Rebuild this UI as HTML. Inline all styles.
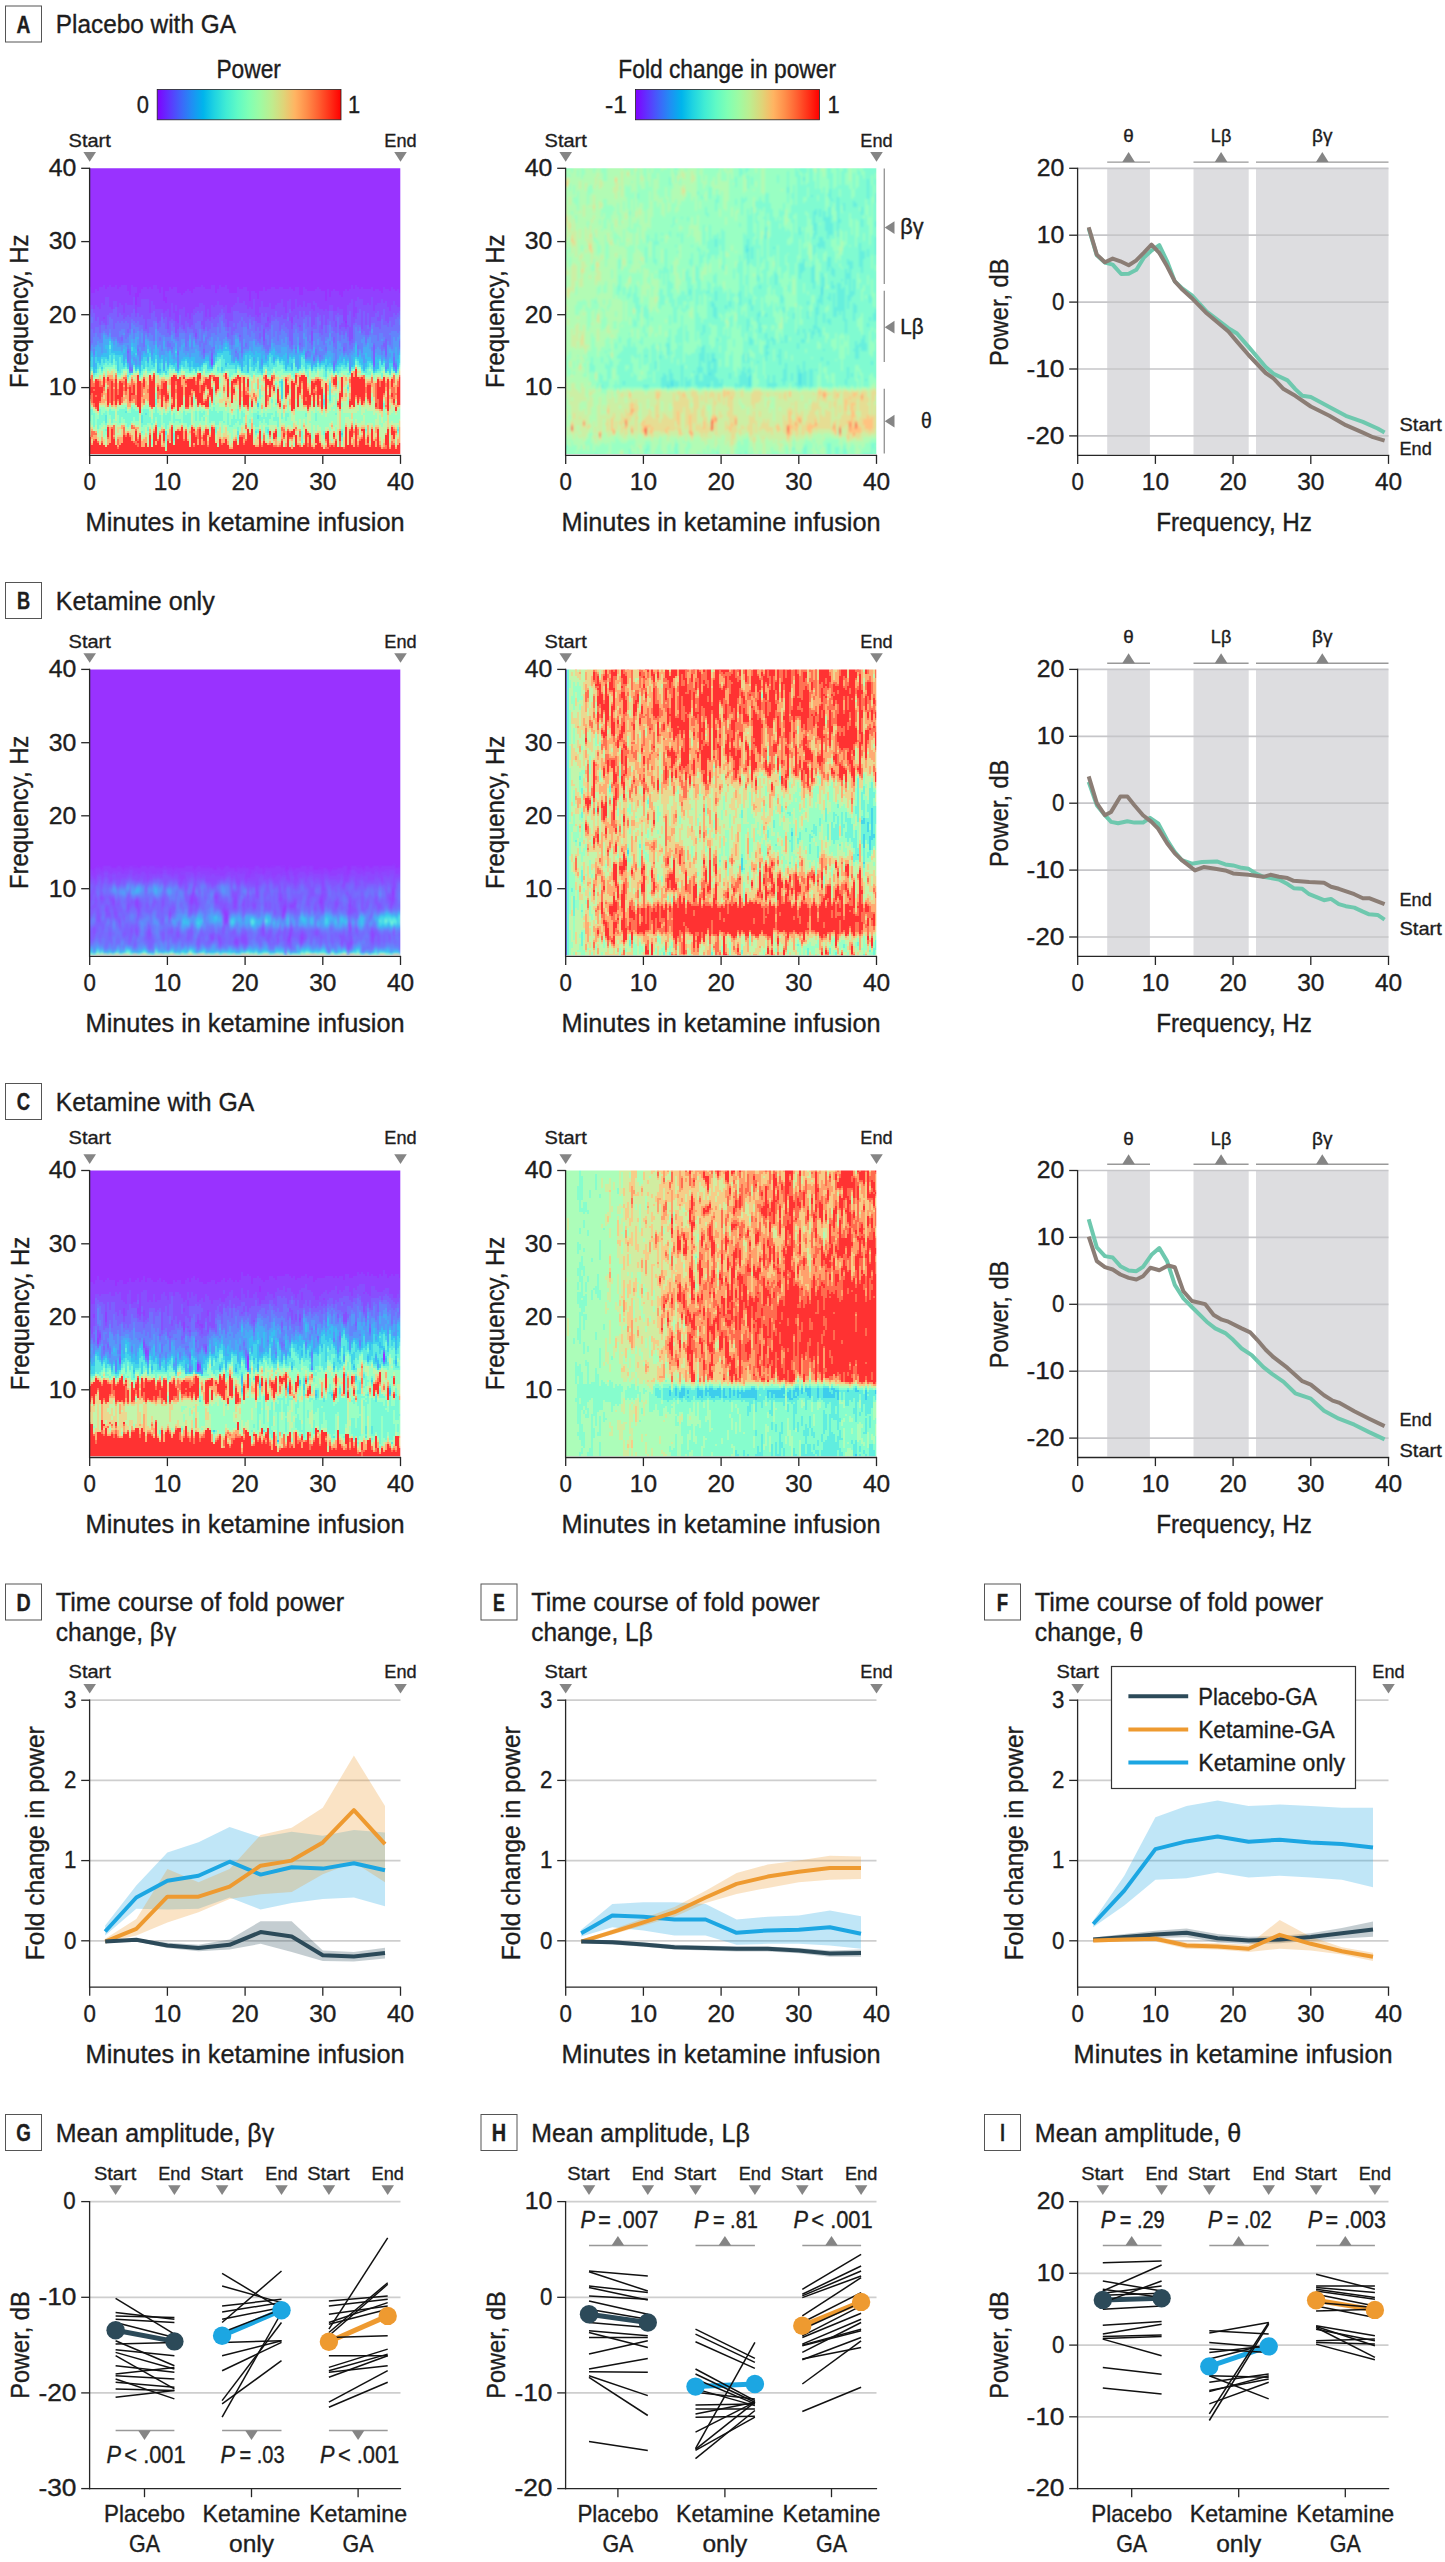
<!DOCTYPE html>
<html><head><meta charset="utf-8"><title>Figure</title>
<style>html,body{margin:0;padding:0;background:#fff}svg{display:block}text{font-family:"Liberation Sans",sans-serif;fill:#1d1d1d;stroke:#1d1d1d;stroke-width:.35px}</style></head>
<body>
<svg width="1445" height="2562" viewBox="0 0 1445 2562">
<defs><linearGradient id="rb" x1="0" x2="1" y1="0" y2="0"><stop offset="0.0000" stop-color="#8000ff"/><stop offset="0.0625" stop-color="#6032fe"/><stop offset="0.1250" stop-color="#4062fa"/><stop offset="0.1875" stop-color="#208ef4"/><stop offset="0.2500" stop-color="#00b4ec"/><stop offset="0.3125" stop-color="#20d4e1"/><stop offset="0.3750" stop-color="#40ecd4"/><stop offset="0.4375" stop-color="#60fac5"/><stop offset="0.5000" stop-color="#80ffb4"/><stop offset="0.5625" stop-color="#9ffaa2"/><stop offset="0.6250" stop-color="#bfec8e"/><stop offset="0.6875" stop-color="#dfd478"/><stop offset="0.7500" stop-color="#ffb462"/><stop offset="0.8125" stop-color="#ff8e4a"/><stop offset="0.8750" stop-color="#ff6232"/><stop offset="0.9375" stop-color="#ff3219"/><stop offset="1.0000" stop-color="#ff0000"/></linearGradient><filter id="hb" x="-2%" y="-2%" width="104%" height="104%"><feGaussianBlur stdDeviation="0.36"/></filter><filter id="hb2" x="-2%" y="-2%" width="104%" height="104%"><feGaussianBlur stdDeviation="0.6"/></filter></defs>
<rect x="157.2" y="89.5" width="183.8" height="30.3" fill="url(#rb)" stroke="#222" stroke-width="0.8"/>
<text x="248.7" y="78.2" font-size="25" text-anchor="middle" textLength="64.5" lengthAdjust="spacingAndGlyphs">Power</text>
<text x="142.8" y="113.4" font-size="24.5" text-anchor="middle" textLength="12.2" lengthAdjust="spacingAndGlyphs">0</text>
<text x="354" y="113.4" font-size="24.5" text-anchor="middle" textLength="12.2" lengthAdjust="spacingAndGlyphs">1</text>
<rect x="635.6" y="89.5" width="183.8" height="30.3" fill="url(#rb)" stroke="#222" stroke-width="0.8"/>
<text x="727.2" y="78.2" font-size="25" text-anchor="middle" textLength="217.7" lengthAdjust="spacingAndGlyphs">Fold change in power</text>
<text x="616" y="113.4" font-size="24.5" text-anchor="middle" textLength="22" lengthAdjust="spacingAndGlyphs">-1</text>
<text x="833.6" y="113.4" font-size="24.5" text-anchor="middle" textLength="12.2" lengthAdjust="spacingAndGlyphs">1</text>
<rect x="5.5" y="6" width="36" height="36" fill="#fff" stroke="#555" stroke-width="1"/>
<text x="23.5" y="32.5" font-size="23" text-anchor="middle" textLength="13.9" lengthAdjust="spacingAndGlyphs" font-weight="bold" stroke="none">A</text>
<text x="55.8" y="33" font-size="25.5" textLength="180.1" lengthAdjust="spacingAndGlyphs">Placebo with GA</text>
<rect x="5.5" y="582.5" width="36" height="36" fill="#fff" stroke="#555" stroke-width="1"/>
<text x="23.5" y="609" font-size="23" text-anchor="middle" textLength="13.2" lengthAdjust="spacingAndGlyphs" font-weight="bold" stroke="none">B</text>
<text x="55.8" y="609.5" font-size="25.5" textLength="158.9" lengthAdjust="spacingAndGlyphs">Ketamine only</text>
<rect x="5.5" y="1083.5" width="36" height="36" fill="#fff" stroke="#555" stroke-width="1"/>
<text x="23.5" y="1110" font-size="23" text-anchor="middle" textLength="13.4" lengthAdjust="spacingAndGlyphs" font-weight="bold" stroke="none">C</text>
<text x="55.8" y="1110.5" font-size="25.5" textLength="198.4" lengthAdjust="spacingAndGlyphs">Ketamine with GA</text>
<clipPath id="c00"><rect x="89.7" y="168.3" width="310.6" height="285.8"/></clipPath>
<g clip-path="url(#c00)"><g transform="translate(89 167.3) scale(2)" fill="none" stroke-width="1.04" shape-rendering="crispEdges" filter="url(#hb)">
<rect x="-2" y="-2" width="160" height="148" stroke="none" fill="#9933ff"/>
<path stroke="#9140ff" d="M0.5 60v9m1-6v6m1-6v8m1-10v8m1-7v8m1-10v11m1-11v8m1-9v10m0 6v1m1-15v4m1-5v5m1-6v11m1-10v11m1-11v7m1-8v8m1-6v9m1-10v8m1-9v10m1-10v14m1-14v9m1-6v7m1-5v5m1-10v10m1-9v5m1-5v3m0 6v4m1-8v5m1-7v7m1-9v5m1-6v6m1-6v6m1-5v5m1-6v13m1-12v6m1-8v10m1-10v12m1-10v10m1-8v8m1-11v11m1-4v6m1-11v3m0 3v4m1-10v9m1-11v15m1-14v7m1-8v13m1-13v9m0 3v5m1-14v15m1-15v8m1-7v7m1-8v7m1-8v13m1-14v12m1-11v14m1-13v10m1-12v10m1-11v10m1-10v10m1-10v8m1-9v9m1-8v9m1-8v14m1-14v10m1-10v14m1-16v10m1-10v11m1-7v6m1-8v6m1-8v10m1-9v9m1-9v10m1-11v10m1-8v12m1-10v10m1-10v7m1-7v6m1-6v5m1-8v5m1-4v7m1-7v7m1-8v7m1-7v9m1-7v9m1-4v3m1-8v9m1-9v4m1-3v11m1-8v9m1-13v8m0 3v1m1-12v5m1-7v10m1-8v8m1-9v9m0 5v2m1-16v7m1-8v11m1-11v11m1-10v8m1-8v7m1-8v8m1-8v6m1-5v9m1-9v12m1-12v6m1-7v6m1-5v11m0 3v3m1-16v9m1-11v6m1-6v10m1-6v5m1-5v6m1-10v7m1-6v9m1-8v6m1-6v6m1-6v9m1-9v5m0 2v3m1-11v7m1-8v10m1-9v10m1-9v9m1-9v10m1-5v4m1-10v11m1-7v4m1-7v7m1-8v11m1-10v10m1-10v8m1-6v7m1-6v6m1-9v15m1-16v16m0 1v2m1-18v7m1-8v7m1-9v7m1-5v14m1-16v8m0 3v3m1-13v5m1-4v5m1-6v6m1-5v8m1-8v8m1-8v7m1-7v8m1-9v5m1-3v10m1-11v8m1-8v7m1-6v6m1-5v3m1-6v8m1-7v6m1-6v9m1-8v10m1-12v9m1-8v6m1-5v7m1-8v9m1-7v7"/>
<path stroke="#8750fe" d="M0.5 69v4m1-4v2m1 0v2m1-4v8m1-7v5m1-4v8m1-11v9m1-8v6m0 1v2m1-13v14m1-14v9m1-4v3m1-2v2m1-6v4m1-4v3m1 0v5m1-7v5m1-4v5m1-1v3m1-8v7m1-6v5m1-5v6m1-6v4m1-8v6m1 2v2m1-5v3m1-3v5m1-9v8m1-8v10m1-10v15m1-15v10m1-3v3m1-9v6m1-4v3m1-1v4m1-4v7m1-7v6m1-6v2m1 0v3m1-4v3m1-4v10m1-6v2m1-9v8m1-3v4m1-8v3m0 5v6m1-5v3m1-10v3m1-3v8m1-9v11m1-6v2m1-4v5m1-2v4m1-7v6m1-8v3m1-4v3m0 10v2m1-15v2m1-4v5m1-5v4m0 5v2m1-10v12m1-6v2m1-6v5m1-1v2m1-8v6m0 21v3m1-29v6m1-7v6m1-8v7m1-5v4m1-4v2m1-1v3m1-4v7m1-3v7m1-7v4m1-7v7m1-8v3m1-4v4m1-7v7m1-4v5m1-5v5m1-6v6m1-4v4m1-2v4m1-5v4m1-3v4m1-9v9m1-1v3m1-2v3m1-8v3m0 1v4m1-11v6m1-3v5m0 6v6m1-17v3m0 5v2m1-10v5m0 2v3m1-12v10m1-7v3m1-3v4m1-6v3m1-4v7m1-7v7m1-9v8m1-4v6m1-3v3m1-9v6m1-7v5m0 2v4m1-5v3m0 3v3m1-10v4m1-9v8m1-4v6m1-7v3m0 7v1m1-10v5m1-8v5m1-2v4m1-6v6m1-6v4m1-1v9m0 2v5m1-20v2m0 3v7m1-11v7m1-5v3m1-2v3m1-3v10m1-9v2m1-3v8m1-7v4m1-7v3m1-3v3m1 0v5m1-5v2m0 3v3m1-10v3m1-2v3m0 5v2m1-10v3m0 4v2m1-3v3m1 0v1m1-12v5m0 5v1m1-12v4m0 8v7m1-21v20m1-11v3m1-11v3m0 3v3m1-11v8m1-7v5m1-5v15m1-12v3m1-3v10m1-11v5m1-4v11m1-15v10m1-3v3m1-6v4m1-5v4m0 3v2m1-9v9m1-11v8m1-6v3m1-4v10m1-7v8m1-6v3m1-6v6m1-8v6m1-4v5m1-4v3m1-3v2"/>
<path stroke="#7c60fe" d="M0.5 73v1m0 13v3m1-19v4m0 3v3m1-8v10m1-6v3m1-5v5m1-1v4m1-6v2m1-1v1m1 0v2m1-7v5m1-6v2m1-2v3m1-5v10m1-11v8m1-3v2m1-4v5m1-4v3m0 8v2m1-11v2m1-3v2m1-3v4m0 3v2m0 9v1m1-18v6m1-8v3m1-5v6m1-2v3m1-5v4m1-2v4m1-5v5m1-3v6m1-1v1m1-6v7m1-7v4m1-7v7m1-8v5m1-2v2m1 1v3m1-4v3m1-7v2m1 1v2m1-3v6m1 0v2m1-6v7m1-8v2m1-1v3m1 3v2m1-4v4m1-11v6m1-1v2m1 0v1m1-5v6m1-5v2m1 0v1m1-2v2m1-7v9m1-10v5m0 3v2m0 2v1m1-14v5m1-4v4m1-5v5m0 2v2m1 0v1m0 9v2m1-16v3m1-4v6m1-5v4m1-6v3m0 15v3m1-20v4m1-5v5m1-6v4m1-5v2m1-4v3m1-1v5m1-2v4m1 0v2m0 1v2m1-8v3m1-3v7m1-12v6m0 2v2m1-10v9m1-9v6m1-5v4m0 7v1m1-12v2m0 2v3m1-7v4m1-4v5m1-3v6m1-7v2m1-1v4m1-4v2m1 0v5m1-4v2m1-2v4m0 1v3m1-13v6m1-4v6m0 6v2m1-16v5m0 2v1m1-1v2m1-4v3m1-7v3m1-2v2m1-5v4m1-1v2m1-2v7m1-8v5m1-3v2m1-2v4m1-7v2m0 2v4m1-10v2m0 4v10m1-6v8m1-14v4m1-5v4m1-2v4m1-8v7m0 1v2m0 6v1m1-14v7m1-10v4m1-2v1m1-1v6m1-8v3m1 5v2m0 5v2m1-10v2m1-6v6m1-8v2m1-1v3m0 2v4m1-2v3m1-10v5m1 0v4m1-7v3m1-7v5m1-5v8m1-3v5m0 3v3m1-14v3m0 3v3m1-10v2m1-1v5m0 2v3m1-10v4m0 2v2m1-2v4m0 6v2m1-11v1m1-8v5m0 1v5m1-13v8m0 7v2m1-3v2m1-10v1m1-3v2m1-5v6m1-8v8m1 2v2m1-11v10m1-3v5m1-11v6m0 2v3m1-4v2m1-7v3m1-3v3m0 11v10m1-26v7m1-8v3m0 2v3m1-3v4m1-7v2m1-5v8m0 9v2m1-13v2m0 7v8m1-16v2m1-5v2m1-2v5m1-7v6m0 19v1m1-25v2m1-3v2m1-3v2"/>
<path stroke="#7072fc" d="M0.5 74v13m0 3v1m1-16v3m0 3v7m1-5v2m1-5v3m1-3v5m1-2v3m1-7v4m1-4v3m1-1v2m1-4v5m1-9v6m1-5v9m1-4v4m1-7v7m1-8v10m1-9v4m0 3v3m1-11v4m0 3v1m0 2v1m1-10v3m1-4v9m1-8v3m0 2v2m0 6v1m0 1v4m1-16v2m0 17v2m1-26v2m0 23v1m1-25v2m0 2v2m1-5v2m1-3v3m0 11v1m1-13v3m1-3v2m1 1v8m1-8v1m1 0v2m1-5v3m1-3v4m1-7v10m1-10v1m1 3v1m1-2v3m0 2v2m1-12v9m1-6v6m1-3v4m1-2v2m0 2v3m1-6v1m0 3v2m1-12v4m0 8v1m1-11v3m1 2v1m1-1v2m0 5v2m1-14v3m1-2v2m1-1v1m1 0v7m1-10v7m1-6v2m1-2v2m1 0v2m1-7v3m0 5v2m1-11v9m1-9v4m0 6v3m1-9v7m1-6v1m0 5v3m0 2v2m1-15v2m0 3v4m1-7v4m1-5v4m1-7v5m0 8v2m1-13v3m0 7v1m1-11v4m1-6v2m1-5v8m1-9v3m1 1v2m1 0v2m1 0v1m0 2v1m1-6v6m1-2v5m1-11v2m0 2v2m1-3v2m0 9v1m1-15v5m1-6v7m0 1v2m1-12v2m0 3v13m1-16v3m1-2v2m0 8v2m1-9v3m1-8v2m0 3v4m1-6v3m1-5v6m1-1v4m1-6v7m1-5v1m0 3v2m1-9v6m1 4v1m1-9v2m0 3v5m1-9v2m0 5v3m1-11v9m1-13v2m1-2v8m1-9v6m1-5v10m1-5v2m1-5v2m1-3v4m1-2v3m1-8v2m0 4v4m1 2v3m1-1v2m1-12v4m1-5v3m0 9v1m1-11v3m1-1v6m0 1v2m1-9v8m1-14v2m1-3v6m0 12v2m1-15v7m0 5v1m1-18v9m0 3v1m1 1v2m1-10v2m0 12v2m1-16v2m0 8v3m1-19v8m1-6v2m0 4v2m0 9v1m1-11v3m1-8v10m1-6v2m0 5v2m1-13v6m1-8v2m1 1v2m0 1v2m1-3v3m0 3v2m0 8v2m1-17v8m1-16v8m1 1v3m1-5v2m1 0v2m0 2v2m0 2v1m1-11v1m0 5v4m1-7v2m1 2v2m1-3v3m1-12v9m1-10v2m1-1v3m0 7v2m1-12v1m1 3v1m1-2v2m1 0v4m1-9v2m0 3v1m1-3v2m1-6v1m1-1v6m0 4v1m0 10v1m1-20v4m1-4v7m1-6v2m1-7v7m0 6v3m1-13v6m0 2v1m0 2v1m1-12v7m0 8v1m1-15v7m1-10v6m0 1v5m1-9v2m1-3v3m0 13v3m0 1v1m1-24v6m0 17v2m1-26v8m1-9v2m0 3v3m0 5v3"/>
<path stroke="#6484fb" d="M0.5 91v1m1-4v1m1-4v5m0 1v3m1-11v6m1-4v2m1-1v2m1-5v5m1-6v1m1 0v1m1 0v1m1-4v2m1 2v1m1-1v2m1-2v1m1 1v1m1-6v3m0 3v1m1-8v3m0 4v1m1-8v2m0 1v4m1-2v2m1-3v3m0 1v2m0 6v1m1-15v1m0 7v9m1-22v3m0 19v1m1-22v2m0 2v3m1-6v3m1-3v2m0 7v2m0 1v2m1-12v8m0 2v5m1-16v2m0 5v4m1-2v2m1-9v1m1 1v1m1-3v4m1-3v3m1 0v2m1-11v3m1 1v8m1-7v2m0 2v2m1-5v8m1-8v1m1 0v5m1-5v2m0 3v2m1-7v3m0 2v1m1-9v2m0 3v3m0 1v2m1-10v3m0 2v2m1-4v1m1 0v5m0 2v6m1-17v7m1-7v3m1-3v3m1 4v2m1-5v5m1-9v1m1-1v8m1-6v1m1 2v1m1-3v3m1-8v6m0 3v2m1-4v6m1-11v1m0 3v1m0 7v1m1-14v3m0 4v4m1-7v7m1-8v2m0 2v3m1-9v2m0 5v1m0 8v1m1-17v7m0 1v2m1-9v3m1-7v5m1-2v4m1-10v12m1-9v6m1-4v3m1 1v1m1-1v3m1 0v2m1-7v5m1-6v1m0 7v1m0 1v2m1-12v2m0 8v3m1-9v1m1 5v2m1-15v6m0 4v1m1-11v8m0 2v1m1-7v7m1-13v3m0 4v2m1-5v5m1-4v3m1 0v3m1-2v1m1 0v1m1-4v4m1 1v1m1-8v3m0 5v2m1-9v5m0 3v1m1-3v1m1-12v7m1-1v3m1-6v7m1-2v2m1-5v5m1-8v5m1-4v6m1-5v2m1 0v4m1 1v1m1 0v1m1-9v6m1-8v9m0 1v2m1-10v2m1 6v1m1-2v2m1-14v5m0 3v4m1-9v4m0 7v1m0 2v1m1-9v5m0 1v2m1-11v3m0 1v3m0 1v3m1-4v1m1-9v4m0 7v1m1-12v8m0 3v1m1-12v3m0 3v5m1-9v5m0 2v2m0 1v2m1-10v4m0 1v4m1-7v5m1-9v2m0 1v2m0 2v1m1-8v1m1-7v4m0 4v2m1-7v1m0 2v2m1 3v3m0 4v1m0 2v1m1-10v7m1-15v4m1 0v1m0 3v1m1-8v6m1-4v2m0 5v1m1-11v5m0 4v1m1-6v7m1-3v2m0 7v1m1-10v1m1-4v2m1-10v7m1-5v7m0 2v3m1-14v2m0 1v8m1-7v2m0 2v5m1-9v1m1 3v1m1-4v1m1-2v1m1-6v2m0 2v5m0 2v2m1-8v4m1-4v7m1-4v3m1-7v8m1-8v3m0 1v2m0 3v2m1-9v2m0 4v1m1 3v1m0 4v1m1-14v2m1-6v1m0 5v1m1-8v9m1-9v3m0 8v2m1-13v5m0 11v1m0 2v1m1-19v2m1-9v3m0 3v2m0 2v1m0 3v1"/>
<path stroke="#5698f8" d="M1.5 89v3m1-2v1m0 3v1m1-6v1m1-3v2m1-1v2m1-2v5m1-10v1m1 0v2m1-1v1m1-3v2m1 1v1m1 0v2m1-3v1m1 1v2m1-1v1m1-1v3m1-9v1m0 4v1m1-1v2m1-2v1m1-5v7m0 11v1m1-22v5m0 13v1m0 2v1m1-17v2m0 7v2m1-14v2m0 11v3m1-17v3m0 1v3m0 5v1m1-5v2m0 5v2m1-16v5m0 4v2m2-10v2m0 3v4m1-7v1m1 0v3m1-3v7m1-5v2m1-10v6m1 3v1m1-2v6m1-3v2m1-9v2m0 4v3m1-4v2m1 0v1m1-2v1m1-8v3m0 6v1m1-8v2m0 2v6m1-9v1m1 12v1m1-11v2m1-6v3m1-3v2m0 2v3m1-1v2m1-2v1m1-9v2m0 4v5m1-4v2m1-7v1m0 3v3m1-4v2m1-2v3m1 0v3m1-1v2m1-12v3m1 6v1m1-1v1m1-7v2m0 3v5m1-12v5m1 3v1m1-7v2m1-4v6m1-4v2m1 0v2m1-5v2m1-3v2m1 0v1m1 1v2m1 0v3m1-5v8m1-13v2m0 4v1m1-6v1m0 4v3m0 3v1m1-9v2m0 2v1m1 2v1m1-10v4m0 1v2m1-2v1m1-1v1m1-5v3m1-3v5m1-6v1m1 2v1m1-2v2m1-1v1m1-1v3m0 4v3m1-8v1m1 1v3m1-3v1m1-3v1m1-6v2m1 0v2m1-1v3m1-3v4m1-4v4m1-7v4m1-2v2m1-5v5m1-1v7m1-5v2m1-1v1m1-4v2m1 2v1m1-9v4m1 3v1m1-1v1m1-10v3m0 4v1m1-6v7m1 3v1m1-5v1m0 3v1m1-4v2m1-7v3m0 3v1m0 3v1m1-3v2m1-11v3m0 5v1m1-5v2m0 5v1m1-7v1m0 4v1m1-3v2m1-9v1m0 5v1m1-8v6m1-9v4m0 2v3m1-5v6m1 0v4m0 4v1m1-4v1m1-12v9m1-8v3m0 1v2m1-4v3m1 1v1m1-2v1m1 0v1m1-2v7m0 1v1m1-10v2m1-4v3m1-6v1m1 6v1m1-13v1m0 8v1m1-6v2m0 5v2m1-10v5m0 4v4m1-9v1m1-4v2m1-3v6m1-10v2m0 5v2m0 2v4m1 4v1m1-10v2m1-3v4m1-3v3m1-8v1m0 7v3m1-5v3m1 1v1m0 1v2m1-11v11m1-10v1m0 2v2m1-4v1m1-7v8m0 7v1m1-14v3m0 7v1m1-13v9m1-10v2m0 5v1"/>
<path stroke="#47abf5" d="M0.5 92v2m1-2v1m1 2v5m1-10v2m1-3v6m1-5v5m1-2v1m1-10v9m1-7v3m0 2v2m1-7v3m1-4v1m1 1v1m1 1v3m1-5v5m1-2v2m1-2v2m1 0v1m1-4v2m0 2v4m1-7v5m1 3v1m2-13v2m0 6v2m0 2v1m1-11v2m0 3v2m0 2v1m1-13v6m0 4v1m0 3v1m1-15v1m0 9v4m1 0v1m1-6v2m1-4v1m1-7v3m0 4v1m1-7v2m0 6v2m1-7v2m1 2v2m1-5v2m1-6v2m1 2v3m1 1v1m2-9v4m0 3v7m1-9v3m1-2v6m2-5v2m1 0v2m1-10v3m0 4v2m1 4v1m1-10v6m1-9v7m1-8v2m0 3v2m1-1v1m1-2v2m1-9v4m0 5v1m1-3v2m1-8v3m0 3v2m1-4v7m1-6v6m1-3v4m1-3v2m1-2v1m1-3v1m1-1v1m1 2v2m2-5v4m1-9v5m1-3v1m1-3v2m1 0v1m1-4v2m1-3v1m1 0v2m1 1v1m1 2v3m1 0v1m1-12v4m0 5v1m1-10v4m1 0v2m0 1v5m1-2v4m1-7v1m1-2v1m1-1v1m1-3v2m1 0v1m1-6v7m0 1v2m1-7v2m1-2v3m1-3v3m1-1v4m0 3v1m1-8v2m1 2v1m2-5v1m1-5v4m1-2v1m0 4v2m1-5v2m1-1v1m1-1v2m1-5v5m1-5v4m1-4v3m1 3v2m1-5v1m1-1v2m1-4v3m1 0v5m1-10v1m0 3v8m1-8v1m2-3v1m1 4v1m1-1v1m1-1v1m1-3v6m1-10v3m0 5v1m1-2v1m1-3v1m3 0v1m1-3v1m1-3v4m1-4v3m1-2v5m3-2v1m1-3v1m1-2v4m2-3v3m1-2v1m2-2v5m1-6v2m1-7v1m2 3v2m1 1v1m1-6v4m0 4v3m1-11v3m0 3v2m1-10v7m1-4v4m1 1v1m1 4v1m1-9v2m1-1v2m0 2v1m1-5v1m1 2v1m1-3v1m1 1v1m0 3v1m1-2v1m1-10v2m0 2v1m1-4v5m2-7v7m0 5v1m1-9v2m1-4v1"/>
<path stroke="#37bff1" d="M0.5 94v3m1-4v2m1 5v3m1-11v3m0 3v3m1-6v2m1-2v3m1-4v1m1-2v2m1-6v2m0 2v2m1-6v7m1-10v1m1 1v5m1-1v1m1-1v2m1-2v2m1-2v2m1-1v1m1-3v2m0 4v2m1-4v1m1 3v1m2-12v2m0 2v2m0 2v2m1-8v3m0 5v1m1-8v2m0 1v1m0 5v1m1-2v1m1 0v2m1-6v1m1-4v2m1-1v1m1-6v2m0 2v2m0 2v1m1-6v1m1 3v1m1-4v5m1-9v5m1 0v9m1-7v2m0 3v1m1-8v2m1 5v1m1-7v2m1 2v1m1-8v6m1-2v3m1-1v1m1-8v1m0 1v2m0 2v1m2 0v1m1-3v1m1-2v2m1-2v1m1-1v3m1-2v4m1-5v2m1-2v5m1-2v2m1-2v2m1-1v1m1-2v1m1-2v1m1-3v2m1-2v2m1 2v1m1 0v1m1-3v1m1-5v1m1-3v1m1-2v2m1-1v1m1-3v2m1-4v2m0 1v1m0 6v1m1-9v2m1 0v2m1 3v1m2-2v1m1 0v1m1 0v1m1 1v2m1-8v3m1-4v1m1-1v9m1-10v2m1-1v2m1-1v1m0 2v2m1-7v6m1-5v2m1-2v8m1-1v1m1-7v4m1-1v1m1-4v3m2-5v2m1-3v4m0 2v1m1-4v2m1-2v1m1 0v2m1-2v1m1-2v3m1-4v8m1-3v1m1-5v1m1 0v1m0 2v3m1-7v1m1 4v1m1-10v3m1 1v6m1-7v1m1-2v2m1 3v1m1-1v1m1-1v1m1 2v1m2-3v2m1-4v1m1 1v1m1-2v1m1-1v1m1-3v1m0 3v1m1-4v3m1-4v3m1 0v1m2 0v1m1-3v2m1-4v3m1-1v1m1-3v1m1 1v2m1-3v1m2 2v1m1-5v4m1-10v6m1 0v1m1-2v4m1-2v3m1 2v1m1-9v3m0 2v2m1-5v2m1-2v2m1 0v1m2-3v6m1-5v2m0 1v2m1-6v1m1 2v1m1-3v1m3-1v2m1-1v1m1 3v1m2-6v4m1-7v1"/>
<path stroke="#43d4ea" d="M0.5 97v3m1-5v5m2-5v3m0 3v2m1-6v1m1 0v1m1-4v1m0 4v1m1-6v3m1-3v1m1 0v1m1-10v2m0 2v3m1-1v5m1-5v1m1 0v3m1-3v8m1-8v1m1-1v4m1 1v1m1-4v2m1 2v1m2-11v2m2 1v1m0 7v1m1-2v1m1 1v1m1-6v2m1-4v6m1-6v2m1-6v2m0 5v2m1-7v2m1 2v2m1-1v2m1-6v2m2 2v3m0 1v1m1-7v2m2-1v1m0 4v1m1-3v1m1-3v1m2 0v1m1-8v1m0 5v4m1 0v1m1-4v2m1-4v2m1-2v3m1-4v1m1 1v2m1 0v2m1-5v3m1 0v1m1-1v2m2-2v2m1-3v1m2-3v1m1-1v4m1-1v1m3-6v2m1-4v2m1-2v2m1-2v1m0 6v2m1-10v4m1-6v1m0 1v6m0 1v1m1-8v6m1-4v5m1-1v1m1-1v1m1-2v4m1-3v1m1 0v1m2-3v3m1-6v5m1 3v1m1-9v2m1-1v5m1-1v3m1-4v2m1-5v2m0 21v2m1-19v1m1-1v2m1-5v1m1-1v1m1-2v3m1-7v2m1-1v4m1 0v1m1-3v1m1-2v1m1 1v1m1-2v1m0 10v9m1-19v2m1 2v1m1-3v1m1-5v5m1-4v2m0 3v1m1-7v1m2 5v1m1-2v1m1-7v1m1-1v2m1 2v3m1-3v1m1-1v1m1 2v1m1-3v1m2-3v1m1 1v1m1-2v1m1-1v1m1-3v3m0 1v2m1-3v1m1-2v2m1-1v1m1 2v1m1-3v2m1-3v1m1-2v2m1-2v1m0 34v1m1-38v3m1 0v1m1-3v1m1 4v1m2-4v1m1-5v1m1 0v1m1 1v1m1 0v2m2-1v1m1-4v3m1-3v1m1 0v1m1 3v1m1-2v1m2-6v1m2 0v1m1 4v1m1-2v1m1-4v5m1-5v2m3 0v1m1-7v4"/>
<path stroke="#5ce9e1" d="M0.5 100v2m1-2v1m1 2v1m2-6v3m1-2v1m1-4v4m0 1v1m1-4v1m1-3v2m0 26v4m1-31v2m1-10v2m0 3v4m1 0v1m1-5v2m1 1v2m1 3v1m1-8v8m1-5v3m1-1v1m1-3v2m0 22v1m1-19v1m1-2v1m2-5v1m3 3v1m1-5v3m0 22v4m2-31v3m0 23v1m1-24v2m1-7v7m1-3v2m1-1v1m1-5v2m2 5v1m1-6v5m1-1v1m1-5v4m0 1v1m0 28v2m1-33v1m1-3v1m1-1v2m1-1v1m3 0v1m1-3v1m1 0v1m1-4v4m1-1v1m1 1v1m1-3v2m2 0v1m1-3v1m2-1v2m1-4v1m1-1v1m1 2v1m1-1v1m1-1v1m1-3v1m1-3v1m1-3v2m0 3v2m1-7v1m1-2v6m0 2v1m1-7v6m1-2v1m1-3v3m1-2v2m1-2v2m1-2v2m1 0v2m1-4v1m0 32v2m1-34v1m1 1v1m1-3v3m1-4v4m2-7v4m1 0v2m2-2v1m0 31v1m1-36v6m0 21v2m1-24v1m1 0v1m1-5v1m1-1v1m1 0v2m0 29v2m1-38v7m1-4v3m1-2v1m1-3v3m1-4v1m1 1v1m0 8v1m1-11v2m0 7v1m1-8v2m2-1v2m1-2v2m2-6v2m1 2v2m3-7v4m1-3v4m1 1v1m1-3v2m1-2v1m2 0v1m1-1v2m1-4v2m1 0v1m1-2v1m1-1v2m0 15v3m1-17v3m1-5v1m1-1v2m0 6v9m1-17v1m3-1v3m1-3v2m1-3v1m0 32v1m0 1v1m1-36v2m1-1v1m1-3v2m0 10v1m2-11v1m1-1v1m1-5v1m1 0v2m1 0v1m1 1v1m1 0v1m1-2v2m1-3v1m1-3v2m1-1v2m2 1v1m1-2v1m1-5v5m1-3v1m1-2v2m3 3v1m1-4v1m3 0v1m0 29v1m1-34v1"/>
<path stroke="#78f9d4" d="M0.5 102v1m0 18v6m1-26v1m0 19v3m1-20v1m0 18v7m1-27v1m1-3v2m0 23v5m1-31v1m0 20v8m1-27v1m0 21v4m1-29v2m0 22v4m1-29v2m0 22v2m0 4v1m0 2v1m1-33v1m1-2v2m0 21v3m1-25v1m0 22v6m1-32v3m0 23v4m1-27v2m1 2v1m0 18v2m1-21v1m0 17v7m1-27v2m0 18v4m1-4v5m1-26v1m0 19v2m0 1v5m1-27v3m0 1v1m0 17v7m1-7v6m1-26v1m0 16v7m1-27v1m0 20v4m1-23v1m0 19v5m1-26v1m0 20v5m1-23v1m1-3v2m0 19v1m0 4v2m0 2v1m1-32v1m0 19v8m1-29v1m0 20v2m0 1v5m1-27v1m0 18v7m0 2v2m1-30v1m0 22v3m1-27v1m0 26v1m1-28v1m0 21v5m1-30v5m0 13v3m0 1v5m1-22v1m0 19v7m1-6v6m1-27v1m1 19v5m1-4v7m0 3v3m1-35v2m0 19v6m1-29v1m0 21v5m1-26v1m1 21v5m0 5v4m1-35v1m0 23v1m1-24v1m0 22v1m1-25v1m0 23v2m1-28v1m1 0v1m0 20v6m1-27v2m0 21v4m1-27v2m0 20v7m1-7v6m1-27v1m1-2v1m1 20v5m1-26v1m1 20v5m1-25v1m0 20v2m1-26v2m0 21v2m0 1v2m1-28v4m1-1v1m1-1v1m0 15v2m0 1v7m1-6v5m1-27v1m0 17v1m0 1v7m1-29v1m0 23v7m0 1v3m1-36v3m0 2v1m0 20v6m1-33v7m0 19v5m1-5v5m1-25v1m0 24v1m1-27v1m1-1v1m0 21v6m1-28v4m0 24v1m1-29v3m0 22v4m1-29v2m0 21v5m1-3v2m1-28v1m0 20v6m0 3v2m0 2v2m1-35v1m0 24v3m1-7v6m1-5v2m1-22v1m1-1v1m1-4v4m0 22v2m1-26v3m1-3v1m0 20v6m1-28v3m0 19v7m0 1v1m0 1v1m1-31v1m0 13v1m0 2v1m0 1v2m0 2v4m0 1v2m1-30v1m0 7v5m0 8v3m1-2v3m1-28v3m0 20v3m1-26v1m0 24v3m0 2v3m1-31v2m0 19v6m0 1v1m0 2v1m1-32v2m0 19v3m1-25v2m0 13v2m0 5v1m1-24v1m0 24v2m1-27v3m0 5v1m0 9v1m0 3v5m1-30v5m0 23v5m1-31v3m0 6v2m1-11v2m0 15v1m0 6v3m1-25v2m1-1v1m0 20v4m1-25v1m0 20v2m1-23v1m1-1v2m1-6v7m1-3v1m1-1v1m1-2v1m1-3v3m0 30v6m1-38v1m1 1v1m0 20v2m1-24v4m1-5v1m1 1v1m1-2v1m1 0v1m0 20v4m1-27v1m1 0v1m1-2v1m1 0v4m0 9v2m0 3v1m0 12v2m1-29v1m1-5v1m1 0v1m0 4v1m0 9v1m1-17v1m1 1v1m1-2v1m0 20v1m1-21v1m1-2v1m1-3v2m0 29v1m0 3v2m1-36v1m1-1v1m1-2v2m0 1v1m0 5v1m0 1v1m1-9v1m1-3v1m2-5v2m1 0v1m2 2v1m2 0v1m0 27v1m1-31v3m1-4v1m0 1v2m1-3v1m1 1v1m2-2v1m1-1v1m1-3v2m0 1v2m1-5v1m0 17v2m2-18v1m2-2v1m1 0v1m1 0v1m1-2v1m0 27v1m0 1v1m1-34v1"/>
<path stroke="#99ffc3" d="M0.5 103v1m0 15v2m0 6v1m1-8v1m0 3v5m1-24v1m0 16v1m0 7v1m1-27v1m0 18v6m1-26v2m0 19v2m0 5v2m1-32v3m0 16v1m0 8v2m1-28v1m0 16v4m0 4v2m1-29v1m0 18v3m0 4v2m0 2v4m1-35v5m0 16v1m0 7v2m0 1v2m1-34v1m0 21v6m1-28v2m0 17v2m0 3v2m1-26v1m0 20v1m0 6v1m1-30v2m0 20v1m0 4v2m1-27v1m0 25v1m1-24v1m0 15v2m0 2v5m1-25v1m0 15v1m0 7v1m1-26v1m0 15v2m0 4v3m1-27v1m0 17v2m0 5v2m1-27v1m0 17v1m0 8v2m1-24v1m0 15v1m0 7v1m1-27v1m0 16v2m0 6v1m1-11v1m0 7v1m1-27v2m0 16v2m0 4v3m1-8v2m0 5v2m1-8v1m0 5v2m1-24v1m1-2v1m0 16v2m0 7v2m0 1v1m1-32v1m0 17v1m0 8v5m1-33v1m0 17v2m0 8v1m1-27v1m0 15v2m0 7v2m0 2v2m1-12v3m0 3v1m1-27v2m0 22v2m0 1v2m0 5v3m1-18v2m0 5v1m1-26v1m0 9v3m0 3v1m0 5v2m1-6v2m0 7v4m1-30v1m0 17v2m0 6v1m1-27v1m0 19v5m1-26v1m0 17v2m0 5v2m1-26v1m0 18v1m0 7v1m0 5v3m1-36v1m0 17v1m0 6v2m1-30v2m0 17v2m0 5v1m1-26v1m0 21v4m1-27v2m0 19v1m0 5v5m0 4v1m1-17v5m0 1v2m1-5v2m0 1v2m1-26v1m0 18v4m0 2v1m1-28v1m0 21v5m1-8v2m0 6v2m1-27v2m0 17v2m0 4v1m1-26v1m0 18v1m0 7v1m1-28v1m0 17v2m0 6v1m1-27v1m1-2v2m0 11v3m0 4v6m1-25v1m0 15v3m0 5v3m1-8v7m1-27v1m0 17v2m0 5v1m1-25v1m0 17v2m0 2v4m1-28v1m0 19v1m0 2v1m0 2v2m1-26v1m0 18v3m1-22v1m0 20v5m1-12v1m0 2v1m0 7v4m1-30v1m0 17v2m0 5v1m1-27v2m0 7v8m0 1v1m0 7v1m1-29v5m0 15v3m0 7v1m0 3v1m1-31v1m0 14v5m0 6v2m1-25v2m0 5v2m0 5v2m0 5v1m1-25v1m0 16v2m0 5v6m1-13v7m0 1v1m1-7v7m1-27v1m0 17v3m0 6v3m1-27v2m0 1v1m0 14v6m0 1v3m1-29v1m0 19v2m0 4v6m1-33v1m0 18v2m0 5v2m1-28v1m0 17v5m0 2v3m1-30v1m0 17v2m0 6v3m0 6v1m1-35v1m0 20v3m0 3v3m1-29v1m0 15v3m0 6v1m1-26v1m0 17v2m0 2v4m2-5v6m1-26v1m0 2v5m0 6v1m0 1v6m0 2v3m1-26v1m0 17v2m1-22v1m0 16v3m0 6v1m1-26v1m0 3v4m0 9v2m0 7v1m0 3v1m1-31v1m0 11v1m0 4v1m0 8v1m1-25v2m0 1v2m0 5v8m0 3v2m1-25v1m0 9v1m0 8v2m0 3v8m1-16v3m0 3v3m1-7v3m0 3v2m0 3v1m1-30v1m0 16v2m0 6v1m0 4v2m1-32v1m0 16v2m0 3v3m1-14v1m0 2v5m0 1v5m0 6v1m1-35v1m0 18v5m0 2v2m1-26v1m0 3v1m0 1v4m0 3v2m0 1v3m0 5v2m1-27v2m0 19v2m0 5v5m1-33v3m0 1v1m0 3v2m0 19v4m1-34v3m0 13v6m0 3v2m1-25v1m0 21v3m1-25v1m0 18v1m0 4v3m1-27v1m0 13v6m0 2v4m1-7v7m1-25v1m0 22v3m1-25v1m0 32v1m1-18v6m1-5v7m1-7v4m1-24v1m0 19v10m0 6v1m1-38v1m0 20v4m1-23v1m0 18v1m0 2v4m1-24v1m1-5v1m0 4v2m0 19v1m1-25v2m0 17v14m1-34v3m0 18v6m1-26v1m0 15v4m0 4v5m1-31v1m0 20v7m1-27v3m0 18v7m1-29v4m0 19v10m1-29v1m0 7v1m0 6v1m0 1v10m0 2v2m1-30v1m0 18v5m1-28v3m0 18v7m1-27v1m0 2v1m0 11v1m0 3v6m0 2v2m1-30v1m0 11v4m0 2v7m0 9v1m1-23v1m0 4v2m0 1v8m1-17v10m0 1v5m0 1v2m1-25v4m1-8v2m1-3v1m0 15v2m0 1v10m0 6v2m1-37v2m0 19v9m1-30v2m0 19v2m1-23v1m0 1v1m0 3v1m0 3v1m0 2v4m0 4v2m1-2v3m2-25v1m0 21v6m1-6v3m1-26v1m0 21v6m1-28v1m0 18v9m1-25v1m0 20v3m1-24v1m0 19v1m1-20v1m0 16v8m0 1v1m0 1v1m1-29v1m0 17v6m1-27v1m0 2v1m0 17v6m1-26v1m0 12v2m0 5v6m1-24v2m0 18v6m1-27v1m0 19v3m1-23v1m1-1v1m0 20v5m1-27v1m0 2v1m0 22v2m1-29v1m0 15v1m0 2v8m1-25v1m0 19v4m1-24v1m1 0v1m0 19v4m1-26v1m0 20v4m1-5v6m1-4v4m1-25v1m0 18v6m0 1v1m0 3v1m1-34v1m0 20v5"/>
<path stroke="#c2f5ab" d="M0.5 118v1m0 9v2m1-28v1m0 26v1m1-24v1m0 14v1m0 9v1m1-27v1m0 16v1m0 6v3m1-27v1m0 17v1m0 9v2m1-16v1m0 11v6m1-33v2m0 13v1m0 10v2m1-30v1m0 16v1m0 9v2m0 4v1m1-27v2m0 9v1m0 13v5m1-38v1m0 18v2m0 6v1m1-27v1m0 23v3m1-28v1m0 18v1m1-20v4m0 15v1m0 7v1m1-27v1m0 18v6m0 1v9m1-32v1m0 13v1m0 9v1m0 3v1m1-29v1m0 13v1m0 9v1m0 1v3m1-30v1m0 23v1m1-27v2m0 14v1m0 9v1m1-27v1m0 15v1m0 11v2m1-25v1m0 13v1m0 9v1m1-27v2m0 23v2m1-14v1m1-16v1m0 1v1m0 12v1m0 9v1m1-26v1m0 25v1m1-28v1m0 26v1m1-24v1m0 17v8m1-27v1m0 14v1m0 13v2m1-33v1m0 15v1m0 14v1m1-33v3m0 12v2m0 11v3m1-29v1m0 13v1m0 15v5m1-36v1m0 16v2m0 7v1m1-9v5m0 5v5m0 3v1m1-38v1m0 17v1m0 8v1m1-26v4m0 2v3m0 14v1m1-8v1m0 13v1m1-30v1m0 14v2m0 9v1m1-11v3m0 5v1m1-26v1m0 15v1m0 9v1m1-26v1m0 16v1m0 17v2m1-37v1m0 3v2m0 9v2m0 9v2m1-30v2m0 8v7m0 8v2m1-27v1m0 18v2m0 4v1m1-8v1m0 16v1m1-19v1m0 8v2m1-27v2m0 16v2m0 5v1m1-9v1m0 7v1m1-28v2m0 16v3m0 5v1m1-27v2m0 11v5m0 10v1m1-10v1m0 7v1m1-26v1m0 16v1m0 9v2m1-29v1m0 15v1m0 9v1m0 3v5m1-35v1m0 16v8m1-15v1m0 3v4m0 6v2m1-26v1m0 12v2m0 11v1m1-29v1m0 17v2m0 7v1m1-11v1m0 8v1m1-9v1m0 8v3m1-30v2m0 16v1m0 8v2m1-27v1m0 7v2m0 7v1m0 3v4m1-25v1m0 16v3m0 5v1m1-27v1m0 12v1m0 15v1m1-26v1m0 11v1m0 8v1m1-26v1m0 5v1m0 18v1m1-14v4m0 15v3m1-24v5m0 13v1m0 6v2m1-37v3m0 2v2m0 2v1m0 2v1m0 2v2m0 8v2m1-26v12m0 2v2m0 13v2m1-18v3m0 9v4m1-31v1m0 9v3m0 5v2m0 7v1m1-27v1m0 14v2m0 12v2m1-27v1m0 1v1m0 3v4m0 3v3m0 10v6m1-34v1m0 12v3m0 2v1m0 12v2m1-34v1m0 11v6m0 9v4m1-31v1m0 5v2m0 5v4m0 10v3m1-32v2m0 7v8m0 18v1m1-35v2m0 17v1m0 9v1m1-16v2m0 10v1m1-10v1m0 8v4m1-29v1m0 1v2m0 13v3m0 8v1m1-29v1m0 17v2m1-19v2m0 5v1m0 3v2m0 1v1m0 11v1m1-26v1m0 14v2m0 2v1m1-18v3m0 6v3m0 10v8m1-33v3m0 4v1m0 6v2m0 14v1m1-21v1m0 17v1m1-30v2m0 2v1m0 20v2m1-26v1m0 1v2m0 3v2m0 1v3m0 3v2m0 13v1m1-34v1m0 4v2m0 2v8m0 9v3m1-31v1m0 19v1m0 12v3m1-26v1m0 8v1m0 15v2m1-33v1m0 10v5m0 8v2m1-28v1m0 25v6m0 1v2m1-36v1m0 11v6m0 9v3m1-28v1m0 1v1m0 6v3m0 13v1m1-26v1m0 2v2m0 11v3m0 12v2m1-32v1m0 6v2m0 7v10m0 4v2m1-33v2m0 22v1m1-25v1m0 2v11m0 5v2m0 3v1m0 8v3m1-36v1m0 16v1m0 8v2m1-17v2m0 12v1m1-27v1m0 2v1m0 4v4m0 5v2m0 7v2m0 6v3m1-35v1m0 17v4m0 3v1m1-25v1m0 17v4m0 8v2m0 1v1m1-24v5m0 6v2m1-8v1m0 7v2m0 1v2m1-32v2m0 11v7m0 4v5m1-13v4m1-20v1m0 18v1m0 4v2m0 3v3m0 2v2m1-18v2m0 7v1m1-24v2m0 15v9m1-30v4m0 2v1m0 12v6m0 1v5m1-28v1m0 11v5m0 14v2m1-33v1m0 15v2m0 6v7m1-32v1m0 12v2m0 13v1m1-31v3m0 15v2m0 7v3m1-11v2m0 7v2m1-27v1m0 17v1m0 10v4m1-32v1m0 4v2m0 8v1m0 14v3m1-16v2m0 5v2m1-27v1m0 8v2m0 2v5m0 7v1m1-27v2m0 13v3m0 6v2m0 2v4m1-33v1m0 6v1m0 2v1m0 4v2m0 7v1m0 3v5m0 1v1m1-34v1m0 7v2m0 1v4m0 2v1m0 8v2m1-29v1m0 8v1m0 16v1m0 2v2m1-30v3m0 4v5m0 5v10m0 3v6m2-37v2m0 12v1m0 2v1m0 18v1m1-30v3m0 4v6m0 9v3m1-31v1m0 4v2m0 6v6m0 2v3m1-23v1m0 1v1m0 5v2m0 4v4m0 2v5m1-26v1m0 16v2m0 3v4m1-9v2m0 3v1m1-6v2m0 6v2m1-32v1m0 17v6m0 3v2m1-27v1m0 1v1m0 15v3m0 6v2m1-29v1m0 1v1m0 14v1m0 9v2m0 1v3m1-14v4m0 3v2m1-9v3m0 1v5m1-24v1m0 10v5m0 8v1m0 3v2m1-30v1m0 13v3m0 6v1m1-24v1m0 14v2m0 6v5m0 4v1m1-35v1m0 9v2m0 2v5m0 6v1m1-23v1m0 10v7m0 6v2m1-28v3m0 15v1m0 3v3m1-25v1m0 17v7m1-25v1m0 18v1m0 5v6m1-10v3m0 2v9m1-37v2m0 12v1m0 11v8m1-32v1m0 16v2m0 4v6m1-29v1m1 0v1m0 12v1m0 2v3m0 4v3m0 2v5m1-35v2m0 14v4m0 4v2m1-9v2m0 6v1m1-25v2m0 11v1m0 5v1m0 4v2m0 5v4m1-35v1m0 15v2m0 6v1m0 5v1m1-34v1m0 18v1m0 5v1"/>
<path stroke="#ebd890" d="M0.5 104v1m0 12v1m0 12v4m1-31v1m0 15v1m0 10v1m0 5v2m1-18v1m1 0v1m1 0v1m0 12v2m1-33v2m0 12v1m0 18v2m1-33v1m0 11v1m0 13v3m1-32v1m0 10v2m0 2v1m0 17v3m1-34v1m0 2v1m0 2v2m0 4v3m0 19v1m1-38v2m1-1v1m0 14v1m0 10v1m1-28v2m0 25v1m1-25v1m0 13v1m1 0v1m0 16v2m1-33v2m0 10v1m0 11v3m0 1v1m1-5v1m0 3v1m1-30v1m0 12v1m0 12v4m1-31v1m0 9v1m0 2v1m1-15v1m0 12v2m0 14v1m1-13v1m1-14v1m0 12v1m0 11v1m1-29v1m0 23v1m0 2v3m1-30v1m0 1v1m0 24v6m1-33v4m0 11v1m1-17v1m0 16v1m0 10v4m1-12v1m0 8v1m1-27v1m0 11v2m0 16v1m1-33v1m0 8v1m0 21v1m1-31v2m0 9v1m0 16v2m1-30v4m0 8v1m0 21v1m1-10v1m1-27v1m1 25v1m1-23v2m0 18v1m1-25v4m0 10v2m0 15v1m1-30v3m0 7v4m1-15v1m0 14v1m0 9v1m0 2v6m1-34v1m0 11v3m1-14v1m0 14v1m1-16v3m0 2v1m0 6v2m0 13v1m1-29v1m0 3v4m0 17v1m0 6v1m1-34v1m1-2v1m1-1v1m0 12v4m0 11v1m1-2v1m1-27v1m0 15v1m0 9v1m1-12v1m1-6v1m0 16v1m1-27v1m0 24v1m1-26v1m0 27v3m1-17v1m0 11v1m0 1v1m0 5v1m1-20v1m1-17v1m0 8v1m1 2v1m0 14v1m2-3v1m1-26v4m0 24v2m1-30v1m0 9v2m0 3v1m0 11v1m1-21v1m0 2v2m0 13v1m1-18v1m0 17v1m0 4v2m1-22v1m0 17v1m1-31v1m0 2v1m0 1v2m0 8v1m1-11v1m0 20v1m1-26v1m0 9v1m0 22v1m1-34v1m0 7v1m0 19v6m1-28v2m0 4v2m0 12v5m1-19v2m0 17v1m1-33v1m0 1v4m0 4v4m0 16v2m1-28v5m0 3v2m0 13v5m1-31v1m0 11v2m0 16v3m1-27v3m0 4v3m0 19v1m1-18v1m0 15v2m1-35v1m0 8v2m0 19v1m1-27v1m0 2v5m0 17v1m1-26v2m0 27v1m1-18v1m0 11v1m1-30v1m0 3v4m0 3v2m0 13v3m1-29v1m1 0v1m0 2v2m0 10v1m0 3v4m0 3v1m0 1v3m1-6v1m1-18v1m0 1v1m0 16v1m1-26v8m0 5v1m0 5v2m1-24v4m0 3v2m0 3v1m0 21v1m1-26v1m0 4v1m0 17v3m1-34v1m0 5v4m0 19v1m0 1v3m2-33v1m0 2v3m0 6v1m0 18v1m1-31v1m0 2v2m0 20v1m1-31v2m0 16v1m0 16v1m1-33v1m0 4v1m0 1v2m0 5v1m1-5v1m0 15v1m0 4v1m1-26v4m1-12v1m0 3v2m0 4v1m0 23v2m1-34v1m0 24v1m1-26v2m0 2v1m0 9v1m0 17v2m1-25v2m0 21v1m1-9v1m1-25v2m0 11v1m0 2v2m0 6v1m0 6v1m1-21v3m0 1v1m0 13v4m1-34v1m0 2v1m0 6v1m0 15v1m1-27v2m0 1v4m0 4v1m0 3v1m0 11v1m0 4v1m1-15v1m0 8v1m0 5v2m1-17v2m0 4v3m0 4v1m1-27v7m0 13v1m0 2v2m1-31v1m0 1v4m0 11v1m0 10v1m0 2v4m1-24v1m0 22v1m1-35v1m0 7v3m0 2v2m0 21v1m1-37v1m0 16v1m0 7v1m0 1v1m0 3v2m1-32v1m0 25v1m1-23v2m0 12v1m1-14v4m0 7v1m1-6v2m0 21v1m1-19v1m0 15v4m1-26v3m1 15v1m1-28v1m0 10v1m0 3v1m0 11v5m1-30v3m0 12v1m0 15v1m1-32v4m0 28v2m1-34v1m0 14v1m0 15v1m1-33v3m0 3v2m0 2v2m0 13v1m1 4v2m1-34v1m0 3v2m0 1v2m0 15v1m0 1v1m1-21v2m0 24v2m1-27v1m0 22v2m1-20v1m0 3v1m0 10v3m1-29v7m0 10v9m1-15v1m1-13v6m0 3v4m0 18v5m1-33v2m0 2v2m0 2v2m0 11v1m1-23v1m0 23v9m1-29v3m0 17v1m1-29v1m0 16v2m0 2v3m0 1v1m0 8v2m1-18v1m0 13v2m1-20v1m0 11v1m1-27v1m0 1v1m0 31v1m1-35v1m0 1v1m0 12v1m0 12v1m0 3v1m1-16v1m0 9v1m0 3v1m1-15v1m0 9v1m1-24v2m0 7v1m0 19v1m1-30v1m0 11v1m1-13v1m0 12v1m0 13v4m0 1v1m1-35v1m0 5v3m0 16v1m1-23v1m0 7v2m0 15v4m1-29v1m0 13v1m0 7v1m0 3v2m1-14v1m0 7v1m1-25v1m0 16v1m0 12v2m1-15v3m0 14v1m1-36v1m0 10v1m0 20v2m1-33v2m0 5v3m1 9v6m1-24v1m0 4v3m0 2v2m0 1v2m0 10v2m0 5v2m1-22v1m1-16v1m0 15v1m0 9v1m1-24v3m0 7v1m0 1v1m0 3v1m0 7v1m0 3v1m0 4v1m1-35v1m0 29v1m1-34v2m0 15v1m0 7v3"/>
<path stroke="#ffab72" d="M0.5 105v1m0 10v1m0 17v1m1-17v1m0 12v1m0 3v1m0 2v1m1-32v1m0 26v2m1-4v1m0 1v2m2-30v1m1 0v2m0 6v3m0 17v2m1-33v1m0 7v2m0 2v2m1-12v2m0 5v4m1-13v1m0 4v1m0 19v1m0 6v3m1-35v2m0 24v8m1-34v2m0 13v1m1-14v2m0 2v1m0 6v2m0 15v1m1-32v1m0 15v1m1-12v3m0 6v1m0 17v1m0 3v1m1-34v1m0 28v4m1-33v1m0 22v2m0 4v3m1-32v1m0 2v1m0 2v2m0 1v2m0 12v1m1-26v1m0 9v2m0 17v1m1-26v2m0 1v9m0 12v1m1-25v1m0 9v2m0 13v1m1-29v1m0 11v1m0 16v3m1-30v1m0 8v2m0 11v1m1-22v6m0 16v1m1-1v1m0 4v1m2-29v1m0 7v3m0 19v3m1-29v2m0 1v2m0 2v1m0 17v4m1-33v9m0 19v3m1-29v2m0 2v4m1 14v2m1-28v1m1 25v1m1 5v2m1-31v1m0 7v2m1-9v2m0 3v2m0 16v1m1-27v1m0 24v1m0 7v1m1-34v1m0 8v2m0 21v2m1-22v3m1-9v1m0 4v1m0 16v2m1-30v3m0 22v6m1-21v2m0 3v1m1-2v1m1-12v2m0 2v3m1 19v1m1-5v1m1-28v5m0 20v1m1-24v8m0 18v4m1-27v1m1 26v1m1-32v1m0 9v4m0 13v1m1-28v1m0 6v1m0 16v1m1-18v1m0 17v1m0 7v1m1-34v2m0 25v2m1-4v1m0 5v3m1-32v2m0 9v1m1-11v1m0 10v1m0 14v1m0 1v3m1-34v2m0 6v1m0 2v1m0 15v1m1-23v1m0 9v1m0 9v1m1-26v1m0 5v1m0 1v1m0 6v1m0 13v1m0 2v2m1-5v1m1-30v1m0 23v1m1-23v1m1 5v1m1-3v1m1 23v1m1 0v2m1-34v1m0 4v1m0 2v1m0 22v3m1-32v1m0 10v1m0 1v1m0 15v1m1-31v1m0 9v1m0 21v2m1 1v1m1-35v1m0 14v1m0 18v1m1-32v1m0 26v1m1-2v1m1-29v2m1 11v1m1-16v3m0 4v3m0 18v1m1-1v1m0 2v2m1-28v2m0 7v1m0 8v1m1-24v1m0 6v1m0 8v1m1-8v1m1 0v1m0 12v3m1-16v1m1-2v1m0 2v1m0 21v1m1-34v5m0 24v1m0 3v1m1-9v1m1-13v2m0 17v1m1-35v1m0 1v1m0 26v1m2-25v1m0 7v2m0 19v1m1-33v1m0 28v1m0 1v1m1-28v1m1-5v1m0 5v1m0 19v1m0 3v1m1-1v3m1-29v1m0 7v1m0 20v1m1-24v1m0 3v1m0 17v1m1-7v4m1-6v1m1-12v1m0 12v2m0 4v2m1-35v2m0 1v1m1 7v3m1-13v1m0 29v1m0 2v2m1-34v1m0 13v1m0 12v1m1-32v1m0 27v1m1-28v1m0 4v1m0 28v1m1-35v1m0 26v1m0 3v2m0 1v1m1-31v3m0 3v2m1 3v1m0 9v1m0 8v1m1-20v1m1-10v1m0 21v1m0 2v3m1-25v1m1-8v1m0 7v1m0 24v1m1-34v1m1-2v1m0 4v2m0 21v1m0 4v1m1-34v1m1 8v2m0 1v3m0 17v1m1-32v1m0 14v1m0 17v1m2-19v1m0 10v1m0 4v1m0 1v1m1-31v3m1 26v1m1-34v3m0 21v1m0 8v1m1-30v1m0 22v1m0 5v1m1-29v1m2 1v1m0 8v1m0 9v1m1-17v1m2-11v2m0 6v2m0 14v1m2-25v1m0 2v2m0 3v3m0 4v1m1 7v1m0 6v1m0 2v1m1-37v3m0 26v1m0 1v1m0 2v4m1-40v1m0 14v1m1 14v1m0 3v2m0 1v2m1-23v1m0 18v1m1-32v1m0 25v1m0 1v1m0 1v1m1-17v1m0 11v1m1-23v2m0 3v2m0 21v3m1-32v1m0 9v1m0 11v5m1-27v1m0 31v1m1-32v2m0 20v1m1-23v7m0 21v1m1-7v3m0 2v1m0 1v3m1-35v1m0 24v1m1-25v1m0 14v1m0 15v2m1-33v1m0 33v1m1-27v1m0 23v2m1-33v1m0 2v2m0 3v4m0 1v1m0 12v1m1-29v1m0 16v2m0 6v1m1-24v4m0 3v2m0 24v1m1-36v1m0 10v2m0 11v1m0 4v3m1-29v2m0 20v1m0 5v2m1-29v4m0 1v2m0 3v1m0 11v1m0 1v1m0 6v1m1-35v1m0 12v1m0 16v3m1-9v8"/>
<path stroke="#ff7253" d="M0.5 114v2m1-12v6m0 3v5m0 14v3m1-27v2m0 1v1m0 6v2m0 12v2m0 2v1m1-23v1m0 5v1m0 12v1m1-28v1m0 30v1m1-31v3m0 7v1m1-9v1m0 3v2m0 22v1m1-28v2m2-5v2m0 1v1m0 8v1m0 15v1m1-30v12m1-12v1m0 23v1m1-23v2m0 1v6m0 12v5m0 1v1m1-32v2m1 5v3m0 2v1m0 19v3m0 1v1m2-34v1m0 7v3m1-13v1m0 1v2m0 1v2m0 18v4m1-29v1m0 6v2m0 20v1m1-25v1m1-2v1m0 7v1m0 16v1m1-29v7m0 1v3m0 12v2m1-23v1m0 5v2m0 14v1m0 6v1m1-24v5m0 12v1m0 5v2m1-3v1m0 1v2m1-7v1m1-26v7m1-10v1m0 4v1m0 5v2m2-7v2m1 6v1m0 13v1m1-28v1m0 13v1m1-18v1m0 28v1m1-4v1m1-21v1m0 2v4m0 20v1m1-26v3m0 19v1m1-27v4m0 21v1m1-26v1m0 6v1m0 16v1m0 5v1m1-21v1m1-5v1m0 2v1m0 19v1m2-22v1m0 2v1m0 10v1m2-26v1m0 2v2m0 2v2m1 18v1m0 2v1m2-26v1m1-6v1m0 31v1m1-31v1m0 1v1m0 11v1m0 10v1m1-12v1m1-7v1m1-4v1m0 1v2m0 4v1m1 12v1m0 6v1m1-33v2m0 6v1m0 18v1m1-32v1m0 15v1m0 11v5m1-30v1m0 2v4m0 17v1m1 4v1m1-29v1m0 4v1m0 4v1m0 15v1m0 3v2m1-34v1m0 3v1m0 6v1m1-3v1m0 24v1m1-26v1m1-11v1m0 5v1m0 6v1m1-14v1m0 25v1m1-19v1m3 25v1m1-29v2m1 6v1m4-11v1m0 1v1m0 2v1m1-9v1m0 2v1m0 27v1m1-31v1m1 12v1m0 14v1m1-1v1m1-16v1m0 14v2m0 2v1m1-27v2m0 15v2m0 5v1m1-27v2m0 1v1m0 6v1m1 12v1m1-18v1m1-4v2m1 0v2m3 22v1m1-35v1m0 28v3m2-23v3m1 17v1m0 3v1m1-35v1m0 4v1m1-6v2m0 3v1m0 29v1m1-9v1m0 3v1m0 3v1m2-23v1m0 21v1m1-10v2m0 4v1m1-18v2m0 10v2m0 2v1m1-31v1m0 9v1m1-3v1m0 17v1m1 0v1m0 2v1m1-1v1m2-28v1m0 21v1m2-18v1m0 18v3m0 4v1m1-33v1m2 7v2m1-6v1m0 9v1m0 12v1m0 3v2m1-21v1m0 13v1m2-27v1m0 3v2m0 27v1m1-35v1m0 2v1m0 2v2m1 5v1m0 13v1m1-28v1m1 3v1m2 25v1m0 3v1m1-1v1m1-2v1m2-35v1m0 29v1m0 3v1m1-36v1m0 4v1m0 26v1m1-20v1m0 1v1m1 17v3m2 0v1m3-35v2m0 8v1m0 14v1m1-3v1m1 2v1m1-19v1m0 14v1m1-12v1m0 12v3m0 5v1m1-35v1m0 9v1m0 20v1m1-2v1m1-32v2m0 11v1m1-8v3m1-5v1m0 7v1m0 17v1m0 3v1m1-31v1m0 9v1m1-14v3m2 0v10m0 2v1m0 15v1m1-21v5m1-14v3m0 29v1m1-19v1m1-9v1m0 26v1m1-33v2m0 9v1m0 19v2m3-31v3m0 2v1m0 21v2m1-35v4m0 2v6m0 2v1m0 12v1m0 6v1m1-26v1m0 18v1m1-26v3m1-6v1"/>
<path stroke="#ff3333" d="M0.5 106v8m0 21v9m1-34v3m0 26v5m1-34v1m0 1v6m0 19v7m1-38v8m0 1v5m0 16v8m1-37v15m0 16v6m1-34v7m0 22v5m1-34v3m0 25v6m1-39v5m0 29v5m1-4v4m1-39v2m0 4v8m0 11v5m0 4v5m1-6v6m1-37v12m0 12v13m1-8v8m1-38v13m0 20v5m1-30v2m0 25v3m1-37v12m0 20v5m1-36v7m0 23v6m1-10v10m1-38v6m0 23v9m1-11v11m1-34v7m0 18v9m1-31v1m0 23v7m1-35v5m0 24v6m1-12v5m0 2v5m1-40v16m0 17v1m0 2v4m1-37v16m0 11v10m1-4v4m1-38v4m0 30v4m1-6v6m1-4v4m1-40v15m0 15v10m1-37v13m0 20v4m1-40v16m0 13v11m1-14v7m0 2v5m1-34v2m0 25v7m1-10v10m1-33v9m0 20v4m1-36v6m0 18v5m0 3v4m1-37v10m0 25v2m1-30v2m0 21v7m1-6v6m1-39v10m0 4v2m0 9v14m1-40v16m0 19v5m1-39v2m0 25v12m1-38v16m0 10v2m0 2v8m1-39v15m0 12v12m1-34v9m0 11v14m1-39v1m0 31v7m1-37v1m0 2v10m0 12v12m1-38v14m0 17v7m1-38v8m0 26v4m1-38v5m0 4v4m0 11v14m1-39v7m0 19v1m0 1v5m0 2v4m1-35v6m0 20v9m1-40v15m0 20v5m1-41v3m0 7v5m0 13v13m1-35v10m0 20v5m1-36v4m0 6v1m0 15v3m0 2v5m1-38v3m0 8v3m0 11v13m1-38v5m0 4v5m0 11v3m0 6v4m1-40v10m0 21v9m1-33v6m0 13v14m1-39v2m0 24v13m1-39v7m0 26v6m1-39v6m0 29v4m1-8v8m1-5v5m1-6v6m1-41v3m0 30v8m1-38v9m0 24v5m1-3v3m1-37v11m0 23v3m1-38v2m0 3v2m0 24v7m1-38v2m0 29v7m1-40v2m0 33v5m1-39v14m0 16v9m1-9v9m1-39v14m0 20v5m1-30v5m0 18v7m1-38v4m0 4v6m0 11v13m1-10v10m1-27v3m0 11v13m1-5v5m1-4v4m1-4v4m1-12v12m1-4v4m1-7v7m1-40v16m0 18v6m1-38v3m0 30v5m1-37v8m0 17v2m0 5v5m1-39v4m0 29v6m1-34v2m0 21v3m0 4v4m1-12v3m0 5v4m1-33v7m0 22v4m1-26v2m0 20v4m1-7v7m1-11v2m0 5v4m1-38v9m0 25v4m1-35v4m0 19v12m1-11v2m0 5v4m1-37v15m0 10v3m0 6v3m1-36v13m0 10v3m0 6v4m1-40v4m0 26v10m1-34v10m0 19v5m1-39v8m0 27v4m1-40v3m0 33v4m1-40v15m0 20v5m1-39v10m0 2v2m0 12v13m1-32v9m0 12v1m0 6v4m1-30v5m0 15v10m1-37v7m0 26v4m1-36v3m0 2v7m0 21v3m1-37v2m0 25v4m0 1v5m1-38v13m0 15v10m1-37v7m0 24v6m1-33v10m0 19v4m1-3v3m1-36v13m0 12v3m0 5v3m1-12v8m0 1v3m1-4v4m1-5v5m1-38v3m0 24v2m0 5v4m1-39v4m0 28v7m1-26v1m0 21v4m1-31v8m0 11v5m0 3v4m1-39v10m0 25v4m1-3v3m1-14v14m1-5v5m1-27v3m0 12v12m1-41v16m0 11v5m0 4v5m1-39v15m0 20v4m1-43v13m0 16v14m1-39v13m0 22v4m1-38v9m0 22v7m1-39v14m0 12v1m0 4v8m1-38v11m0 14v13m1-5v5m1-35v7m0 19v3m0 1v5m1-35v9m0 22v4m1-13v13m1-7v7m1-26v2m0 20v4m1-38v10m0 15v13m1-34v11m0 19v4m1-37v14m0 20v3m1-39v8m0 28v3m1-10v5m0 2v3m1-38v16m0 9v13m1-3v3m1-38v4m0 3v2m0 15v4m0 5v5m1-28v2m0 14v4m0 3v5m1-24v2m0 19v3m1-34v9m0 20v5m1-39v14m0 19v6"/>
</g></g>
<clipPath id="c01"><rect x="565.7" y="168.3" width="310.6" height="285.8"/></clipPath>
<g clip-path="url(#c01)"><g transform="translate(565 167.3) scale(2)" fill="none" stroke-width="1.04" shape-rendering="crispEdges" filter="url(#hb2)">
<rect x="-2" y="-2" width="160" height="148" stroke="none" fill="#99ffc3"/>
<path stroke="#4cdde7" d="M51.5 109v1m2-3v3m18-1v1m1-7v1m2-8v1m17-56v1m1 62v6m25-7v6m11-49v4"/>
<path stroke="#66efdd" d="M18.5 109v1m11-3v2m10 0v1m1-16v1m0 14v1m1-1v1m4-13v4m2-7v2m1 9v5m1-7v7m1-6v6m1-22v6m0 13v2m0 1v1m1-10v9m1-7v4m1-1v4m1-3v3m1-3v3m2-11v11m2-5v5m1-3v3m1-49v3m0 42v4m2-8v1m1 1v5m1-9v10m1-17v10m0 4v3m1-27v1m0 6v7m0 3v3m0 4v3m1-31v4m0 6v9m0 5v7m1-6v6m1-48v1m0 30v16m1-12v6m0 1v6m1-43v3m0 23v5m0 3v6m1-39v7m0 18v3m0 1v13m1-74v4m0 22v5m0 3v6m0 20v7m0 2v5m1-24v1m0 19v4m1-2v2m1-4v4m2-41v2m2-4v3m0 33v3m3 2v2m1-1v1m1-48v7m0 35v6m1-8v8m1-17v5m0 2v9m1-70v4m0 60v7m1-74v5m0 1v7m0 27v6m0 11v5m0 3v2m0 2v5m1-44v3m0 16v4m0 11v4m1-64v6m0 23v3m0 14v3m3-35v3m0 16v5m0 19v1m1-39v2m0 11v3m0 3v5m3-53v6m0 37v2m0 8v3m0 3v8m1-11v5m0 1v2m0 10v6m1-2v2m1-25v2m0 21v2m1-70v1m0 45v3m0 15v6m1-57v6m0 49v2m1-16v1m1-4v8m1-35v4m0 19v1m0 18v1m1-37v3m0 28v8m1-25v4m0 10v9m1-97v3m2 90v4m1-34v3m1 32v1m1-28v3m0 4v3m0 8v11m1-80v4m0 14v8m0 45v2m0 6v1m1-62v5m0 33v2m0 15v7m1-105v2m0 39v6m0 29v2m0 3v2m0 9v12m1-26v3m0 16v8m1-43v2m0 3v4m1 5v1m0 19v9m1-96v1m0 35v8m0 24v4m0 15v9m1-88v10m0 1v3m0 3v5m0 5v12m0 18v5m1-63v3m0 4v6m0 36v11m0 20v1m1-64v2m0 26v8m0 6v3m1-62v4m0 10v6m0 23v4m0 13v4m1-50v5m0 13v7m0 4v5m0 26v2m1-75v5m0 10v4m0 14v5m0 13v5m0 13v1m1-67v7m1-7v11m0 9v7m0 13v1m0 10v2m0 19v2m1-88v5m0 4v14m0 11v5m0 13v4m0 9v3m1-63v1m0 11v6m0 16v4m0 3v4m1-10v4m0 4v2m0 2v12m1-5v5m1-60v20m0 23v14m1-46v2m0 30v16m1-18v1m0 4v11m1-54v4m0 38v17m1-26v8m0 17v7m0 23v3m1-63v3m0 4v3m0 8v7m0 29v6m1-59v20m1-20v4m0 11v3m0 38v2m1-88v3m0 36v8m0 4v9m0 14v1m1-74v2m0 49v4m0 14v9m1-7v7m1-58v12m0 38v2m1-70v4m0 2v4m0 12v11m0 33v6m1-50v4m0 38v8m1-4v4m0 14v1m1-101v10m0 25v4m0 33v2m1-16v4m0 7v2m1 20v2m1-26v4m1-64v5m0 9v3m0 5v9m0 27v6"/>
<path stroke="#80fbd1" d="M0.5 139v2m12-43v5m1-8v7m1-3v4m1-36v1m0 75v1m1-36v2m1-7v5m1-13v3m0 6v5m0 1v1m1-4v4m1-19v1m0 5v3m0 6v4m1-17v1m0 4v11m1-19v1m0 3v11m1-9v3m1 9v1m1-22v3m0 16v4m1-52v5m0 30v2m0 3v5m0 5v1m1-64v5m0 3v8m0 23v3m0 5v3m0 1v14m1-19v18m1-50v4m0 25v18m0 2v1m1-20v9m0 3v8m1-47v3m0 20v13m0 2v9m1-88v2m0 23v1m0 12v5m0 18v1m0 1v25m0 31v3m1-54v4m0 4v5m0 2v5m1-47v5m0 8v4m0 8v7m0 8v7m1-51v12m0 6v3m0 10v6m0 8v6m1-97v3m0 49v12m0 17v1m0 12v3m1-41v4m0 14v1m0 5v8m0 6v3m1-25v4m0 18v3m1-40v5m0 4v4m0 8v8m0 7v3m0 1v1m1-71v8m0 21v7m0 7v2m0 5v4m0 1v4m0 7v3m0 1v1m0 30v3m1-110v4m0 33v9m0 11v7m0 4v7m0 1v1m0 28v3m1-44v6m0 1v5m1-74v1m0 38v2m0 12v21m1-73v11m0 40v14m0 6v2m1-77v6m0 7v3m0 42v6m0 4v9m1-73v2m0 63v8m1-59v5m0 5v10m0 17v6m0 2v14m1-77v1m0 2v1m0 15v1m0 8v8m0 23v13m0 5v1m1-61v9m0 5v5m0 25v9m0 7v1m1-70v12m0 35v2m0 6v8m1-53v14m0 20v3m0 6v13m1-102v4m0 23v3m0 22v11m0 6v5m0 2v20m0 9v1m1-82v1m0 19v4m0 5v3m0 2v7m0 22v2m0 4v5m0 7v1m1-86v4m0 37v12m0 17v11m1-106v1m0 2v1m0 35v1m0 30v8m0 6v4m0 3v16m0 3v1m0 27v6m1-111v2m0 7v1m0 22v6m0 10v15m0 3v8m0 35v1m1-79v5m0 11v8m0 1v21m1-85v1m0 7v5m0 24v10m0 2v25m1-37v5m0 4v2m0 25v12m1-58v5m0 7v3m0 2v3m0 7v8m0 6v6m0 2v4m0 5v1m1-86v2m0 24v14m0 1v5m0 11v6m0 6v13m1-61v3m0 6v6m0 3v3m0 27v12m1-67v1m0 3v7m0 9v8m0 26v10m0 2v5m1-17v9m0 1v7m1-61v8m0 4v26m0 4v13m0 5v1m1-98v2m0 26v2m0 8v19m0 4v9m0 7v11m0 10v1m1-70v9m0 6v8m0 11v11m0 4v3m0 10v4m0 3v1m1-97v2m0 28v4m0 14v7m0 9v5m0 1v6m0 7v3m0 3v4m0 3v1m1-82v10m0 3v3m0 16v2m0 13v3m0 4v6m0 9v5m1-83v4m0 38v2m0 12v28m1-81v2m0 12v4m0 2v6m0 8v5m0 1v30m0 17v1m1-101v6m0 13v17m0 12v7m0 2v11m0 2v4m0 5v8m1-61v8m0 19v4m0 3v9m0 12v2m0 5v3m0 6v3m1-76v10m0 10v4m0 2v8m0 7v4m0 11v3m0 17v1m1-95v6m0 12v2m0 4v6m0 7v9m0 5v3m0 6v3m0 6v11m0 7v2m0 5v1m1-111v1m0 13v4m0 15v11m0 16v26m0 1v19m0 4v1m0 31v2m1-108v3m0 20v14m0 2v10m0 3v1m0 4v3m0 4v8m1-77v11m0 7v2m0 9v14m0 3v29m0 4v1m1-79v20m0 11v17m0 4v25m1-47v7m0 2v2m0 8v11m0 8v10m1-43v5m0 13v1m0 14v10m1-49v6m0 3v3m0 2v11m0 8v9m0 3v4m1-47v8m0 3v6m0 12v18m1-59v5m0 7v2m0 2v5m0 14v4m0 12v8m1-105v5m0 6v3m0 86v3m0 2v1m1-63v5m0 10v2m0 3v13m0 19v9m1-109v5m0 23v2m0 14v18m0 7v10m0 22v3m0 6v1m0 32v1m1-143v3m0 11v9m0 23v23m0 4v11m0 9v8m1-86v2m0 15v14m0 12v10m0 3v21m0 5v2m0 9v1m1-110v3m0 12v2m0 17v5m0 4v3m0 8v5m0 6v3m0 7v8m0 4v6m0 4v6m0 7v1m0 31v2m1-144v2m0 2v7m0 10v15m0 13v27m0 6v11m0 5v3m0 2v2m0 5v1m1-87v24m0 15v3m0 3v11m0 2v3m0 4v2m0 4v5m0 10v1m1-106v4m0 11v20m0 6v3m0 15v5m0 3v3m0 4v7m0 3v3m0 3v2m0 4v9m1-77v2m0 4v11m0 10v4m0 5v8m0 9v7m0 3v7m1-86v3m0 3v5m0 8v14m0 9v6m0 1v11m0 4v2m0 6v10m1-82v7m0 3v14m0 9v4m0 3v16m0 5v19m0 1v8m0 3v1m1-95v6m0 18v11m0 5v4m0 2v11m0 3v3m0 5v3m0 7v17m1-93v5m0 23v3m0 4v1m0 5v7m0 10v4m0 1v7m0 7v16m1-92v2m0 5v1m0 8v12m0 5v21m0 2v5m0 4v4m0 2v6m0 9v6m1-97v17m0 6v28m0 4v5m0 2v4m0 2v2m0 3v3m0 8v7m0 2v4m1-97v10m0 24v5m0 7v1m0 10v16m0 5v1m0 2v10m0 6v1m1-93v9m0 8v10m0 10v4m0 10v39m1-87v24m0 9v10m0 3v12m0 3v3m0 2v21m0 2v1m1-86v15m0 1v3m0 8v9m0 14v4m0 2v5m0 3v2m0 6v7m0 6v1m1-84v26m0 6v5m0 4v4m0 6v3m0 5v22m1-104v4m0 17v14m0 15v11m0 5v3m0 15v6m0 1v15m1-89v4m0 2v1m0 3v19m0 8v13m0 12v8m0 8v11m1-88v34m0 4v4m0 4v4m0 13v2m0 1v18m0 1v3m1-92v6m0 6v23m0 12v5m0 3v28m0 8v1m1-78v12m0 5v3m0 26v6m0 4v4m0 4v2m0 9v3m1-108v8m0 3v5m0 13v5m0 3v4m0 1v4m0 11v3m0 10v3m0 1v34m1-87v3m0 6v3m0 4v17m0 1v6m0 7v15m0 2v21m1-95v3m0 3v9m0 10v16m0 16v24m0 3v6m0 4v3m1-101v15m0 2v28m0 16v3m0 3v34m0 30v2m1-142v5m0 14v4m0 10v15m0 35v25m0 1v1m1-108v42m0 4v33m0 3v4m0 3v8m0 11v1m1-111v2m0 2v26m0 4v2m0 10v2m0 8v13m0 10v22m0 9v1m1-111v3m0 6v21m0 2v16m0 5v17m0 1v5m0 3v7m0 2v15m0 7v1m1-111v5m0 2v8m0 3v20m0 3v5m0 6v6m0 5v18m0 2v3m0 2v9m0 12v1m0 30v4m1-144v3m0 6v6m0 2v5m0 2v6m0 10v7m0 3v33m0 3v5m0 2v9m0 37v5m1-136v2m0 5v8m0 10v4m0 7v18m0 2v3m0 2v3m0 4v7m0 5v22m1-110v26m0 24v19m0 6v6m0 1v19m0 9v1m1-111v14m0 1v14m0 6v4m0 8v3m0 8v6m0 8v10m0 4v9m0 1v5m1-94v15m0 10v1m0 3v3m0 5v5m0 12v3m0 4v11m0 5v26m1-99v10m0 3v4m0 6v9m0 14v13m0 11v20m0 1v8m1-110v14m0 3v21m0 2v6m0 13v7m0 8v6m0 3v4m0 4v13m1-93v10m0 4v3m0 1v6m0 6v7m0 4v12m0 4v13m0 4v3m0 3v7m1-85v22m0 5v13m0 16v26m0 2v13m1-100v12m0 5v10m0 4v2m0 4v8m0 5v13m0 5v2m0 4v7m0 1v8m0 3v7m1-88v3m0 7v10m0 5v6m0 8v9m0 3v10m0 5v12m0 6v4m1-110v6m0 7v2m0 5v5m0 11v9m0 7v7m0 2v4m0 1v3m0 3v4m0 2v5m0 3v11m0 2v5m0 4v2m0 28v6m1-144v11m0 5v4m0 14v11m0 5v13m0 4v9m0 3v31m0 28v6m1-141v13m0 1v3m0 4v4m0 6v2m0 4v10m0 4v3m0 4v25m0 4v13m0 5v2m1-99v7m0 9v9m0 6v9m0 4v4m0 2v2m0 12v11m0 6v11m1-103v1m0 9v12m0 5v5m0 16v22m0 5v8m0 8v5m0 1v13m0 30v4m1-144v15m0 20v4m0 3v1m0 3v12m0 14v38m0 30v4m1-135v2m0 4v11m0 2v3m0 16v1m0 2v8m0 16v10m0 12v13m1-107v17m0 4v9m0 12v6m0 1v5m0 1v4m0 11v11m0 3v3m0 13v8m1-110v18m0 4v15m0 3v20m0 17v7m0 12v13m0 30v5m1-144v3m0 6v23m0 7v12m0 8v17m0 7v4m0 3v16m0 3v1m0 31v3m1-135v37m0 3v4m0 3v8m0 7v13m0 10v6m0 6v4m1-99v12m0 7v9m0 1v7m0 20v43m1-94v10m0 8v13m0 4v11m0 3v38m0 2v4m1-106v8m0 4v2m0 3v36m0 8v4m0 9v14m0 1v18m1-99v7m0 2v6m0 14v29m0 4v14m0 9v3m0 8v3m1-109v3m0 6v17m0 8v18m0 8v15m0 4v9m0 7v3m0 3v4m1-104v18m0 2v16m0 12v6m0 2v17m0 7v6m0 2v11m0 3v6m1-106v16m0 4v2m0 4v12m0 11v8m0 6v6m0 11v2m0 6v11m1-103v2m0 4v18m0 2v7m0 4v5m0 4v13m0 3v22m0 8v18m0 33v1m1-144v16m0 8v40m0 2v22m0 4v14m0 1v3m0 33v1m1-144v6m0 10v3m0 10v12m0 4v9m0 5v19m0 2v30m0 33v1m1-144v25m0 14v25m0 4v7m0 2v5m0 12v10m0 39v1m1-144v4m0 5v6m0 19v10m0 7v5m0 9v15m0 2v5m0 8v2m0 2v4m0 35v6m1-144v9m0 9v45m0 7v3m0 4v11m0 4v13m0 33v3m1-141v3m0 3v7m0 5v9m0 3v5m0 9v5m0 3v19m0 6v4m0 2v3m0 2v18m0 32v1m0 1v4"/>
<path stroke="#b2fbb4" d="M0.5 2v4m0 5v8m0 11v4m0 3v4m0 6v4m0 3v5m0 1v9m0 4v23m0 5v7m0 8v5m0 5v6m0 1v3m1-134v1m0 7v17m0 8v17m0 2v6m0 6v10m0 3v15m0 11v7m0 1v17m0 4v5m1-138v3m0 1v3m0 4v3m0 4v5m0 9v7m0 3v2m0 5v10m0 3v29m0 4v1m0 3v1m0 3v8m0 7v5m0 2v10m0 1v3m1-137v19m0 2v8m0 11v6m0 13v19m0 9v14m0 1v3m0 7v2m0 17v3m1-137v9m0 5v1m0 3v8m0 14v8m0 15v21m0 6v7m0 4v1m0 2v4m0 28v3m1-139v15m0 4v5m0 4v4m0 13v4m0 8v3m0 4v5m0 5v5m0 12v20m0 22v6m0 3v1m1-143v1m0 4v7m0 10v45m0 7v1m0 1v2m0 9v7m0 1v1m0 4v12m0 17v3m0 3v7m1-142v7m0 4v11m0 1v8m0 5v8m0 3v9m0 4v7m0 5v10m0 1v3m0 5v7m0 4v11m0 5v4m0 10v2m0 2v5m1-135v33m0 3v1m0 3v1m0 13v7m0 4v11m0 8v5m0 1v12m0 9v5m0 13v4m1-139v1m0 3v15m0 6v22m0 6v13m0 3v4m0 1v5m0 12v3m0 2v2m0 2v3m0 2v5m0 7v4m0 16v2m0 2v1m1-142v8m0 4v18m0 7v4m0 2v6m0 1v17m0 5v17m0 4v3m0 9v10m0 2v7m0 11v2m1-137v10m0 9v8m0 4v5m0 3v31m0 12v7m0 1v2m0 5v20m0 16v3m0 3v3m1-141v8m0 5v5m0 1v9m0 14v11m0 2v15m0 9v12m0 15v1m0 1v2m0 13v4m0 3v2m1-133v9m0 4v13m0 2v5m0 15v1m0 3v14m0 6v6m0 1v4m0 27v2m0 2v1m0 5v13m0 1v4m1-135v6m0 2v3m0 9v1m0 2v7m0 4v9m0 6v14m0 5v14m0 24v2m0 2v14m0 9v6m1-141v4m0 4v22m0 4v1m0 2v7m0 1v1m0 6v1m0 5v6m0 11v14m0 12v1m0 3v1m0 4v19m0 3v1m0 4v1m1-139v3m0 2v32m0 7v3m0 10v3m0 4v4m0 3v2m0 5v3m0 6v8m0 16v8m0 12v1m0 2v6m1-140v6m0 5v6m0 4v5m0 3v10m0 4v3m0 1v5m0 5v2m0 4v14m0 1v14m0 17v2m0 1v3m0 22v2m1-136v4m0 3v8m0 2v1m0 4v6m0 1v12m0 2v24m0 2v4m0 6v8m0 23v11m0 10v4m1-131v9m0 7v3m0 5v28m0 4v3m0 3v2m0 10v9m0 23v6m0 3v1m0 3v12m1-131v9m0 15v3m0 16v7m0 6v12m0 5v6m0 28v10m0 9v6m1-139v19m0 7v7m0 4v1m0 8v23m0 3v7m0 4v2m0 26v1m0 23v3m0 5v1m1-144v19m0 9v9m0 2v27m0 4v12m0 1v3m0 1v1m0 23v5m0 19v9m1-144v19m0 5v4m0 4v4m0 3v12m0 5v28m0 1v8m0 2v1m0 15v1m0 22v3m1-137v10m0 3v7m0 2v10m0 6v20m0 8v11m0 4v5m0 15v5m0 6v3m0 19v4m1-138v5m0 11v10m0 4v3m0 6v4m0 2v15m0 4v8m0 3v2m0 4v5m0 26v6m0 15v2m1-135v8m0 4v6m0 6v10m0 2v10m0 20v17m0 49v4m1-136v10m0 1v12m0 6v6m0 5v4m0 22v12m0 34v1m0 6v2m0 13v3m0 5v2m1-143v1m0 13v12m0 1v10m0 1v11m0 1v1m0 15v10m0 2v1m0 31v1m0 23v3m0 3v1m1-141v16m0 5v9m0 9v6m0 3v1m0 61v1m0 24v2m1-137v8m0 6v8m0 3v14m0 1v9m0 8v2m0 7v10m0 34v1m0 3v3m0 18v2m1-137v1m0 3v5m0 11v9m0 2v4m0 1v3m0 16v5m0 73v3m1-136v8m0 24v6m0 12v2m0 1v1m0 3v1m0 16v4m0 32v1m0 20v4m1-136v1m0 3v3m0 1v5m0 3v15m0 2v6m0 10v4m0 28v4m0 27v1m0 22v2m0 2v4m1-142v11m0 13v3m0 15v10m0 17v1m0 2v1m0 37v1m0 22v2m0 5v1m1-140v20m0 3v3m0 5v20m0 58v1m0 24v8m1-124v6m0 4v9m0 2v10m0 6v3m0 21v5m0 25v1m0 22v6m1-140v9m0 9v3m0 3v5m0 13v5m0 1v5m0 52v1m0 5v1m0 6v10m0 5v6m0 2v3m1-144v4m0 3v4m0 7v18m0 7v2m0 2v2m0 10v9m0 2v10m0 22v2m0 7v1m0 22v10m1-139v6m0 11v16m0 7v4m0 1v14m0 72v3m1-111v4m0 19v14m0 47v2m0 21v2m1-137v7m0 14v9m0 21v4m0 3v3m0 55v5m0 14v2m1-134v7m0 2v19m0 6v8m0 14v14m0 6v6m0 26v1m0 23v2m1-137v3m0 14v8m0 28v6m0 6v7m0 8v3m0 28v1m0 8v2m0 15v7m1-138v11m0 39v4m0 1v9m0 41v1m0 23v8m1-137v11m0 35v1m0 3v9m0 3v4m0 11v2m0 50v6m1-138v8m0 3v6m0 36v7m0 1v3m0 4v2m0 16v3m0 44v3m1-123v2m0 61v5m0 50v1m1-135v2m0 13v9m0 17v7m0 63v1m0 5v5m0 13v7m1-142v1m0 17v7m0 86v1m0 22v10m1-144v1m0 9v6m0 18v4m0 29v1m0 8v2m0 4v3m0 26v1m0 22v9m1-128v8m0 11v2m0 76v1m0 24v2m1-121v4m0 89v1m0 6v4m0 13v3m1-138v8m0 3v7m0 102v1m0 13v8m1-139v15m0 29v7m0 57v1m0 23v5m1-132v8m0 4v3m0 3v2m0 17v16m0 50v1m0 22v2m1-134v2m0 3v15m0 24v3m0 4v10m0 48v1m0 24v2m1-138v6m0 3v10m0 10v3m0 7v7m0 10v3m0 52v1m0 23v9m1-144v2m0 3v5m0 4v3m0 13v1m0 80v1m0 23v9m1-144v3m0 3v3m0 6v2m0 34v6m0 54v1m0 22v3m0 1v6m1-142v13m0 122v3m1-140v12m0 22v1m0 76v1m0 21v4m1-137v13m0 16v5m0 38v3m0 36v1m0 23v3m0 3v3m1-144v2m0 6v9m0 8v6m0 39v6m0 34v1m0 7v2m0 17v7m1-144v4m0 3v8m0 14v6m0 14v9m0 76v10m1-144v22m0 7v9m0 73v1m0 23v9m1-120v13m0 74v1m0 22v8m1-141v3m0 13v4m0 11v7m0 73v1m0 22v8m1-143v8m0 44v5m0 54v1m0 25v7m1-137v4m0 3v1m0 35v4m0 57v1m0 25v4m1-137v5m0 3v5m0 13v2m0 16v6m0 57v1m0 27v4m1-24v3m0 14v3m1-91v5m0 58v1m0 7v8m0 9v7m1-136v3m0 101v1m0 24v5m1-136v9m0 97v1m0 22v7m1-132v2m0 100v1m0 28v2m1-139v8m0 100v1m0 23v4m1-139v14m0 7v4m0 21v5m0 60v1m0 24v8m1-137v5m0 99v1m0 22v10m1-144v2m0 5v14m0 36v4m0 49v1m0 23v10m1-144v3m0 4v15m0 3v4m0 13v3m0 4v5m0 22v2m0 32v1m0 28v5m1-142v15m0 26v2m0 32v3m0 30v1m0 26v5m1-142v3m0 107v1m0 29v4m1-144v6m0 14v5m0 14v3m0 68v1m1-103v1m0 130v5m1-122v5m0 15v1m0 4v3m0 23v4m0 61v3m1-120v2m0 88v1m0 21v4m1-26v1m0 4v3m0 16v2m1-19v3m0 13v5m1-135v9m0 98v1m0 7v2m0 13v2m1-130v6m0 100v1m0 20v3m1-16v4m0 9v2m1-23v1m0 24v6m1-32v1m0 25v3m1-129v1m0 3v8m0 30v2m0 55v1m0 31v2m1-144v3m0 4v3m0 100v1m0 26v7m1-34v1m0 23v10m1-34v1m0 25v6m1-142v13m0 19v4m0 75v1m0 26v6m1-144v14m0 97v1m1-1v1m0 3v5m0 15v9m1-117v2m0 3v4m0 75v1m0 24v6m1-31v1m0 3v1m0 2v5m0 14v7m1-33v1m0 3v6m0 15v4m1-93v3m0 65v12m0 11v4m1-31v1m0 24v6m1-31v1m0 27v3m1-64v3m0 30v1m0 8v2m0 15v1m0 4v2m1-133v1m0 63v6m0 30v1m0 25v1m0 2v3m1-32v1m0 24v8m1-123v8m0 31v1m0 50v1m0 25v2m1-113v1m0 84v1m0 26v2m1-30v2m0 30v2m1-33v1m0 25v3m1-84v8m0 47v1m0 22v2m1-68v2m0 41v1m0 25v5m1-5v5m1-30v1m0 23v7m1-32v1m0 2v3m0 19v5m1-30v1m0 24v2m1-27v1m0 6v3m0 13v2m1-25v1m0 23v2m1-99v8m0 70v3m0 17v1m1-26v1m0 23v3m0 3v1m1-142v2m0 109v1m0 21v3m0 2v6m1-143v2m0 108v2m0 21v4m0 4v2m1-34v1m0 22v8m1-8v6m0 2v2m1-143v2m0 108v1m0 23v10m1-144v5m0 128v2m0 1v1m0 3v4m1-34v1m0 22v2m1-24v1m0 21v3m1-25v1m0 21v2m1-24v1m0 22v2m1-26v1m0 23v2m1-26v1m0 24v1m1-25v1m0 19v2m0 1v2m1-96v4m0 66v1m0 25v3m1-102v5m0 69v1m0 23v6m1-31v1m0 24v2m1-2v3m1-27v1m0 26v4m1-142v7m0 104v1m0 25v3m0 3v1m1-34v1m0 26v1m1-27v1m0 24v3m1-28v1m0 25v7m1-34v1m0 26v7m1-33v1m0 25v2m0 2v2m1-33v1m0 26v4m1-31v1m0 24v5m1-30v1m0 24v3m1-27v1m0 23v3m1-28v1m0 24v2m1-28v2m0 23v2m1-28v2m0 25v1m1-26v1m0 23v2"/>
<path stroke="#ccefa4" d="M0.5 6v1m0 3v1m0 8v5m0 4v2m0 4v3m0 14v3m0 15v4m0 35v8m0 5v5m1-121v1m0 3v1m0 17v8m0 17v2m0 6v1m0 4v1m0 10v3m0 33v1m0 17v4m1-119v4m0 5v4m0 3v2m0 27v3m0 34v3m0 12v7m1-87v2m0 4v5m0 6v13m0 19v9m0 14v1m0 3v7m0 2v10m0 6v1m1-108v11m0 2v1m0 8v15m0 21v6m0 18v15m0 3v10m1-104v13m0 4v8m0 22v12m0 20v22m1-58v1m0 2v9m0 25v17m0 3v3m1-128v4m0 11v1m0 8v5m0 8v3m0 9v4m0 22v1m0 3v5m0 7v1m0 2v1m0 11v5m0 4v3m0 1v6m0 2v2m1-93v3m0 1v4m0 2v7m0 22v2m0 5v1m0 5v1m0 12v9m0 5v13m1-116v6m0 22v6m0 20v1m0 5v12m0 19v7m0 4v5m0 4v7m0 2v2m1-133v4m0 18v7m0 4v2m0 6v1m0 39v4m0 22v2m0 7v11m1-99v3m0 50v1m0 27v12m0 2v2m1-114v1m0 9v5m0 1v3m0 4v1m0 11v2m0 52v1m0 2v2m0 1v10m0 4v1m0 1v1m1-105v2m0 5v8m0 2v5m0 30v1m0 33v2m0 1v5m1-111v2m0 3v5m0 2v2m0 1v2m0 85v2m0 14v9m1-131v4m0 22v4m0 10v1m0 1v6m0 1v5m0 44v3m0 24v3m0 1v4m1-135v2m0 42v1m0 2v7m0 16v1m0 3v1m0 3v6m0 32v12m0 1v2m1-128v5m0 6v4m0 25v1m0 5v5m0 20v1m0 33v1m0 3v17m0 4v1m1-130v3m0 8v2m0 24v2m0 78v10m1-15v3m0 1v3m1-2v4m0 1v4m1-100v4m0 42v4m0 29v7m0 5v2m0 6v3m1-98v2m0 43v1m0 33v19m1-99v3m0 45v1m0 8v2m0 17v13m0 7v2m1-124v3m0 102v8m0 3v5m1-123v8m0 10v4m0 13v2m0 73v9m0 4v2m1-125v4m0 99v1m0 1v19m1-19v6m0 2v6m0 2v5m1-134v1m0 1v13m0 12v1m0 22v1m0 61v1m0 2v8m0 10v2m0 7v2m1-98v3m0 63v13m0 3v2m0 1v5m1-113v3m0 86v3m0 3v3m0 13v2m1-134v1m0 1v1m0 31v1m0 74v12m0 7v4m1-79v3m0 58v2m0 9v5m1-19v3m0 9v4m0 5v1m1-64v2m0 39v6m0 5v11m1-134v2m0 20v3m0 87v4m0 16v4m1-24v7m0 3v3m0 1v8m1-113v3m0 88v6m0 10v5m0 6v2m1-137v3m0 38v2m0 65v15m0 6v1m1-22v14m0 8v2m1-22v11m1-13v4m0 5v3m0 8v3m1-23v9m0 13v1m1-23v8m0 2v3m0 10v2m1-25v14m0 6v3m1-70v3m0 43v1m0 4v3m0 13v3m1-24v1m0 20v4m1-25v1m0 3v13m0 4v2m1-22v5m0 5v4m0 7v2m1-23v11m0 9v2m1-22v12m0 9v1m1-21v12m0 9v3m1-25v6m0 4v4m0 6v3m1-23v8m0 1v5m0 6v2m1-22v1m0 19v3m1-23v5m0 10v3m0 1v3m1-130v3m0 107v3m0 15v4m1-2v1m1-133v3m0 5v4m0 98v1m0 10v10m0 1v1m1-132v3m0 3v2m0 2v2m0 105v14m1-22v2m0 17v6m1-25v4m0 13v4m1-21v9m0 13v1m1-133v6m0 103v1m0 3v3m0 2v3m0 13v1m1-133v3m0 104v1m0 16v6m1-2v3m1-23v2m0 7v8m0 3v2m1-21v15m0 5v2m1-23v2m0 3v4m0 4v5m0 5v2m1-25v7m0 14v4m1-19v7m0 10v4m1-27v7m0 3v6m0 5v3m1-24v1m0 3v3m0 8v3m0 2v4m1-21v9m0 8v4m1-24v1m0 18v3m1-22v5m0 2v5m0 10v6m1-28v1m0 4v18m1-23v1m0 5v4m0 4v10m1-24v12m0 1v9m1-15v15m1-23v1m0 3v12m0 5v7m1-28v1m0 8v2m0 3v4m0 2v6m1-26v1m0 21v7m1-29v1m0 27v5m1-33v1m0 3v9m0 12v3m1-27v12m0 9v5m1-26v21m1-21v4m0 3v12m0 3v1m1-24v1m0 3v3m0 3v8m0 2v3m1-22v7m0 2v9m0 1v3m1-21v20m1-21v8m0 4v5m0 3v1m1-20v11m0 11v2m1-25v1m0 6v6m0 9v3m1-26v1m0 9v1m0 6v7m0 3v4m1-31v1m0 6v9m0 6v4m1-26v1m0 6v16m1-23v1m0 5v5m0 3v5m0 2v4m1-24v1m0 1v14m0 3v7m1-26v14m0 5v4m0 1v8m1-32v3m0 5v8m0 4v3m1-23v1m0 2v2m0 3v6m0 7v3m1-24v3m0 1v2m0 5v7m0 2v5m1-25v3m0 6v9m0 4v2m1-24v3m0 12v11m1-26v1m0 1v15m0 2v5m1-24v16m0 5v6m1-27v1m0 3v4m0 2v8m0 2v5m0 1v4m1-30v25m0 1v2m1-28v1m0 3v8m0 9v3m1-19v10m0 7v3m1-25v9m0 16v1m1-23v5m0 15v7m1-30v6m0 1v2m0 3v2m0 8v3m1-25v15m0 5v2m1-22v5m0 18v2m1-25v11m0 11v3m1-24v11m0 5v7m1-24v2m0 3v5m0 12v2m1-24v17m0 5v2m1-24v6m0 3v6m0 5v2m1-22v12m0 9v2m1-23v4m0 3v3m0 12v2m1-24v6m0 15v2m1-23v1m0 1v3m0 14v2m1-20v5m0 4v2m0 8v2m1-23v1m0 9v7m0 3v2m1-23v1m0 5v4m0 11v2m1-22v1m0 3v1m0 1v7m0 7v3m1-23v1m0 5v8m0 6v2m0 2v1m1-25v1m0 6v3m0 10v2m1-21v1m0 1v8m0 9v2m1-21v1m0 1v3m0 4v1m0 9v2m1-21v18m0 2v2m1-23v1m0 4v1m0 3v7m0 6v1m1-23v1m0 13v1m0 8v1m1-23v1m0 3v15m1-20v1m0 1v6m0 4v3m0 9v1m1-24v12m0 6v5m1-24v1m0 19v4m1-24v1m0 17v6m1-16v5m0 13v1m1-26v1m0 9v2m0 10v3m1-26v1m0 24v1m1-2v1m1-14v2m0 11v2m1-26v1m0 4v11m0 9v1m1-25v2m0 8v3m0 10v2m1-26v1m0 21v4m1-26v1m0 20v3m1-24v1m0 21v2m1-23v3m0 3v1m0 14v2m1-24v13m0 10v1m1-24v1m0 21v1m1-24v1m0 6v7m0 9v2m1-24v1m0 2v5m0 12v3"/>
<path stroke="#e6dd93" d="M0.5 7v1m0 1v1m0 14v1m0 2v1m1-22v3m0 52v4m1-37v3m1 3v2m0 1v1m0 89v1m0 4v1m1-96v2m0 84v3m3-27v2m0 24v1m1-75v2m0 31v5m1 37v1m2 2v2m1-97v1m0 3v1m0 2v1m0 71v1m0 15v1m1-89v2m1-24v2m2 27v2m0 24v3m4 51v1m1-10v2m0 2v1m0 2v6m2-7v1m1-3v3m1-121v1m0 1v1m0 119v4m1-19v1m1 14v2m1-16v2m0 8v10m1-8v3m0 2v1m1-10v5m0 5v3m1-131v1m0 119v7m1-18v1m0 2v1m0 2v5m0 1v3m1-11v2m0 6v1m0 4v1m0 3v1m1-16v3m0 1v1m1-7v16m1-13v3m0 3v1m2 1v1m0 1v4m1-7v1m0 1v1m0 4v1m1-9v4m1-5v5m0 1v2m1-11v8m0 1v2m0 1v1m1-9v5m0 3v2m1-9v6m1-20v4m0 3v13m1-20v1m0 3v8m0 1v7m1-20v3m0 13v4m1-6v7m1-10v9m1-8v7m1-6v5m0 1v3m1-8v6m1-6v6m1-19v19m1-15v10m0 3v1m1-19v2m0 3v5m0 7v3m1-20v19m1-18v10m0 10v1m1-123v2m0 99v1m0 2v5m1-6v17m1-15v13m1-8v3m1-12v3m0 8v9m0 3v1m1-24v16m1-16v20m1-18v7m0 8v3m1-4v5m1-19v3m0 4v4m0 5v5m1-16v8m0 4v2m1-21v6m0 7v10m1-7v5m1-20v3m0 14v2m1-20v3m0 9v1m1-12v11m0 4v3m1-14v2m0 5v1m0 3v6m1-21v4m1-4v5m0 4v4m1-2v1m1-14v1m0 3v4m1-7v3m0 12v5m1-18v6m0 2v3m0 4v2m1-19v18m0 2v1m1-21v3m0 1v12m0 2v9m1-27v3m0 9v12m1-12v1m0 4v4m2-2v3m1-22v3m0 14v2m1-1v1m2-2v3m1-8v11m1-22v6m0 6v9m1-22v9m0 1v6m0 7v3m1-26v6m0 9v6m1-21v6m1-6v5m0 5v3m0 5v2m1-19v1m0 14v3m1-5v5m0 4v1m1-8v4m1-19v2m0 2v3m0 6v7m1-3v2m1-2v4m2-21v1m0 15v2m1-3v1m0 3v1m1-20v3m0 14v2m2-19v3m0 8v9m1-21v5m0 10v7m1-13v8m0 7v1m1-17v2m0 12v1m1-17v1m0 2v3m0 2v3m0 2v3m1-7v5m1-15v10m0 5v3m1-12v2m0 2v2m0 1v4m1-10v1m0 3v1m1-7v12m1-5v5m1-7v5m1-8v5m0 3v1m1-11v6m0 5v1m1-16v11m0 2v2m1-20v1m0 3v12m0 1v1m1-13v4m0 2v2m0 4v2m1-20v9m0 7v3m1-20v1m0 2v2m0 4v11m1-19v3m0 1v1m0 7v7m1-15v1m0 8v6m1-19v1m0 2v3m0 3v10m1-18v1m0 8v9m1-18v1m0 3v4m0 1v9m1-1v2m1-20v4m0 1v3m0 7v1m0 4v1m1-21v13m0 1v5m1-16v1m1-4v1m0 6v4m0 3v3m1-5v6m1-18v19m1-19v4m0 6v7m1-17v7m0 5v3m0 1v6m0 2v1m1-24v2m0 1v6m0 2v3m0 6v1m1-22v6m0 15v3m1-24v1m0 2v3m0 1v3m0 3v5m1-18v1m0 1v8m0 2v3m0 6v2m1-23v4m0 11v2m0 4v3m1-22v8m0 3v5m0 3v2m1-23v1m0 4v16m1-21v14m0 3v3m1-20v14m0 5v2m1-18v3m0 1v5m0 7v2m1-9v2m0 6v2m1-22v13m0 6v2m1-22v6m0 7v9m1-21v2m0 5v12"/>
<path stroke="#ffc381" d="M0.5 8v1m0 16v2m3 9v1m0 91v1m6 0v1m3-91v2m5 91v1m0 2v1m4-15v2m2 3v6m1-1v1m0 1v1m1-128v1m5 123v1m2-18v2m0 8v1m1-6v3m0 2v1m0 6v1m1-10v1m4 6v1m1-2v1m0 1v2m0 1v1m1-4v1m0 4v1m1-6v1m1-1v1m0 2v1m1-3v3m3-20v3m0 8v1m4 6v2m1-3v1m5-9v7m1 2v3m2-21v2m3 9v8m0 1v1m1-2v1m0 1v1m6-8v4m4-6v1m1-2v4m1-1v1m4-16v3m2-3v2m1 16v2m1-17v1m0 12v2m2-5v1m21 3v3m5 2v2m1-24v3m0 7v12m1-5v2m2-4v1m0 1v3m1-7v2m0 2v1m1-5v1m4 3v3m1-4v5m1-4v2m1-2v1m1-4v2m0 1v1m2-18v2m2-2v1m0 2v1m1-3v2m4 13v1m0 2v1m1-1v3m1-21v2m1 14v1m0 4v1m3-19v6m1 5v1m0 6v2m1-21v1m0 16v1m1-15v15m1-20v2m0 3v1m0 3v3m0 5v3m0 1v1m1-22v1m0 17v2m1-4v4m1-3v3m1-20v1m0 2v1m1 9v3m1-3v5m1-7v7m1-5v6m1-7v6"/>
<path stroke="#ffa46e" d="M9.5 127v1m15 4v1m6-7v1m0 2v1m3-9v2m0 8v2m6-2v1m23 0v1m1 0v1m12-9v1m10 0v3m26 4v1m4-6v1m2-3v2m8 0v1m4-16v2m5 14v2m8-4v1m0 2v2m2 1v1m1-7v1m3-14v2"/>
<path stroke="#ff815b" d="M3.5 129v1m6-2v1m8 4v2m13-8v2m10 1v1m33-5v1m2-1v1m36 2v1m0 2v1m26-3v1m0 2v1m5-6v2m3 0v1"/>
<path stroke="#ff5b47" d="M3.5 131v1m37 1v1m33-3v1m38-2v2m34-4v2"/>
<path stroke="#ff3333" d="M3.5 130v1m37 0v2m33-6v4m64 0v2"/>
</g></g>
<clipPath id="c10"><rect x="89.7" y="669.4" width="310.6" height="285.8"/></clipPath>
<g clip-path="url(#c10)"><g transform="translate(89 668.4) scale(2)" fill="none" stroke-width="1.04" shape-rendering="crispEdges" filter="url(#hb2)">
<rect x="-2" y="-2" width="160" height="148" stroke="none" fill="#9933ff"/>
<path stroke="#933dff" d="M0.5 100v3m1-2v3m1-1v2m1-5v6m1-7v4m1-3v2m1-1v3m1-5v3m1-3v2m1-2v3m1-3v4m1-3v3m1-3v2m0 14v2m1-18v3m1-4v3m1-3v3m1-2v3m1-2v2m1-4v3m1-2v3m1-4v2m1-2v2m1-1v4m1-5v3m0 14v3m1-19v3m1-3v3m1-4v3m1-3v3m1-3v4m1-3v7m1-8v3m1-3v4m1-4v4m1-3v3m1-4v3m1-2v3m1-3v3m1-4v2m1-2v2m1-1v3m1-4v3m0 20v1m0 1v1m1-25v4m1-3v2m1-4v3m1-2v3m1-3v5m1-5v2m0 2v3m1-7v5m1-6v3m1-3v3m1-3v3m1-3v3m0 15v1m1-17v2m0 6v1m0 2v1m1-13v4m0 11v2m1-18v3m1-3v3m1-2v3m1-4v3m1-2v4m1-5v3m1-2v4m1-4v3m1-2v2m1-2v3m0 10v1m1-16v4m1-3v4m1-3v3m1-4v4m0 17v3m0 2v3m1-30v4m0 19v4m1-27v3m0 21v4m1-27v2m1-2v5m1-5v2m1 0v3m0 9v4m1-19v3m0 4v2m1-8v3m1-3v3m1-4v3m1-2v7m1-7v5m0 7v2m1-11v2m1-5v3m1-2v4m1-6v3m0 8v1m1-12v4m1-3v3m1-3v3m1 0v1m0 27v1m1-33v3m1-2v5m1-5v2m1-3v5m1-4v5m1-6v5m1-5v4m1-4v4m0 12v1m1-16v4m1-5v3m0 17v1m1-18v2m0 15v1m1-19v5m1-7v2m0 31v1m0 2v2m1-37v2m1-1v3m1-4v6m1-6v3m1-3v2m1-3v3m0 31v1m0 2v1m1-38v3m1-3v4m1-2v3m1-5v3m1-3v3m1-1v2m1-2v2m1-2v2m1-3v3m0 13v2m1-16v3m0 8v5m1-18v3m1-3v2m1-1v2m1-1v2m1-3v3m1-4v4m1-3v3m1-4v3m1-3v3m1-3v2m1-3v10m1-10v5m1-1v4m1-6v2m0 13v2m0 1v1m0 11v1m1-33v2m1-2v2m1-2v3m1-2v3m1-4v4m1-3v2m1-1v3m1-5v3m1-3v3m1-2v2m1-2v3m0 28v3m1-35v4m1-4v2m1-2v3m1-2v3m1-4v3m0 2v3m1-8v3m1-3v2m1-2v4m1-4v2m1-2v2m0 14v1m1-18v3m0 9v2m0 1v2m1-15v3m1-3v3m1-4v3"/>
<path stroke="#8d46ff" d="M0.5 103v3m1-2v2m1-1v1m0 24v3m1-27v2m0 7v2m1-14v1m1-2v2m1 0v4m0 6v2m1-14v3m1-4v1m0 18v2m1-20v3m1-2v4m1-4v4m1-5v1m0 12v1m0 2v1m1-16v3m0 16v3m1-23v3m1-3v5m0 19v2m1-25v2m1-2v2m1-3v3m1-2v1m0 14v3m1-20v2m1-2v3m0 27v1m1-28v2m1-4v2m0 15v1m0 10v2m1-29v3m0 10v8m1-21v2m1-3v2m1-2v5m1-4v2m2-3v3m0 26v3m1-31v3m1-3v1m1-1v2m1-3v2m1-1v2m1-2v2m1-4v2m1-2v2m1 0v1m1-2v2m0 17v1m0 3v1m1-22v1m1-2v2m1-3v2m1-1v3m0 26v2m1-29v4m1-7v2m0 3v1m1-3v1m1-4v9m1-9v2m1-2v3m0 11v2m1-16v1m0 10v1m0 4v1m1-16v2m0 3v1m0 4v1m1-10v3m0 7v1m0 2v2m1-17v2m1-2v3m1-2v2m1-3v2m1 0v3m1-5v5m1-3v3m1-4v6m0 25v2m1-33v4m1-3v4m0 5v1m0 1v3m1-15v3m1-2v2m0 29v4m1-35v1m1-1v2m0 13v2m0 3v2m0 3v2m1-28v2m0 16v1m0 4v1m1-25v2m0 17v2m0 4v1m1-26v2m1 1v2m1-5v2m0 12v4m1-15v2m0 6v1m0 4v2m0 15v3m1-36v4m0 2v1m0 27v3m1-36v4m1-4v2m0 29v3m1-35v4m0 10v3m1-12v1m0 26v4m1-33v2m0 4v1m0 2v1m1-10v2m1-4v5m1-3v2m0 11v2m1-18v8m0 1v2m1-10v6m0 3v3m1-12v2m1-2v1m1 0v2m0 24v1m0 1v2m1-32v4m1-1v3m1-6v3m1-1v2m1-1v3m1-4v3m1-4v5m0 27v2m1-34v3m0 3v6m0 1v1m1-13v1m0 10v1m1-14v2m0 14v1m0 5v1m1-21v2m0 10v3m0 1v2m0 20v1m1-37v1m0 28v2m1-36v6m0 11v2m0 11v1m0 5v1m1-36v2m0 14v2m0 10v2m1-28v4m0 9v3m1-14v3m0 7v3m1-16v4m1-5v3m1-3v3m0 27v1m0 4v1m1-36v2m1-1v4m1-3v1m1-3v2m1-2v2m1-1v4m1-4v2m0 27v1m1-30v2m1-2v3m0 9v1m0 2v1m1-14v8m0 5v3m1-18v8m1-9v2m0 9v1m1-11v2m1-1v2m1-2v2m1-2v2m1-2v2m0 11v3m1-17v4m1-4v3m1-4v2m0 32v3m1-30v1m1-6v3m1 31v3m1-38v2m0 10v1m0 4v2m0 5v1m1-27v3m0 32v2m1-37v3m1-2v7m1-6v2m1-2v3m1-4v2m0 14v2m1-16v3m1-5v2m1-2v5m1-5v4m1-3v4m0 23v1m0 3v3m1-34v3m0 27v2m1-34v3m1-2v3m1-2v2m1-3v2m0 3v1m1-6v2m1-3v3m1-1v2m1-4v3m0 11v1m1-15v2m0 7v5m0 1v3m1-18v9m0 5v2m0 14v2m1-30v2m1-2v2m1-3v2"/>
<path stroke="#8553fe" d="M0.5 106v2m0 5v5m0 13v5m1-30v2m0 3v5m0 3v4m1-17v7m0 5v2m0 9v1m0 3v2m1-27v1m0 4v2m0 2v3m1-16v3m0 13v7m1-23v2m0 8v2m0 7v4m1-19v2m0 2v2m0 2v2m1-13v2m0 8v1m1-14v3m0 13v2m0 2v3m1-20v3m0 11v5m1-17v1m0 6v3m0 5v3m0 7v2m1-27v1m0 7v4m1-16v3m0 8v1m0 4v4m1-17v2m0 12v2m0 3v1m1-21v4m0 8v2m1-12v1m0 17v1m0 2v2m1-25v1m1-1v3m0 16v2m0 6v2m1-29v1m1-2v2m0 8v4m0 3v1m1-19v2m0 13v1m0 15v3m1-33v2m0 10v2m0 11v2m0 1v2m2-30v3m0 8v1m0 12v2m0 2v2m1-28v1m0 8v1m0 8v2m0 5v3m1-29v2m0 10v5m1-18v2m1 1v1m1-3v2m0 2v3m1-5v1m0 10v2m0 11v5m1-31v1m0 24v1m0 3v2m1-30v1m1-3v1m0 11v3m1-14v1m1-2v1m1 0v1m1-1v1m0 10v6m1-19v6m0 5v5m0 13v4m1-33v5m1-4v3m0 25v1m0 3v1m1-33v2m0 14v1m1-16v1m0 24v3m1-28v2m0 12v3m1-18v2m1 0v2m0 23v1m0 2v1m1-26v1m1-2v1m1-3v2m1 3v5m1-12v3m0 25v4m1-31v2m0 7v2m0 2v4m1-19v2m0 7v1m0 6v3m0 9v3m1-29v3m0 6v4m1-11v2m0 10v3m1-18v2m0 11v3m0 15v4m1-34v2m0 5v1m1-8v1m1-2v2m1 1v1m1-1v3m1-3v1m0 25v2m1-26v1m0 23v1m0 2v1m1-30v2m0 5v1m0 17v4m1-28v1m0 3v1m0 5v1m1-13v2m0 5v5m0 15v3m1-30v1m0 10v3m0 14v1m1-30v1m0 10v3m0 1v2m1-16v1m0 11v1m0 12v2m1-28v1m0 11v4m0 6v1m1-24v1m0 15v1m0 7v1m1-25v2m1 1v8m1-11v2m0 6v4m0 4v1m0 10v2m0 3v2m1-31v1m0 4v1m0 7v1m0 13v1m0 3v1m1-30v4m0 22v1m1-29v2m1-4v2m0 11v1m0 13v2m0 3v1m1-32v2m0 7v1m0 3v4m0 10v5m1-30v1m0 23v2m0 4v1m1-32v4m0 4v5m1-13v2m1-1v2m0 7v2m1-12v2m0 6v3m0 2v1m1-8v2m0 2v3m1-11v3m0 3v1m1-11v4m1-5v4m0 22v4m1-28v1m0 22v1m1-24v2m0 5v1m0 3v3m1-12v4m0 21v4m1-32v1m0 11v4m0 10v4m1-29v1m1 1v2m0 11v2m1-16v2m1-1v1m0 24v2m0 2v1m1-32v3m0 8v3m0 10v3m1-28v2m0 6v2m0 1v9m1-21v8m0 4v2m0 13v5m1-30v4m0 3v3m0 25v1m1-35v1m0 26v1m0 2v1m1-31v2m0 8v1m0 2v1m0 9v1m0 7v2m1-36v4m0 9v1m0 2v1m0 8v1m0 2v2m1-26v2m0 5v2m0 3v1m1-12v2m0 4v1m0 3v3m1-15v2m1-4v3m0 25v5m1-33v1m0 25v1m1-28v4m0 24v4m1-29v2m0 24v3m1-31v5m0 4v5m1-15v11m1-11v2m0 4v4m1-7v7m0 6v1m1-16v3m0 9v4m0 10v1m0 1v1m1-29v3m0 23v3m1-28v2m0 6v1m0 4v1m1 1v1m0 12v1m1-24v10m1-17v2m0 4v3m0 1v2m1-11v2m1-1v2m1-2v5m1-5v3m1-3v3m0 1v2m0 4v1m0 3v1m1-14v1m0 7v4m1-13v2m0 25v2m1-31v2m0 2v2m0 24v2m1-26v1m0 21v4m1-29v1m0 4v1m0 23v1m1-30v1m0 4v2m0 7v3m0 13v1m0 3v2m1-38v2m0 7v1m0 7v1m0 9v7m1-35v2m0 13v4m0 11v2m0 2v1m1-35v3m0 9v6m1-13v2m0 9v2m0 7v3m1-27v4m1-3v3m1-5v2m0 6v6m0 2v1m1-14v2m1-5v6m0 9v1m1-13v1m0 8v3m1-13v2m1-1v1m0 29v1m1-32v2m0 24v1m0 2v2m1-33v4m0 6v4m0 13v2m1-28v4m0 8v4m0 12v4m1-32v2m0 11v2m1-12v1m1-5v4m1-4v8m1-7v2m0 6v3m1-12v4m0 5v2m0 1v4m0 14v2m1-33v7m0 9v1m1-3v1m0 12v1m0 2v1m1-29v5m1-5v2m1-3v2"/>
<path stroke="#7c60fe" d="M0.5 108v5m0 5v3m0 1v3m0 4v2m0 5v1m1-29v3m0 5v3m0 4v1m0 6v7m1-24v5m0 2v2m0 13v1m1-27v4m0 7v13m1-26v2m0 7v4m0 7v5m1-26v8m0 2v7m0 4v2m0 4v4m1-27v2m0 6v1m0 8v6m1-26v1m0 6v1m0 1v2m0 10v3m1-26v3m0 5v5m0 7v2m1-19v2m0 4v1m0 3v1m0 5v1m1-17v1m0 4v1m0 3v5m0 3v1m0 4v2m0 2v2m1-28v1m0 5v1m0 4v2m0 15v2m1-32v1m0 16v2m1-17v1m0 9v2m0 6v1m1-18v1m0 5v2m0 2v8m1-19v1m0 7v6m0 2v1m0 5v1m1-25v2m0 12v3m1-15v1m0 14v1m0 2v1m0 3v2m0 2v1m1-29v2m0 13v1m0 6v6m1-28v1m0 6v1m0 8v1m0 5v6m1-29v1m0 10v2m0 1v2m0 9v4m0 3v1m1-32v1m0 8v1m0 2v2m0 8v1m0 5v1m1-29v1m0 9v3m0 19v1m1-32v1m0 12v1m0 6v1m0 6v5m1-13v1m0 2v2m1-15v1m0 5v2m1-18v2m0 9v3m2-13v2m0 3v1m0 4v5m0 10v4m1-28v1m0 6v3m0 2v2m0 6v3m0 5v2m1-32v1m0 14v2m0 6v1m0 6v4m1-33v1m0 10v4m0 11v6m1-34v1m0 9v1m0 3v1m0 16v1m1-31v1m0 9v2m1-13v1m0 11v8m1-19v2m1-2v1m0 8v1m0 6v2m0 1v3m0 4v4m1-27v2m0 2v1m0 5v1m0 4v3m0 3v2m0 4v1m1-29v1m1-2v1m0 7v4m0 11v2m0 1v3m0 1v2m1-33v1m0 12v1m0 6v1m0 4v2m1-27v1m0 10v6m0 6v1m0 3v2m1-28v1m0 10v1m0 3v1m0 11v3m1-31v1m0 25v5m1-29v1m0 21v1m0 4v1m1-3v2m1-26v1m1-2v2m1 6v1m1-10v3m0 4v5m0 12v1m0 4v1m1-30v1m0 5v1m0 8v2m0 7v5m1-31v2m0 15v1m0 6v2m0 3v2m1-18v3m1-8v1m0 8v1m1-17v4m0 5v2m0 3v1m0 13v1m0 4v1m1-33v1m0 3v1m0 1v6m0 13v6m1-32v1m0 24v3m1-28v1m0 26v4m1-23v2m1-6v2m0 24v2m1-30v1m0 23v1m0 2v3m1-28v1m0 21v1m1-24v1m0 3v1m0 1v2m0 14v1m1-23v3m0 7v1m1-8v1m0 5v2m0 12v1m0 3v1m1-30v1m0 5v4m0 3v1m0 12v1m0 5v1m1-34v1m0 8v1m0 3v1m0 2v1m0 8v7m1-31v1m0 8v2m0 15v5m1-32v1m0 8v2m0 18v1m1-31v2m0 10v3m0 9v1m1-24v2m0 10v3m0 11v6m1-23v6m0 11v3m1-29v1m0 4v1m0 9v1m0 8v1m0 2v3m0 2v1m1-31v2m0 1v1m0 9v1m0 10v2m1-21v8m0 13v1m0 4v1m1-31v6m0 19v3m1-30v1m0 9v1m0 1v2m0 10v1m1-24v1m0 5v1m0 8v1m0 7v2m0 5v2m1-31v1m0 5v6m0 10v1m1-12v1m0 14v3m1-29v1m0 6v4m1-10v7m0 2v2m1-12v1m0 3v2m0 6v1m1-7v2m0 3v1m1-5v2m0 15v3m1-27v2m0 6v4m0 10v3m0 2v3m1-31v1m0 20v1m0 4v1m1-28v1m0 4v10m0 6v1m0 5v1m1-27v5m0 1v3m0 3v1m0 12v3m1-24v1m0 3v5m0 11v1m0 4v1m1-32v2m0 4v5m0 4v1m0 13v4m1-32v1m0 23v5m1-26v1m0 1v9m0 2v1m0 11v4m1-30v1m0 8v5m0 10v2m1-26v2m0 1v6m0 14v1m1-13v2m0 7v1m0 3v1m1-27v2m0 3v1m1-1v4m0 14v1m0 5v1m1-27v3m0 9v1m0 7v9m1-31v1m0 8v3m0 12v2m0 4v1m1-30v1m0 6v1m0 4v1m1-14v9m0 4v1m0 12v1m1-25v1m0 2v2m0 6v2m0 9v3m1-24v4m0 7v1m0 9v3m1-26v2m0 2v3m0 16v4m1-28v3m0 2v9m0 9v2m0 5v1m1-33v2m0 4v4m0 22v1m1-31v2m0 21v1m0 4v1m1-28v2m0 5v3m0 13v1m0 3v1m1-27v4m0 5v1m1-5v8m1-17v4m0 4v3m0 14v6m1-23v1m0 3v2m0 1v1m0 9v3m1-26v2m0 3v4m0 4v1m0 8v1m0 3v2m1-28v2m0 3v5m0 16v1m1-27v1m0 4v1m0 6v1m0 11v7m1-17v1m0 10v1m0 1v2m1-16v1m1-16v4m0 6v1m0 16v5m1-31v2m0 8v3m1-12v1m0 6v3m1-7v3m0 3v4m0 12v5m1-29v2m0 5v6m1-13v1m0 2v4m0 5v1m0 10v3m1-27v2m0 4v1m0 4v1m1-12v4m0 5v1m0 14v1m0 2v1m1-30v2m0 2v4m0 3v4m0 12v1m0 5v1m1-29v1m0 19v1m0 4v1m1-29v4m0 1v1m0 20v2m0 1v2m1-31v4m0 2v2m0 2v3m0 11v5m1-30v2m0 4v1m0 9v1m0 2v1m0 12v1m1-34v2m0 3v8m0 4v1m0 8v2m0 5v1m1-33v4m0 4v1m0 6v1m1-12v1m0 3v5m0 2v1m0 4v2m0 3v1m1-24v2m0 3v2m0 6v3m0 6v3m1-25v2m1-5v6m0 9v1m1-13v2m0 3v4m0 2v2m1-12v1m0 6v2m0 1v1m1-13v1m0 6v1m0 3v1m1-12v2m0 3v2m0 17v5m1-29v1m0 13v2m0 5v1m0 8v2m1-32v3m0 4v5m0 11v1m0 5v2m1-31v2m0 2v2m0 4v1m0 11v1m0 2v1m1-25v2m0 3v3m0 4v1m0 10v1m0 4v2m1-32v1m0 9v1m0 2v1m0 12v5m1-29v1m0 5v6m1-13v1m0 24v5m1-26v6m1-11v2m0 3v1m0 3v2m0 15v1m1-26v2m0 2v1m0 7v1m0 12v1m0 2v1m1-17v1m1-3v1m0 15v2m1-26v1m0 4v5m1-13v1m1-2v1"/>
<path stroke="#746cfd" d="M0.5 121v1m0 3v1m0 2v1m0 8v1m1-14v1m0 4v1m0 7v1m1-16v1m0 5v1m0 7v1m1-4v2m1-26v2m0 3v2m0 16v3m1-6v4m0 4v1m1-19v5m0 2v1m0 6v2m1-27v2m0 3v1m0 4v4m0 4v2m0 3v4m1-27v5m0 14v1m0 4v8m1-30v4m0 1v3m0 11v10m1-30v1m0 2v1m0 13v4m0 6v1m1-28v1m0 3v1m0 7v15m0 2v1m1-32v1m0 5v1m0 18v2m1-18v2m0 9v3m0 5v5m1-30v1m0 2v2m0 12v2m0 4v5m1-23v1m0 6v2m0 7v1m0 3v3m1-30v1m0 9v2m0 3v2m0 4v6m1-26v1m0 6v2m0 3v2m0 4v3m0 5v1m0 3v1m1-32v1m0 6v6m0 1v2m0 3v1m0 6v3m1-14v5m0 6v4m1-32v1m0 3v6m0 5v2m0 4v3m0 8v1m1-32v1m0 12v2m0 5v1m0 7v2m1-30v1m0 11v4m0 5v5m0 3v2m0 1v1m1-32v1m0 5v1m0 6v1m0 3v2m0 12v1m1-33v1m0 6v1m0 12v2m0 5v1m1-28v1m0 7v1m0 8v1m0 5v2m1-17v2m0 3v5m1-17v1m0 6v7m0 12v3m1-24v4m0 5v1m0 8v1m0 4v2m1-24v1m0 7v1m0 4v1m0 10v2m1-33v1m0 11v2m0 2v2m0 3v1m0 11v1m1-33v1m0 8v1m0 4v1m0 9v1m0 6v1m1-34v1m0 7v1m0 5v1m0 13v2m0 1v1m1-31v1m0 7v1m0 2v3m1-15v1m0 9v1m1-9v1m0 6v13m0 3v3m1-27v1m0 6v1m0 9v1m0 3v1m0 2v1m0 4v1m1-26v2m0 7v4m0 3v3m0 7v1m1-29v1m0 3v10m1-15v1m0 5v1m0 4v5m0 5v1m0 9v2m1-34v1m0 10v1m0 8v1m0 2v1m0 2v2m1-28v2m0 7v1m0 6v1m0 11v2m1-29v1m0 8v1m0 5v1m0 7v3m0 3v1m1-31v1m0 5v8m0 9v2m0 5v1m1-9v1m0 6v1m1-27v1m0 6v3m0 11v2m0 2v1m1-26v1m0 6v3m0 13v6m1-29v2m0 1v1m0 6v1m0 12v4m1-20v1m0 16v3m1-27v1m0 2v1m0 5v4m0 14v2m1-31v1m0 21v1m0 5v1m1-30v1m0 2v2m0 16v1m0 7v2m1-17v1m1-13v1m0 13v1m0 13v1m1-28v2m0 2v1m0 18v1m0 6v1m1-33v3m0 8v1m0 11v1m0 6v1m1-32v1m0 8v5m0 9v1m0 3v3m1-30v1m0 2v11m0 11v1m0 4v1m1-30v1m0 3v2m0 2v2m0 13v3m0 3v2m1-27v1m0 18v5m0 2v1m1-30v1m0 20v2m0 6v1m1-9v2m0 5v1m1-28v1m0 1v1m0 4v3m0 10v1m0 5v1m1-17v1m0 12v3m1-28v1m0 2v1m0 8v1m0 9v2m0 5v1m1-30v1m0 3v1m0 18v2m1-26v1m0 6v1m0 15v1m0 7v1m1-24v1m0 22v1m1-32v1m0 6v1m0 13v1m0 4v2m0 1v2m1-31v1m0 7v2m0 13v8m1-30v2m0 7v1m0 3v2m0 8v1m0 6v1m1-18v1m0 9v1m0 3v3m1-31v1m1 2v1m0 11v1m0 8v1m0 7v1m1-19v1m0 11v1m1-19v1m0 3v1m0 13v1m0 3v1m1-30v1m0 7v1m0 4v1m0 8v1m0 7v1m1-30v1m0 3v1m0 10v1m0 5v1m1-17v1m0 6v1m0 17v1m1-19v1m0 10v3m0 3v1m1-29v1m0 3v2m0 4v2m0 9v5m1-15v1m0 10v4m1-14v1m1-2v1m0 12v3m1-19v4m0 9v2m0 3v1m1-26v6m0 4v1m0 8v1m0 3v2m0 3v1m1-31v1m0 25v2m1-29v4m0 10v1m0 4v1m0 7v1m1-15v1m0 10v1m0 3v1m1-24v3m0 5v1m0 9v1m1-24v4m0 18v1m0 8v1m1-32v3m0 3v7m0 9v1m0 5v3m1-28v1m0 21v2m0 4v1m1-30v8m0 5v1m0 8v1m0 2v3m1-27v1m0 6v6m0 7v1m0 6v1m1-17v2m0 4v1m0 5v3m1-28v3m0 13v1m0 6v5m1-12v1m0 11v2m1-10v1m0 9v2m1-32v1m0 5v2m0 3v1m0 10v1m1-22v6m0 6v1m0 5v2m0 10v1m1-19v1m0 5v1m0 6v5m1-29v2m0 10v1m0 7v1m0 3v2m1-14v1m0 5v3m0 3v2m1-26v2m0 3v2m0 2v4m0 7v1m0 4v1m1-26v2m0 9v1m0 7v1m0 8v1m1-32v1m0 2v1m0 4v2m0 12v1m1-21v4m0 4v4m0 8v1m0 6v1m1-27v5m0 3v2m0 10v1m1-12v2m0 9v4m1-4v7m1-21v2m0 11v1m0 6v1m1-23v3m0 4v1m0 11v1m1-25v1m0 1v1m0 9v1m0 6v1m0 6v2m1-28v3m0 5v4m0 8v1m0 4v2m1-28v4m0 8v1m0 9v1m0 7v1m1-8v1m0 4v1m1-16v1m0 9v4m1-19v2m0 13v1m0 5v1m1-30v8m0 3v1m0 18v2m1-32v2m0 3v1m0 3v2m0 10v7m1-23v3m0 4v1m0 8v3m0 5v1m1-28v5m0 6v1m0 9v6m1-16v1m0 12v2m1-27v4m0 6v2m0 10v5m1-25v5m0 1v3m0 15v2m1-24v3m0 4v1m0 10v1m1-21v1m0 6v2m0 9v1m0 6v1m1-24v1m0 2v5m0 11v1m1-18v2m0 6v1m0 6v1m1-23v4m0 11v2m0 14v1m1-33v3m0 19v2m1-21v4m0 8v2m0 7v2m1-22v3m0 8v4m0 6v5m1-27v3m0 2v6m0 8v1m0 3v2m1-25v7m0 15v3m1-4v4m1-25v3m0 4v2m0 2v1m0 8v3m0 6v1m1-30v1m0 3v2m0 4v1m0 13v3m1-29v1m0 4v1m0 5v1m0 7v5m0 6v1m1-30v3m0 2v3m0 6v2m0 5v1m0 5v2m1-30v1m0 4v8m0 2v1m0 15v1m1-30v4m0 5v1m0 9v1m1-21v2m0 7v2m0 13v4m1-27v3m0 8v1m0 8v1m1-24v1m0 7v1m0 4v1m0 10v1m0 5v1m1-29v5m0 18v4m1-28v2m0 4v6m0 10v2m0 5v1m1-21v1m0 13v5m1-28v3m0 6v2m0 11v2m0 1v3m1-27v2m0 20v1m0 4v1m1-17v1m1-3v1m0 16v2m1-27v4m0 5v1m0 15v2m1-30v11m0 13v2m1-27v1m0 10v2m0 13v7"/>
<path stroke="#6c78fc" d="M0.5 126v2m0 10v1m1-14v4m0 9v1m1-16v2m0 2v1m0 9v1m1-3v2m1-26v3m0 21v2m1 1v1m1-15v2m0 9v3m1-28v3m0 9v4m0 9v5m1-12v4m0 8v1m1-16v1m0 2v1m0 10v1m1-30v2m0 25v1m1-28v1m0 1v1m0 26v1m1-15v1m0 5v1m0 2v1m1-26v1m0 5v1m0 14v5m1-24v2m0 16v4m1-24v1m0 4v1m0 17v3m0 3v2m1-31v1m0 4v4m0 7v4m0 6v1m1-21v1m0 2v3m0 15v3m0 1v1m1-32v1m0 4v1m0 9v3m0 10v1m1-31v1m0 4v1m0 25v1m1-32v3m0 13v4m1-13v1m0 7v1m0 3v1m0 10v2m1-31v1m0 6v1m0 7v5m0 5v3m0 4v1m1-19v3m1 10v1m0 1v1m1-24v1m0 10v1m0 2v2m0 2v6m1-30v1m0 5v1m0 10v1m0 8v3m1-24v2m0 7v3m0 4v5m0 3v1m1-15v2m0 4v2m0 7v1m1-30v1m0 3v1m0 9v1m0 2v1m0 13v1m1-33v1m0 4v6m0 6v3m1-19v1m0 2v5m0 6v9m0 8v1m1-34v1m0 13v1m0 7v5m0 4v4m1-21v4m0 8v4m1-30v1m0 7v1m0 9v1m0 9v4m1-30v1m0 4v1m0 13v3m0 3v2m1-24v2m0 15v2m1 7v1m1-29v3m0 10v1m0 4v8m1-27v1m0 14v5m1-21v1m0 7v2m0 10v2m0 5v1m1-27v1m0 3v3m0 8v1m0 3v1m0 8v1m1-29v1m0 6v1m0 7v1m0 5v1m1-23v1m0 2v2m0 8v2m0 6v1m0 8v2m1-31v5m0 13v2m0 8v1m1-24v3m0 3v1m0 5v5m0 5v1m1-26v1m0 3v2m0 3v2m0 10v1m0 6v1m1-28v1m0 1v6m0 1v2m0 9v1m0 4v2m1-21v2m0 11v3m0 3v1m1-27v2m0 10v1m0 6v1m0 8v1m1-31v4m0 11v1m0 12v1m1-30v2m0 13v1m1-2v1m0 8v6m1-27v1m0 1v1m0 17v3m0 2v2m0 1v1m1-27v2m0 7v1m1-2v1m0 18v1m1-32v1m0 5v2m0 5v1m0 7v1m0 7v1m1-30v2m0 11v2m0 1v3m0 4v1m0 6v1m1-30v3m0 6v6m0 5v2m0 3v3m0 2v1m1-27v3m0 2v3m0 7v3m0 8v1m1-30v10m0 9v1m0 9v1m1-29v1m0 4v2m0 10v2m1-19v1m0 8v2m0 7v1m0 7v1m1-17v1m0 10v1m0 3v2m1-29v2m0 18v1m0 8v2m1-31v3m0 9v1m0 8v1m0 9v1m1-28v1m0 9v1m0 5v1m0 9v1m1-32v1m0 5v1m0 24v1m1-32v1m0 4v1m0 15v4m0 5v2m1-32v1m0 5v1m0 23v1m1-29v7m0 6v1m0 6v1m1-9v1m0 15v1m1-31v1m0 1v1m0 11v1m0 16v1m1-10v1m1 1v1m0 7v1m1-25v3m0 1v2m0 10v1m0 5v1m1-30v5m0 1v1m0 6v2m1-14v1m0 1v1m0 16v1m0 10v1m1-31v1m0 2v1m0 8v1m0 7v1m1-9v1m0 8v1m1-21v1m0 1v1m0 8v1m0 7v1m0 5v2m1-16v1m0 8v1m0 4v3m1-29v3m0 19v4m1-14v1m0 9v2m0 3v1m1-16v2m0 6v1m0 6v1m1-16v2m1-14v9m0 9v1m0 8v2m1-16v1m0 2v1m0 9v1m1-6v1m1-2v1m0 7v1m1-17v1m0 17v1m1-30v3m0 7v1m0 7v1m0 9v2m1-17v1m0 6v2m0 7v1m1-17v2m0 4v2m0 6v1m1-15v1m1 12v1m1-7v1m0 5v2m1-10v1m0 9v1m1-17v1m1-14v5m0 6v1m0 8v1m0 8v1m1-17v5m1 12v1m1-17v1m0 5v1m0 6v4m1-17v5m0 8v2m1-21v2m0 4v2m0 3v2m0 6v1m1-15v1m1-15v2m0 7v2m0 9v1m1-16v4m0 4v1m1-2v1m0 8v1m0 6v1m1-16v1m0 7v1m0 4v1m1-13v1m0 6v1m0 7v1m1-20v2m0 17v1m1-16v1m0 6v1m0 4v1m1-25v1m0 11v6m0 9v1m1-17v3m0 12v1m1-16v2m0 6v1m1-8v1m0 7v1m0 6v1m1-8v1m0 4v2m1-19v1m0 11v1m0 7v1m1-19v1m0 10v7m0 2v1m1-31v3m0 6v1m0 8v1m0 7v1m0 3v1m1-20v1m0 6v1m0 9v1m1-17v1m0 6v2m0 6v2m1-9v1m0 5v4m1-19v5m0 4v1m0 5v1m1-17v1m0 9v1m0 6v1m1-17v1m0 8v1m1-19v6m0 2v2m0 15v1m1-24v2m0 5v1m0 8v2m0 6v1m1-15v1m0 1v4m2-7v1m0 4v1m0 10v1m1-11v2m0 2v4m2-2v1m1-19v4m0 9v2m0 3v1m1-6v1m0 4v6m1-12v1m0 3v2m0 2v2m0 1v1m1-30v3m0 7v1m0 5v7m0 3v3m1-31v4m0 7v2m0 3v2m0 5v6m0 1v1m1-23v4m0 1v1m0 2v1m0 3v1m0 8v2m1-31v4m1 7v1m0 5v3m0 9v1m1-19v1m0 7v1m0 8v1m1 0v1m1-31v1m0 5v1m0 15v1m0 7v1m1-19v1m0 10v1m0 4v3m1-29v4m0 6v1m0 17v1m1-21v1m0 11v1m0 5v2m1-19v1m0 16v1m1-17v1m0 16v1m1-7v6m1-18v1m0 8v1m0 8v1m1-18v1m0 11v3m0 2v2m1-21v2m0 10v1m0 2v5m1-31v4m0 4v2m0 2v1m0 11v1m0 7v1"/>
<path stroke="#6287fa" d="M0.5 139v1m2-15v2m0 11v4m1-5v2m1-2v1m1 1v1m1-2v1m1 1v1m2-15v2m0 12v1m1-3v2m1-29v1m0 28v1m1-33v1m0 3v1m0 13v1m0 3v1m0 4v6m1-31v1m0 2v2m0 25v1m1-3v1m1-29v1m0 2v1m0 26v1m1-31v1m0 2v1m0 22v1m1-27v1m0 3v1m1-5v4m0 24v1m3-31v1m0 4v1m0 9v3m0 13v1m1-31v2m0 3v1m1-6v1m0 3v1m0 26v1m1-33v1m0 4v1m0 22v1m0 1v2m1-32v1m0 4v1m0 12v2m0 10v1m1-30v1m0 2v2m0 12v1m0 4v3m0 3v3m1-31v4m0 12v4m0 9v1m1-14v4m0 10v1m1-30v3m0 11v2m1-17v1m0 2v1m0 28v1m1-32v2m1 1v1m0 8v2m0 4v1m1-21v1m0 5v1m0 10v1m0 2v5m0 4v1m1-30v1m0 5v1m0 11v1m0 2v6m0 4v1m1-27v1m0 22v4m1-32v1m0 2v1m0 25v1m1 1v1m1-16v1m0 2v1m0 8v1m1-24v1m0 27v1m1-33v1m0 4v2m0 20v4m1-30v3m0 14v1m0 10v1m1-29v6m0 9v1m0 3v1m0 8v1m1-30v2m0 12v2m0 15v1m1-27v9m0 15v1m1-28v3m0 7v2m0 2v1m0 11v2m1-27v3m0 7v1m0 8v1m1-1v1m0 7v1m1-20v1m0 9v1m0 7v1m1-15v1m0 15v1m1-12v1m0 8v1m1-12v1m0 10v1m1-16v1m0 5v2m0 6v2m1-28v1m0 12v1m0 8v2m0 4v1m1-18v1m0 9v1m0 8v1m1-21v1m0 8v1m0 9v1m1-32v5m0 8v1m0 15v1m1-16v1m0 3v1m0 2v1m1-7v1m0 2v2m1-13v2m0 3v2m0 2v3m0 12v1m1-21v3m0 5v1m1-17v1m0 1v2m0 2v2m0 18v1m1-17v1m0 5v1m1 1v2m0 6v2m1-19v1m0 6v1m1-7v1m0 6v1m1-22v1m0 3v1m0 11v2m1-17v1m0 3v1m1-5v4m0 27v1m1-32v5m0 25v1m1-16v1m0 4v1m1 0v1m0 8v1m1-31v1m0 19v1m1-7v1m0 4v2m0 10v1m1-19v1m0 5v4m1-10v1m0 7v2m0 7v1m1-26v1m0 9v1m0 4v1m0 9v1m1-29v1m0 13v2m0 1v1m1-18v2m0 27v1m1-11v1m0 8v1m1-28v1m0 16v1m0 8v1m1-9v1m0 8v1m1-17v1m0 7v1m0 4v2m1-15v1m0 7v1m0 6v1m1-15v1m0 13v1m1-15v1m0 4v1m0 10v1m1-22v3m0 17v1m1-16v2m0 11v2m1-17v1m0 7v1m0 6v1m1-16v1m0 6v1m0 9v1m1-11v1m1-8v7m1 1v1m1-5v4m1-5v1m0 4v1m0 8v1m1-16v1m0 2v1m0 10v1m1-13v1m0 12v1m1-14v3m1-5v1m0 3v1m1-7v1m1 18v1m1-19v1m0 3v1m0 13v1m1-17v1m0 3v1m1 9v3m1-16v3m1 0v1m0 10v1m1-21v2m0 17v1m1-17v1m0 5v1m0 8v1m1-17v1m0 15v1m1-16v2m0 3v2m0 6v2m1-9v1m1-9v1m0 7v1m0 9v1m1-11v1m0 6v4m1-1v1m1-15v1m0 12v1m1-15v2m0 3v1m1 0v1m1-8v1m0 6v1m1-11v2m0 8v1m1-1v2m1-11v1m0 6v1m0 9v3m0 1v1m1-15v1m1 0v1m1-7v1m0 6v1m0 10v1m1-15v1m0 2v1m0 7v1m1-17v1m0 7v1m1-1v1m0 9v1m1-18v1m0 5v1m0 9v1m1-17v1m0 6v1m0 9v1m1-15v1m2-2v1m0 2v1m1-4v1m0 3v1m0 8v1m1-1v1m1-14v1m0 3v1m0 7v1m1-16v1m0 14v1m1-16v1m1 0v1m0 5v1m0 6v2m1-15v5m1-5v3m1-4v1m0 6v1m0 11v2m1-18v1m0 2v1m0 12v1m1-20v1m0 3v1m0 13v1m1-19v1m0 5v1m0 10v1m1-17v1m0 6v1m0 9v1m1-31v2m0 2v1m0 7v1m1 8v1m1-2v1m1-11v1m0 18v1m1-10v1m0 7v1m1-8v1m0 7v1m1-18v1m0 8v1m0 6v2m1-19v1m0 17v1m1-18v1m0 8v2m1-12v1m0 8v1m0 8v1m1-28v4m0 15v1m0 9v1"/>
<path stroke="#5895f9" d="M1.5 139v1m1 2v1m1-4v1m1-2v1m1 1v1m1-2v1m1 1v1m1-1v1m2-2v1m1 0v1m1-33v1m0 1v1m0 15v3m0 11v1m1-31v2m2-2v2m0 28v1m1-31v2m0 24v3m1-29v1m0 1v1m0 27v1m2-34v1m0 2v1m0 27v1m1-1v1m1-31v1m0 30v1m1-30v1m0 1v1m1 27v1m1-2v1m1-32v1m0 2v1m0 26v1m1-30v2m0 15v4m0 9v1m3 0v1m1-32v2m1 29v1m1-34v1m0 3v1m0 11v4m0 14v1m1-34v1m0 3v1m0 12v2m0 10v1m1-30v5m0 13v2m0 11v1m1-31v1m0 1v1m0 27v1m1-32v2m0 27v2m1 0v1m1-16v2m0 10v4m1-31v1m0 1v1m1-3v1m0 2v1m0 26v1m1-16v2m0 12v1m1-12v1m0 10v1m1-15v4m0 12v1m1-19v2m0 1v1m0 12v1m1-17v2m0 14v2m1-18v2m0 5v1m0 9v1m1-18v1m0 6v1m1-10v2m0 6v1m1-1v1m1-5v1m0 1v2m1-5v3m0 12v1m1-16v5m0 10v1m1-11v1m0 10v1m1-10v1m1-10v1m1 0v1m0 4v1m0 10v1m1-12v2m0 9v1m1-15v2m0 13v1m1-18v2m0 16v1m1-19v1m0 3v1m0 12v1m1-28v1m0 6v2m0 5v1m0 11v1m1-17v1m0 14v1m1-17v1m0 5v2m0 10v1m1-19v2m0 3v1m0 12v1m1-18v1m0 3v2m0 12v1m1-33v3m0 14v3m0 11v1m1-31v3m0 27v1m2-1v1m1-16v1m0 2v1m0 10v1m1-17v1m0 16v1m1-18v1m0 16v1m1-17v1m0 1v2m1-5v1m0 3v1m0 13v1m1-19v1m0 5v1m0 10v1m1-16v2m0 1v1m1-2v1m0 13v1m1-19v1m0 5v1m1-7v1m0 4v2m1-7v1m0 4v1m1-6v1m1 6v1m0 7v2m1-16v1m0 5v1m0 8v1m1-15v1m0 3v1m0 9v1m2-18v2m0 3v1m1 11v1m1-11v1m0 8v1m1 1v1m1-18v1m0 4v1m0 12v1m2-1v1m1-3v1m2-15v2m0 12v1m1-13v1m0 1v2m1 9v1m1-16v3m1 1v1m0 10v1m2-17v1m0 1v1m1 14v1m2-4v1m1-15v1m1 3v1m1 10v1m1-17v1m0 5v1m0 9v1m1-15v3m0 10v1m1-15v1m0 3v1m0 10v1m1-18v2m0 16v1m1-17v5m0 11v1m2-12v1m0 9v1m1-14v3m0 11v1m1-17v1m0 3v2m0 9v1m1-16v2m0 3v1m0 8v1m1 1v1m1-19v1m0 19v1m1-21v1m1 0v1m0 3v1m0 12v1m1-17v1m0 3v1m0 11v1m2-13v2m0 9v1m1-17v1m0 15v1m1-17v1m0 5v1m1-6v1m0 3v1m1 0v1m2 11v1m1-16v2m0 13v1m1-16v1m0 1v1m0 10v1m1-1v1m1-2v1m1-16v1m0 6v1m0 7v1m1-9v1m0 11v1m1-15v1m0 13v1m1-2v1m1-1v1m1-15v2m1-3v2m1-5v1m0 1v1m1-3v1m0 3v1m1 13v1m1-30v2m0 16v1m0 9v1m1-19v1m0 17v1m1-19v1m0 17v1m1-20v1m0 8v1m1-10v1m0 17v1m1-18v1m0 7v1m0 9v1m1-1v2m1-2v1m1-18v1m0 16v1m1-1v1m1-20v1m0 8v1"/>
<path stroke="#4ba6f6" d="M0.5 140v1m3-1v1m1-2v1m1 1v1m4-1v1m3-32v1m1 30v1m1-3v1m1 2v1m1-3v1m1-29v1m1 26v1m1-31v2m2-1v3m0 28v1m1-30v1m0 28v1m1-32v1m0 1v1m1-4v1m0 2v1m0 28v1m1-32v2m0 28v1m2-2v1m1 0v1m2 1v1m2-34v3m1 27v1m2-29v1m0 29v1m1-2v2m1-1v1m2-31v1m1-1v2m2 13v2m0 12v1m2-16v1m0 14v1m1 0v2m1-18v5m1-6v1m0 4v1m0 10v1m1-18v2m0 3v1m0 10v1m1-15v1m0 15v1m1-16v1m0 12v1m3-15v1m0 2v1m0 12v1m1-19v1m0 6v1m1-8v2m0 4v1m1-6v1m0 15v1m4-17v3m0 14v1m1-20v5m0 13v1m1-14v1m0 11v2m1-18v1m0 3v1m0 13v1m1-18v3m1-3v1m3 16v1m2-16v2m1-4v1m0 4v1m1-6v1m0 3v1m1-4v1m0 15v1m1-18v3m1-3v1m0 2v2m0 12v1m1-15v1m0 12v1m2-13v1m1-5v4m0 12v1m1-17v1m0 2v1m0 11v1m1-11v1m0 10v1m1-17v1m0 15v1m1-16v1m0 2v2m1-2v1m0 11v1m1-16v1m0 2v1m0 12v1m1-18v3m0 13v1m1-1v1m1-18v1m0 15v1m1-17v1m0 4v1m2 12v1m1-17v1m0 3v1m2-4v1m0 2v1m0 10v1m1-1v1m1-13v1m0 11v1m1 0v1m2-19v1m1 18v1m1-18v1m0 16v1m1-17v3m1 13v1m2-18v4m0 12v1m1-20v1m0 4v1m1-4v1m0 3v1m1-5v1m0 3v1m1 10v1m1-15v3m0 12v1m1-17v1m0 3v1m2 11v1m1-15v1m0 13v1m2-16v3m1-2v3m0 10v1m1-18v1m0 6v1m1-7v1m0 5v1m1-7v1m0 2v2m1-4v1m0 1v1m1-2v3m1-4v1m0 4v1m0 12v1m1-3v1m1-17v1m0 4v1m0 10v1m1-13v1m0 12v1m1-17v1m0 1v1m1-4v1m4 2v1m0 12v1m2-15v3m0 10v1m1-12v2m0 9v1m1-17v1m0 5v1m1-6v1m0 1v2m5-4v1m0 16v1m1-18v1m0 1v1m1-3v1m0 4v1m0 12v1m1-20v1m1 6v1m1-8v1m0 5v1m1 10v1m1-12v1m1-1v1m0 11v1m1-19v1m0 6v1m1-9v1m1 7v1m1-9v1m0 6v1"/>
<path stroke="#3fb5f3" d="M0.5 141v1m1-2v1m2 0v1m3-2v1m1 1v1m2-1v1m1-2v1m1 0v1m1-1v1m2-3v1m2 0v1m3-2v1m1-1v1m3-30v1m1-2v2m0 30v1m1-2v1m1-1v1m1-2v1m2 1v1m2-1v1m2-33v3m1 28v1m4-1v1m2-1v1m1-2v1m1 0v1m2-1v1m3-17v1m0 2v1m1-4v3m0 12v1m1-15v1m0 1v1m2 11v1m1-1v1m1-15v2m0 14v1m1-19v1m0 17v1m1-18v1m0 15v1m1-17v1m0 1v1m0 13v1m1-2v1m1 0v2m3-2v1m1-18v3m0 14v1m1-16v1m1 14v1m1-17v2m0 15v1m1-2v1m1-1v1m2-1v1m1-2v1m1 0v1m1-1v1m1 0v1m1-1v1m1-18v2m0 15v1m3-19v4m0 13v1m2-17v2m0 13v1m1-17v1m1 4v1m0 11v1m1-16v2m0 12v1m1-15v2m0 13v1m1-16v2m1 13v1m2-14v1m0 11v1m1-17v2m0 1v1m0 13v1m1-18v1m0 2v1m0 14v1m2-17v1m0 1v1m0 13v1m1-3v1m1-14v2m1 12v1m2 0v1m1 0v1m1-20v1m0 3v1m5 10v2m2-18v1m0 2v1m0 13v1m1-14v1m0 12v1m1-16v3m0 12v1m3 0v1m1-1v1m2-15v2m0 12v1m1-1v1m1-2v1m2-18v1m0 17v1m1-18v1m0 3v1m1-5v2m1-1v1m1 15v1m1-17v1m0 2v1m1 12v1m1-17v4m1-5v1m0 2v1m1-2v1m0 13v1m1-16v1m0 2v1m0 12v1m5-2v1m2-17v4m0 12v2m1-18v1m1 0v1m2 16v1m2-1v1m2-18v1m0 14v1m1-16v4m1 0v1m1-7v1m0 5v1m0 11v1m1-1v1m1-20v1m0 6v1m0 11v1m1-20v1m0 5v1m0 11v1m1 1v1m1-1v1m1-20v1m0 4v1m0 12v1m1-18v1m0 4v1m0 11v1m1-19v1m0 3v2m0 12v1m1-20v1m0 6v1m0 12v1"/>
<path stroke="#37c8ee" d="M1.5 141v1m3-2v1m1 1v1m3-1v1m8-1v1m2-3v1m3 1v1m1-1v1m1-1v1m2-1v1m3-2v1m5-2v1m3 1v1m1-1v1m2-1v1m3-1v1m1-1v1m3-2v1m1-16v2m0 13v1m1-1v2m1-16v1m1 12v1m2 0v1m2-17v2m0 1v2m1-4v3m1-3v1m3 15v1m1-1v1m1-1v1m1-1v1m1-19v2m7 15v1m1-17v1m0 2v1m0 13v1m1-18v3m4 13v1m4-1v1m1-1v1m1-17v1m0 2v1m0 13v1m2-1v1m1-1v1m2-2v1m1-18v1m0 16v1m1-16v1m1-2v2m1 15v1m1-16v1m1 13v1m1-1v1m2-1v1m3-17v3m0 13v1m3 0v1m2-2v2m1-1v1m1-19v2m1-1v2m0 14v1m2-2v1m1 0v1m1-17v3m2 13v1m4-2v1m1-17v1m0 3v1m1-4v3m2 13v1m2-16v2m1 14v1m1-2v1m1-17v2m2-1v2m1 15v1m1-2v1m2-2v1m1-1v1m1-2v1m1 1v1m1-18v4m2 13v1m4-1v1m3-19v1m0 16v1m1-14v1m1-5v1m0 3v1m1-6v1m1-1v1m0 3v1m0 13v1m1-19v1m0 4v1m1-5v1m0 4v1m3-6v3"/>
<path stroke="#47d8e9" d="M0.5 142v1m1-1v1m2-1v1m3-2v1m4 0v1m4-2v1m3 0v1m1-2v1m2-1v1m6 0v1m1-2v1m7 0v1m1-1v1m6-2v1m3 0v1m3-1v1m2-1v1m2-2v1m1 0v1m2-16v1m1 14v1m2-2v1m6 0v1m3-1v1m1-1v1m1-1v1m1-1v1m1-1v1m1-17v2m1 14v1m5-1v1m2-2v1m1 0v1m1-18v1m0 2v1m1-3v2m1 13v1m3 0v1m2-18v1m0 1v1m5 14v1m2-1v1m11-2v1m1 0v1m1-2v1m1-1v1m2 0v1m1-1v1m2-1v1m2-2v1m1-1v1m1-17v3m0 14v1m4-1v1m3-1v1m1-1v1m1-2v1m4 0v1m2-1v1m10-2v1m2-17v1m0 1v2m1-5v4m1-3v3m1-4v1m0 3v1m0 13v1m1-19v3m0 15v1m1-19v1m0 2v1m1-3v1m1-2v1m0 2v1m0 14v1m1-18v1m0 2v1m0 13v1m1-1v1m1-20v1m0 4v1"/>
<path stroke="#60ecdf" d="M4.5 141v1m9 0v1m1-1v1m4-1v1m1-2v1m1 0v1m8-1v1m5-2v1m5 0v1m2-1v1m6-1v1m4-2v1m1 0v1m5-1v1m1-1v1m7-1v1m12-1v1m2-1v1m3-17v2m0 14v1m6-1v1m1-17v1m0 15v1m1-1v1m5-1v1m2-1v1m3-1v1m1 0v1m10-2v1m3-1v1m2-1v1m1-1v1m1-1v1m11-1v1m4-1v1m2-2v1m6 1v1m3-2v1m2-17v1m0 15v1m1-1v1m1-1v1m1-18v1m0 1v1m2-3v2m1-1v1m0 1v1m1-4v2m1-1v2m2-4v4"/>
<path stroke="#81fbd0" d="M2.5 143v1m2-2v1m2-1v1m3 0v1m10-2v1m8-1v1m4 0v1m1-1v1m1-2v1m8-1v1m4 0v1m13-1v1m7-1v1m8-1v1m2-1v1m4-2v1m4-1v1m1 0v1m6-1v1m7-1v1m8-1v1m1-2v1m2-1v1m1-1v1m10 0v1m1-1v1m1-2v1m2 0v1m4-2v1m7-1v1m2 0v1m1-1v1m7-1v1m4-18v1m3 0v1m0 15v1"/>
<path stroke="#adfcb7" d="M0.5 143v1m1-1v1m2-1v1m2-1v1m2-1v1m4-1v1m1-1v1m3-1v1m1-1v1m4-1v1m1-1v1m3-1v1m1-1v1m4-1v1m1-1v1m4-1v1m3-1v1m2-1v1m4-1v1m1-1v1m3-1v1m1-1v1m2-2v1m2 0v1m1-1v1m7-1v1m1-1v1m1-1v1m4-1v1m3-1v1m1-1v1m1-1v1m3-1v1m6-1v1m2-1v1m3-1v1m1-1v1m5-1v1m1-1v1m3-1v1m6-1v1m1-1v1m1-1v1m1-1v1m3-1v1m7-1v1m4-1v1m4-1v1m2-1v1m1-1v1m8-1v1m2-1v1m4-1v1m2-1v1m1-1v1m1-1v1m5-1v1m1-1v1m1-1v1m5-1v1"/>
<path stroke="#ebd890" d="M4.5 143v1m2-1v1m2-1v1m2-1v1m3-1v1m1-1v1m3-1v1m1-1v1m1-1v1m3-1v1m1-1v1m3-1v1m1-1v1m1-1v1m5-1v1m2-1v1m1-1v1m2-1v1m2-1v1m1-1v1m1-1v1m4-1v1m3-1v1m1-1v1m1-1v1m3-1v1m1-1v1m1-1v1m1-1v1m2-1v1m4-1v1m1-1v1m3-1v1m1-1v1m4-1v1m4-1v1m1-1v1m1-1v1m1-1v1m2-1v1m2-1v1m4-1v1m1-1v1m1-1v1m4-1v1m1-1v1m2-1v1m3-1v1m7-1v1m2-1v1m1-1v1m1-1v1m1-1v1m1-1v1m1-1v1m2-1v1m1-1v1m1-1v1m4-1v1m5-1v1m1-1v1m1-1v1m2-1v1m1-1v1m1-1v1m2-1v1m4-1v1m7-1v1m1-1v1m1-1v1m5-1v1m1-1v1m1-1v1"/>
</g></g>
<clipPath id="c11"><rect x="565.7" y="669.4" width="310.6" height="285.8"/></clipPath>
<g clip-path="url(#c11)"><g transform="translate(565 668.4) scale(2)" fill="none" stroke-width="1.04" shape-rendering="crispEdges" filter="url(#hb)">
<rect x="-2" y="-2" width="160" height="148" stroke="none" fill="#ff3333"/>
<path stroke="#7072fc" d="M0.5 0v144"/>
<path stroke="#47d8e9" d="M31.5 91v2m57 2v6m25-19v2m33 9v1m2-18v2m1-3v3m0 5v7m0 7v1m2-21v5m1 2v7m1-21v16m1-3v2"/>
<path stroke="#70f5d8" d="M1.5 0v144m2-34v2m1 2v10m1-38v1m2-33v2m0 31v2m1-29v3m0 9v3m0 26v6m0 14v1m0 10v7m14-80v3m9 28v1m0 2v1m1 42v3m5-51v2m4-24v2m8 74v2m3-2v2m21-2v2m4-48v1m11-26v4m0 18v2m0 6v1m0 39v2m1-43v1m12-20v4m3-9v4m1 8v1m2-35v2m1 13v3m3 0v1m1-1v2m0 12v1m0 10v1m1-18v2m0 2v8m3-7v3m0 50v1m1-57v4m3-6v2m1 58v4m1-61v4m0 1v5m1-12v1m0 2v1m1-7v5m1-4v5m1 5v6m1-20v4m3-9v7m1 1v8m1 54v3m1-66v9m1-14v5m0 3v8m1-15v1m0 4v8m0 56v2m1-76v2m0 4v12m1 2v1m1-17v12m1-6v2m0 58v2m1-68v5m0 5v3m1-10v12m1-12v10m1-7v9m1-2v5m0 3v4m1-28v4m0 8v15m1-41v22m0 13v3m0 1v2m0 41v2m2-77v9m0 3v2m0 2v10m1-29v4m0 3v9m0 3v5m0 7v7m0 1v2m0 43v1m1-69v11m1-18v4m0 3v2m0 5v6m0 4v3m1-35v18m0 3v3m0 7v3m0 47v1m1-85v13m0 16v5m1-29v3m0 4v14m0 2v4m0 51v4m1-75v9m0 58v5"/>
<path stroke="#99ffc3" d="M2.5 0v1m0 5v4m0 11v17m0 1v7m0 4v27m0 1v16m0 2v27m0 8v13m1-130v4m0 60v4m0 20v8m0 2v2m0 23v3m1-133v14m0 9v8m0 23v8m0 4v6m0 3v5m0 16v11m0 10v12m0 6v2m1-135v3m0 70v4m0 1v2m0 27v4m1-113v10m0 62v6m0 26v10m0 20v1m1-133v7m0 2v3m0 31v2m0 2v6m0 11v3m0 9v2m0 2v4m0 11v2m0 27v2m0 3v4m1-128v2m0 23v2m0 10v9m0 3v2m0 5v2m0 3v2m0 1v9m0 5v5m0 2v2m0 6v2m0 9v3m0 1v3m0 6v1m0 7v5m1-93v2m0 37v4m0 16v2m0 19v5m0 5v3m1-56v3m0 12v1m0 12v2m1 22v1m1-97v9m0 43v7m0 9v2m0 5v5m1-57v1m0 35v2m0 18v3m0 16v2m2-111v6m0 31v2m0 67v2m2-104v2m0 13v4m1 86v2m1-8v4m1-42v2m2-42v1m0 3v1m1 2v1m3 4v4m0 19v2m1-44v4m0 85v4m3-4v2m1-72v2m0 16v2m0 4v3m1-29v5m0 7v3m0 12v2m0 37v2m0 3v1m2-3v7m1-70v1m0 63v6m2-58v2m0 2v9m0 38v6m1-4v3m1-54v5m1-1v4m1-31v1m0 2v2m0 11v4m0 8v4m4 43v3m1-74v8m0 4v2m0 20v3m0 28v3m1-79v2m0 12v2m0 61v3m0 3v3m1-40v3m0 33v2m1-3v3m2-28v2m0 26v2m1-5v3m1-27v2m0 20v3m3-79v2m1 11v4m5 65v1m1-74v1m0 18v6m3-20v4m0 6v1m0 16v2m1-41v1m0 9v1m3-6v6m0 15v3m1-12v3m2 57v2m1-93v1m0 26v4m0 3v2m3 8v3m0 1v2m1-28v5m0 9v9m0 45v3m1-78v7m1 10v4m0 2v7m1-13v23m1-31v7m0 57v7m4-45v1m1-27v2m1-7v3m0 4v18m0 9v1m0 35v3m0 2v1m1-66v22m0 1v2m0 4v10m1-39v5m0 13v2m1-28v7m0 1v2m1-18v33m0 4v7m0 28v5m1-66v5m0 7v7m1-17v3m1 2v7m1-10v4m0 2v3m0 14v2m1-18v3m1-74v2m0 38v1m0 16v2m0 6v7m0 3v4m1-6v10m0 45v3m1-85v5m0 4v4m0 17v5m1-50v2m0 33v2m0 4v2m1-7v6m1-2v5m1-18v5m0 4v2m0 2v7m1-28v3m0 3v2m0 2v15m0 1v3m0 48v2m1-69v9m0 7v2m1-39v2m0 2v1m0 22v5m0 5v7m1-32v5m0 3v3m0 2v8m0 8v1m1-24v2m0 9v8m0 5v8m1-30v3m0 21v2m1-29v3m0 1v2m0 7v4m0 55v2m1-86v3m0 8v4m0 2v3m0 1v8m0 1v10m0 1v2m1-33v5m0 1v7m0 12v2m1-31v7m0 8v13m0 2v6m1-37v3m0 2v8m0 19v1m0 43v1m1-82v28m0 3v2m0 6v4m0 36v2m0 1v3m1-82v2m0 2v3m0 5v2m0 6v2m0 4v1m0 51v6m1-74v3m0 8v5m1-15v1m0 4v15m0 48v5m1-79v5m0 6v4m0 2v7m0 50v2m1-64v19m0 42v2m1-70v13m0 4v1m0 5v3m0 1v3m0 37v4m1-71v11m0 1v2m0 1v12m0 42v4m1-83v18m0 5v2m0 2v9m0 43v5m1-85v8m0 3v9m0 5v3m0 2v14m0 35v2m1-86v1m0 4v4m0 5v21m0 6v2m0 39v4m0 3v1m1-89v3m0 13v4m0 4v3m0 4v6m1-19v5m1-2v10m0 18v4m1-45v7m0 7v7m1-11v5m0 8v1m1-28v8m0 5v5m0 12v4m0 46v1m0 3v1m1-87v20m0 9v6m0 8v4m0 32v3m1-72v5m0 5v3m0 8v6m0 41v2m0 4v3m1-76v5m0 1v4m0 8v8m0 47v1m1-76v2m0 2v4m0 12v2m1-18v8m0 7v3m0 1v2m0 46v4m1-72v3m0 12v3m0 49v4m1-72v10m0 2v12m0 44v2m0 2v2m1-72v2m0 5v5m0 3v2m0 3v4m0 44v4m1-70v3m0 12v2m0 53v2m1-71v2m0 10v3m1-13v3m0 9v3m1-21v9m0 3v4m0 5v3m0 4v2m1-39v9m0 4v1m0 5v2m0 15v1m0 40v3m1-86v1m0 22v13m0 6v2m0 37v2m0 2v2m2-80v1m0 9v3m0 14v6m0 46v1m1-88v6m0 4v3m0 34v4m0 30v9m1-85v2m0 4v11m0 11v2m0 2v7m0 41v3m1-75v2m0 4v3m0 13v4m0 3v2m1-40v3m0 18v3m0 13v3m0 42v2m0 1v2m1-89v2m0 34v2m0 49v2m1-84v2m0 3v4m0 20v1m0 7v2m0 38v3m1-79v2m0 4v2m0 9v13m0 43v2m0 5v2"/>
<path stroke="#c2f5ab" d="M2.5 1v5m0 4v11m0 17v1m0 7v4m0 27v1m0 16v2m0 27v8m1-131v2m0 2v10m0 4v4m0 6v10m0 11v7m0 3v8m0 2v3m0 2v4m0 4v11m0 4v5m0 12v7m0 3v13m0 3v4m1-144v7m0 14v4m0 3v2m0 8v2m0 6v12m0 1v2m0 8v4m0 6v3m0 5v10m0 5v1m0 33v6m1-138v5m0 3v3m0 4v6m0 5v12m0 5v13m0 8v2m0 3v5m0 1v3m0 7v4m0 11v3m0 4v5m0 4v12m0 6v4m1-142v2m0 3v2m0 10v5m0 11v3m0 4v3m0 6v13m0 11v6m0 6v5m0 4v6m0 5v6m0 10v20m0 1v2m1-138v3m0 7v2m0 3v8m0 6v3m0 5v3m0 4v2m0 10v2m0 6v3m0 3v2m0 4v3m0 8v11m0 2v2m0 8v17m0 2v3m0 4v2m1-144v14m0 2v3m0 12v8m0 2v10m0 14v5m0 7v1m0 9v5m0 5v2m0 10v4m0 3v2m0 7v6m1-131v7m0 4v2m0 20v8m0 8v2m0 2v2m0 4v2m0 12v13m0 2v2m0 4v3m0 11v2m0 2v12m0 2v1m0 3v1m0 5v5m1-141v1m0 45v3m0 6v2m0 3v2m0 23v3m0 3v12m0 1v7m0 3v2m0 2v3m0 21v2m1-124v4m0 8v4m0 4v3m0 31v3m0 17v5m0 39v2m0 1v3m1-135v11m0 11v6m0 4v3m0 9v9m0 9v9m0 6v1m0 5v4m0 7v2m0 5v2m0 2v5m0 5v3m0 2v1m0 4v3m0 3v1m1-141v1m0 9v7m0 25v4m0 19v2m0 1v3m0 5v7m0 1v5m0 3v6m0 3v2m0 2v5m0 7v6m0 3v16m1-107v10m0 47v6m0 2v5m0 13v1m0 2v5m0 8v1m1-118v6m0 9v1m0 6v2m0 21v3m0 2v3m0 2v7m0 13v3m0 15v9m0 7v2m0 10v1m0 2v3m1-106v1m0 23v4m0 71v1m1-137v4m0 23v2m0 3v4m0 2v2m0 9v2m0 4v1m0 13v16m0 6v1m0 15v5m0 10v3m0 9v9m1-144v1m0 54v2m0 81v4m1-101v4m0 42v7m0 5v3m0 32v2m0 4v4m1-48v2m0 2v5m0 32v5m1-111v2m0 27v15m0 27v2m1-48v2m0 5v1m0 28v3m0 5v2m0 36v5m1-103v2m0 21v2m0 1v2m0 22v10m0 40v3m2-49v2m0 44v3m1-76v3m0 4v2m0 3v2m0 8v4m0 2v2m0 39v2m1-98v3m0 4v4m0 4v2m0 7v3m0 39v2m0 30v2m1-77v8m0 2v10m0 2v3m0 6v1m0 43v4m2-83v4m0 75v2m0 2v2m1-110v5m0 23v8m0 2v2m0 7v7m0 9v5m0 34v6m1-128v3m0 4v3m0 31v4m0 8v1m0 5v7m0 3v12m0 2v4m0 3v8m0 21v1m0 6v2m1-93v3m0 20v2m0 20v4m1-31v4m0 10v5m0 24v3m0 21v3m1-132v2m0 65v2m0 1v2m0 3v2m0 34v3m0 15v4m1-133v1m0 64v7m0 3v1m0 3v16m0 39v5m1-130v7m0 11v3m0 8v4m0 12v4m0 3v9m0 3v8m0 13v2m0 9v7m0 18v2m0 6v1m1-84v4m0 5v5m0 64v1m0 3v2m1-67v11m0 5v2m0 43v4m1-112v4m0 32v9m0 8v2m0 6v1m0 4v2m1-34v1m0 5v1m0 9v1m0 4v1m0 5v2m0 4v7m0 4v8m1-40v10m0 11v4m0 3v8m0 1v4m0 21v5m1-81v1m0 21v2m0 29v3m1-51v2m0 12v4m0 57v2m1-77v18m0 7v8m0 13v2m0 23v2m0 3v1m1-78v3m0 8v4m0 2v8m0 6v6m0 3v1m0 26v1m0 3v2m1-97v16m0 2v12m0 2v10m0 1v3m0 6v12m0 5v4m0 19v1m0 3v3m1-133v2m0 41v2m0 15v11m0 4v6m0 4v5m0 2v4m0 3v2m0 29v2m0 2v2m1-67v16m0 44v2m2-71v3m0 42v1m0 2v1m0 23v2m1-142v1m0 53v7m0 3v15m0 56v4m1-75v5m0 25v6m0 13v2m0 2v1m0 18v1m0 3v2m2-80v5m0 12v8m0 26v2m1-56v2m0 2v24m0 52v5m1-75v5m0 4v2m0 21v2m0 4v3m1-35v3m0 3v5m1-10v13m1-18v26m0 19v1m1-42v4m0 6v4m0 15v2m0 30v2m0 2v4m1-83v4m0 1v2m0 3v3m0 4v2m0 4v9m0 43v2m0 3v2m1-108v4m0 18v1m0 1v11m0 1v3m0 12v3m0 6v2m1-31v15m0 8v5m1-15v5m0 14v2m1-48v3m0 11v9m0 4v6m0 1v16m0 2v10m1-56v5m0 1v9m0 1v3m0 10v19m0 3v1m0 30v4m1-81v28m0 5v3m0 39v6m1-5v2m1-108v1m0 31v3m0 6v5m0 7v3m0 3v2m1-20v6m0 3v2m0 5v16m0 30v3m1-76v2m0 15v1m1-81v2m0 58v16m0 6v3m0 4v15m0 3v3m0 28v2m1-92v1m0 1v2m0 2v4m0 14v4m0 4v3m0 2v6m0 14v3m0 34v2m1-58v3m1-20v6m0 7v19m1-35v13m0 4v1m0 6v3m0 6v1m0 34v2m1-83v3m0 6v9m0 5v9m0 9v16m0 5v2m0 19v3m0 3v1m1-90v11m0 7v7m0 2v4m0 5v7m0 5v4m1-47v4m0 5v4m0 3v7m0 4v2m0 7v2m1-34v19m0 23v2m0 28v6m1-82v10m0 2v3m0 7v14m0 4v2m0 7v3m0 25v2m1-78v6m0 6v8m0 7v4m1-30v2m0 9v3m0 4v9m0 11v5m1-37v4m0 5v8m0 13v9m1-35v8m0 18v3m0 1v2m0 32v1m1-75v3m0 5v5m0 2v3m0 4v16m1-45v3m0 3v9m0 35v1m0 30v4m1-84v6m0 10v8m0 25v4m0 27v5m1-73v12m0 5v13m0 2v12m1-78v1m0 26v11m0 7v1m0 2v2m0 14v6m0 6v2m0 33v1m1-107v3m0 11v2m0 5v4m0 33v4m0 7v6m0 21v1m0 5v3m1-73v4m0 5v7m0 7v4m0 6v3m0 34v5m1-82v5m0 5v3m0 3v2m0 7v10m0 39v6m1-68v6m0 7v4m0 12v7m0 26v4m1-86v5m0 2v4m0 7v5m0 4v2m0 3v1m0 10v3m0 2v2m1-52v3m0 17v12m0 3v1m0 54v2m1-132v1m0 39v1m0 1v5m0 1v5m0 2v3m0 2v2m0 2v2m0 7v3m0 4v2m0 4v9m0 32v5m1-90v1m0 3v6m0 19v3m0 10v1m0 43v1m1-87v5m0 5v4m0 4v3m0 6v2m0 3v3m0 5v2m0 40v6m1-103v5m0 2v1m0 15v12m0 4v1m0 8v1m0 7v3m1-42v2m0 19v3m0 6v2m1-14v10m0 5v4m1-28v6m0 11v2m0 7v1m0 41v9m1-98v4m0 3v2m0 6v4m0 3v3m0 2v2m0 19v3m0 3v4m0 10v5m0 20v3m0 2v2m1-85v4m0 9v1m0 9v3m0 2v2m0 2v1m1-43v3m0 5v11m0 5v6m0 5v5m0 7v4m0 34v1m0 2v5m1-80v2m0 11v2m0 8v1m0 3v4m0 1v2m0 2v4m0 36v4m1-77v5m0 2v2m0 3v4m0 8v2m0 1v2m0 8v2m1-41v4m0 4v1m0 3v7m0 11v3m0 2v2m0 43v1m1-81v6m0 6v7m0 4v13m0 5v1m0 34v2m0 2v1m1-94v7m0 3v3m0 3v2m0 9v1m0 22v1m0 35v6m1-87v3m0 2v7m0 5v1m0 21v6m0 37v7m1-85v4m0 7v8m0 13v2m0 6v2m0 41v2m1-88v6m0 3v2m0 8v1m0 8v10m0 1v2m0 38v3m0 1v2m1-112v4m0 23v1m0 33v2m0 1v3m0 4v2m0 33v1m0 6v2m1-88v4m0 2v2m0 3v1m0 3v1m0 2v6m0 7v2m0 48v1m1-72v4m0 3v1m0 5v2m0 5v8m0 46v4m1-74v1m0 1v4m0 15v4m0 43v1m1-76v2m0 5v2m0 3v1m0 13v2m0 2v10m0 35v1m0 2v3m1-81v14m0 19v5m0 35v2m1-69v1m0 26v1m0 3v1m0 11v1m0 22v2m0 4v1m1-81v1m0 3v5m0 27v2m0 12v4m0 20v4m0 4v1m1-85v1m0 25v2m0 9v3m0 35v5m1-81v1m0 8v3m0 17v2m0 14v1m0 3v2m0 27v2m0 2v3m1-91v2m0 1v4m0 4v5m0 29v3m0 34v2m0 4v3m1-89v1m0 3v1m0 9v3m0 11v4m0 6v2m0 49v1m1-83v12m0 5v8m1-23v3m0 5v5m0 10v5m0 10v3m0 4v2m0 27v6m1-119v4m0 29v6m0 21v3m0 3v3m1-46v1m0 11v3m0 4v7m0 14v7m0 4v8m0 31v3m1-86v5m0 8v5m0 5v12m0 4v1m0 7v1m0 36v1m1-94v3m0 8v1m0 35v2m0 4v2m0 4v11m0 19v2m0 3v5m1-84v7m0 27v1m0 3v3m0 33v1m0 2v4m1-85v3m0 8v1m0 26v1m1-32v3m0 22v9m0 41v1m1-80v11m0 8v1m0 5v1m0 6v3m0 6v6m0 29v2m0 4v2m1-76v2m0 18v7m0 40v2m0 4v1m1-85v2m0 3v2m0 1v4m0 24v3m0 2v4m0 33v2m0 6v2m1-79v5m0 17v3m0 4v1m0 41v2m0 4v2m1-87v4m0 9v2m0 17v5m0 42v3m0 2v1m1-76v7m0 15v3m0 5v3m0 5v3m0 26v3m1-63v2m0 15v2m1-26v3m0 9v3m0 18v5m0 32v3m1-123v1m0 23v6m0 8v6m0 14v5m0 18v18m0 20v2m0 3v4m1-91v1m0 44v4m0 32v1m0 6v1m1-82v15m0 2v9m0 56v2m1-84v1m0 33v3m0 38v5m0 1v3m1-144v2m0 3v4m0 43v1m0 51v3m0 6v4m0 16v1m1-82v6m0 2v4m0 24v2m0 7v5m0 2v11m0 19v4m0 3v1m1-100v1m0 11v12m0 31v1m0 3v1m0 7v4m0 29v2m1-90v3m0 40v6m0 9v2m0 19v2m0 3v1m1-87v3m0 38v1m0 2v7m0 1v5m0 3v4m0 25v1m1-139v2m0 33v2m0 17v3m0 30v1m0 4v2m0 2v2m0 32v4m1-77v1m0 2v4m0 24v13m0 28v2m0 9v1"/>
<path stroke="#ebd890" d="M3.5 2v2m0 18v6m0 10v11m0 7v3m0 8v2m0 3v2m0 19v4m0 24v3m1-99v3m0 12v6m0 12v1m0 38v5m1-101v3m0 11v4m0 6v5m0 12v2m0 2v1m0 13v4m0 2v2m0 2v3m0 5v1m0 14v1m0 8v2m0 3v4m0 21v6m0 4v2m1-142v3m0 17v7m0 1v3m0 3v4m0 3v6m0 13v3m0 5v3m0 17v4m0 6v2m0 2v1m1-105v2m0 1v3m0 23v6m0 3v1m0 3v1m0 3v4m0 14v1m0 3v2m0 8v1m0 1v2m0 26v1m0 3v4m1-97v12m0 82v3m1-109v4m0 2v12m0 4v4m0 8v8m0 6v4m0 2v2m0 3v3m0 3v1m0 13v2m0 9v7m0 2v2m0 16v2m0 1v3m1-129v1m0 4v2m0 14v6m0 11v2m0 4v1m0 3v2m0 2v2m0 2v3m0 2v2m0 6v6m0 8v1m0 26v3m0 7v2m0 10v5m0 3v1m1-142v10m0 7v3m0 4v8m0 4v4m0 3v3m0 27v1m0 3v1m0 6v4m0 4v2m0 5v8m0 2v6m0 6v6m0 10v1m1-138v9m0 11v4m0 6v1m0 6v4m0 21v2m0 6v1m0 9v6m0 1v5m0 13v2m0 1v2m0 17v2m0 1v4m0 3v3m0 1v3m1-143v3m0 5v1m0 7v9m0 6v10m0 4v13m0 5v1m0 6v5m0 7v1m0 5v3m0 6v3m0 9v7m1-109v5m0 13v5m0 2v2m0 10v1m0 28v10m0 7v1m0 6v2m0 5v1m0 10v2m0 1v2m0 5v3m0 3v2m0 1v1m0 5v3m1-133v6m0 6v2m0 3v4m0 9v6m0 11v4m0 3v2m0 12v2m0 6v5m0 3v2m0 12v1m0 9v1m0 4v2m0 2v2m0 7v1m1-138v2m0 31v5m0 1v2m0 5v2m0 3v3m0 3v5m0 4v1m0 7v5m0 10v10m0 5v8m0 2v4m0 10v1m0 6v2m0 1v2m0 3v1m1-144v1m0 4v1m0 20v2m0 2v3m0 8v9m0 7v1m0 5v7m0 16v2m0 2v2m0 1v2m0 3v2m0 4v4m0 5v4m0 4v2m0 3v3m0 4v2m1-134v2m0 25v1m0 6v1m0 7v2m0 6v4m0 2v2m0 3v2m0 13v5m0 17v2m0 27v4m0 5v1m1-138v1m0 8v4m0 10v5m0 12v1m0 4v2m0 9v2m0 5v4m0 11v5m0 1v3m0 7v5m0 3v2m0 9v7m0 12v2m1-81v1m0 32v10m0 9v11m0 4v3m0 13v1m0 5v2m1-137v3m0 19v2m0 2v3m0 22v2m0 15v2m0 3v9m0 10v3m0 2v2m0 7v4m0 5v2m0 16v4m1-131v11m0 6v5m0 3v5m0 9v4m0 8v1m0 4v9m0 5v3m0 5v1m0 3v5m0 2v2m0 3v1m0 6v3m0 20v1m0 5v1m1-130v3m0 21v2m0 2v2m0 8v5m0 5v1m0 5v3m0 17v2m0 10v2m0 4v3m0 5v3m0 22v1m0 3v1m1-62v7m0 4v4m0 43v4m1-132v3m0 6v4m0 8v2m0 36v5m0 7v3m0 7v1m0 2v1m0 15v4m0 18v6m0 3v1m1-141v3m0 2v3m0 8v2m0 21v2m0 22v1m0 9v3m0 2v3m0 3v2m0 8v10m0 27v2m0 2v2m0 2v2m1-144v4m0 3v4m0 13v4m0 11v1m0 3v4m0 10v7m0 3v11m0 6v11m0 9v2m0 2v5m0 3v3m0 5v8m0 2v4m1-78v3m0 8v2m0 10v2m0 3v1m0 3v2m0 1v1m0 10v2m0 25v3m0 1v1m0 4v1m1-76v3m0 15v4m0 50v1m1-85v4m0 4v2m0 2v21m0 3v3m0 22v6m0 15v1m1-130v2m0 11v2m0 3v5m0 1v2m0 5v1m0 5v5m0 6v6m0 12v1m0 5v1m0 21v5m0 3v10m0 13v3m0 6v2m1-139v9m0 3v4m0 3v1m0 7v9m0 6v2m0 5v1m0 4v1m0 6v1m0 34v3m0 8v4m0 26v2m1-129v10m0 22v2m0 3v4m0 7v2m0 2v5m0 2v2m0 3v5m0 8v2m0 4v1m0 6v10m0 25v4m1-144v7m0 4v1m0 35v4m0 9v7m0 4v5m0 3v2m0 5v7m0 7v2m0 4v4m0 3v4m0 16v1m1-134v5m0 2v1m0 18v12m0 13v4m0 9v8m0 5v3m0 2v2m0 3v10m0 5v10m0 3v1m0 3v2m0 12v1m1-133v4m0 1v2m0 12v13m0 9v5m0 6v3m0 3v7m0 3v1m0 7v3m0 1v3m0 16v7m0 27v5m1-127v2m0 7v1m0 9v1m0 3v8m0 4v3m0 7v2m0 4v3m0 9v3m0 23v5m0 2v2m0 7v2m0 15v1m1-76v1m0 4v5m0 5v2m0 1v5m0 2v7m0 23v4m0 16v4m1-125v3m0 12v1m0 12v1m0 32v3m0 18v2m0 40v1m0 4v2m1-116v2m0 4v1m0 13v9m0 5v4m0 9v8m0 2v2m0 2v2m0 7v6m0 2v12m1-109v4m0 1v5m0 35v5m0 4v1m0 7v1m0 6v2m0 6v1m0 2v2m0 13v4m0 8v1m0 16v1m1-129v4m0 6v2m0 19v6m0 6v4m0 2v9m0 7v6m0 10v2m0 3v6m0 4v3m0 8v1m0 4v1m0 15v5m0 5v1m1-136v4m0 47v3m0 1v4m0 4v9m0 2v2m0 2v1m0 5v7m0 15v1m0 3v1m0 14v2m1-84v3m0 7v6m0 2v2m0 9v1m0 4v1m0 14v3m0 11v3m0 17v8m1-139v4m0 21v14m0 3v22m0 18v1m0 4v2m0 8v7m0 4v2m0 2v2m0 17v1m0 2v1m1-131v3m0 28v2m0 6v3m0 14v3m0 25v6m0 10v1m0 4v4m0 16v1m0 6v5m1-144v2m0 4v7m0 14v3m0 8v4m0 42v1m0 3v3m0 1v2m0 12v5m0 4v2m0 16v1m1-131v5m0 2v8m0 16v17m0 2v4m0 6v5m0 11v4m0 6v1m0 2v1m0 5v2m0 9v1m0 24v4m1-138v2m0 58v14m0 1v2m0 16v1m0 3v12m0 1v3m0 2v3m0 15v4m1-102v1m0 7v2m0 16v12m0 27v3m0 12v1m0 18v2m0 6v2m1-114v2m0 27v9m0 3v13m0 2v6m0 8v1m0 11v1m0 4v1m0 19v3m1-139v1m0 35v3m0 11v3m0 7v3m0 15v5m0 3v3m0 5v5m0 12v5m0 16v2m1-100v1m0 23v5m0 5v11m0 4v7m0 1v2m0 6v1m0 11v1m0 5v1m0 15v2m1-82v3m0 7v9m0 5v2m0 3v10m0 47v3m1-138v5m0 46v6m0 5v4m0 6v2m0 8v1m0 7v10m0 7v1m0 2v1m1-112v3m0 39v3m0 6v4m0 28v1m0 10v7m0 2v3m0 27v2m1-100v2m0 4v2m0 12v4m0 4v2m0 11v9m0 10v2m0 2v4m0 3v2m1-51v3m0 8v3m0 3v3m0 5v3m0 13v4m0 28v1m1-82v4m0 9v5m0 3v2m0 13v2m0 12v6m1-43v5m0 26v3m0 13v3m0 1v1m0 15v5m1-83v6m0 1v13m0 4v6m0 4v2m0 5v8m0 2v2m0 25v3m0 2v2m1-109v4m0 8v3m0 14v1m0 4v1m0 2v3m0 3v4m0 2v4m0 9v4m0 3v5m0 29v2m0 2v3m1-121v4m0 8v3m0 4v1m0 14v3m0 1v1m0 15v5m0 3v4m0 11v7m0 30v3m0 6v1m1-84v6m0 15v8m0 5v1m0 3v5m1-49v4m0 7v14m0 5v1m0 3v4m0 4v2m0 2v2m0 3v2m1-96v3m0 23v3m0 10v2m0 3v3m0 5v3m0 48v3m1-65v6m0 19v2m0 6v2m0 19v3m0 1v2m0 26v2m1-83v6m0 28v5m0 3v6m0 11v2m0 18v2m1-79v5m0 2v2m0 19v6m0 45v1m0 2v1m1-116v4m0 1v2m0 1v2m0 28v1m0 14v2m0 3v2m0 8v5m0 15v1m0 19v10m1-90v2m0 7v7m0 3v1m0 11v1m0 3v1m0 16v1m0 26v3m0 3v2m1-82v4m0 2v6m0 7v2m0 1v5m0 29v2m1-115v3m0 4v1m0 20v16m0 9v5m0 16v6m0 3v4m0 15v3m0 3v7m0 17v4m1-137v1m0 45v1m0 4v2m0 4v14m0 19v2m0 9v3m0 3v2m0 24v4m0 3v1m1-82v2m0 7v3m0 11v3m0 3v2m1-61v1m0 18v5m0 1v10m0 2v2m0 6v7m0 19v6m0 2v8m1-99v5m0 30v5m0 5v3m0 13v4m0 1v6m0 10v3m0 4v11m0 15v1m0 2v5m1-134v2m0 11v7m0 12v14m0 3v2m0 2v2m0 48v5m0 2v1m0 16v2m0 7v1m1-115v11m0 4v4m0 3v2m0 25v2m0 4v5m0 7v5m0 4v2m0 2v2m0 5v1m1-71v1m0 2v4m0 3v2m0 4v5m0 4v3m0 27v10m0 23v4m1-112v4m0 25v3m0 1v3m0 44v1m0 26v1m0 6v3m1-96v4m0 2v5m0 10v2m0 24v1m0 2v1m0 2v7m0 3v6m0 18v1m1-83v2m0 4v1m0 6v6m0 8v7m0 4v3m0 6v5m0 7v2m0 24v7m1-87v3m0 2v9m0 3v4m0 9v9m0 1v1m0 5v2m0 37v2m1-87v4m0 4v1m0 4v5m0 8v5m0 6v2m0 9v1m0 7v2m0 21v4m0 3v1m1-122v3m0 31v14m0 8v4m0 5v9m0 6v1m0 9v6m0 15v1m0 1v2m1-101v3m0 20v1m0 3v5m0 10v4m0 16v1m0 36v7m1-142v10m0 40v3m0 3v3m0 45v11m0 18v1m1-128v5m0 21v16m0 5v1m0 6v10m0 47v1m0 15v1m0 5v5m1-114v4m0 19v4m0 4v5m0 44v2m0 25v7m1-114v2m0 1v4m0 21v1m0 23v3m0 8v3m0 6v2m0 2v2m0 2v7m0 25v1m1-135v1m0 10v7m0 3v8m0 3v1m0 8v2m0 2v5m0 54v3m0 17v1m0 9v2m1-84v9m0 27v1m0 4v1m0 3v1m0 5v5m0 21v2m1-86v9m0 5v1m0 3v1m0 8v7m0 10v1m0 4v13m0 19v2m0 6v1m1-91v2m0 9v6m0 1v4m0 17v1m0 3v3m0 3v2m0 7v3m0 22v1m0 4v3m1-91v2m0 5v2m0 4v7m0 15v10m0 7v6m0 26v8m1-94v2m0 3v17m0 16v2m0 3v2m0 39v5m0 1v2m1-131v1m0 3v1m0 28v4m0 3v1m0 7v1m0 5v2m0 7v2m0 18v1m0 2v1m0 9v4m0 23v5m1-139v1m0 24v1m0 25v3m0 1v3m0 6v2m0 3v10m0 2v2m0 14v2m0 12v6m0 17v6m1-110v9m0 14v1m0 21v2m0 1v3m0 2v3m0 49v1m0 6v1m1-106v2m0 8v1m0 7v7m0 12v4m0 10v2m0 4v1m0 3v1m0 10v1m0 5v3m1-63v1m0 2v5m0 7v7m0 11v1m0 2v3m0 14v1m0 27v5m1-88v4m0 7v10m0 19v2m0 20v3m1-91v6m0 19v7m0 5v1m0 27v3m0 6v4m0 10v2m0 15v1m0 9v1m1-111v4m0 7v1m0 4v3m0 2v3m0 1v2m0 36v3m0 4v10m0 5v2m0 13v5m1-84v6m0 4v2m0 3v4m0 13v2m0 5v2m0 5v3m1-94v4m0 3v2m0 21v3m0 7v1m0 19v5m0 27v1m0 32v1m0 1v2m0 5v2m1-124v7m0 34v1m0 24v3m0 7v2m0 4v3m0 28v5m0 4v2m1-129v6m0 39v5m0 9v3m0 14v1m0 12v4m0 3v3m0 20v5m1-77v1m0 4v2m0 1v1m0 11v2m0 8v1m0 7v5m0 37v1m1-87v7m0 36v1m0 3v1m0 1v1m0 31v2m1-94v5m0 13v3m0 35v2m0 31v2m0 6v2m1-134v5m0 22v3m0 13v2m0 3v2m0 40v3m0 3v3m0 7v2m0 17v2m1-131v2m0 36v5m0 5v5m0 42v1m0 11v4m0 24v1m1-87v1m0 20v8m0 13v1m0 35v2m0 6v3m1-118v3m0 4v7m0 15v1m0 36v1m0 9v2m0 12v3m0 15v1m1-83v4m0 12v3m0 18v5m0 1v2m0 2v3m0 3v2m0 7v3m0 19v1m1-78v7m0 8v5m0 15v1m0 39v1m0 4v1m1-97v1m0 21v5m0 25v7m0 35v1m1-78v3m0 9v3m0 16v2m0 10v2m0 8v2m0 18v3m0 1v1m1-138v7m0 26v1m0 27v2m0 38v1m0 32v2m1-88v3m0 4v3m0 6v5m0 32v1m0 4v2m0 2v2m0 1v2m0 17v3m0 7v2m1-129v5m0 16v5m0 18v2m0 1v3m0 34v1m0 7v4m0 4v2m0 16v2m1-124v1m0 22v7m0 10v4m0 3v1m0 40v2m0 8v4m0 20v1m1-94v4m0 10v4m0 46v3m0 2v8m0 17v2m0 7v1m1-144v6m0 44v2m0 48v1m0 11v6m0 15v1m1-96v3m0 12v1m0 5v9m0 26v1m0 3v3m0 4v6m0 30v2m1-84v2m0 25v7m0 44v2m1-101v3m0 15v7m0 3v5m0 20v2m0 7v1m0 9v3m0 23v1m0 6v1m1-121v1m0 4v2m0 17v6m0 3v1m0 30v3m0 3v2m0 8v5m0 28v3m1-126v1m0 1v1m0 16v1m0 6v3m0 3v2m0 1v4m0 5v2m0 3v4m0 28v4m0 8v2m0 25v4m0 3v1m1-96v3m0 3v3m0 40v1m0 4v2m0 1v3m0 32v1m1-102v5m0 2v2m0 3v1m0 6v1m0 38v4m0 17v2m0 16v1m1-134v6m0 23v5m0 23v3m0 35v3m0 3v2m0 4v2m0 24v1m1-134v2m0 27v2m0 23v2m0 3v8m0 28v1m0 5v7m0 32v1m1-100v1m0 15v6m0 34v2m0 38v1m0 1v1m0 3v1m1-87v2m0 20v5m0 10v6m0 6v3m0 25v1m0 8v1m1-79v2m0 27v1m0 9v3m0 26v1m1-80v2m0 2v3m0 2v1m0 31v2m0 4v1m0 2v2m0 7v5m0 15v1m1-86v1m0 13v3m0 30v1m0 39v1m1-136v5m0 46v6m0 4v9m0 24v2m0 38v2m0 3v2m1-88v13m0 25v5m0 3v5m0 3v5m0 20v1m0 3v1m0 4v3m1-84v2m0 10v1m0 19v2m0 2v3m0 7v3m0 25v3m1-75v4m0 38v1m0 30v1m0 3v3m1-128v2m0 1v3m0 19v1m0 6v2m0 3v3m0 61v7m0 12v1m1-131v3m0 15v9m0 9v8m0 54v1m0 3v7m0 20v1m0 8v2m1-89v5m0 15v2m0 9v2m0 9v2m0 42v1m1-97v3m0 8v4m0 37v8m0 29v1m1-133v3m0 4v3m0 10v11m0 9v10m0 55v6m0 4v1m0 14v1m1-105v2m0 20v2m0 50v2m0 11v1m0 8v2m0 6v2m0 8v1m1-103v2m0 1v11m0 44v3m0 1v2m0 4v1m0 4v2m0 24v3m1-97v4m0 4v1m0 49v9m0 2v3m0 15v1m0 2v1m0 1v1m1-122v3m0 17v5m0 5v6m0 42v2m0 7v1m0 5v3m0 4v2m0 22v1m1-141v3m0 2v2m0 28v3m0 2v2m0 5v1m0 6v3m0 34v4m0 6v7m0 5v5m0 14v1m1-91v8m0 9v1m0 44v5m0 20v3"/>
<path stroke="#ffab72" d="M5.5 0v1m0 43v2m0 18v2m0 28v1m0 6v1m1-73v1m0 35v5m0 32v2m1-102v1m0 36v3m0 23v3m0 11v1m0 29v3m2-87v4m0 34v3m0 3v3m0 32v2m1-104v4m0 2v4m0 5v5m0 6v2m0 8v1m0 2v4m0 6v2m0 11v1m0 4v1m0 6v1m0 5v2m0 39v10m0 5v3m1-131v1m0 4v2m0 29v2m0 9v7m0 8v1m0 5v1m0 4v1m0 4v2m0 1v1m0 15v2m0 6v1m0 4v1m0 6v10m1-113v2m0 3v1m0 34v1m0 4v1m0 37v1m1-104v5m0 17v1m0 3v2m0 27v1m1-60v1m0 6v1m0 5v1m0 6v2m0 3v1m0 5v2m0 34v3m0 3v1m0 16v1m0 15v2m0 6v2m0 13v3m0 4v1m0 3v1m1-141v2m0 8v1m0 14v3m0 19v1m0 1v5m0 2v2m0 23v1m0 3v2m0 10v6m0 3v3m0 11v1m0 1v2m0 6v7m1-135v1m0 28v2m0 8v1m0 2v2m0 2v3m0 3v3m0 10v2m0 4v1m0 5v1m0 8v1m0 10v1m0 3v1m0 8v2m0 4v1m0 2v7m0 1v1m0 4v1m0 5v3m1-137v1m0 13v3m0 2v1m0 32v5m0 25v2m0 7v1m0 2v1m0 2v1m0 13v4m0 8v4m1-130v9m0 15v1m0 1v1m0 4v1m0 1v2m0 3v2m0 2v6m0 8v3m0 2v2m0 10v1m0 5v17m0 2v3m0 3v4m0 14v3m0 4v2m0 2v1m1-136v2m0 4v2m0 4v3m0 6v1m0 5v3m0 8v1m0 7v2m0 6v1m0 2v5m0 4v1m0 9v1m0 5v1m0 20v2m0 6v1m0 7v2m0 7v3m1-91v2m0 5v5m0 1v10m0 11v4m0 6v1m0 30v1m0 1v2m0 3v3m0 9v1m1-136v3m0 2v2m0 3v3m0 14v2m0 7v7m0 10v5m0 19v3m0 9v1m0 4v5m0 7v7m0 4v5m0 2v3m0 12v1m1-140v1m0 2v2m0 7v1m0 11v6m0 5v3m0 5v2m0 4v3m0 13v1m0 2v1m0 9v5m0 3v1m0 3v1m0 13v3m0 1v6m0 3v1m0 6v10m0 2v1m1-125v2m0 3v1m0 16v4m0 6v1m0 5v2m0 5v1m0 2v2m0 9v1m0 7v9m0 14v4m0 3v5m0 3v1m0 8v9m0 3v1m1-117v3m0 12v8m0 14v5m0 16v2m0 7v4m0 14v5m0 27v1m1-134v6m0 3v6m0 4v8m0 2v2m0 2v5m0 5v3m0 17v2m0 5v2m0 8v1m0 5v1m0 4v1m0 12v2m0 11v3m0 6v2m1-134v3m0 3v2m0 3v8m0 2v3m0 6v4m0 6v2m0 2v5m0 5v4m0 7v1m0 18v3m0 20v1m0 8v1m0 4v2m0 5v3m0 2v1m0 6v2m1-138v3m0 4v2m0 4v3m0 3v1m0 4v3m0 6v2m0 39v1m0 3v2m0 11v2m0 6v1m0 9v3m0 3v5m0 8v2m1-118v9m0 12v3m0 19v1m0 29v1m0 6v1m0 7v2m0 2v3m0 11v3m0 7v1m0 3v1m0 6v1m1-111v3m0 13v2m0 15v1m0 3v3m0 6v6m0 4v3m0 10v5m0 31v1m0 1v1m1-141v2m0 7v5m0 10v13m0 17v1m0 10v2m0 21v3m0 3v1m0 6v4m0 8v3m0 6v3m0 11v1m1-136v7m0 2v2m0 2v7m0 2v3m0 5v1m0 8v1m0 2v2m0 5v6m0 19v1m0 3v1m0 27v3m0 10v9m0 2v2m1-133v5m0 20v7m0 9v6m0 2v5m0 6v1m0 4v1m0 50v1m0 15v1m1-133v1m0 10v4m0 10v2m0 2v8m0 1v1m0 4v4m0 9v2m0 4v1m0 2v2m0 9v3m0 5v8m0 7v1m0 4v1m0 10v1m0 22v2m1-133v4m0 1v2m0 22v1m0 1v4m0 3v2m0 4v3m0 4v2m0 16v3m0 14v7m0 2v4m0 11v2m0 12v2m1-125v3m0 13v2m0 12v3m0 5v5m0 4v4m0 4v1m0 20v3m0 10v1m0 3v1m0 10v3m0 6v2m0 9v1m1-133v1m0 7v3m0 7v2m0 13v9m0 5v6m0 3v3m0 7v3m0 38v4m0 4v3m0 15v1m1-124v2m0 10v1m0 6v2m0 19v3m0 3v1m0 49v2m0 11v1m0 3v5m0 5v1m1-134v1m0 4v5m0 4v4m0 7v13m0 5v13m0 2v1m0 17v1m0 5v2m0 7v3m0 10v3m0 6v1m0 4v2m0 13v1m1-134v2m0 9v2m0 3v8m0 1v3m0 1v2m0 8v2m0 1v2m0 5v1m0 2v1m0 14v7m0 23v1m0 36v3m1-136v4m0 1v4m0 7v6m0 1v4m0 7v13m0 9v1m0 3v1m0 25v2m0 15v2m0 12v2m0 12v6m1-133v4m0 4v1m0 5v1m0 9v16m0 6v3m0 5v1m0 2v1m0 9v1m0 3v2m0 9v2m0 28v1m0 14v1m0 1v2m1-136v5m0 4v6m0 2v8m0 8v3m0 6v1m0 3v2m0 4v2m0 9v7m0 18v3m0 27v1m0 12v2m1-127v2m0 4v8m0 3v5m0 3v7m0 3v1m0 1v6m0 2v3m0 4v1m0 8v4m0 9v2m0 5v2m0 1v2m0 7v1m0 7v4m0 2v1m0 5v1m0 8v5m0 2v2m1-137v2m0 24v6m0 10v9m0 3v3m0 3v1m0 10v1m0 7v1m0 6v1m0 4v6m0 1v2m0 3v2m0 8v1m0 3v1m0 15v1m1-134v3m0 4v2m0 17v2m0 14v3m0 41v4m0 17v2m0 1v1m0 6v2m0 13v2m0 1v2m1-131v1m0 3v6m0 21v1m0 2v3m0 1v2m0 3v6m0 7v1m0 45v4m0 4v1m0 14v1m1-130v4m0 7v7m0 5v2m0 3v3m0 1v4m0 53v1m0 25v2m0 13v1m1-133v3m0 15v3m0 3v4m0 4v2m0 23v6m0 27v2m0 18v8m0 10v2m0 3v1m1-132v3m0 2v1m0 12v7m0 5v3m0 1v6m0 7v2m0 7v2m0 14v1m0 19v3m0 12v1m0 3v2m0 3v2m0 7v2m0 3v1m1-126v1m0 9v1m0 4v13m0 1v3m0 2v2m0 2v2m0 11v3m0 12v1m0 15v6m0 4v1m0 3v2m0 2v3m0 2v3m0 1v1m0 16v1m0 2v1m0 4v1m1-142v1m0 10v4m0 14v1m0 2v7m0 6v6m0 4v4m0 25v2m0 6v2m0 5v1m0 1v2m0 8v1m0 6v2m0 1v5m0 6v5m1-135v2m0 9v7m0 7v5m0 3v2m0 3v1m0 4v4m0 1v1m0 33v3m0 3v5m0 5v2m0 8v2m0 5v1m0 11v4m1-101v3m0 1v3m0 18v2m0 21v4m0 7v1m0 9v1m0 9v1m0 7v1m0 5v1m0 6v2m0 8v1m1-138v4m0 28v4m0 8v5m0 3v2m0 4v1m0 9v5m0 2v3m0 10v2m0 17v2m0 22v4m0 3v1m1-140v1m0 5v14m0 11v7m0 5v3m0 5v1m0 15v2m0 2v2m0 11v2m0 3v2m0 10v2m0 4v1m0 4v1m0 24v2m1-143v4m0 3v2m0 3v2m0 7v2m0 20v3m0 3v6m0 33v10m0 7v2m0 3v5m0 20v2m1-104v6m0 2v4m0 2v1m0 4v2m0 3v2m0 4v4m0 22v2m0 21v1m0 24v7m1-108v3m0 14v3m0 4v1m0 3v3m0 2v3m0 17v1m0 4v8m0 4v11m0 16v1m0 1v2m0 6v1m1-111v2m0 16v2m0 4v2m0 6v1m0 5v3m0 17v6m0 1v5m0 6v5m1-49v1m0 34v1m0 11v1m0 5v2m0 12v1m0 5v3m0 2v1m1-142v6m0 45v2m0 6v1m0 29v5m0 16v4m0 16v1m1-133v5m0 18v8m0 4v5m0 1v2m0 3v7m0 6v1m0 37v3m0 5v1m0 7v4m0 16v1m1-118v4m0 4v1m0 4v3m0 8v8m0 3v3m0 25v3m0 22v14m0 15v1m0 3v6m1-140v7m0 19v1m0 6v9m0 9v4m0 1v1m0 35v3m0 5v1m0 38v2m1-143v4m0 8v2m0 3v2m0 6v15m0 2v11m0 4v7m0 20v3m0 4v4m0 6v3m0 2v1m0 26v2m0 1v7m1-134v1m0 3v1m0 13v4m0 3v2m0 3v2m0 5v3m0 8v5m0 54v1m0 24v2m1-144v1m0 42v9m0 27v2m0 2v2m0 27v1m1-113v3m0 5v4m0 12v3m0 26v4m0 48v2m0 4v1m0 3v1m0 2v1m0 16v1m1-78v1m0 5v2m0 2v2m0 2v10m0 3v2m0 6v2m0 5v2m0 2v2m0 31v1m0 4v2m1-119v1m0 4v1m0 5v1m0 24v3m0 17v3m0 15v1m0 8v6m0 1v2m0 16v1m1-104v7m0 9v8m0 2v2m0 3v2m0 7v3m0 13v3m0 18v1m0 5v4m0 14v2m0 8v3m1-97v4m0 7v1m0 12v7m0 8v4m0 23v2m0 2v1m0 20v6m1-139v4m0 1v7m0 6v7m0 16v9m0 62v2m0 14v1m1-134v1m0 1v3m0 41v1m0 46v2m0 4v3m0 8v3m0 25v1m0 1v1m1-115v2m0 13v5m0 4v10m0 2v3m0 3v1m0 3v1m0 8v2m0 8v3m0 10v3m0 27v3m1-109v2m0 1v6m0 9v3m0 5v1m0 10v2m0 40v2m0 8v2m0 23v2m1-141v5m0 9v1m0 5v2m0 25v3m0 5v1m0 2v2m0 40v4m0 11v1m0 13v1m0 8v1m1-138v3m0 2v1m0 9v1m0 7v12m0 19v2m0 72v2m1-129v3m0 19v2m0 11v4m0 4v3m0 56v2m0 2v2m0 1v2m0 1v2m1-108v5m0 17v3m0 8v2m0 1v2m0 4v1m0 1v1m0 40v1m0 3v1m0 10v1m0 3v1m0 22v4m1-132v8m0 7v1m0 4v1m0 17v4m0 2v1m0 3v1m0 48v3m0 6v2m0 25v1m1-144v2m0 21v5m0 9v3m0 4v3m0 4v2m0 42v2m0 19v1m0 16v1m1-111v2m0 20v7m0 2v4m0 35v2m0 3v1m0 5v4m0 2v1m0 2v1m0 21v2m1-100v2m0 17v1m0 39v1m0 8v4m0 5v3m0 19v3m0 2v1m1-110v8m0 16v1m0 4v4m0 23v6m0 12v1m0 5v1m0 2v2m0 18v1m0 4v3m1-141v2m0 14v4m0 3v2m0 4v2m0 20v3m0 26v5m0 16v2m0 5v2m0 6v1m0 13v1m0 4v1m1-124v4m0 17v1m0 3v1m0 9v5m0 4v1m0 40v5m0 4v5m0 21v1m0 7v1m1-133v1m0 12v5m0 9v13m0 65v2m0 15v1m1-130v3m0 5v1m0 16v4m0 16v2m0 2v1m0 65v1m1-111v8m0 12v2m0 4v2m0 6v4m0 6v1m0 4v1m0 2v1m0 51v1m0 23v1m1-137v4m0 4v4m0 4v7m0 6v1m0 7v1m0 11v6m0 2v1m0 27v8m0 11v2m0 29v7m1-141v7m0 1v2m0 5v3m0 7v3m0 12v3m0 2v3m0 66v1m1-116v1m0 13v2m0 13v5m0 23v3m0 37v4m0 9v1m0 5v1m0 17v3m1-122v4m0 33v1m0 15v3m0 27v2m0 1v1m0 13v2m0 26v1m1-135v6m0 2v5m0 18v7m0 4v1m0 2v1m0 6v2m0 6v1m0 22v3m0 3v3m0 12v3m0 27v1m1-143v2m0 18v2m0 20v9m0 58v1m0 4v3m0 17v1m1-136v5m0 42v3m0 40v3m0 2v2m0 3v1m0 14v2m0 16v1m0 5v1m1-134v3m0 1v1m0 5v1m0 4v5m0 12v6m0 4v3m0 44v2m0 14v1m0 4v3m0 13v2m1-133v2m0 20v2m0 1v14m0 5v2m0 3v1m0 15v3m0 10v2m0 18v4m0 6v2m0 6v2m1-111v4m0 16v2m0 9v1m0 12v1m0 24v1m0 18v1m0 20v1m0 16v1m0 8v1m1-134v6m0 17v4m0 11v1m0 5v1m0 35v2m0 1v1m0 5v1m0 2v3m0 2v2m0 1v1m0 3v1m0 3v1m0 17v3m0 4v1m1-136v1m0 35v3m0 7v1m0 8v7m0 19v2m0 3v5m0 8v1m0 1v2m0 2v3m0 19v1m0 5v3m1-110v5m0 12v2m0 9v2m0 31v1m0 4v2m0 12v1m0 3v1m0 20v1m1-114v1m0 6v3m0 8v4m0 2v2m0 7v5m0 31v2m0 2v2m0 4v2m0 7v1m0 2v1m0 13v1m0 11v1m1-144v6m0 7v3m0 9v7m0 4v1m0 19v1m0 62v1m0 3v4m0 4v1m1-114v4m0 17v5m0 8v1m0 12v3m0 26v2m0 2v1m0 3v1m0 30v1m0 5v3m1-137v3m0 4v3m0 2v5m0 13v3m0 3v7m0 53v1m0 30v1m1-116v3m0 7v7m0 16v4m0 5v2m0 44v1m0 4v4m0 18v1m1-122v4m0 6v1m0 8v2m0 3v11m0 3v6m0 4v1m0 48v3m0 3v3m0 15v2m0 5v1m1-103v1m0 6v7m0 10v1m0 7v1m0 14v8m0 13v1m0 5v1m0 21v1m0 7v1m1-87v1m0 44v3m0 3v1m0 29v1m1-114v1m0 14v3m0 2v2m0 66v5m0 17v1m1-134v1m0 7v2m0 5v4m0 7v11m0 3v2m0 3v8m0 50v3m0 3v1m0 4v2m0 2v1m0 14v2m1-131v2m0 2v6m0 26v4m0 5v1m0 3v1m0 48v1m0 8v2m0 4v1m0 14v9m1-115v5m0 2v5m0 16v1m0 43v4m1-77v1m0 14v2m0 1v5m0 6v1m0 59v2m0 3v2m0 12v1m1-134v4m0 22v12m0 2v4m0 7v1m0 42v1m0 2v2m0 3v3m0 2v1m0 5v1m0 3v2m0 15v2m1-104v4m0 3v11m0 7v2m0 36v1m0 3v5m0 3v9m0 17v1m0 1v1m0 2v1m1-108v2m0 9v1m0 1v2m0 14v5m0 37v3m0 3v4m1-59v4m0 1v2m0 45v4m0 3v1m0 2v2m0 15v1m0 3v1m1-130v1m0 24v1m0 1v2m0 12v1m0 11v1m0 41v1m0 9v6m0 15v1m1-132v3m0 2v5m0 5v3m0 11v5m0 1v3m0 7v1m0 3v4m0 3v1m0 3v2m0 41v1m0 2v2m0 5v5m0 4v8m1-132v1m0 12v2m0 5v1m0 12v3m0 5v1m0 16v1m0 41v1m0 5v1m0 10v1m0 14v1m1-133v6m0 4v1m0 1v2m0 2v5m0 9v4m0 7v10m0 6v1m0 43v1m0 6v1m0 4v2m0 17v1m1-119v5m0 9v7m0 3v2m0 4v6m0 3v1m0 63v1m0 15v1m1-128v17m0 13v6m0 6v2m0 51v2m0 6v3m0 6v2m0 2v3m0 7v1m1-118v3m0 18v2m0 3v2m0 8v2m0 42v3m0 3v4m0 6v2m0 1v4m0 17v6m1-88v6m0 34v2m0 16v2m0 23v1m0 2v1m1-109v2m0 4v1m0 3v4m0 3v4m0 3v1m0 37v7m0 13v1m0 21v1m1-118v5m0 7v3m0 9v5m0 6v3m0 39v4m0 2v2m0 5v1m0 7v3m0 16v1m0 3v1m1-129v2m0 1v1m0 1v3m0 2v5m0 4v2m0 1v2m0 1v3m0 3v3m0 7v1m0 3v1m0 84v1m1-142v2m0 8v5m0 25v5m0 3v3m0 44v4m0 6v3m0 28v1m1-136v7m0 8v2m0 3v1m0 11v3m0 5v2m0 6v1m0 4v1m0 62v1m0 14v1m1-127v1m0 14v4m0 3v1m0 5v8m0 5v4m0 4v2m0 46v4m0 2v6m0 17v1m1-131v5m0 11v3m0 7v1m0 2v2m0 16v5m0 46v1m0 7v2m0 7v1m1-118v8m0 31v2m0 1v1m0 6v4m0 1v3m0 42v1m0 5v3m0 7v2m0 19v1m0 3v3m1-100v4m0 9v1m0 52v2m0 22v1m1-92v4m0 13v6m0 30v2m0 1v6m0 3v1m0 33v1m1-136v3m0 7v5m0 25v3m0 4v1m0 48v2m0 2v2m0 3v2m0 5v6m0 8v1m1-92v7m0 1v1m0 10v2m0 34v2m0 6v3m0 5v6m0 16v1m1-130v2m0 42v2m0 45v2m0 7v5m0 5v2m1-92v1m0 26v1m0 59v1m0 17v2m0 5v4m1-98v1m0 11v5m0 2v3m0 3v4m0 22v2m0 3v4m0 2v1m0 3v1m0 23v1m0 3v1m1-92v3m0 10v3m0 43v1m0 28v1m0 7v1m1-137v4m0 3v1m0 6v1m0 6v2m0 9v1m0 9v3m0 71v1m0 9v2m1-132v2m0 3v2m0 10v3m0 9v5m0 1v3m0 8v1m0 3v1m0 52v1m0 7v4m0 15v1m1-79v1m0 33v9m0 2v1m0 34v7m1-141v8m0 31v2m0 3v1m0 3v2m0 5v1m0 49v4m0 24v1m1-122v3m0 4v3m0 11v9m0 76v2m0 8v4m1-129v4m0 4v2m0 9v6m0 2v1m0 15v4m0 66v1m0 6v1m0 2v2m0 2v2m0 11v1m1-141v3m0 12v3m0 5v3m0 9v2m0 64v1m0 2v1m0 7v3m0 20v1m1-139v4m0 18v6m0 5v12m0 4v4m0 64v2m0 6v7m0 4v1m1-137v7m0 6v3m0 3v1m0 7v3m0 4v2m0 5v5m0 72v4m0 7v5m1-127v6m0 10v4m0 5v3m0 7v5m0 1v1m0 3v2m0 54v2m0 2v1m0 5v4m0 9v1m1-127v11m0 3v2m0 5v3m0 12v1m0 8v2m0 5v2m0 50v3m0 3v14"/>
<path stroke="#ff7253" d="M5.5 95v6m5-89v5m0 13v5m0 2v1m0 30v1m0 8v1m0 3v1m1-71v4m0 33v9m0 7v1m0 6v1m0 7v4m0 7v1m0 25v4m1-94v3m0 36v1m0 2v1m1-42v3m0 30v4m1-63v1m0 4v1m0 7v6m0 2v3m0 21v1m0 18v2m0 3v3m0 11v1m0 3v2m0 18v3m0 1v2m0 23v3m1-138v6m0 1v1m0 38v1m0 5v2m0 26v3m0 18v3m0 15v1m1-119v1m0 5v1m0 1v3m0 5v3m0 5v4m0 11v2m0 25v1m0 2v1m0 7v3m0 4v1m0 12v3m0 16v2m0 9v1m0 2v1m1-127v1m0 10v2m0 3v2m0 70v2m0 4v2m1-91v1m0 12v2m0 3v1m0 2v1m0 4v3m0 25v1m0 3v6m0 28v3m0 4v6m0 6v2m0 9v2m1-133v1m0 2v1m0 9v2m0 3v1m0 9v1m0 3v4m0 10v1m0 4v1m0 13v1m0 7v1m0 29v3m0 2v1m0 10v4m0 2v1m1-129v1m0 5v2m0 26v7m0 2v5m0 16v3m0 7v1m0 4v1m0 3v2m0 32v1m0 8v1m0 7v1m1-132v2m0 8v1m0 12v1m0 16v3m0 6v1m0 37v1m0 1v2m0 33v3m0 6v3m1-138v2m0 2v2m0 4v1m0 33v4m0 17v2m0 19v3m0 28v1m0 4v1m0 10v2m1-136v1m0 10v1m0 6v1m0 14v1m0 11v1m0 12v2m0 12v7m0 39v1m0 5v2m0 9v1m0 1v1m1-138v2m0 2v6m0 11v1m0 3v2m0 7v3m0 8v1m0 12v1m0 5v1m0 11v4m0 17v1m0 8v1m0 5v2m0 8v5m0 6v1m0 4v1m1-135v2m0 31v2m0 5v5m0 3v1m0 4v3m0 6v3m0 9v2m0 2v1m0 4v1m0 21v1m0 6v1m0 5v1m0 3v1m0 3v2m1-108v2m0 2v2m0 4v2m0 13v5m0 4v7m0 43v1m0 6v1m0 1v4m0 2v2m0 1v2m0 3v2m1-120v4m0 3v3m0 8v2m0 3v1m0 42v3m0 15v2m0 2v2m1-98v4m0 1v2m0 3v1m0 9v4m0 6v2m0 3v1m0 7v6m0 4v1m0 31v2m0 5v2m0 4v1m0 7v2m0 7v2m0 3v1m0 5v1m1-131v2m0 5v4m0 11v4m0 5v1m0 3v2m0 2v9m0 2v2m0 1v3m0 4v2m0 2v1m0 7v1m0 3v2m0 13v1m0 8v1m0 5v1m0 29v1m0 3v3m1-142v2m0 4v1m0 5v2m0 6v2m0 13v2m0 2v3m0 9v1m0 41v1m0 3v2m0 4v8m0 12v5m1-130v1m0 11v2m0 27v2m0 33v3m0 50v2m1-70v4m0 52v2m0 6v2m0 4v1m1-131v10m0 16v2m0 8v1m0 1v4m0 15v4m0 38v1m0 2v1m0 12v5m0 4v7m0 4v2m1-124v4m0 6v4m0 3v5m0 1v1m0 4v3m0 9v2m0 1v1m0 61v3m0 4v5m1-120v5m0 6v2m0 17v5m0 13v4m0 35v3m0 22v9m1-121v2m0 4v1m0 93v4m0 3v2m1-120v2m0 2v6m0 13v2m0 3v1m0 24v3m0 64v3m0 5v1m0 3v1m1-132v4m0 5v4m0 4v1m0 4v2m0 13v2m0 2v1m0 13v2m0 36v6m0 3v1m0 3v1m0 4v1m0 11v3m0 5v1m1-131v2m0 1v3m0 2v1m0 13v1m0 6v8m0 9v1m0 1v2m0 1v2m0 2v3m0 3v4m0 31v1m0 2v3m0 8v8m0 13v1m1-129v1m0 4v2m0 3v2m0 6v1m0 34v3m0 59v8m0 3v1m0 6v1m0 4v1m1-142v3m0 15v9m0 16v6m0 9v2m0 11v3m0 42v1m0 12v1m0 4v5m0 2v1m1-119v5m0 1v2m0 10v3m0 73v12m1-127v2m0 14v3m0 5v3m0 7v3m0 1v1m0 6v2m0 3v4m0 31v1m0 10v1m0 4v2m0 4v2m0 7v2m0 4v2m0 9v1m1-136v1m0 4v3m0 14v2m0 6v7m0 1v2m0 15v3m0 12v4m0 2v1m0 8v4m0 6v1m0 7v2m0 5v1m0 5v2m1-111v9m0 7v1m0 83v1m0 9v3m0 3v7m1-132v2m0 3v1m0 10v2m0 6v3m0 7v3m0 6v1m0 11v1m0 5v1m0 55v1m0 12v1m1-111v5m0 8v1m0 85v8m0 3v2m1-111v3m0 4v4m0 86v1m0 6v3m0 2v3m1-128v2m0 1v12m0 7v1m0 3v1m0 3v1m0 6v7m0 2v7m0 62v1m0 4v2m0 2v3m1-132v1m0 4v2m0 1v2m0 6v1m0 1v4m0 17v2m0 6v2m0 7v2m0 16v15m0 6v4m0 6v2m0 3v2m0 5v1m0 14v1m0 4v4m1-135v5m0 4v5m0 8v1m0 10v2m0 3v1m0 6v4m0 39v1m0 3v1m0 4v2m0 5v1m0 9v1m0 5v6m1-122v3m0 7v3m0 1v3m0 5v3m0 6v1m0 2v1m0 4v1m0 52v1m0 3v4m0 8v1m0 3v7m1-122v8m0 15v2m0 7v1m0 10v2m0 3v2m0 45v1m0 17v5m0 1v6m0 11v1m1-135v1m0 26v1m0 4v1m0 6v1m0 10v4m0 32v1m0 14v2m0 2v3m0 18v1m1-112v1m0 9v1m0 7v2m0 1v2m0 3v1m0 22v2m0 15v3m0 14v1m0 9v1m0 20v3m0 2v1m1-135v3m0 2v7m0 2v2m0 4v1m0 3v10m0 72v5m0 14v1m1-104v2m0 15v1m0 2v1m0 2v3m0 34v2m0 5v1m0 14v1m0 17v6m1-134v6m0 5v12m0 9v1m0 3v1m0 9v4m0 3v4m0 7v2m0 21v4m0 23v1m0 14v1m0 4v6m1-137v3m0 10v8m0 4v2m0 2v7m0 8v1m0 8v6m0 32v1m0 16v1m0 12v2m0 14v1m1-143v4m0 7v1m0 9v1m0 26v3m0 4v9m0 36v1m0 9v1m0 8v3m0 6v3m0 9v2m1-143v2m0 6v5m0 10v2m0 23v5m0 55v4m0 4v1m0 13v2m1-127v6m0 11v1m0 17v1m0 12v1m0 4v1m0 47v7m0 4v1m0 14v1m1-133v3m0 4v9m0 9v4m0 19v3m0 67v1m1-118v2m0 7v2m0 12v5m0 1v2m0 2v2m0 9v1m0 7v1m0 4v1m0 45v5m0 8v2m0 2v3m0 16v2m1-142v1m0 4v2m0 4v2m0 2v3m0 2v2m0 3v1m0 15v2m0 72v4m0 13v2m0 2v1m1-132v5m0 5v7m0 1v5m0 4v3m0 10v2m0 71v1m0 13v2m0 6v2m1-141v1m0 39v2m0 38v2m0 30v2m0 22v1m1-135v5m0 4v1m0 6v5m0 3v3m0 2v4m0 2v3m0 10v2m0 54v4m0 1v3m0 4v1m0 12v3m1-133v4m0 2v1m0 11v7m0 9v3m0 12v2m0 4v1m0 12v2m0 10v3m0 10v1m0 2v2m0 2v2m0 2v4m0 6v2m1-118v8m0 16v1m0 12v1m0 20v3m0 39v1m0 6v1m0 9v2m1-113v4m0 4v3m0 11v2m0 7v2m0 6v1m0 12v3m0 47v1m0 3v1m0 4v2m0 11v1m1-85v1m0 4v1m0 5v1m0 32v6m0 15v2m0 5v1m0 15v4m1-121v2m0 2v2m0 96v1m0 6v7m1-128v1m0 35v3m0 1v1m0 49v4m0 14v2m0 18v1m0 5v1m1-115v1m0 2v3m0 4v6m0 5v4m0 15v3m0 5v8m0 13v4m0 5v1m0 3v1m0 8v2m0 15v1m0 3v7m1-118v2m0 9v1m0 2v6m0 73v1m0 14v8m1-141v2m0 5v2m0 6v1m0 8v1m0 4v3m0 2v4m0 10v1m0 9v2m0 58v1m0 2v4m0 5v1m0 10v2m1-142v2m0 6v1m0 7v1m0 99v1m1-116v2m0 3v1m0 6v8m0 2v2m0 86v1m0 5v1m0 5v2m0 5v2m1-132v2m0 6v1m0 5v2m0 8v7m0 3v2m0 5v1m0 10v1m0 42v3m0 12v3m0 1v2m0 15v1m0 8v1m1-141v8m0 8v7m0 6v2m0 14v1m0 4v2m0 56v2m0 3v1m0 2v5m0 9v1m1-131v2m0 2v7m0 6v4m0 5v9m0 3v1m0 1v2m0 73v1m1-118v3m0 4v1m0 14v1m0 2v1m0 5v4m0 9v1m0 50v3m0 10v2m0 4v5m0 15v1m1-115v6m0 10v1m0 2v1m0 6v4m0 1v5m0 53v1m0 2v2m0 3v1m0 17v1m0 3v2m1-141v5m0 22v5m0 8v4m0 11v1m0 51v5m0 22v1m1-134v1m0 2v3m0 8v3m0 9v4m0 2v8m0 10v2m0 52v5m0 9v1m0 11v1m0 6v2m0 2v2m1-140v2m0 4v4m0 4v1m0 4v9m0 2v1m0 5v1m0 4v4m0 5v1m0 2v1m0 46v1m0 1v2m0 5v1m0 19v1m0 9v1m1-133v1m0 3v8m0 5v4m0 85v3m0 11v1m1-132v3m0 9v2m0 4v2m0 7v1m0 22v2m0 80v1m1-126v1m0 8v7m0 4v1m0 8v1m0 4v1m0 4v4m0 1v1m0 6v2m0 74v2m1-132v4m0 4v4m0 7v1m0 3v2m0 9v1m0 16v2m0 60v1m0 16v1m1-135v1m0 10v2m0 1v2m0 28v2m0 70v1m0 14v1m1-131v3m0 8v2m0 2v3m0 1v5m0 1v3m0 5v7m0 15v1m0 49v1m0 2v1m0 23v1m1-122v3m0 4v2m0 14v2m0 1v5m0 8v1m0 48v1m0 16v1m0 7v3m0 5v1m1-126v1m0 6v2m0 5v1m0 16v1m0 10v1m0 4v1m0 3v2m0 55v1m0 17v1m1-135v1m0 2v1m0 8v4m0 3v2m0 2v3m0 16v1m0 68v1m0 2v1m0 19v1m1-130v1m0 5v1m0 9v4m0 18v4m0 50v3m0 1v1m0 10v3m0 2v1m1-118v2m0 2v2m0 3v1m0 7v4m0 5v2m0 2v8m0 74v1m0 2v1m0 3v1m0 11v1m1-129v1m0 11v8m0 17v5m0 2v3m0 53v2m0 3v1m0 10v9m0 5v1m1-127v1m0 4v1m0 3v1m0 8v3m0 12v1m0 1v4m0 5v1m0 45v1m0 4v7m0 7v1m0 1v2m0 4v1m0 8v1m1-133v4m0 4v1m0 6v8m0 5v4m0 16v1m0 2v2m0 38v1m0 7v2m0 3v2m0 4v1m0 1v1m0 5v4m0 11v2m0 3v1m1-136v4m0 1v2m0 6v5m0 8v14m0 3v1m0 51v1m0 5v2m0 4v2m0 3v1m0 17v1m1-105v4m0 5v12m0 6v1m0 3v1m0 34v1m0 2v1m0 2v1m0 5v2m0 2v2m0 24v1m0 1v1m1-137v7m0 14v1m0 10v2m0 4v2m0 4v2m0 47v2m0 8v1m0 5v1m0 4v1m0 11v1m1-125v1m0 4v2m0 3v2m0 3v4m0 12v1m0 4v1m0 77v3m0 4v4m1-115v2m0 4v2m0 14v1m0 5v1m0 6v1m0 44v2m0 5v2m0 4v3m0 4v3m0 12v2m0 1v1m0 3v1m0 3v2m1-144v5m0 17v8m0 4v1m0 67v1m0 19v2m1-124v7m0 8v2m0 17v12m0 2v2m0 8v1m0 47v1m0 7v4m1-110v3m0 11v2m0 2v4m0 2v3m0 11v3m0 6v4m0 58v1m0 13v1m0 8v1m1-141v5m0 30v2m0 1v1m0 4v1m0 7v2m0 2v1m0 4v1m0 49v1m0 1v1m0 19v1m0 1v7m1-141v1m0 37v2m0 14v1m0 52v1m0 6v3m0 18v1m1-124v11m0 1v3m0 5v6m0 3v2m0 60v1m0 3v4m0 5v1m0 15v1m1-132v7m0 11v2m0 3v2m0 16v3m0 68v1m0 5v1m0 12v1m1-133v4m0 10v1m0 12v5m0 3v5m0 10v1m0 1v1m0 50v8m0 7v1m0 5v2m0 5v1m1-108v2m0 5v2m0 5v1m0 63v1m0 13v1m0 15v1m1-133v3m0 11v1m0 4v2m0 3v1m0 17v1m0 5v6m0 50v2m0 6v2m0 7v4m1-121v11m0 2v4m0 3v2m0 12v2m0 4v2m0 4v1m0 57v1m0 3v1m0 6v1m0 4v4m0 4v2m1-134v16m0 4v2m0 8v2m0 4v3m0 11v1m0 5v1m0 39v3m0 5v3m0 9v1m0 15v1m0 3v2m1-138v2m0 5v4m0 17v3m0 2v2m0 6v1m0 4v1m0 4v9m0 45v3m0 4v2m0 2v2m0 18v1m1-137v2m0 3v4m0 22v3m0 4v1m0 7v1m0 10v1m0 51v3m0 5v1m0 13v1m1-124v3m0 14v7m0 4v4m0 6v2m0 1v1m0 9v1m0 43v1m0 7v1m0 6v2m0 7v3m0 1v2m1-133v2m0 3v2m0 5v5m0 3v11m0 5v1m0 3v1m0 5v1m0 12v3m0 40v3m0 15v4m1-123v6m0 4v2m0 8v2m0 1v9m0 9v1m0 4v3m0 7v1m0 43v3m0 1v1m0 12v1m0 12v1m1-126v4m0 4v2m0 5v3m0 5v1m0 25v2m0 45v1m0 4v1m0 7v2m0 14v1m1-131v13m0 5v3m0 2v4m0 7v3m0 12v3m0 65v1m0 13v1m1-110v4m0 2v1m0 4v2m0 6v2m0 3v1m0 55v3m0 1v2m0 11v2m0 3v2m1-119v7m0 3v1m0 16v1m0 7v1m0 5v2m0 62v1m0 4v1m0 15v1m1-128v3m0 7v1m0 3v4m0 22v6m0 42v7m0 4v2m0 2v1m0 2v4m0 18v1m0 4v2m1-132v3m0 1v7m0 8v2m0 2v1m0 1v2m0 8v3m0 4v3m0 59v1m0 12v3m0 3v2m1-130v3m0 1v5m0 1v3m0 15v9m0 57v2m0 8v4m0 6v1m0 14v1m0 5v1m0 2v1m1-134v1m0 8v2m0 5v4m0 5v1m0 17v3m0 52v1m0 6v2m0 15v1m0 9v2m1-142v2m0 3v3m0 5v6m0 18v1m0 68v1m0 23v4m1-136v1m0 7v5m0 1v2m0 2v3m0 1v7m0 3v1m0 20v1m0 64v1m0 2v4m1-118v1m0 4v2m0 5v2m0 4v3m0 14v2m0 2v1m0 4v1m0 1v2m0 60v2m0 14v1m1-125v2m0 7v2m0 3v7m0 5v10m0 5v1m0 47v1m0 13v1m0 5v1m0 1v7m0 14v1m1-132v1m0 2v2m0 5v5m0 6v3m0 5v2m0 4v6m0 4v1m0 46v2m0 2v1m0 3v1m0 5v1m0 2v1m0 4v2m0 9v3m1-136v4m0 25v5m0 6v3m0 4v1m0 7v1m0 55v2m0 3v4m0 2v2m0 2v7m1-103v2m0 9v1m0 4v3m0 7v3m0 38v1m0 10v6m0 18v1m0 9v1m1-139v2m0 3v1m0 4v2m0 5v2m0 6v5m0 6v6m0 3v1m0 58v3m0 13v2m0 5v1m1-127v6m0 29v1m0 9v1m0 6v3m0 38v1m0 3v2m0 3v1m0 3v1m1-105v2m0 5v7m0 6v4m0 9v2m0 4v3m0 55v1m0 5v1m0 3v1m0 2v1m0 15v1m1-124v3m0 9v3m0 1v3m0 19v4m0 61v2m0 1v3m0 2v1m0 7v1m1-115v1m0 25v2m0 1v2m0 8v1m0 10v3m0 35v2m0 5v9m0 13v1m0 5v1m0 4v1m1-106v3m0 3v2m0 3v1m0 7v2m0 47v1m0 13v3m0 20v1m1-144v2m0 3v1m0 4v3m0 8v6m0 2v1m0 7v1m0 85v1m0 3v5m1-131v1m0 7v2m0 4v4m0 17v1m0 12v1m0 1v1m0 51v2m0 12v2m0 1v4m0 3v5m1-132v3m0 30v4m0 16v1m0 46v1m0 32v1m1-126v3m0 2v8m0 4v7m0 6v1m0 2v3m0 6v5m0 54v2m0 2v5m0 4v5m0 4v2m1-118v4m0 101v8m1-121v4m0 2v1m0 7v1m0 23v1m0 71v1m0 4v1m0 5v2m1-130v3m0 3v1m0 7v4m0 3v1m0 3v1m0 3v2m0 5v2m0 67v2m0 11v1m0 3v3m0 4v5m0 2v2m1-134v3m0 9v6m0 6v2m0 1v2m0 86v6m1-118v6m0 7v1m0 5v1m0 3v4m0 88v3m0 1v3m0 5v1m0 4v1m1-127v2m0 3v5m0 4v2m0 1v2m0 17v3m0 58v2m0 10v1m0 6v2m1-131v5m0 11v3m0 2v1m0 3v1m0 3v3m0 7v2m0 71v3"/>
</g></g>
<clipPath id="c20"><rect x="89.7" y="1170.5" width="310.6" height="285.8"/></clipPath>
<g clip-path="url(#c20)"><g transform="translate(89 1169.5) scale(2)" fill="none" stroke-width="1.04" shape-rendering="crispEdges" filter="url(#hb)">
<rect x="-2" y="-2" width="160" height="148" stroke="none" fill="#9933ff"/>
<path stroke="#9140ff" d="M0.5 56v9m1-9v11m1-10v10m0 5v2m1-19v7m1-9v9m0 22v3m1-32v8m0 19v2m1-29v7m1-6v6m1-7v7m0 9v5m1-22v8m1-7v6m1-6v8m1-8v8m1-5v3m1-5v6m1-7v6m1-6v10m1-8v9m0 3v4m1-16v10m1-11v6m1-8v6m1-4v11m1-11v10m1-11v11m1-12v8m0 7v3m1-16v17m1-18v6m1-8v7m0 10v3m1-17v4m0 30v2m1-38v12m1-12v11m1-10v11m1-10v6m1-6v10m1-11v10m1-11v11m1-9v6m1-7v6m1-5v7m1-6v8m1-8v4m1-4v4m1-6v8m1-7v5m1-6v6m1-6v7m1-5v7m1-7v9m0 3v2m0 5v4m1-25v10m1-11v7m0 4v3m1-12v8m1-10v7m1-8v10m1-8v7m1-8v12m0 9v2m1-21v9m0 12v1m1-22v8m0 13v2m1-22v9m1-9v5m1-6v7m0 7v3m1-17v9m1-10v12m1-12v10m1-8v8m1-9v9m1-9v8m1-9v11m1-12v6m0 2v4m1-10v8m1-9v8m1-9v7m1-6v5m1-4v8m1-9v8m1-7v8m1-9v10m1-14v8m1-6v9m1-9v11m1-12v8m0 33v1m0 5v1m1-47v11m1-7v7m1-10v8m1-8v7m1-8v11m1-10v4m0 3v6m1-12v10m1-9v9m1-10v8m1-8v6m1-8v9m1-9v9m1-8v10m1-9v6m1-8v6m1-6v7m1-7v7m1-7v5m1-6v9m1-9v7m1-6v6m1-5v7m1-8v9m1-7v9m1-10v8m1-8v6m0 14v1m1-22v6m0 2v4m1-12v6m1-7v5m1-3v6m1-7v7m1-7v8m1-5v7m1-8v10m1-11v11m1-11v9m1-9v8m1-8v7m0 3v1m1-12v7m1-7v9m1-9v8m1-8v7m1-6v6m1-7v5m1-4v8m1-9v7m1-7v8m1-6v5m1-8v6m1-6v6m1-4v7m1-7v9m1-10v6m1-6v7m1-9v7m1-6v5m1-6v6m1-5v5m0 4v1m1-9v8m1-10v11m1-9v10m1-11v6m1-5v5m1-5v7m1-6v7m1-9v9m1-8v8m1-11v10m1-8v7m1-5v5m1-6v9m1-10v10m1-9v11m1-12v12m1-12v10m1-8v6"/>
<path stroke="#8750fe" d="M0.5 65v14m1-12v15m1-15v5m0 2v4m1-16v2m1-2v3m0 15v4m1-21v3m0 15v1m0 2v1m1-23v4m1-4v5m1-5v9m0 5v2m1-16v4m1-5v9m1-7v3m1-3v3m1-5v10m1-9v11m1-12v9m1-5v7m1-6v3m0 4v3m1-9v6m1-11v8m1-10v7m1 0v2m1-3v3m1-3v3m1-7v3m0 2v2m0 3v2m1-1v2m1-14v7m0 3v1m1-12v10m0 3v3m0 10v3m1-29v15m0 14v1m0 2v1m1-27v8m0 16v3m1-28v4m1-3v3m1-7v7m1-3v5m1-6v5m1-5v4m1-7v18m1-19v10m1-8v5m1-3v8m1-12v6m1-6v2m0 12v3m1-15v12m1-14v12m1-12v16m1-15v13m1-11v3m0 5v6m1-12v3m0 2v5m0 4v1m1-16v8m1-12v4m0 3v6m0 4v1m1-15v4m0 5v3m0 4v1m1-20v7m1-5v5m1-6v5m0 9v3m1-13v2m0 4v3m0 2v2m1-14v2m0 8v2m0 1v2m0 18v1m1-35v5m0 2v6m0 2v3m1-16v13m1-17v12m0 14v3m1-28v7m0 3v8m1-16v6m0 5v2m1-11v12m1-14v14m1-14v5m1-5v3m1-4v3m0 1v3m1-5v6m1-12v2m0 4v1m1-3v5m1-6v5m1-7v4m1-5v9m1-5v3m1-4v6m1-5v4m1-3v3m1-9v7m0 5v1m1-10v4m0 2v3m1-7v4m1-8v11m1-7v5m1-5v4m1-6v6m0 7v1m1-15v4m1-1v4m1-1v1m1-3v2m1-2v2m1-4v4m1-6v6m1-5v3m1-3v3m1-1v3m1-6v7m1-9v4m1-3v3m1-3v4m1-6v5m1-2v3m1-5v8m1-8v6m0 4v2m1-10v2m0 7v5m1-13v3m1-1v4m0 4v3m1-13v3m1-5v9m0 3v2m0 1v1m1-17v2m0 4v4m1-10v8m1-10v8m1-5v8m1-8v5m1-4v8m1-6v5m1-3v4m1-4v3m1-5v3m1-4v6m1-7v3m0 1v2m1-7v8m1-6v3m1-4v3m1-4v4m1-4v7m1-9v7m1-3v4m1-6v4m1-3v3m1-4v3m0 3v1m0 5v4m1-18v5m0 8v5m1-18v5m1-2v4m1-2v3m1-7v5m1-4v4m1-6v4m1-5v6m1-6v9m1-9v4m0 1v9m1-10v7m1-6v4m1-3v6m1-11v6m1-6v6m1-4v4m1-3v3m1-3v2m1-2v4m1-5v3m1-4v3m1-3v4m1-1v2m1-2v3m1-1v2m1-2v3m1-5v4m1-6v4"/>
<path stroke="#7c60fe" d="M0.5 79v1m1 2v2m1-6v3m0 1v4m1-22v14m1-13v2m0 11v2m0 7v1m1-22v2m0 12v1m0 4v1m1-20v6m1-5v13m0 8v2m1-12v1m1-13v13m0 8v2m1-19v5m1-9v13m1-13v6m1-1v4m1-2v5m1-8v7m0 17v2m1-24v4m1 0v3m1-6v4m1-7v9m1-12v10m1-8v3m1-3v5m1-5v5m1-9v2m0 7v2m1-1v1m1-8v3m0 1v4m1 0v3m0 6v1m1-11v2m0 11v1m0 4v1m1-20v2m0 13v1m0 3v2m1-26v2m1-2v2m1-2v8m1-6v2m1-3v3m1-4v2m0 11v1m1-3v2m1-11v9m1-12v11m1-6v10m1-16v6m0 4v4m0 2v1m1-21v12m0 3v2m1-5v5m1-7v4m1 0v2m1-4v1m1-9v5m0 6v1m0 4v2m1-4v3m1-11v6m1-5v4m0 1v2m1-13v5m0 3v4m0 1v2m1-15v6m1-6v4m1-5v9m0 3v1m0 5v1m1-18v4m0 7v2m0 15v1m0 3v1m1-34v8m0 5v3m0 14v1m0 1v1m1-31v2m0 11v2m1-5v4m0 4v2m1-15v2m0 4v3m0 4v1m1-7v1m1-11v5m0 2v1m1 0v1m1-1v1m1-10v4m0 3v4m1-13v4m1-5v1m0 3v2m1-1v5m1-10v2m1 0v2m1-3v5m1-8v4m1 0v5m1-7v2m1 0v2m1-3v2m1-2v5m1-7v5m0 1v1m1-7v2m0 3v2m1-5v3m1 0v2m0 19v1m1-24v3m1-4v9m1-9v7m0 1v2m1-13v9m1-6v3m1-3v2m1-3v2m1-2v2m1-2v5m1-5v3m1-5v2m1-2v3m1-1v3m1-2v3m1-8v6m1-6v8m1-7v7m0 5v3m1-16v4m1-3v3m1 0v2m0 2v4m1-10v4m0 2v2m1-10v2m0 2v3m0 5v2m1-12v12m1-9v4m0 3v1m1-11v5m1-1v3m0 4v2m1-9v5m1-7v2m1-4v7m1-4v3m1-6v4m1 0v3m1-4v3m1-2v2m1-3v3m1-5v4m1-2v4m1-5v2m1-1v3m1-6v2m1-3v4m1-4v3m1 0v2m1-4v2m1-1v4m0 2v2m1-10v6m1-6v2m0 2v3m1-8v3m0 1v5m0 4v1m1-14v8m0 5v1m1-14v5m0 4v2m1-9v3m1-2v3m1-5v2m1-2v3m0 9v2m1-16v2m1-1v2m1 1v2m1 3v1m1-4v6m1-8v1m1 2v1m0 9v2m1-17v6m1-6v2m1-2v3m1-3v7m1-8v2m1 0v1m1-3v2m0 26v1m0 3v1m1-34v3m1-2v3m1-2v3m1-2v4m1-3v4m1-3v2m1-3v1m1-3v8"/>
<path stroke="#7072fc" d="M0.5 80v5m1-1v1m1-4v1m0 4v1m1-9v2m1-13v2m0 8v1m0 10v1m1-21v7m0 3v2m0 6v1m1-15v13m1-5v1m0 4v3m0 2v2m1-13v2m0 1v5m1-8v5m0 2v1m0 2v1m1-15v2m0 12v3m1-13v2m1-9v11m1-8v7m1-4v2m1-3v6m0 4v5m0 1v1m0 2v1m1-21v1m1 2v2m1-4v3m1-1v1m1-3v4m1-9v8m1-6v2m1-2v7m1-5v5m1-5v5m0 3v1m1-9v6m1-3v1m0 4v1m0 4v1m1-13v6m0 4v1m1-12v5m0 7v1m1-18v13m1-13v6m1 0v2m1-6v8m1-8v6m1-8v11m0 1v2m1-3v1m0 4v4m1-11v2m1-3v2m1 2v1m1-11v4m0 4v2m0 1v6m1-10v4m1-4v2m1-5v5m0 2v1m1-6v1m1-4v4m1-1v4m0 2v2m1-3v3m1-8v3m0 6v2m1-9v2m0 5v1m1-6v1m0 8v2m1-20v7m1-9v9m1-1v1m0 2v2m0 1v3m1-8v4m0 4v2m1-8v7m1-6v4m1-5v4m0 2v1m1-14v4m0 3v4m0 4v1m1-10v1m1-4v1m1 0v1m1-1v1m1-7v3m0 4v1m1-10v3m1-2v2m1 2v3m1-11v10m1-8v11m1-9v2m1-6v7m1-2v4m1-9v8m1-6v2m1-3v9m1-6v3m1-3v1m1-1v3m0 10v2m1-17v4m0 15v3m1-20v1m1-2v5m1 0v1m1 0v3m1-7v2m1-5v1m1-2v2m1-3v4m1-4v5m1-2v2m1-4v3m1-6v9m1-8v2m1 0v2m1-1v2m1-4v5m1-3v3m1-3v2m0 2v1m0 3v2m0 5v3m1-22v7m0 13v1m1-21v9m1-7v2m0 4v5m1-7v1m1-9v2m0 10v2m1-2v4m1-5v2m1-8v8m1 0v3m1-7v6m1-11v1m1 2v1m1-2v2m1-4v2m1 1v2m0 5v1m1-9v2m1-2v1m0 5v3m1-9v2m0 10v2m1-15v6m1-4v5m1-8v3m1-1v5m1-9v2m1-1v2m1-3v2m0 1v3m1-4v1m1-3v4m1-1v2m0 2v2m1-6v2m0 11v2m1-19v2m0 3v2m2 4v1m1-10v4m0 2v1m1-7v5m1-4v1m1-4v5m1-4v9m0 2v2m1-16v4m1-3v5m1-2v3m1 1v1m1 1v2m1-9v2m1 1v1m0 6v2m0 2v1m1-12v3m1-7v2m1-1v8m1-4v2m1-8v1m1 0v1m1-2v2m1-2v2m1-1v5m1-4v3m1-1v8m1-7v3m1-4v2m1-4v2m0 2v3m1-2v1"/>
<path stroke="#6484fb" d="M0.5 85v2m1-2v2m1 0v5m1-12v8m1-19v8m1-2v3m0 9v1m1-3v2m0 1v6m1-13v4m0 7v1m1-12v1m0 5v4m1-7v2m0 4v1m1-14v4m0 7v1m0 3v2m1-13v1m1 1v2m1-3v5m0 8v5m1-20v2m0 8v2m1-9v4m0 5v1m1-16v6m1-2v2m1-3v2m1-2v2m1-1v3m1-4v5m0 3v3m1-15v3m1 2v3m1-3v4m1-4v3m0 1v1m1-4v2m1-4v4m0 6v1m1-8v4m0 7v1m1-14v7m0 7v1m1-12v2m0 2v2m1-13v8m1-6v3m1-1v10m1-12v4m1 2v1m0 6v2m1-11v4m0 4v1m1-10v6m1-7v2m0 2v2m0 4v3m1-10v1m1 5v1m1-7v1m1-3v3m1-3v2m0 1v5m0 4v1m1-15v9m1-9v8m0 3v3m1-7v2m1-2v2m1-7v1m0 3v2m0 2v2m1-9v5m0 1v4m1-9v2m0 5v1m0 2v1m0 3v3m1-20v2m1-2v2m1-2v2m0 6v2m1-6v4m0 2v1m0 3v1m1-6v1m0 5v1m0 3v1m1-13v1m1 1v1m2-8v5m1-8v4m1-3v2m1-2v1m1 0v1m1-8v8m1-8v2m0 6v1m1-4v2m1-3v1m1 2v2m1-9v6m1-5v2m0 4v1m1-5v3m1-4v7m1-11v9m1-3v2m1-5v4m0 8v2m1-16v1m1 1v3m0 6v1m0 2v2m1-15v2m0 12v1m0 3v1m1-20v2m0 15v1m1-15v1m1 0v1m1 2v2m1-7v1m1-5v2m1-2v2m1-1v2m1-1v4m1-4v3m1-4v7m0 5v1m1-10v3m1-9v6m1-4v2m1-1v5m0 13v1m1-18v3m1-3v4m0 6v3m1-14v2m0 6v5m0 3v1m1-16v4m0 2v3m0 2v2m0 1v2m1-14v2m1 2v3m1-9v4m0 2v6m1-7v3m1-1v2m1-5v2m1-2v3m1 0v1m1-2v2m1-12v2m1 1v1m0 12v2m1-15v3m1-5v9m0 2v3m1-11v1m0 3v1m0 1v2m0 9v3m0 5v1m1-27v2m1-3v5m0 3v2m1-9v4m0 8v1m1-10v1m1 0v2m1-7v3m1 1v3m1-10v2m1-1v2m1-3v1m0 3v4m1-7v2m0 12v2m1-15v6m1-1v1m1-5v2m0 7v2m0 2v1m1-13v3m1 1v1m1 0v1m1-4v1m1-3v10m1-13v2m0 6v5m1-12v1m0 5v4m1-1v1m1-13v6m1-4v1m0 11v1m0 2v3m1-17v5m1-3v1m1 2v2m1-9v2m1 0v6m0 5v1m1-10v1m1-6v6m1 1v1m1-3v7m1-14v5m1-4v6m1-6v3m1-3v2m1 2v2m1-3v2m1 5v1m1-5v2m1-4v6m1-8v2m0 3v1m1-2v1"/>
<path stroke="#5698f8" d="M0.5 87v4m0 1v2m1-7v2m0 1v4m1-2v1m1-5v2m1-1v1m2-3v1m0 6v1m2-4v1m1-1v3m1-13v7m0 6v2m1-14v9m0 1v5m1-12v3m0 5v2m1-8v2m0 4v2m0 5v1m1-19v8m0 2v2m1 3v1m1-15v2m1-2v1m1-2v2m1-2v2m1 0v2m1-1v3m0 3v1m1-13v8m1-3v9m1-8v4m1-3v1m1-3v2m1 5v1m2 4v1m1-11v2m0 2v1m1-6v4m1-7v5m1 4v2m1-10v9m1-6v1m0 4v1m0 2v4m1-6v2m1-6v5m1-10v2m0 2v4m0 3v1m1-10v7m1-1v2m1-8v1m1-1v3m0 9v1m1-8v4m0 1v3m1-9v2m1-3v3m0 3v1m1-6v4m1-4v2m1-8v3m0 6v1m1 0v1m1-8v5m0 4v3m1-15v6m0 9v2m1-17v1m1 7v2m1-1v3m1-4v1m0 3v1m1-7v1m0 10v2m1-11v1m1 0v1m1-5v4m1-8v1m1-2v9m1-10v2m0 4v3m1-8v1m1-1v2m1-8v2m0 1v3m0 1v2m1-4v1m1-3v7m1-3v5m1-8v6m1-9v4m0 1v2m1-4v8m1-5v6m1-8v3m1-4v6m1-7v4m0 3v1m0 2v1m1-16v2m0 6v7m1-11v4m0 1v1m0 5v2m1-15v3m0 4v5m0 5v1m1-19v5m0 9v1m1-13v2m1-1v1m1 3v2m1-8v2m1-5v2m1-2v4m0 10v3m1-16v3m0 6v7m1-13v1m1-2v4m1-1v5m0 1v2m1-9v1m1-4v3m1-5v2m0 9v5m1-12v2m0 9v2m0 1v2m1-17v2m0 1v4m1-6v2m0 2v2m0 3v1m1 2v1m1-13v2m0 3v2m0 5v1m1-13v4m0 8v3m1-10v2m1-7v2m0 6v1m1-5v2m1-1v2m1-5v2m1-1v2m2-1v1m1-11v2m0 2v9m1-11v2m0 8v2m0 2v1m1-13v1m0 4v4m1-5v2m0 3v1m1-11v3m0 4v1m0 7v1m0 3v2m0 2v1m1-24v3m0 2v9m1-7v2m1-7v2m0 3v1m0 3v1m1-10v5m1-3v1m1-5v3m1 1v2m1-10v2m1-1v5m2-5v6m0 3v3m1-7v1m1-1v3m0 3v8m1-17v7m0 5v2m1-12v1m1 1v1m1 0v3m1-6v6m1 1v7m1-18v6m0 5v2m1-13v5m0 4v3m1-3v3m1-10v2m0 4v4m1-13v5m0 4v2m0 1v2m0 3v1m1-13v2m1-4v2m0 2v2m1-2v8m1-15v2m0 1v1m0 6v4m1-2v2m1-11v3m1-3v2m1 0v3m1 1v2m1-11v2m0 4v3m1-7v5m1-8v2m0 2v6m0 10v1m0 5v1m1-28v3m0 3v2m1-4v2m0 2v5m1-10v6m1 0v2m1-5v2m0 4v2m1-6v6m1-8v1m1-2v2"/>
<path stroke="#47abf5" d="M0.5 91v1m0 2v1m1-6v1m0 4v3m1-4v3m1-6v1m1-1v1m1-3v5m1 2v1m1-3v1m1-2v1m1 1v1m1 1v1m1-6v1m0 5v2m1-11v1m0 2v2m0 2v1m1-7v4m1 1v1m1 3v1m1-14v5m1-6v8m1-8v1m1-1v2m1 0v5m1 1v2m1-7v5m1 1v2m1-6v2m1-4v1m1-2v1m2 8v1m1 1v1m1-7v1m1-3v4m1-6v1m0 5v2m2-3v2m1-7v4m0 7v1m1-5v1m1-2v1m1 1v2m1-5v2m1-1v1m1-8v6m1-4v5m0 3v1m0 1v1m1-1v2m1-9v1m2 1v2m1-4v2m1 0v1m0 3v4m1-7v1m2-6v1m0 7v1m0 2v1m1-17v9m1 0v1m0 6v1m2-9v3m1-5v7m0 2v1m1-8v1m1 0v1m1-2v1m1-8v2m2-3v4m0 3v1m1-8v2m1-1v4m1-10v1m0 6v1m0 12v1m1-17v2m1 2v1m1 1v4m1-6v1m0 4v1m1-8v6m1-2v1m1 0v1m1-6v5m1-3v8m1-11v3m1-10v1m0 3v2m0 7v1m0 13v2m1-23v1m0 8v1m1-13v4m0 11v2m1-16v9m0 10v1m1-21v4m1-4v3m0 5v3m1-6v1m1-7v6m1-9v5m1-3v6m0 3v1m0 3v2m1-15v6m0 7v1m1-13v2m0 8v2m1-10v8m1-1v3m1-11v3m1-4v2m0 7v5m1-17v4m0 3v2m0 5v2m1-12v4m0 3v2m1-10v1m0 4v1m1-5v2m0 6v1m1 2v4m1-4v1m1-10v3m0 4v1m0 3v1m1-9v6m1-4v1m1-4v1m1 0v1m1-4v3m1-2v3m1-4v1m1 0v2m1-11v2m1 0v1m0 4v3m0 5v1m1-13v4m0 4v2m1-1v1m1-4v2m0 4v1m0 6v2m1-20v2m0 9v1m1-6v5m1-10v3m0 5v1m1-6v2m1-4v1m1-3v2m1 1v2m1-10v1m0 4v2m1-3v2m0 1v2m1-5v1m1 0v3m0 5v1m1-9v1m0 6v3m1-8v3m0 8v1m1-4v1m1-12v4m1 12v2m1-13v1m1-1v2m2 1v1m2-2v1m1-9v4m0 4v2m1-10v4m0 9v1m1-12v8m1-10v2m0 2v2m1 4v1m1-14v1m0 1v6m0 4v1m1-1v1m1-9v9m1-10v3m1 0v3m0 1v2m0 8v2m1-13v1m0 14v2m1-26v4m0 3v1m1-3v1m1-7v2m1-2v3m0 2v3m1-5v2m0 5v4m1-8v1m0 32v1m1-32v3m1-6v4m1 2v2m1-9v1m0 3v1m1-5v2"/>
<path stroke="#37bff1" d="M0.5 95v1m1 1v1m1-2v2m1-7v1m1-1v2m1 0v2m1 1v1m1-3v1m1-2v1m1 1v2m2 2v1m1-11v2m0 5v1m1 4v1m1-7v5m1-1v1m1-10v5m1-3v2m1-9v2m1-1v6m1-1v2m1 1v2m1-4v4m0 4v1m1-6v2m1-6v6m1-9v1m1-2v3m1 2v1m2 5v1m1-7v1m1 0v2m0 3v2m1-12v5m0 2v1m1-3v1m1 0v3m1 2v1m1-5v1m1-2v1m1 2v3m1-6v2m1-2v1m1-3v1m1 0v3m0 3v1m1 0v1m1-9v5m1-2v1m1-1v1m1-3v2m1-1v3m0 4v1m1-7v2m0 2v2m1 0v1m1-12v3m0 2v2m1-4v1m1 0v1m0 1v4m1 1v1m1-1v1m1-5v2m1-6v4m1-3v1m1-2v1m1-7v4m1 1v1m1-1v1m1-7v2m0 5v1m1-5v2m1-4v2m0 9v1m1-14v2m1 1v5m1 0v6m1-11v4m0 1v2m1-4v4m1-5v1m1 0v1m1-2v2m0 7v2m1-6v1m1-5v6m1-19v3m0 10v2m0 10v1m0 2v1m1-14v1m1 3v2m2-15v5m1-6v5m0 3v1m1-6v1m0 7v1m1-10v2m1-6v4m0 2v9m0 1v3m1-16v3m0 6v1m1-2v2m1-13v8m0 2v1m1-3v2m1 0v1m1-9v4m1-6v3m0 2v2m0 5v2m1-15v3m0 9v4m1-12v3m0 7v1m1-10v1m0 49v1m1-47v1m1 5v1m2-11v4m0 5v1m1-4v1m1-4v1m0 2v2m1-8v1m0 12v1m1-13v1m1-2v2m1-1v4m1-7v5m1-3v4m0 1v3m1-8v1m1-9v4m0 9v2m1-5v2m1-2v1m0 3v2m1-8v4m1 1v1m1-2v2m0 21v1m1-25v4m1-8v3m1-6v2m0 4v2m1-9v2m1 1v2m1-11v4m0 2v6m1-7v1m0 2v2m1-6v7m1 2v1m0 10v1m1-20v6m0 3v2m1 2v2m1-5v2m1-10v2m1-4v1m0 12v1m0 2v1m1-13v1m1 0v2m1 4v1m1-5v1m1-3v1m0 13v1m1-14v2m1-1v3m2-3v3m1-7v1m1 4v1m1 5v3m1-10v4m1-4v1m1-8v3m1 0v1m0 2v1m0 6v1m0 2v1m1-13v3m0 9v2m1-11v3m1-10v3m0 6v1m1-9v1m0 8v1m1-10v3m0 11v2m1-10v2m1-9v1m0 30v1m1-28v2m1-2v1m1 1v5m0 5v2m1-20v3m0 1v2m1-5v6"/>
<path stroke="#43d4ea" d="M0.5 96v4m1-2v4m1-4v4m1-10v1m1 0v2m1 0v1m1 1v1m1-3v1m1-2v5m2-2v1m1 2v1m1-4v1m2 2v2m2-7v2m1-3v2m1-9v2m0 2v3m1-2v3m1-2v3m1 0v1m1-1v4m0 1v1m1-5v2m1-2v2m1-10v5m1-4v3m0 3v6m1-9v2m1 1v1m1 2v3m1-9v2m1 0v3m0 2v1m1-5v1m1-3v3m1 0v3m2-4v2m1-3v4m1 1v1m1-5v2m1-3v2m1-4v1m2 7v1m1-5v1m1-2v1m1-1v2m1-3v4m2-2v2m0 2v1m2-9v2m0 6v1m1-8v6m1-5v1m0 5v1m3 0v1m1-6v2m1-4v5m1-6v2m1-5v2m1 0v5m1-5v1m0 36v1m1-43v5m0 1v2m1-5v3m1-5v1m0 7v1m0 2v1m1-14v3m0 6v3m1-6v2m1 4v1m1-5v1m1-1v1m1-5v1m1 0v1m1-1v1m0 4v2m1-3v1m1 0v2m1-6v1m0 8v1m0 4v1m0 1v2m1-17v1m3-6v2m0 1v3m0 4v2m1-9v1m1-6v7m0 1v2m1-10v7m1-9v2m0 9v1m0 3v1m1-7v1m0 12v2m1-15v2m1-4v1m1-2v2m1-1v2m1-7v2m1-5v2m0 9v1m1 0v1m1-2v2m1-11v7m1-3v6m1 0v1m1-5v1m1 2v2m1-5v1m0 16v2m1-22v2m0 2v1m1-8v1m0 9v2m0 1v1m1-13v2m1-2v4m1-1v2m1-4v7m0 10v2m1-18v1m0 3v1m1-8v1m0 20v3m1-18v2m1-5v1m1-2v3m0 2v1m2-3v1m1-1v1m0 18v2m0 1v1m1-22v1m1-6v1m1-5v4m0 2v2m1-9v5m1-2v11m1-10v2m1-4v6m1-5v2m0 25v1m1-25v1m0 7v2m0 1v1m1-10v2m1 2v2m1-5v2m0 2v2m1-14v1m1-4v2m0 6v4m1-8v1m1 1v4m1 1v1m1-5v2m0 3v5m1-12v1m0 5v4m0 2v1m0 1v1m1-13v4m0 12v2m1-16v1m1 0v1m1-2v1m1-7v6m1-1v2m1-4v1m0 5v1m1-3v5m1-8v6m0 12v1m1-24v5m0 7v3m1-11v1m0 4v1m0 4v1m1-11v2m0 6v1m0 4v1m1-19v2m0 1v2m0 3v3m0 5v2m1-17v6m0 1v1m0 4v2m1-15v1m0 6v1m0 8v1m1-15v2m0 8v1m0 2v1m1-9v3m1-11v2m0 27v1m0 2v1m1-28v3m1-4v2m1 4v2m0 1v2m0 2v1m1-15v6m1-5v2"/>
<path stroke="#5ce9e1" d="M0.5 100v2m1 0v1m1-1v1m1-10v8m1-6v7m1-6v5m1-3v2m1-4v1m1 2v2m1-4v2m1-1v1m1 2v1m1-4v4m1 0v2m1-2v1m1-3v1m1-4v2m1-3v1m1-8v2m0 3v7m1-6v1m1 0v4m1-3v1m1 4v2m1-5v1m1-1v1m1-6v5m1-6v3m1-1v3m1-1v2m2-4v2m1 4v1m1-5v3m1-3v4m1-1v1m1-1v1m1-3v3m1-2v2m2-3v2m1-3v1m1-4v5m1 1v1m1 1v1m1-5v1m1-2v1m1 0v2m1-1v1m5 0v1m3 14v1m2-17v2m1-1v1m1-5v1m1-4v1m1 4v2m1-6v1m0 3v4m1-6v4m1-6v6m1-10v2m0 4v1m1-7v2m0 2v2m0 3v1m1-5v2m1 3v1m1-5v1m1-1v1m1-5v2m1-1v8m1-8v4m0 4v1m1-5v5m1-3v1m1-6v1m0 6v1m0 6v1m0 2v1m1-17v2m1 2v1m2-9v1m0 3v4m0 2v1m1-9v2m1 2v4m0 3v1m1-11v5m2-4v1m0 10v1m0 2v1m1-14v1m1-4v1m0 36v1m1-38v2m1-1v3m1-8v5m1 2v1m1 0v2m1-2v2m1-6v2m1 1v2m1-1v1m1-5v2m1 2v1m1-5v5m0 10v1m0 2v1m1-18v2m1-9v2m0 5v2m1-7v2m0 4v3m1-7v2m1-1v2m1 1v2m0 10v1m2-21v9m0 8v3m0 3v3m1-19v1m1-5v5m0 9v1m1-11v2m0 1v3m1 0v1m1-9v8m1-8v6m0 16v1m1-22v5m0 12v4m1-26v4m1-1v7m1-11v13m0 14v2m1-20v3m1-11v1m0 2v2m1-3v5m0 16v1m1-25v5m0 19v1m0 1v1m1-25v3m0 2v2m0 4v1m0 32v1m1-42v6m1-2v4m1-7v2m0 2v2m0 10v3m1-28v5m0 7v2m1-16v6m0 8v1m1-12v6m0 11v1m1-13v1m1 1v1m1-4v3m0 5v3m1-14v5m0 4v2m1-6v3m0 5v1m0 5v1m1-16v5m0 15v2m1-21v1m0 14v6m1-22v1m1-2v6m0 7v2m1-14v5m0 33v4m0 1v1m1-47v2m0 2v1m0 4v1m0 15v1m1-18v1m1-3v2m0 9v1m0 1v1m0 21v4m1-45v7m0 3v1m1-11v4m0 6v1m0 15v3m1-28v6m1-11v1m0 8v5m1-7v4m0 2v1m1-15v6m1-3v1m0 4v3m0 4v1m1-7v2m0 3v2m1-16v7m0 19v1m1-21v2m0 46v1m1-51v3m0 6v2m1-5v1m0 5v1m0 13v1m1-24v3m0 6v1m1-13v2"/>
<path stroke="#78f9d4" d="M0.5 102v1m1 0v1m2-3v1m2-1v2m1-3v1m0 2v1m1-7v2m1 2v2m1-4v2m0 1v1m1-4v1m0 3v1m1-2v1m1-1v1m2 0v1m1-3v1m1-3v1m1-3v2m0 3v3m1-4v1m1-6v2m0 5v1m1-4v1m1-3v7m1-1v1m1-5v1m1-1v1m1-2v4m2-5v3m1-2v1m1 2v1m1-6v2m2 1v2m1-1v3m1-3v1m1-1v1m0 28v2m1-31v1m0 1v2m1-4v1m1-1v1m1-2v5m1-7v3m0 2v1m1-5v2m3-2v1m1-2v1m1 1v1m0 28v1m1-30v1m1 1v1m7-1v1m0 10v2m2-14v2m1-2v2m1-6v2m0 3v1m1-9v1m1 5v1m0 29v1m1-36v3m0 33v1m1-32v3m0 27v1m1-31v2m1-10v4m1-4v2m0 6v1m1-4v2m1 2v3m0 13v1m1-21v3m0 1v2m2-9v2m1 5v2m1-1v1m1-1v2m1-4v3m1-8v1m0 2v3m0 11v1m1-16v5m1-2v1m2 3v4m1-13v1m0 34v1m1-30v1m0 1v1m0 23v2m1-30v1m1 16v14m1-34v2m0 7v1m0 4v5m0 1v6m1-25v1m1-4v1m0 1v5m0 12v14m1-32v1m1 1v1m1-4v5m0 21v12m1-35v1m0 18v12m0 2v4m1-35v2m1-2v1m0 16v5m1-26v1m0 18v1m0 2v18m0 1v1m1-39v1m0 15v7m1-23v1m0 15v1m0 16v1m1-37v2m0 16v8m1-23v1m0 18v6m0 1v7m1-33v1m0 8v1m0 4v6m1-22v2m0 16v1m1-26v5m0 6v1m0 13v1m1-24v4m0 3v1m1-6v6m0 18v5m0 2v5m1-35v6m0 15v4m0 3v8m1-33v4m0 3v1m0 3v2m0 15v6m0 1v1m1-39v1m0 35v1m1-35v2m0 5v1m0 9v21m1-39v3m1-3v4m0 4v1m0 1v1m0 14v4m1-28v1m0 3v1m0 13v2m1-2v1m1-15v3m0 1v2m0 9v7m0 3v7m1-34v2m0 1v2m0 6v1m0 5v6m1-23v3m0 8v1m0 4v5m1-27v6m0 2v1m0 14v15m1-32v1m0 16v3m0 1v8m1-27v1m0 12v1m0 2v5m1-22v1m0 15v10m1-36v2m0 2v2m0 16v20m1-36v1m0 11v4m0 1v20m1-40v5m0 13v1m0 3v20m1-42v2m0 24v14m1-34v1m0 18v5m1-22v1m0 15v5m1-22v1m0 8v1m0 3v20m1-43v7m0 2v2m0 14v18m1-18v18m0 1v1m1-43v2m0 8v1m0 1v24m1-36v1m0 4v4m1-7v3m1 19v1m0 8v8m1-32v1m0 13v3m0 7v11m1-41v5m0 1v1m0 1v1m0 3v1m0 22v4m1-38v2m0 8v5m0 2v6m0 6v11m0 1v1m1-45v1m0 12v1m0 6v10m0 1v10m1-42v1m0 21v1m1-19v2m0 4v1m0 2v1m0 3v1m0 4v1m0 1v3m1-23v1m0 7v5m0 4v1m0 1v1m0 1v12m0 4v1m1-44v2m0 6v1m0 7v1m0 5v1m0 1v4m1-21v2m1-3v1m0 7v1m0 3v1m0 6v14m0 4v1m0 1v1m1-37v1m0 16v18m1-35v1m0 13v1m0 3v15m1-15v17m1-34v1m0 10v4m0 2v21m0 1v1m1-42v1m0 14v2m0 2v7m1-25v1m0 14v1m0 4v16m1-48v4m0 8v1m0 16v4m0 1v15m1-42v3m0 2v2m0 21v10m1-42v3m0 15v1m0 5v22m1-45v4m0 9v1m0 14v17m1-46v6m0 2v3m0 18v2m0 7v6m1-34v1m0 9v3m0 1v12m1-33v2m0 2v2m0 1v1m0 13v12m0 2v4m1-43v7m0 3v2m0 22v1"/>
<path stroke="#99ffc3" d="M0.5 103v1m1 0v1m1-2v1m0 24v1m2-27v1m2-2v2m1-4v2m1 2v1m1-3v1m0 1v1m1-4v3m0 1v1m0 24v1m1-27v1m2 0v1m2-3v1m1-3v2m0 29v1m1-33v3m1 0v2m1-6v5m1-2v3m2 1v2m0 20v1m1-27v1m0 1v2m0 9v1m1-14v1m1 1v2m1-3v1m1-2v1m1-2v1m2-2v4m1-1v2m1-2v1m1 1v1m1-3v2m1-2v1m0 29v1m1-31v1m1-1v1m1-1v1m1 2v1m0 7v3m1-15v2m0 1v1m1-4v2m0 26v1m1-29v2m1 0v1m1-4v1m1-2v1m0 3v1m1-3v3m0 14v3m0 7v1m0 1v1m1-30v3m0 14v2m0 2v4m1-8v1m1-17v1m1-1v1m0 16v4m1-21v1m1-2v1m0 16v1m0 2v8m2-11v3m1-12v4m0 3v13m1-26v1m0 9v15m0 1v1m1-27v1m0 14v10m1-25v1m1-5v3m0 1v1m1-9v2m0 2v5m0 13v5m1-21v1m0 16v12m1-28v1m0 14v13m0 2v4m1-33v1m0 12v14m0 1v1m1-30v2m0 14v12m1-29v1m0 12v18m1-31v1m0 14v16m1-33v1m0 23v9m1-28v1m0 13v9m1-27v1m0 2v1m0 16v9m1-32v1m0 17v15m1-34v2m0 17v15m1-27v1m0 4v2m0 4v7m0 5v3m1-26v1m0 23v2m1-25v1m1-2v4m0 18v5m1-34v2m0 15v12m0 5v1m1-29v1m0 14v11m1-27v1m0 12v12m1-12v11m1-23v2m0 4v24m1-36v2m0 16v5m0 6v5m0 1v5m1-34v1m0 2v1m0 8v13m0 2v1m1-30v1m0 18v12m1-30v1m0 12v2m0 14v2m1-34v1m0 5v1m0 10v1m0 6v3m1-12v6m0 1v9m1-34v1m0 5v2m0 9v1m0 14v3m0 1v1m1-36v3m0 21v11m1-33v2m0 1v6m0 9v2m0 8v2m1-29v1m0 14v6m0 12v2m1-36v1m0 16v1m0 12v2m0 4v1m1-34v3m0 16v3m0 5v2m1-15v1m0 5v9m1-34v1m0 4v3m0 9v1m0 1v2m1-18v1m0 13v1m0 7v10m1-32v2m0 11v2m0 1v6m0 4v6m0 1v1m1-36v2m0 10v4m0 8v10m1-32v2m0 13v3m0 6v1m0 7v2m1-34v1m0 6v1m0 11v3m0 5v6m1-34v1m0 2v2m0 10v1m0 1v5m1-19v4m0 8v1m0 7v5m0 3v3m0 2v2m1-37v8m0 8v8m0 3v4m1-31v5m0 12v1m0 5v2m0 5v1m1-30v1m0 11v3m0 4v3m0 8v1m1-30v3m0 6v3m0 3v9m0 6v1m1-37v4m0 1v8m0 8v9m0 2v3m0 1v1m1-34v5m0 31v1m1-37v2m0 14v21m1-36v4m0 3v1m0 8v5m0 4v7m1-18v1m0 2v5m0 6v4m1-24v4m0 4v5m0 9v5m1-31v1m0 2v2m0 6v1m0 7v3m1-25v1m0 2v4m0 1v1m0 12v7m1-27v8m0 10v9m1-30v2m0 1v3m0 3v8m0 15v1m1-32v6m0 9v1m0 3v1m0 8v2m1-28v3m0 5v4m0 8v8m1-29v1m0 13v1m0 10v4m1-34v3m0 2v4m0 5v2m0 20v1m1-36v2m0 3v6m0 25v1m1-36v2m0 1v1m0 2v7m0 24v2m1-35v2m0 13v2m0 14v1m0 1v1m1-36v2m0 14v2m0 5v12m1-33v2m0 6v7m0 5v2m1-23v4m0 3v1m0 24v1m1-33v4m0 28v2m1-37v1m0 34v1m0 1v1m1-42v2m0 3v3m0 26v2m1-37v4m0 4v1m1-5v9m0 4v4m0 3v9m0 3v5m1-33v1m0 12v2m0 1v8m0 8v1m1-32v1m0 15v7m1-23v1m0 5v1m0 2v2m0 4v13m1-32v2m0 4v2m0 13v6m0 11v1m0 1v1m1-45v6m0 5v1m0 17v1m0 10v2m1-43v3m0 17v1m0 1v1m0 17v3m1-38v4m0 4v3m0 1v2m0 3v1m0 3v15m1-37v2m0 3v2m0 5v4m0 1v1m0 1v1m0 18v1m1-32v2m0 1v2m0 2v1m0 6v6m1-25v8m0 8v19m1-37v1m0 2v4m0 5v6m0 19v1m0 1v1m1-34v3m0 9v1m0 18v2m1-36v1m0 31v1m1-32v1m0 14v1m0 17v1m1-25v1m0 4v2m0 21v1m1-40v1m0 15v2m0 7v15m1-39v1m0 12v1m0 1v4m0 16v2m1-37v1m0 13v2m0 4v1m0 15v1m1-36v5m0 13v3m0 10v2m1-41v2m0 3v10m0 28v1m1-42v4m0 1v4m0 1v7m0 2v5m0 17v1m0 1v1m1-38v1m0 14v3m0 2v7m0 6v2m1-35v9m0 16v6m1-37v2m0 4v7m0 3v3m0 12v2m0 4v2m1-38v3m0 2v7m0 8v7m0 1v9"/>
<path stroke="#c2f5ab" d="M0.5 104v2m1-1v1m0 11v1m1-14v1m0 16v7m0 1v2m1-29v1m0 14v12m1-26v1m1-1v1m0 13v13m1-26v1m1-4v1m0 1v1m1 21v2m1-8v2m1-4v5m0 6v1m0 1v1m1-27v1m0 12v2m0 4v2m1-10v8m1-18v1m1-2v1m0 12v11m1-25v1m1 16v1m0 8v2m0 1v1m1-28v1m1 11v4m0 4v2m1-23v1m0 13v10m1-24v3m0 1v1m0 8v8m0 3v3m1-26v1m0 12v7m1-18v2m0 9v9m0 1v1m1-27v1m0 10v1m0 1v1m0 1v10m1-25v1m1 2v1m0 11v4m1-4v10m1-25v2m0 12v1m1-16v2m1 0v1m0 12v12m1-25v1m0 12v13m1-12v6m1-20v1m0 13v10m1-22v1m0 12v7m1-21v1m0 12v15m1-15v13m0 3v1m1-29v1m0 12v10m1-25v1m0 12v1m0 1v12m1-27v1m0 14v11m1-23v1m0 4v2m0 3v11m1-1v3m1-26v1m0 12v1m0 3v9m0 1v1m1-14v14m1-27v1m0 12v10m1-24v1m0 12v9m1-25v1m0 1v1m0 9v16m1-24v1m0 11v2m0 3v7m0 3v1m1-17v3m0 2v2m0 4v3m1-14v3m0 1v6m1-10v15m1-15v4m0 4v8m1-15v4m0 2v3m1-11v4m0 1v2m0 8v3m1-16v1m1-15v1m0 12v3m0 3v8m1-26v3m0 1v2m0 20v2m1-27v1m0 7v1m0 15v1m0 1v1m1-27v3m0 9v2m0 10v2m1-26v1m0 13v1m0 6v4m1-11v3m0 4v4m1-32v2m0 11v7m0 5v7m1-27v2m0 12v2m0 13v1m1-29v1m0 8v5m1-13v1m0 9v2m0 16v1m1-29v1m0 8v5m0 12v2m1-19v1m1-12v1m0 12v1m0 16v1m1-33v1m0 14v8m0 9v1m1-28v1m0 10v1m0 10v2m1-25v1m0 13v2m0 9v1m1-32v1m0 15v1m0 15v1m1-33v3m0 1v2m0 26v1m1-27v4m0 2v2m0 1v1m0 7v5m0 3v1m1-26v1m0 16v1m0 2v3m0 2v1m1-25v2m0 11v8m1-19v1m0 9v2m0 3v3m0 5v2m1-7v5m0 1v2m1-30v2m0 10v2m0 11v1m1-27v3m0 7v2m0 12v3m1-18v2m0 12v5m1 2v1m1-35v1m0 1v6m0 6v2m0 5v6m0 11v1m1-31v1m0 5v2m0 16v1m1-30v1m0 14v3m0 12v1m1-19v1m0 18v1m1-34v5m0 21v6m1-33v1m0 3v1m0 9v1m0 6v1m1-17v3m0 4v2m0 20v1m1-34v5m0 12v4m1-20v1m0 6v3m0 5v1m0 2v8m0 2v1m1-29v3m0 8v3m1-15v1m0 1v1m0 1v2m0 9v1m1-11v1m0 11v4m0 3v5m0 2v1m1-31v1m0 1v1m0 9v3m0 15v2m1-35v2m0 1v1m0 3v8m0 25v2m1-39v2m0 10v1m1-12v2m0 7v2m0 9v4m0 8v1m1-35v3m0 5v2m0 22v1m1 1v3m1-36v2m0 2v2m0 15v5m1-27v2m0 2v1m0 16v11m1-26v2m0 8v6m0 5v3m0 3v2m1-27v5m0 11v3m0 4v1m1-27v1m1-4v1m0 8v2m0 19v1m1-19v3m0 17v1m1-35v1m0 8v5m0 2v1m0 9v2m2-27v2m0 6v4m1-5v1m0 6v1m1-14v1m0 19v6m1-26v1m0 4v1m0 4v1m0 1v1m0 6v9m0 5v1m1-27v2m0 3v1m0 18v1m1-26v1m0 20v1m1-1v2m1-26v3m1-2v1m0 23v1m1-26v5m0 20v2m1-19v2m0 15v2m1-33v2m0 4v5m0 29v2m1-42v3m0 32v1m1-35v1m0 1v2m0 33v1m1-34v1m0 3v2m0 26v1m1-35v1m0 12v1m0 19v1m1-32v1m0 2v3m0 14v7m1-26v3m0 26v1m1-30v2m0 1v4m0 2v1m0 20v1m1-22v1m0 21v1m1-41v3m0 31v3m1-31v1m0 13v17m1-27v4m0 4v1m0 11v3m0 5v1m1-33v1m0 7v4m1 0v1m0 21v1m1-28v2m0 2v1m1-14v4m0 35v1m1-40v2m0 2v1m0 31v1m1-41v1m0 19v17m0 3v1m1-25v2m0 20v1m1-36v3m1-3v5m0 5v2m0 13v12m1-29v2m0 5v1m0 19v1m1-37v2m0 37v1m1-38v3m0 3v1m0 29v1m1-36v2m0 9v1m0 20v1m1-32v1m0 12v1m0 19v1m1-27v1m0 30v1m1-41v9m0 3v1m1-12v6m0 5v1m0 24v2m1-38v1m0 4v7m1 3v3m0 15v1m1-40v3m1 1v1m0 12v1m0 26v1m1-38v2m0 5v2m0 25v2m1-6v2m1-26v3m1-3v5m0 20v1"/>
<path stroke="#ebd890" d="M0.5 106v1m0 14v5m1-11v2m0 1v9m1-22v1m0 12v3m0 10v1m1-19v4m0 12v2m1-20v20m1-27v1m0 10v2m0 13v1m1-26v1m1-4v1m0 13v11m0 2v1m1-26v1m0 12v8m0 2v1m1-24v1m0 11v3m0 2v7m0 1v3m1-27v1m0 8v3m0 5v4m0 1v1m0 3v1m1-18v3m0 2v4m0 2v2m0 2v1m1-27v1m0 10v1m0 8v7m1-24v1m0 11v8m1-21v1m0 10v1m0 11v2m1-14v1m0 5v11m1-31v1m0 13v4m0 1v8m1-23v1m0 11v8m1-10v1m0 4v4m0 2v4m1-26v4m0 8v1m0 10v2m1-23v1m0 1v8m0 8v3m0 3v2m1-16v1m0 7v3m1-11v1m0 11v1m1-25v1m0 10v1m0 10v2m1-15v15m1-23v1m0 2v1m0 5v2m0 4v6m0 1v2m1-27v1m0 10v3m0 10v2m1-25v1m0 12v5m1-19v1m0 13v16m1-29v1m0 10v1m0 12v2m1-26v1m0 24v1m1-26v1m0 11v1m0 6v3m0 4v1m1-15v1m0 10v2m0 3v1m1-27v1m0 10v1m1-3v2m0 15v1m1-30v1m0 11v2m0 17v1m1-29v2m0 9v1m0 10v1m1-12v1m0 12v2m1-15v1m0 11v1m1-23v4m0 16v1m1-23v1m0 11v9m0 3v1m1-26v1m0 10v1m0 1v3m0 11v2m1-30v1m0 12v1m1-12v2m0 9v1m0 10v1m1-27v2m0 22v4m1-28v1m0 2v1m0 6v1m0 16v1m1-14v1m0 16v1m1-29v1m0 9v1m0 14v1m1-27v1m0 10v1m0 10v3m1-25v1m0 10v1m0 15v1m1-28v1m0 10v1m0 16v2m1-30v2m0 10v1m0 4v2m0 3v4m1-27v1m0 10v1m0 18v1m1-18v1m0 1v7m0 5v1m1-16v1m0 14v2m1-25v1m0 24v1m1-27v1m0 5v1m0 19v1m1-25v4m0 4v1m0 14v1m1-14v1m0 1v6m0 4v1m1-26v1m0 12v1m0 3v4m1-16v1m0 19v1m1-15v1m1-12v1m0 6v1m0 24v1m1-24v1m0 19v1m1-29v1m0 6v1m0 19v1m2-19v1m0 18v6m1-38v1m0 31v1m1-19v1m0 13v2m1-26v8m0 4v1m0 16v2m1-37v1m0 13v1m0 21v2m1-36v1m0 12v1m0 16v1m1-20v1m0 17v1m1-26v2m0 10v4m0 1v2m1-17v4m0 6v1m1-10v6m0 5v3m1 15v2m1-34v1m1-1v2m0 2v3m0 17v1m1-29v1m0 8v1m0 2v1m0 16v1m2-32v1m0 6v2m0 3v1m1-5v2m0 2v1m0 23v1m1-34v1m0 12v1m1-8v5m0 20v1m2-35v1m0 1v1m0 9v1m0 21v2m1-29v4m2 0v1m1-8v1m0 5v2m0 23v1m1-35v1m0 1v1m0 10v1m0 21v2m1-22v1m1-15v1m0 30v1m1-34v1m0 12v1m0 26v2m1-39v1m0 30v5m1-30v2m0 27v2m1-33v1m1 6v1m0 22v1m1-35v1m0 29v1m2-26v1m0 2v1m0 25v1m1-23v1m1-10v1m0 6v4m0 14v1m1-22v1m0 22v1m2-20v2m2-13v1m0 4v1m0 5v1m2-12v1m0 2v2m0 27v1m1-30v1m0 6v1m0 22v2m1-27v3m0 20v1m2-2v1m1-2v1m3-31v1m0 9v1m1 20v6m0 2v1m1-7v1m1 2v1m1-32v1m0 2v1m0 26v1m2-33v2m1 28v1m1-29v1m0 4v1m0 23v2m1-39v1m0 1v1m0 35v2m2-36v1m0 11v1m1-1v2m1-14v1m0 5v1m0 24v1m1-32v1m0 4v1m1 7v1m0 17v1m1 5v1m1-39v2m0 33v5m1-45v1m0 12v3m1 22v1m1 0v2m2-29v1m0 3v1m1 24v1m1-25v1m0 22v4m1-38v3m1-3v1m0 10v1m0 21v1m1-36v1m0 39v1m1-33v3m1-5v1m0 3v1m0 27v2m1-36v1m0 7v1m0 23v1m1-32v1m0 28v2m1 0v1m1-25v1m1-3v1m0 3v1m0 22v1m3-26v1m0 21v4"/>
<path stroke="#ffab72" d="M0.5 107v1m0 9v4m0 5v1m1-21v1m0 7v1m1 2v1m1-15v1m0 8v1m0 18v4m1-31v1m0 5v1m1-6v1m1 0v1m0 10v8m1-21v1m0 10v1m0 12v1m0 1v2m1-4v1m1-24v1m0 26v1m1-27v1m0 6v1m0 18v1m1-28v2m0 5v2m0 14v1m0 1v1m1-18v1m0 16v2m1-15v1m0 11v1m1 0v3m1-16v5m0 11v1m1-1v1m1-17v1m0 10v3m1-27v1m0 9v2m0 15v1m1-23v1m1 23v1m1-18v1m0 11v2m1-14v1m1-5v1m2-6v2m0 1v5m0 12v1m0 2v2m2-27v1m0 9v1m0 6v9m1-15v1m0 16v3m1-6v1m1-16v1m0 14v1m1-5v1m0 1v2m0 1v1m1-17v1m0 13v3m0 1v1m1-27v1m0 8v1m1-3v1m0 18v1m1-30v1m0 9v1m0 20v1m1-7v1m1-15v1m0 16v4m1-32v1m0 25v1m1-3v1m1 1v1m1-26v1m0 27v1m1-19v1m0 15v1m1-25v1m0 6v2m0 12v1m1-25v1m0 4v1m0 5v1m1-11v2m0 3v1m1-6v1m0 8v1m0 18v3m1-23v1m0 16v3m1-29v1m0 8v1m1-10v1m0 26v2m1-29v1m0 8v1m0 19v1m1-29v1m0 23v1m1-27v1m0 8v1m0 20v1m1-32v1m0 21v5m0 1v1m1-28v1m1 28v2m1-28v2m0 2v1m0 21v1m1-22v4m0 16v1m3-28v1m0 3v1m1-1v2m0 22v4m1-31v6m1-3v5m0 21v1m1-29v1m0 26v1m2-31v1m1 30v1m0 3v1m1-33v1m0 3v5m0 16v1m1-19v1m0 16v1m0 1v2m0 2v1m1-37v2m0 29v1m0 1v2m0 2v1m1-6v2m1-3v3m1-27v1m0 22v2m1-2v3m1-17v1m0 15v1m1 3v1m0 2v2m1-35v1m0 25v2m1-27v2m1 0v1m2-2v3m0 26v1m1-29v2m0 20v1m0 1v2m0 1v1m2-35v1m0 4v1m0 26v1m1-4v2m1-33v1m0 2v1m0 4v3m0 21v1m0 2v1m1-3v1m1-30v1m0 10v1m0 19v1m1-25v1m1-8v1m0 3v1m0 26v1m1-31v1m0 4v3m0 24v3m1-35v1m0 8v1m1-4v1m0 21v5m2-31v1m0 3v1m0 19v2m0 5v1m1-36v1m0 3v1m0 26v3m1-35v1m1 7v3m0 24v1m1-35v1m1 0v1m0 7v1m1-5v2m0 1v2m1-1v1m0 18v8m1-28v1m1-10v1m0 5v1m0 24v2m1-1v1m1 1v3m1-4v1m1-33v1m0 8v1m1-5v1m0 4v1m1-11v2m0 2v1m0 4v1m0 18v1m0 1v1m0 1v2m1-33v1m1 29v1m2-4v1m0 1v1m1-2v5m1-31v5m0 2v1m2-4v1m0 23v1m2 0v1m1 2v1m1-35v2m0 4v1m0 4v1m0 21v2m1-31v1m0 26v4m2-4v2m1-25v1m0 24v1m1-39v1m0 12v1m0 25v2m1-3v2m1-36v1m0 5v1m1 26v3m1-32v1m1-2v1m0 1v1m0 27v2m1-25v1m1 26v1m2-44v1m0 1v5m0 3v2m1 26v5m1-3v3m2-29v1m2-6v1m0 33v1m1-36v1m0 4v1m1-8v1m0 8v1m0 23v3m1-32v1m0 33v1m1-4v1m1-32v1m0 32v1m1-40v3m0 33v3m1-34v2m0 28v1m1 0v1m1 1v1m1-33v1m0 30v1m1-1v2m2-27v2m0 18v1m0 4v1"/>
<path stroke="#ff7253" d="M0.5 116v1m1-4v1m1 18v1m1 2v2m1-28v1m2-3v1m0 22v2m1-18v1m0 17v1m1-17v1m1-11v1m0 21v1m1-17v1m0 13v1m1-20v5m0 15v1m0 3v1m1-22v3m0 19v2m1-27v1m0 8v1m0 11v1m0 1v2m1-26v1m0 8v1m0 17v1m1-30v1m1 10v1m1-9v1m0 8v1m0 10v1m0 3v1m1-26v1m0 1v6m1 2v1m0 13v1m2-1v1m1-22v1m0 5v1m0 14v1m1-25v1m0 3v2m1-9v1m1 28v2m1-21v1m1-8v3m0 2v4m2-10v1m0 8v1m0 16v1m1-27v1m0 25v1m1-17v1m0 11v1m0 4v1m1-29v1m0 8v2m1-7v2m0 5v1m0 9v1m1-21v1m0 7v1m1-9v1m0 4v4m1-6v1m0 5v3m1-13v1m1 11v1m1 12v1m1-14v1m0 14v1m1-26v1m1-3v1m0 8v2m1-7v1m0 4v1m0 15v1m1-25v4m0 1v5m1-8v3m0 21v4m1-23v2m1-2v1m0 20v1m1-29v1m0 3v1m0 1v2m1-8v1m0 7v1m0 19v1m1-29v4m0 2v2m0 21v2m1-30v2m0 6v1m1-11v3m0 4v1m0 22v3m2-24v1m1 20v2m1-28v2m0 23v1m1-2v2m1-29v1m1 10v1m4-12v1m0 1v1m0 27v1m1-25v1m0 22v1m1-33v1m0 9v1m0 19v1m1-29v1m0 8v1m1 21v3m1-31v1m0 1v1m0 22v1m1-2v1m1-30v1m0 29v1m0 5v1m1-35v1m0 8v1m0 20v3m1-3v1m1-27v1m0 23v2m1-23v1m0 4v1m0 16v1m1-20v2m0 17v1m1 7v1m1-35v1m0 21v3m0 2v1m5 2v1m2-32v1m0 28v1m1-3v1m1 2v1m1-3v1m1-30v1m0 25v1m0 2v1m0 1v1m2-32v3m0 28v2m1-29v1m1-4v1m1-4v1m2 2v1m0 1v3m0 28v1m2-37v1m0 1v1m0 26v7m1-38v1m0 7v1m0 28v1m2-34v1m0 30v3m1-2v1m1-25v1m2 21v2m1-2v1m1-4v1m0 2v1m2-32v1m0 1v1m0 28v1m1-27v1m1 22v1m0 4v3m1-38v2m0 33v1m1-3v1m3 1v1m1-27v2m2-4v1m0 23v1m0 1v1m2 0v2m1 1v1m1-29v1m1-10v1m0 4v1m0 5v1m0 25v1m3-2v1m1-38v1m1 37v1m1-36v5m0 1v1m1 23v2m0 3v1m2-37v3m0 3v1m0 2v1m0 25v1m1-25v1m1 26v1m2-44v1m0 5v3m0 33v4m1-4v1m3-32v2m0 23v1m1 3v2m2-34v1m0 32v2m1-37v2m1 0v1m2 1v2m2-2v1m1 29v1m1 1v1m1-38v1m0 7v1m0 27v1m1 0v1"/>
<path stroke="#ff3333" d="M0.5 108v8m0 11v17m1-37v6m0 14v17m1-38v11m0 16v11m1-40v8m0 25v7m1-39v4m0 22v13m1-38v9m0 16v13m1-36v9m0 8v5m0 2v12m1-39v9m0 13v1m0 5v11m1-39v11m0 13v15m1-37v9m0 17v11m1-37v5m0 21v11m1-12v12m1-40v6m0 24v10m1-36v8m0 10v2m0 4v12m1-37v8m0 19v10m1-39v11m0 18v10m1-41v12m0 19v10m1-36v8m0 10v1m0 5v12m1-39v1m0 1v1m0 24v12m1-34v6m0 15v13m1-10v10m1-38v10m0 15v13m1-34v5m0 16v13m1-37v3m0 19v15m1-40v10m0 15v15m1-10v10m1-40v9m0 16v15m1-35v2m0 20v13m1-40v12m0 20v8m1-38v8m0 18v12m1-38v9m0 17v12m1-39v10m0 18v11m1-39v8m0 21v10m1-34v5m0 11v18m1-38v7m0 21v10m1-38v4m0 26v8m1-35v5m0 16v14m1-39v10m0 21v8m1-39v11m0 15v13m1-14v14m1-38v10m0 16v12m1-37v8m0 19v10m1-39v8m0 19v12m1-35v4m0 17v14m1-15v15m1-15v2m0 4v9m1-38v6m0 24v8m1-39v7m0 22v10m1-38v3m0 1v1m0 17v16m1-38v7m0 21v10m1-35v2m0 25v8m1-36v6m0 16v14m1-37v4m0 26v7m1-41v12m0 16v13m1-40v9m0 18v13m1-8v8m1-10v10m1-10v10m1-38v11m0 13v14m1-39v11m0 13v15m1-39v3m0 22v14m1-40v4m0 2v5m0 21v8m1-7v7m1-38v1m0 29v8m1-37v4m0 24v9m1-41v9m0 21v11m1-39v8m0 26v5m1-42v13m0 24v5m1-36v1m0 24v11m1-30v3m0 20v7m1-41v10m0 26v5m1-39v8m0 24v7m1-9v9m1-35v8m0 17v10m1-32v4m0 10v4m0 4v10m1-10v10m1-11v3m0 6v2m1-36v7m0 20v9m1-14v14m1-42v7m0 22v13m1-11v11m1-6v6m1-12v1m0 5v6m1-41v12m0 17v12m1-41v3m0 30v8m1-10v10m1-40v4m0 21v3m0 5v7m1-9v9m1-38v9m0 17v2m0 3v7m1-32v3m0 14v15m1-6v6m1-38v3m0 31v4m1-37v7m0 17v13m1-40v7m0 27v6m1-3v3m1-41v3m0 34v4m1-40v3m0 32v5m1-40v1m0 34v5m1-42v7m0 30v5m1-11v11m1-38v6m0 19v5m0 3v5m1-6v6m1-5v5m1-38v5m0 20v13m1-41v5m0 29v7m1-8v8m1-11v2m0 4v5m1-8v8m1-39v1m0 30v8m1-34v3m0 18v13m1-36v4m0 28v4m1-6v6m1-8v8m1-15v15m1-14v1m0 3v10m1-6v6m1-14v14m1-13v13m1-42v7m0 22v2m0 3v8m1-3v3m1-6v6m1-4v4m1-32v3m0 24v5m1-41v4m0 2v4m0 27v4m1-14v14m1-7v7m1-5v5m1-42v10m0 28v4m1-12v5m0 3v4m1-33v3m0 18v12m1-4v4m1-41v4m0 27v10m1-34v2m0 27v5m1-10v10m1-2v2m1-3v3m1-8v4m1 1v3m1-4v4m1-9v9m1-9v9m1-4v4m1-37v6m0 28v3m1-37v3m0 23v6m0 2v3m1-38v6m0 27v5m1-43v5m0 36v2m1-5v5m1-3v3m1-4v4m1-35v6m0 22v7m1-5v5m1-3v3m1-40v3m0 5v2m0 26v4m1-11v5m0 3v3m1-11v11m1-5v5"/>
</g></g>
<clipPath id="c21"><rect x="565.7" y="1170.5" width="310.6" height="285.8"/></clipPath>
<g clip-path="url(#c21)"><g transform="translate(565 1169.5) scale(2)" fill="none" stroke-width="1.04" shape-rendering="crispEdges" filter="url(#hb)">
<rect x="-2" y="-2" width="160" height="148" stroke="none" fill="#acfdb9"/>
<path stroke="#3ccded" d="M52.5 110v3m3-4v4m2-2v3m1-5v5m1-5v4m2-3v2m0 1v1m5-5v5m1-4v3m1-3v4m2-5v4m1-3v1m1-2v4m1-4v5m1-4v4m1-4v3m1-4v4m1-4v5m2-5v5m1-1v1m2-5v5m2-4v3m2-3v4m1-3v1m1-2v4m1-3v3m1-4v4m1-4v4m1-4v4m1-5v5m1-5v5m1-4v5m6-5v4m1-4v1m1-1v4m1-4v2m1-2v4m1-4v4m1-4v4m1-5v5m1-5v3m0 1v1m2-3v3m1-4v5m1-1v1m1-5v4m1-5v2m0 2v1m1-5v4m2-4v3m2-3v2m1-2v4m1-4v5m4-5v5m3-5v5m1-5v5m1-5v5m1-3v3m1-5v1m0 2v2m1-5v5m1-4v1m1-1v5m5-5v1m4-2v2m0 31v2m1-34v1m4-1v5m5-5v2"/>
<path stroke="#61eddf" d="M45.5 109v4m1-4v5m1-4v4m2-5v6m1-6v6m1-6v7m1-8v2m0 3v2m1-4v4m1-6v5m1-6v1m0 4v2m1-6v5m1-4v1m0 3v1m1-7v1m0 5v2m1-8v1m0 4v1m1-5v6m1-6v1m0 2v1m0 1v2m1-7v7m1-6v5m1-5v3m1-4v6m1-7v1m0 5v1m1-6v1m0 3v2m1-6v1m0 4v2m1-6v5m1-7v1m0 4v2m1-6v1m0 1v3m1-6v1m0 4v2m1-7v1m0 5v1m1-6v1m0 4v2m1-7v1m0 3v2m1-2v2m1-7v1m0 5v1m1-5v4m1 0v2m1-7v4m0 1v1m1-6v6m1-1v2m0 27v1m1-34v5m1-6v1m0 3v2m1-5v5m0 25v4m1-35v1m0 4v1m0 27v2m1-34v1m0 1v3m1-6v1m0 4v2m1-6v1m0 3v1m0 25v4m1-35v1m0 4v2m0 27v1m1-35v1m0 4v2m0 2v5m0 19v2m1-35v1m0 4v7m1-13v1m0 5v3m1-9v1m0 5v1m1-6v1m0 5v6m0 9v3m0 9v2m1-34v6m0 22v6m1-35v3m0 1v3m0 25v3m1-35v10m0 13v12m1-34v5m1-6v4m1-4v1m0 4v2m1-7v1m0 1v4m0 5v2m1-13v1m0 4v9m0 3v4m0 7v7m1-35v1m0 2v3m1-6v1m0 4v2m0 11v4m0 5v7m1-34v1m0 4v2m0 26v2m1-35v1m0 4v2m0 15v13m1-30v2m0 10v6m0 4v3m0 4v1m1-36v1m0 3v1m0 1v4m0 21v5m2-35v2m0 3v2m0 1v4m1-12v1m0 5v1m1-6v4m0 1v2m1-8v1m0 4v2m0 1v13m0 9v5m1-36v1m0 2v2m0 1v8m0 20v2m1-36v1m0 4v2m0 11v5m0 12v1m1-34v4m1-6v1m0 3v2m0 9v5m0 9v7m1-33v3m0 16v3m0 4v7m1-36v1m0 2v9m0 7v10m0 5v2m1-31v2m0 14v4m0 4v7m1-36v1m0 5v1m0 8v6m0 8v7m1-35v4m0 16v4m0 8v3m1-35v7m0 15v3m0 3v3m0 2v2m1-35v7m0 24v2m1-34v1m0 5v1m0 20v3m0 2v4m1-35v5m0 29v1m1-35v6m0 17v4m0 4v4m1-36v1m0 5v2m0 4v12m0 4v8m1-36v1m0 5v5m0 3v8m0 5v9m1-36v1m0 5v3m0 16v11m1-35v2m0 3v2m0 6v22m1-36v1m0 1v2m0 2v10m0 7v13m1-30v11m0 7v12m1-35v1m0 1v7m0 4v3m0 11v8m1-35v1m0 5v15m0 3v7m1-30v1m0 13v2m0 4v5m0 4v5m1-34v5m0 19v1m0 6v2m1-33v1m1-1v8m1-9v1m0 1v7m1-8v5m1-5v6m0 19v2m1-28v5m0 5v3m0 15v7m1-36v1m0 2v15m0 9v7m1-31v5m1-6v2m0 9v2m0 15v3m0 1v2m1-34v11m1-9v5m0 14v1m0 8v2m1-33v1m0 5v8m0 1v8m0 10v2m1-33v1m0 1v9m1-12v12m0 1v6m0 8v7m1-34v9m0 18v7m1-34v3m0 27v4m1-32v3"/>
<path stroke="#86fdcd" d="M4.5 84v3m1 9v11m0 7v2m1-108v7m0 21v6m0 7v4m0 3v4m0 1v6m0 12v6m0 13v5m0 4v20m0 4v2m1-133v21m0 8v3m0 5v3m0 6v10m0 5v8m0 2v16m0 10v17m0 3v18m0 6v3m1-141v12m0 4v2m0 22v7m0 3v11m0 1v8m0 28v19m0 7v11m0 1v3m1-126v6m0 3v4m0 10v2m0 7v5m0 10v8m0 1v8m0 6v6m0 15v11m0 2v2m0 9v8m1-123v5m0 35v5m0 1v6m0 4v3m0 20v3m0 9v13m0 2v2m1-104v2m0 8v3m0 20v3m0 32v3m0 5v20m0 3v5m0 17v3m1-134v4m0 93v8m0 24v5m1-100v2m0 14v5m0 41v8m0 8v22m1-85v1m0 46v17m0 6v5m1-132v8m0 48v4m0 19v4m0 14v29m1-76v12m0 38v19m0 10v2m1-121v2m0 21v10m0 15v5m0 24v10m0 9v12m0 3v10m0 3v7m1-38v15m1-91v1m0 47v3m0 26v9m0 6v5m1-19v9m0 8v1m1-17v8m1-11v11m1-23v2m0 11v15m1-12v9m1-11v10m1-108v3m0 96v10m1-11v10m1-9v3m2-1v5m1-7v6m1-5v6m1-8v7m1-7v8m1-5v4m1-6v4m1-1v5m0 9v1m1-7v3m1-13v3m1-2v1m2 0v10m1-9v9m1-13v12m1-13v2m0 4v4m1-10v2m0 5v6m1-12v2m0 4v9m1-14v6m0 2v6m1-16v2m0 6v4m1-14v1m0 1v2m0 6v3m1-11v2m0 7v5m1-14v1m0 7v7m0 16v3m0 2v1m1-34v1m0 4v2m0 1v1m0 21v3m1-36v2m0 5v2m0 23v4m1-36v1m0 7v7m0 1v5m0 4v12m1-36v1m0 5v1m0 2v6m0 3v2m0 15v1m1-35v1m0 5v6m1-14v1m0 8v5m0 5v7m0 4v7m1-37v1m0 6v30m1-36v1m0 6v27m1-34v1m0 7v6m0 6v4m0 8v4m1-36v1m0 7v3m0 9v2m0 5v6m1-32v1m0 5v6m0 6v13m0 3v1m1-35v1m0 3v3m0 20v8m1-101v1m0 64v1m0 6v8m0 5v5m0 4v7m1-39v1m0 1v1m0 7v1m0 11v17m1-36v1m0 6v10m0 4v15m1-36v1m0 7v22m0 5v1m1-35v1m0 5v1m0 3v14m0 6v5m1-37v1m0 7v8m0 3v8m0 1v9m1-36v1m0 5v1m0 10v19m1-37v1m0 7v5m0 11v13m1-37v1m0 7v14m0 1v11m0 2v1m1-36v1m0 7v28m1-36v1m0 6v22m0 1v6m1-36v1m0 6v28m1-36v1m0 7v29m1-35v1m0 4v20m0 3v7m1-36v1m0 7v28m1-36v1m0 6v29m1-36v1m0 6v15m0 5v8m1-35v1m0 7v6m0 2v19m1-34v1m0 5v1m0 5v3m0 6v7m0 2v3m1-34v1m0 6v23m1-29v1m0 5v2m0 2v7m0 6v8m1-32v1m0 6v4m0 3v20m1-33v1m0 5v7m0 9v13m1-36v1m0 7v28m1-35v1m0 5v16m0 1v8m1-32v1m0 7v27m1-35v1m0 7v2m0 5v19m1-34v1m0 12v23m1-27v27m1-29v2m0 13v3m0 6v5m1-36v1m0 12v9m0 3v9m1-33v1m0 6v22m1-30v1m0 3v1m0 3v25m1-33v1m0 10v13m1-23v1m0 5v22m0 3v4m1-36v1m0 4v3m0 2v9m0 11v6m1-36v1m0 7v5m0 3v4m0 3v13m1-36v1m0 6v5m0 2v11m0 8v3m1-37v2m0 14v3m0 4v7m1-29v1m0 6v1m0 10v18m1-36v1m0 7v3m0 1v7m0 4v5m0 7v1m1-36v1m0 7v26m1-26v15m1-23v1m0 7v10m0 6v4m0 3v4m1-36v1m0 10v21m1-29v3m0 7v13m0 4v7m1-28v1m0 4v3m0 9v11m1-28v14m0 8v6m1-35v1m0 7v16m1-25v1m0 7v1m0 13v9m1-32v1m0 14v7m0 2v11m1-37v1m0 1v1m0 7v11m0 5v12m1-34v1m0 4v21m1-28v1m0 6v1m0 4v4m0 5v9m1-28v2m0 3v2m0 2v12m0 3v4m1-30v1m0 12v7m0 10v5m1-34v1m0 6v14m0 4v4m1-32v1m0 1v1m0 7v8m0 6v8m1-29v1m0 4v3m0 5v8m0 4v8m1-33v1m0 7v6m0 6v3m0 3v3m0 3v2m1-34v1m0 7v24m0 2v2m1-37v1m0 7v1m0 4v15m0 3v2m1-32v1m0 5v2m0 3v24m1-35v1m0 6v17m0 4v4m1-33v1m0 8v4m0 12v4m1-17v3m0 8v5m1-18v16m1-17v6m1-15v1m0 16v7m1-23v1m0 16v7m1-24v1m0 9v4m0 3v11m1-28v1m0 21v3m0 7v4m1-35v1m0 1v4m0 2v7m0 2v4m0 5v4m1-30v1m0 5v1m0 1v8m0 3v6m0 1v6m0 2v1m1-35v1m0 1v4m0 4v5m0 2v3m0 10v5m1-35v1m0 8v4m0 1v18m1-23v18m0 1v2m0 4v1m1-35v1m0 5v8m0 3v13m1-30v1m0 6v8m0 2v3m0 3v3m0 2v3m1-32v1m0 5v5m0 3v15m1-11v9m1-26v1m0 6v11m0 9v8m1-35v1m0 2v3m0 4v2m0 2v3m0 9v3m0 3v1m1-33v1m0 11v6m0 2v5m0 3v7m1-34v2m0 5v14m0 1v4m0 2v2m0 2v2m1-36v1m0 14v1m0 8v10m1-32v1m0 1v1m0 9v9m0 8v5m1-35v1m0 12v1m0 6v8m1-28v1m0 9v13m0 3v2m1-24v3m0 9v8m0 4v3m1-31v1m0 5v1m0 8v3m0 6v11"/>
<path stroke="#d1eda1" d="M0.5 54v2m1-32v6m0 44v9m17-79v5m0 18v2m1 67v2m1-91v4m0 11v6m0 25v2m0 11v6m0 12v12m1-89v4m0 10v2m0 3v1m0 25v7m0 2v4m0 4v1m0 21v6m0 8v1m1-102v6m0 1v13m0 5v5m0 8v1m0 4v2m0 7v10m0 9v12m0 10v4m0 25v3m0 2v2m1-115v3m0 33v3m0 71v5m1-127v4m0 78v6m1-28v4m0 13v1m0 5v2m0 29v1m1-103v4m0 1v2m0 8v2m0 2v7m0 8v10m0 6v3m0 12v3m0 39v5m1-130v13m0 4v5m0 5v8m0 3v9m0 15v3m0 3v4m0 4v2m0 4v15m0 28v10m0 8v1m1-144v1m0 8v3m0 6v1m0 5v7m0 1v4m0 6v5m0 2v14m0 1v4m0 8v6m0 5v4m0 1v7m0 2v3m0 13v4m0 6v8m1-135v9m0 4v4m0 2v7m0 8v9m0 7v5m0 18v1m0 2v2m0 2v13m0 4v1m0 3v5m0 8v8m0 4v4m0 5v9m1-144v19m0 6v3m0 9v22m0 6v1m0 4v7m0 2v10m0 5v2m0 1v9m0 20v1m0 13v4m1-144v16m0 8v5m0 4v2m0 6v1m0 6v3m0 2v4m0 7v7m0 14v5m0 9v2m0 2v1m0 31v2m0 2v4m1-143v1m0 3v2m0 5v13m0 4v6m0 3v5m0 5v8m0 7v6m0 11v2m0 6v2m0 5v5m0 5v2m0 11v15m0 1v6m1-113v5m0 7v13m0 3v10m0 26v2m0 9v4m0 11v1m0 3v6m0 3v6m0 4v5m1-131v43m0 7v2m0 9v8m0 7v3m0 9v3m0 13v5m0 21v1m1-140v8m0 1v4m0 3v8m0 12v14m0 7v13m0 2v12m0 4v9m0 3v4m0 7v3m0 8v2m0 13v3m1-138v5m0 2v11m0 2v11m0 4v5m0 3v2m0 5v1m0 7v14m0 6v12m0 3v5m0 10v12m1-118v9m0 14v20m0 6v6m0 7v3m0 2v14m0 4v14m1-100v1m0 5v16m0 4v11m0 7v6m0 7v4m0 6v9m0 4v4m0 4v12m0 8v1m0 16v4m1-136v1m0 4v19m0 2v8m0 2v4m0 2v15m0 6v3m0 1v5m0 4v20m0 2v7m0 11v7m1-123v13m0 7v3m0 6v8m0 16v6m0 2v17m0 3v3m0 5v6m0 7v5m0 8v2m0 15v1m0 3v6m1-142v5m0 2v4m0 2v3m0 6v19m0 4v16m0 4v9m0 4v18m0 5v4m0 1v2m0 34v2m1-144v3m0 1v24m0 1v6m0 7v31m0 3v7m0 11v15m1-107v10m0 2v7m0 5v1m0 9v11m0 16v2m0 3v15m0 3v4m0 3v12m0 1v4m0 29v5m1-143v16m0 1v5m0 2v9m0 6v7m0 1v12m0 5v3m0 3v4m0 2v7m0 6v2m0 5v7m0 2v1m1-107v13m0 3v14m0 10v12m0 2v31m0 2v3m0 7v8m1-100v6m0 11v10m0 17v4m0 5v5m0 16v6m0 3v1m0 1v3m0 3v2m0 7v1m0 37v1m1-143v6m0 10v14m0 5v16m0 7v5m0 4v5m0 9v8m0 6v3m0 7v1m0 26v4m1-135v1m0 82v4m0 6v2m0 43v2m1-133v6m0 12v2m0 3v6m0 7v5m0 7v3m0 17v11m0 17v1m0 19v1m0 15v3m1-141v3m0 21v10m0 9v4m0 3v5m0 11v1m0 4v9m0 9v4m0 3v3m0 20v2m0 18v1m1-141v3m0 11v6m0 3v3m0 3v4m0 12v8m0 41v8m1-104v1m0 2v2m0 11v4m0 1v2m0 3v1m0 3v9m0 6v2m0 3v4m0 48v3m1-69v3m0 37v2m0 29v2m0 27v1m1-122v6m0 2v7m0 13v7m0 2v4m0 17v2m0 5v1m0 5v2m0 13v4m1-102v9m0 2v6m0 7v1m0 16v3m0 3v1m0 15v11m0 4v1m0 18v6m1-98v2m0 8v2m0 81v1m0 2v3m1-87v3m0 51v5m0 28v1m0 15v4m1-109v5m0 19v4m0 36v5m0 10v2m0 3v3m0 17v3m1-108v2m0 2v8m0 16v2m0 2v5m0 21v2m0 2v2m0 13v5m0 5v1m1-93v4m0 4v1m0 2v5m0 23v2m0 29v3m0 21v1m1-86v4m0 2v2m0 72v1m0 4v1m1-97v3m0 49v2m0 41v2m0 16v2m1-18v1m1-77v2m0 9v3m0 5v1m0 56v1m1-83v2m0 3v8m0 3v1m0 5v10m0 2v2m0 44v1m1-103v2m0 6v4m0 8v9m0 4v8m0 13v3m0 20v3m0 13v6m1-96v5m0 96v1m1-100v3m0 95v1m1-98v6m0 92v1m1-82v2m0 24v2m0 49v2m1-92v2m0 91v1m1-98v4m0 92v1m1 0v1m1-106v10m0 94v2m1-103v4m0 5v3m0 10v3m0 57v4m0 16v1m1-96v2m0 24v2m0 7v4m0 1v3m0 1v3m0 27v4m0 16v2m1-102v5m0 7v3m0 24v1m0 49v2m0 9v1m1-102v7m0 96v1m1-101v2m0 7v4m0 7v5m0 74v1m1-90v3m0 86v1m1-6v2m0 4v1m1-80v5m0 73v1m1-101v2m0 99v1m1-21v2m0 17v1m1 0v1m1-103v7m0 94v1m1 0v1m1-87v3m0 83v1m1-73v3m1-22v6m0 14v5m0 65v1m1-90v6m0 83v1m1-85v2m0 2v2m0 78v1m1-99v5m0 38v2m0 53v1m1-90v4m0 85v1m1-1v1m1-97v1m0 95v2m1-2v1m1-1v1m1-104v1m0 103v1m1-2v1m1 0v1m1-2v1m1-2v2m1-78v5m1-4v4m0 70v3m1-105v1m1 41v1m0 62v1m1-2v1m1-1v1m1 1v1m1-2v1m1-1v1m2-103v4m1-8v5m0 22v2m0 1v4m0 70v2m1-4v1m1 1v2m1-104v4m1 21v3m0 76v1m1-2v1m1-107v1m0 2v1m0 35v6m0 61v1m1-106v3m0 8v8m0 6v6m0 10v9m0 50v3m1-99v1m0 100v1m1-1v1m2-2v1m1 0v1m2-78v2m0 3v4m0 67v1m1-77v5m0 72v1m1-107v3m0 22v2m0 79v1m1 0v1m1-89v3m0 84v1m1-1v1m1 0v1m1-97v2m0 9v6m1 79v1m1-1v1m1-1v1m1-1v1m0 35v1m1-37v1m1 0v1m1-96v4m0 90v1m2-108v2m0 104v1m1 0v1m1-99v1m0 11v1m0 86v1m2-1v1m1-2v1m1 0v1m1-2v1m1 0v1m1-1v1m1-1v1"/>
<path stroke="#f6cd88" d="M21.5 23v3m1-16v1m0 32v4m0 2v2m0 3v2m3 28v5m1-64v8m0 2v2m1-2v3m0 27v3m0 4v4m1-13v1m0 18v5m0 12v2m1-92v4m0 4v2m0 24v7m0 5v10m0 6v2m0 1v2m0 22v3m1-82v6m0 3v2m0 4v3m0 29v4m0 19v5m1-78v8m0 11v1m0 2v3m0 1v6m0 9v7m0 7v7m0 3v4m0 16v2m0 34v2m1-133v5m0 13v4m0 6v3m0 18v7m0 6v11m0 2v2m0 3v1m1-87v8m0 11v7m0 5v7m0 26v11m0 14v1m0 45v4m1-139v10m0 2v1m0 43v3m0 2v2m0 19v7m1-89v4m0 8v1m0 15v12m0 14v7m0 13v2m0 42v8m1-115v2m0 11v2m0 11v4m0 5v3m0 29v2m0 3v1m0 12v3m1-26v2m1-67v1m0 2v2m0 16v4m0 11v1m0 4v2m0 6v2m0 3v2m0 19v4m1-86v4m0 19v2m0 14v2m0 24v1m1-44v2m0 2v2m0 8v8m0 7v1m0 42v2m0 4v1m1-97v2m0 4v2m0 3v2m0 1v3m0 19v4m0 16v4m0 9v4m0 18v2m0 1v2m0 4v1m1-78v1m0 6v1m0 5v1m1-42v2m0 10v2m0 7v5m0 1v6m0 1v2m0 11v16m0 2v3m0 15v3m0 4v3m0 12v1m1-106v1m0 16v1m0 5v2m0 9v6m0 7v1m0 27v2m0 7v6m0 14v2m1-93v3m0 14v1m0 8v1m0 12v2m0 31v2m1-83v1m0 6v3m0 7v1m0 10v1m0 3v10m0 1v2m0 4v5m0 5v6m0 4v6m0 6v3m0 1v1m0 8v7m1-105v1m0 6v7m0 1v2m0 14v5m0 16v1m0 5v1m0 5v4m0 5v9m0 8v3m0 1v2m0 3v4m0 1v2m1-106v2m0 1v20m0 2v3m0 5v1m0 1v15m0 4v9m0 7v2m0 10v3m0 4v1m0 2v3m0 2v6m0 1v2m1-99v2m0 6v2m0 8v2m0 11v7m0 5v3m0 2v2m0 3v2m0 12v3m0 11v9m0 7v1m1-105v3m0 3v9m0 8v4m0 10v3m0 4v2m0 4v3m0 5v4m0 5v2m0 1v4m0 9v2m0 5v2m1-91v1m0 3v6m0 1v4m0 6v3m0 3v3m0 4v1m0 2v4m0 3v2m0 8v6m0 5v4m0 9v4m0 11v2m1-91v1m0 4v6m0 4v1m0 6v3m0 17v3m0 4v2m0 6v4m0 3v6m0 1v3m0 21v2m1-95v3m0 24v2m0 3v2m0 9v11m0 12v3m0 2v2m0 18v3m0 5v1m1-107v15m0 15v6m0 6v1m0 7v2m0 4v3m0 11v3m0 8v2m0 1v2m0 2v6m0 4v3m1-101v3m0 9v2m0 6v2m0 3v2m0 1v16m0 3v3m0 1v2m0 4v9m0 11v4m0 1v8m0 8v2m1-100v8m0 2v2m0 2v4m0 2v8m0 16v8m0 15v2m0 2v5m0 11v5m0 8v1m1-90v6m0 1v2m0 3v9m0 10v10m0 20v2m0 5v1m0 14v7m0 5v1m1-107v3m0 7v4m0 2v2m0 5v3m0 2v1m0 5v8m0 4v12m0 19v5m0 5v10m0 2v3m1-102v17m0 12v2m0 12v2m0 9v5m0 13v3m0 6v5m0 4v4m0 5v5m1-101v1m0 2v6m0 4v4m0 1v2m0 5v3m0 14v6m0 2v3m0 22v4m0 3v2m0 5v8m1-100v1m0 2v18m0 4v2m0 2v2m0 4v3m0 2v19m0 2v7m0 30v3m0 1v4m1-98v2m0 3v2m0 13v18m0 12v4m0 2v3m0 37v1m1-104v3m0 5v2m0 95v1m1-107v2m0 7v5m0 16v1m0 2v4m0 3v2m0 3v5m0 1v2m0 39v8m0 6v1m1-102v15m0 1v4m0 2v3m0 8v3m0 20v8m0 15v2m0 10v9m1-104v2m0 2v6m0 4v8m0 21v2m0 5v6m0 3v1m0 7v1m0 9v2m0 3v3m0 8v2m1-94v4m0 5v2m0 4v7m0 3v8m0 39v1m0 31v1m1-103v4m0 3v7m0 5v6m0 74v3m1-101v4m0 6v3m0 6v6m0 6v3m0 10v6m0 23v4m0 24v1m1-99v9m0 6v3m0 2v8m0 5v5m0 3v3m0 2v1m0 10v6m0 16v8m0 7v1m1-103v1m0 11v1m0 2v2m0 6v4m1-26v1m0 5v2m0 4v2m0 7v4m0 13v14m0 14v2m1-65v15m0 1v3m0 23v2m0 14v4m0 39v1m1-106v1m0 10v10m0 4v8m0 38v1m0 29v4m1-103v2m0 4v5m0 3v2m0 2v6m0 3v1m0 4v3m0 4v5m0 3v3m0 7v3m0 8v2m0 12v2m0 4v1m0 6v9m1-101v6m0 2v18m0 3v3m0 2v2m0 3v2m0 8v1m0 3v2m0 23v2m0 4v2m0 5v9m1-102v2m0 5v7m0 3v20m0 2v2m0 1v5m0 43v1m0 2v5m0 1v3m1-104v3m0 7v8m0 80v8m1-105v5m0 2v7m0 4v7m0 5v2m0 3v3m0 5v6m0 2v3m0 20v2m0 15v4m1-90v3m0 4v3m0 3v2m0 20v9m0 9v4m0 41v1m1-80v5m0 7v4m0 57v2m0 2v4m1-107v7m0 8v3m0 3v7m0 5v2m0 14v8m0 28v6m1-88v3m0 2v10m0 4v2m0 65v2m1-82v2m0 22v5m0 41v1m0 5v2m0 2v2m0 14v1m1-106v3m0 2v2m0 43v4m0 52v1m1-104v2m0 7v2m0 9v1m0 5v5m0 13v3m0 17v1m0 27v3m1-75v3m0 80v1m1-106v3m0 15v2m0 3v1m0 20v3m0 34v3m0 19v3m1-86v4m0 8v2m0 3v9m0 60v1m1-108v6m0 8v2m0 6v9m0 4v1m0 5v3m0 28v6m0 27v1m1-93v4m0 6v5m0 32v2m0 36v8m1-90v6m0 6v2m0 1v2m0 69v4m1-99v1m0 5v8m0 8v11m0 4v7m0 2v8m0 21v7m0 16v1m1-91v2m0 4v2m0 9v7m0 66v1m1-106v2m0 9v4m1-15v2m0 4v4m0 1v4m0 6v8m0 9v8m1-10v5m0 64v1m1-104v6m0 16v7m0 9v2m0 4v5m1-50v2m0 1v3m0 21v4m0 74v1m1-105v5m0 98v1m1-105v4m0 20v8m0 18v3m0 52v1m1-93v2m0 32v6m0 51v1m1-106v2m0 3v5m0 19v2m0 14v7m1-24v1m0 5v2m0 15v2m0 53v1m1-97v2m0 16v2m0 4v7m0 60v3m1-104v2m0 1v3m0 14v6m0 7v5m0 25v3m0 40v1m1-73v10m0 1v2m0 59v1m1-107v5m0 14v8m0 2v8m0 20v4m1-60v5m0 11v3m0 9v6m0 70v1m1 1v1m1-93v4m0 87v1m2 0v1m1-106v3m0 4v3m0 9v2m0 18v3m0 62v1m1-107v1m0 5v2m0 19v1m0 2v1m0 4v2m0 6v12m0 49v1m1-105v2m0 6v3m0 17v4m0 5v1m0 6v2m0 56v1m1-82v4m0 25v5m0 49v1m1-105v3m0 4v3m0 9v24m0 10v4m0 47v1m1-102v5m0 13v7m0 3v1m0 4v5m0 65v1m1-107v4m0 24v3m0 8v2m0 16v1m0 47v1m1-105v2m0 1v3m0 3v4m0 16v9m0 6v3m0 9v3m0 45v1m1-106v1m0 3v3m0 3v2m0 8v2m0 1v3m0 6v3m0 1v6m0 9v3m0 45v2m1-97v1m0 1v2m0 16v5m0 15v1m0 60v1m1-102v3m0 5v8m0 14v4m0 67v1m1 0v1m1-107v1m0 24v7m0 72v1m1-103v7m0 16v8m0 15v2m0 55v1m1-106v5m0 24v5m0 72v1m1-107v7m0 3v3m0 7v9m0 9v2m0 64v1m1-95v2m0 15v2m0 5v1m0 70v1m1-103v2m0 12v8m0 2v9m0 69v1m1-106v1m0 12v6m0 87v1m1-107v8m0 3v8m0 3v2m0 27v5m0 49v1m1-106v1m0 4v7m0 93v1m1-72v1m0 9v4m0 58v1m1-104v1m0 6v1m0 2v3m0 4v2m0 6v1m0 76v2m1-61v3m0 57v1m1-97v2m0 94v1m1-87v9m0 77v1m3 0v1m1-97v2m0 4v3m0 21v12m1-19v2m0 6v1m0 5v3m0 55v1m1-105v1m0 14v6m0 82v1m2-99v2m0 1v4m0 2v5m0 1v2m0 83v1m1-96v8m0 87v1m1-94v1m0 29v6m0 57v1m1-102v30m0 70v1m1-92v5m0 87v1m1-108v1m0 7v2m0 11v2m0 18v1m1-25v3m0 87v1m1-88v1m1-7v4m0 11v4"/>
<path stroke="#ffa16c" d="M22.5 51v3m7 11v6m1-41v4m1 2v2m0 40v3m1 2v3m1-78v6m0 3v2m0 56v14m1-79v2m0 47v2m2 19v3m2-74v2m0 34v4m0 10v3m2-37v2m0 18v7m0 45v4m1-83v1m0 79v1m1-63v5m1-8v1m2-3v1m0 5v2m1-39v1m0 2v1m0 10v7m0 12v3m0 10v1m0 22v4m1-59v1m0 42v1m0 35v1m0 9v1m1-81v2m0 3v5m0 1v1m0 15v4m0 9v7m0 2v2m0 7v1m0 8v2m0 11v1m1-104v4m0 2v1m0 10v1m0 3v4m0 28v2m0 7v1m0 8v3m0 23v7m1-89v1m0 4v3m0 17v1m0 2v1m0 18v2m0 21v5m1-90v1m0 10v1m0 24v2m0 4v3m0 16v1m0 3v1m0 4v1m0 7v1m0 4v4m0 1v6m1-85v1m0 46v6m0 4v3m0 6v1m0 3v5m0 8v4m0 1v3m1-100v1m0 5v1m0 3v12m0 19v2m0 5v2m0 11v1m0 7v4m0 7v1m0 14v3m0 3v2m1-67v2m0 3v1m0 17v11m0 13v1m0 10v4m1-76v3m0 28v2m0 1v1m0 33v2m0 4v2m1-86v2m0 14v2m0 12v2m0 8v5m0 2v2m0 5v1m0 2v2m0 5v4m0 5v2m0 5v2m0 5v1m1-100v11m0 6v1m0 14v1m0 8v1m0 10v4m0 10v6m0 8v1m0 10v3m0 7v5m1-103v1m0 5v1m0 4v2m0 10v2m0 1v2m0 2v1m0 24v3m0 6v4m0 4v2m1-41v1m0 22v1m0 10v2m0 17v1m1-89v2m0 1v2m0 25v3m0 9v2m0 11v1m0 3v5m0 22v2m0 2v1m0 8v6m1-105v2m0 28v4m0 3v2m0 19v2m0 7v1m0 9v3m0 15v2m1-83v4m0 8v1m0 18v2m0 8v2m0 9v4m0 6v4m0 21v2m1-104v1m0 3v5m0 2v1m0 10v3m0 12v3m0 2v1m0 24v7m1-72v2m0 4v1m0 5v2m0 2v5m0 6v1m0 7v1m0 1v1m0 13v2m0 5v2m0 5v4m0 12v2m0 6v1m0 8v1m1-101v5m0 15v1m0 48v2m0 2v5m0 2v4m0 2v3m0 5v2m1-96v1m0 45v1m0 3v1m0 10v1m0 5v1m0 1v1m0 3v5m0 8v8m1-94v2m0 11v1m0 2v1m0 7v3m0 8v6m0 17v6m0 8v2m0 1v3m0 3v2m0 4v7m0 2v8m1-104v4m0 14v5m0 6v2m0 8v3m0 3v4m0 5v6m0 7v9m0 1v7m0 10v9m1-85v1m0 4v1m0 6v2m0 3v1m0 3v10m0 6v2m0 3v8m0 7v3m0 4v3m0 1v5m1-91v3m0 4v1m0 9v1m0 4v1m0 13v1m0 3v1m0 5v3m0 6v1m0 4v5m0 6v16m0 8v2m0 3v2m1-101v2m0 8v1m0 5v1m0 4v1m0 4v2m0 4v6m0 1v5m0 11v13m0 21v12m0 3v1m1-106v1m0 1v5m0 8v1m0 4v2m0 4v1m0 9v3m0 14v3m0 8v3m0 2v2m0 10v5m0 6v4m0 8v1m1-103v2m0 15v1m0 3v2m0 19v2m0 2v2m0 9v3m0 4v11m0 21v2m1-79v2m0 1v1m0 8v2m0 21v3m0 10v2m0 1v2m0 13v2m0 3v5m0 1v3m1-100v1m0 16v2m0 10v4m0 3v4m0 5v3m0 3v7m0 3v3m0 3v2m0 2v1m0 4v7m0 7v6m1-93v1m0 26v3m0 7v3m0 16v7m0 14v2m0 8v5m1-95v2m0 37v2m0 8v1m0 9v9m0 22v2m0 8v1m1-102v1m0 18v1m0 9v6m0 23v5m0 11v6m0 10v5m0 2v2m1-99v2m0 32v3m0 3v5m0 6v2m0 3v8m0 10v2m0 2v2m0 4v9m0 4v5m0 3v1m1-100v1m0 3v4m0 8v2m0 4v3m0 10v1m0 9v2m0 5v2m0 4v8m0 6v2m0 19v6m1-98v6m0 5v4m0 2v2m0 5v3m0 3v1m0 4v1m0 8v5m0 23v4m0 15v1m1-92v1m0 5v2m0 3v3m0 14v11m0 2v1m0 8v3m0 22v3m0 6v2m0 4v1m0 7v1m1-88v4m0 2v2m0 5v4m0 2v5m0 1v5m0 29v3m0 7v2m0 2v3m0 12v1m1-105v3m0 2v2m0 2v2m0 1v4m0 5v2m0 5v3m0 5v2m0 17v9m0 3v4m0 3v3m0 1v2m0 2v1m0 6v1m0 11v2m1-102v2m0 2v3m0 11v4m0 5v7m0 8v1m0 2v2m0 4v5m0 7v2m0 21v10m1-99v3m0 11v1m0 4v4m0 1v2m0 2v1m0 5v2m0 8v3m0 3v1m0 7v6m0 1v2m0 1v3m0 22v2m0 3v6m0 1v1m1-102v5m0 2v1m0 8v3m0 3v2m0 7v4m0 10v2m1-51v1m0 3v3m0 11v1m0 6v1m0 8v11m0 3v4m0 9v2m0 14v5m0 3v2m0 8v3m0 4v2m1-104v21m0 4v2m0 2v4m0 14v5m0 18v5m0 3v4m0 14v11m1-101v3m0 3v2m0 17v1m0 2v1m0 9v4m0 22v2m0 6v2m0 16v3m0 1v5m1-105v2m0 9v2m0 15v1m0 5v11m0 8v7m0 2v3m0 14v5m0 12v2m1-98v11m0 2v3m0 14v1m0 2v2m0 6v1m0 11v8m0 33v3m0 3v2m1-102v7m0 14v2m0 3v3m0 11v4m0 17v2m0 11v8m0 7v16m1-105v2m0 9v4m0 8v9m0 7v8m0 7v10m0 26v8m1-96v3m0 4v2m0 4v9m0 2v3m0 9v12m0 5v3m0 41v4m0 2v1m1-104v4m0 9v2m0 2v2m0 8v1m0 7v1m0 8v2m0 53v5m1-106v8m0 5v4m0 4v5m0 7v3m0 5v2m0 9v3m0 2v4m0 21v3m0 10v2m0 7v1m1-105v2m0 6v2m0 5v3m0 5v1m0 7v9m0 2v2m0 1v1m0 5v2m0 5v9m0 12v16m0 3v5m1-103v1m0 6v9m0 11v1m0 4v2m0 15v4m0 20v2m0 10v2m0 14v1m1-101v1m0 5v1m0 17v1m0 3v13m0 3v3m0 2v8m0 41v6m1-105v1m0 4v3m0 2v5m0 8v2m0 8v1m0 5v5m0 5v2m0 3v1m0 9v4m0 20v6m0 8v1m1-96v7m0 2v3m0 28v1m0 6v4m0 40v7m1-103v3m0 5v5m0 12v2m0 2v3m0 4v1m0 3v3m0 7v4m0 3v5m0 3v3m0 4v2m0 9v5m0 14v1m1-78v1m0 8v1m0 13v1m0 2v2m0 2v2m0 18v3m0 24v2m1-106v1m0 8v1m0 2v1m0 9v6m0 13v7m0 2v8m0 41v2m1-95v2m0 9v3m0 6v7m0 5v3m0 20v2m0 3v1m0 38v1m1-106v3m0 4v10m0 16v1m0 13v2m0 13v2m1-59v1m0 6v7m0 8v2m0 8v3m0 1v16m0 4v2m0 27v7m0 8v1m1-106v1m0 5v2m0 8v1m0 3v3m0 5v1m0 6v3m0 6v1m0 2v3m0 4v9m0 28v3m1-55v1m0 66v1m1-94v2m0 4v2m0 14v2m0 15v1m0 2v2m1-54v2m0 28v1m0 72v1m1-62v3m0 58v1m1-107v2m0 10v3m0 5v1m0 2v2m0 1v9m0 4v2m0 3v2m0 37v3m0 10v4m1-92v3m0 15v1m0 10v6m0 12v1m0 44v4m1-102v6m0 3v2m0 11v4m0 4v5m0 1v3m0 1v2m0 2v1m0 7v2m0 18v4m0 23v1m1-82v1m0 4v4m0 14v2m0 3v2m0 5v4m0 4v3m0 37v1m1-94v1m0 4v4m0 24v2m0 2v6m0 4v1m0 36v10m1-104v3m0 5v2m0 9v2m0 11v4m0 5v2m0 7v13m1-59v1m0 7v11m0 4v1m0 3v3m0 3v2m0 2v3m0 3v10m0 1v2m0 33v2m0 8v2m1-98v3m0 4v4m0 8v4m0 18v9m0 3v1m0 42v2m1-98v3m0 12v1m0 12v1m0 18v11m0 31v3m1-99v1m0 1v2m0 4v4m0 11v1m0 5v2m0 8v5m0 1v10m0 46v4m1-105v4m0 3v5m0 8v1m0 10v3m0 4v4m0 6v4m0 43v4m0 3v3m1-69v2m0 6v4m0 3v4m0 3v3m1-60v6m0 12v6m0 7v7m0 3v12m0 1v3m0 35v4m0 4v3m1-104v2m0 7v6m0 9v1m0 8v1m0 3v2m0 1v8m0 2v2m0 50v3m1-100v8m0 14v2m0 5v1m0 14v6m1-48v3m0 3v7m0 20v1m0 7v7m0 34v10m0 3v2m1-104v1m0 7v2m0 2v2m0 3v3m0 6v1m0 8v2m0 3v3m0 61v1m1-100v4m0 7v1m0 19v4m0 11v7m0 46v1m1-104v1m0 4v7m0 6v5m0 81v1m1-98v3m0 13v1m0 3v5m0 10v3m0 2v3m0 5v2m1-57v4m0 7v7m0 12v2m0 3v7m0 59v3m1-105v1m0 9v5m0 11v8m0 1v2m0 5v2m0 4v2m0 54v2m1-105v2m0 1v2m0 3v1m0 6v4m0 9v2m0 1v2m0 11v5m0 53v2m1-105v2m0 8v2m0 8v4m0 20v2m0 3v6m0 50v1m1-97v1m0 2v2m0 13v5m0 12v4m0 12v3m1-44v1m0 9v1m0 21v2m1-38v4m0 3v6m0 2v4m0 5v3m0 64v1m1-80v2m0 16v5m0 56v1m1-10v1m1-88v1m0 9v2m0 7v3m0 7v2m0 12v2m0 51v1m1-107v3m0 14v3m0 5v2m0 4v3m0 2v6m0 1v5m0 3v2m0 49v4m1-103v1m0 10v3m0 6v2m0 9v8m0 12v3m0 15v1m0 24v1m1-96v4m0 20v7m0 3v4m0 63v4m1-101v1m0 7v2m0 8v2m0 22v7m0 51v1m1-101v6m0 8v6m0 11v4m1-33v6m0 1v2m0 4v8m0 1v2m0 7v5m0 6v2m0 54v1m1-106v5m0 30v4m0 8v5m0 6v4m0 42v1m1-86v3m0 6v4m1-32v2m0 3v2m0 2v1m0 5v5m0 2v1m0 3v4m0 9v1m0 1v4m0 60v1m1-92v2m0 3v2m0 29v2m0 53v1m1-88v1m0 1v8m0 78v1m1-106v8m0 3v1m0 4v1m0 9v1m0 4v1m0 9v3m0 61v1"/>
<path stroke="#ff6c50" d="M33.5 14v3m12 15v5m1-36v2m1 50v1m0 2v1m1 17v5m0 1v1m1-77v2m0 12v3m0 42v4m0 2v2m1-55v4m0 21v2m0 21v1m0 1v1m1-5v3m0 6v3m0 2v2m0 9v1m1-82v3m0 75v2m0 4v2m0 4v1m1-96v5m0 16v2m0 3v2m0 3v2m0 9v5m0 14v2m0 3v2m0 12v2m0 10v2m0 8v3m1-68v3m1 14v1m0 36v4m1-66v3m0 7v2m0 15v2m0 2v1m0 3v1m0 14v5m0 9v1m0 3v1m1-66v2m0 5v1m0 15v1m0 24v4m0 4v2m1-87v5m0 22v2m0 28v6m0 4v1m0 2v1m1-44v1m0 3v1m0 1v2m0 3v1m0 17v2m0 7v1m0 16v3m1-89v1m0 33v1m0 7v1m0 14v3m0 5v8m0 4v1m0 11v2m1-22v1m0 3v5m0 3v7m0 7v1m1-94v6m0 11v1m0 6v1m0 21v1m0 5v2m0 15v1m0 4v1m0 4v1m0 10v4m0 2v4m1-90v1m0 7v2m0 3v1m0 5v3m0 1v2m0 3v2m0 1v7m0 15v2m0 7v1m0 4v4m0 1v6m1-86v1m0 1v2m0 8v2m0 5v3m0 2v1m0 9v1m0 16v1m0 3v1m0 2v2m0 1v2m0 4v1m0 8v3m0 2v6m0 10v1m1-31v2m0 5v2m0 9v5m1-47v3m0 12v1m0 3v1m0 3v3m1-59v2m0 25v4m0 12v1m0 6v6m0 1v1m0 6v3m0 2v1m0 10v2m0 8v2m1-75v2m0 5v1m0 3v3m0 8v1m0 6v2m0 3v2m0 9v1m0 7v2m0 6v2m1-94v1m0 3v1m0 17v1m0 9v3m0 22v3m0 8v1m0 4v2m0 10v1m0 5v4m0 5v6m1-100v1m0 11v2m0 1v1m0 15v3m0 16v4m0 37v3m1-90v1m0 10v1m0 7v4m0 6v1m0 5v11m0 13v5m0 14v2m0 12v3m1-89v1m0 2v1m0 7v1m0 7v1m0 20v5m0 1v2m0 7v7m0 2v1m0 5v1m0 4v1m0 4v1m0 6v1m1-104v2m0 23v8m0 10v1m0 6v4m0 3v2m0 18v1m0 4v4m0 5v1m0 8v1m0 3v1m1-82v1m0 11v1m0 6v8m0 4v2m0 3v2m0 3v5m0 5v1m0 10v2m0 2v3m0 5v1m1-98v1m0 64v3m0 5v1m0 2v1m1-74v1m0 63v1m0 12v1m1-81v1m0 50v1m0 3v5m0 9v2m0 1v11m0 7v1m1-71v9m0 6v7m0 5v7m0 3v1m0 9v7m0 6v1m0 8v1m0 5v2m1-24v1m0 6v4m0 18v2m1-104v1m0 4v1m0 18v4m0 3v2m0 7v1m0 12v1m0 2v2m0 14v2m0 2v2m0 2v3m0 11v5m1-93v1m0 6v5m0 4v2m0 10v1m0 1v1m0 6v1m0 6v1m0 5v1m0 12v1m0 2v3m0 3v1m0 4v3m0 11v1m1-90v1m0 3v1m0 33v2m0 12v3m0 3v4m0 2v3m0 3v4m0 14v1m0 1v2m0 3v2m1-103v1m0 23v1m0 3v1m0 4v2m0 5v1m0 5v1m0 16v1m0 9v2m0 3v7m0 7v1m1-94v1m0 3v2m0 6v1m0 4v1m0 3v1m0 2v2m0 2v1m0 10v1m0 13v3m0 9v3m0 4v3m0 6v2m0 8v2m0 8v1m1-93v5m0 4v2m0 4v2m0 1v2m0 7v2m0 5v1m0 1v2m0 11v1m0 4v2m0 2v5m0 7v9m0 10v3m0 3v1m1-91v4m0 7v2m0 8v8m0 7v2m0 2v3m0 6v1m0 6v22m0 11v1m1-104v3m0 5v2m0 1v1m0 6v1m0 8v4m0 1v2m0 4v1m0 8v1m0 2v1m0 28v5m0 19v2m1-99v11m0 8v8m0 18v1m0 4v4m0 2v2m0 9v3m0 10v8m0 3v4m1-75v2m0 23v5m0 9v4m0 5v3m0 4v14m1-87v3m0 20v2m0 14v10m0 11v1m0 10v7m0 4v5m0 3v1m1-98v9m0 18v1m0 3v1m0 11v2m0 4v2m0 12v3m0 10v1m0 5v2m0 9v1m1-85v2m0 22v1m0 2v3m0 1v7m0 2v2m0 8v2m0 18v4m0 7v2m0 3v3m1-77v3m0 37v1m0 4v6m1-72v1m0 2v6m0 36v1m0 5v1m0 10v2m0 9v2m0 2v11m0 8v4m0 1v2m1-100v2m0 1v1m0 15v2m0 3v3m0 5v1m0 12v1m0 3v1m0 3v5m0 8v4m0 1v5m0 6v12m0 4v2m1-88v2m0 11v1m0 5v1m0 11v1m0 6v6m0 1v2m0 2v8m0 8v10m0 7v2m1-93v5m0 4v4m0 5v7m0 10v1m0 2v3m0 2v1m0 3v2m0 4v13m0 5v3m0 3v2m0 6v2m0 2v1m0 5v1m1-94v1m0 2v2m0 3v1m0 3v1m0 21v1m0 8v5m0 9v2m0 4v6m0 16v3m0 5v1m0 1v1m1-90v2m0 5v4m0 7v3m0 11v1m0 4v1m0 14v5m0 2v2m0 7v1m0 2v1m0 10v3m0 1v2m0 1v1m1-106v1m0 23v1m0 1v3m0 13v3m0 3v2m0 8v1m0 8v11m0 14v7m1-91v2m0 5v2m0 2v4m0 11v1m0 3v1m0 5v5m0 6v1m0 1v3m0 3v1m0 4v15m0 1v4m0 6v3m0 2v3m0 1v2m1-105v7m0 12v2m0 2v3m0 5v7m0 8v1m0 11v4m0 6v6m0 10v5m0 8v1m1-83v1m0 5v6m0 7v4m0 1v3m0 14v3m0 5v3m0 3v4m0 2v9m0 5v1m0 4v3m1-98v2m0 35v1m0 8v1m0 2v1m0 5v2m0 2v2m0 3v13m0 3v1m0 21v2m1-103v3m0 4v1m0 4v2m0 1v6m0 26v2m0 8v17m0 4v4m0 8v8m1-91v2m0 5v2m0 24v3m0 3v2m0 3v4m0 2v3m0 6v1m0 26v1m0 8v2m1-102v4m0 10v1m0 6v1m0 7v1m0 16v2m0 1v3m0 4v3m0 2v1m0 11v1m0 4v6m0 18v1m1-100v1m0 3v2m0 28v1m0 22v2m0 6v4m0 13v2m0 7v2m1-91v8m0 7v5m0 10v1m0 4v1m0 1v2m0 3v1m0 2v1m0 9v5m0 21v2m0 3v8m0 2v1m1-83v6m0 10v1m0 1v2m0 63v1m1-94v1m0 8v4m0 5v5m0 2v1m0 12v2m0 1v2m0 2v3m0 14v4m0 11v2m0 9v6m1-104v1m0 2v1m0 2v5m0 10v4m0 5v1m0 1v4m0 13v3m1-49v8m0 30v2m0 3v2m0 45v5m1-85v1m0 3v1m0 5v1m0 9v4m0 7v5m0 3v4m0 24v1m0 3v10m0 4v2m0 3v1m1-95v13m0 1v1m0 30v1m0 17v3m0 16v7m1-87v1m0 4v6m0 17v1m0 5v1m0 4v2m0 2v2m0 9v2m0 3v2m0 4v23m1-98v7m0 1v5m0 3v1m0 9v1m0 6v1m0 5v1m0 2v3m0 11v4m0 3v3m0 11v6m0 16v1m1-92v4m0 30v2m0 11v1m0 1v5m0 11v5m0 11v2m1-84v1m0 7v1m0 24v1m0 4v2m0 13v6m0 26v7m1-97v7m0 11v4m0 7v3m0 7v3m0 13v7m0 24v2m0 2v8m1-85v2m0 5v1m0 35v2m0 23v17m1-38v2m0 7v6m0 4v4m0 6v2m1-95v1m0 10v2m0 3v6m0 8v8m0 16v4m0 17v4m0 16v5m1-80v1m0 4v5m0 11v2m0 3v1m0 4v1m0 40v2m0 4v3m1-102v1m0 14v2m0 4v2m0 1v5m0 5v2m0 2v6m0 4v3m0 4v3m0 3v2m0 8v1m0 33v1m1-99v2m0 2v8m0 20v3m0 12v1m0 3v2m0 5v7m0 14v7m0 4v4m1-86v1m0 18v3m0 2v1m0 12v6m0 43v1m1-89v4m0 9v1m0 8v3m0 10v1m0 6v1m0 2v5m0 19v5m0 18v1m1-65v1m0 3v3m0 7v2m0 2v11m0 3v5m0 2v3m0 5v1m0 10v3m1-101v7m0 6v3m0 3v2m0 3v1m0 11v3m0 3v1m0 3v3m0 1v13m0 10v6m0 19v2m1-92v1m0 5v1m0 24v2m0 7v2m0 7v2m1-58v1m0 1v2m0 18v3m0 10v2m0 6v1m0 3v3m0 3v7m0 1v1m0 26v4m0 9v2m1-80v3m0 5v4m0 5v1m0 3v2m0 10v3m0 32v4m0 6v2m1-86v1m0 9v2m0 2v3m0 7v1m0 6v12m0 9v1m0 8v5m1-84v1m0 3v5m0 5v3m0 4v4m0 11v1m0 3v1m0 8v2m0 6v2m0 43v1m1-104v1m0 30v1m0 2v6m0 4v1m0 5v2m0 4v8m0 37v2m1-101v2m0 5v1m0 2v1m0 6v1m0 4v1m0 18v1m0 11v11m0 36v3m1-97v1m0 14v4m0 5v2m0 14v1m0 4v7m0 3v2m0 20v2m1-72v4m0 11v4m0 8v3m0 5v1m0 2v2m0 46v5m1-92v1m0 4v1m0 1v1m0 6v2m0 8v1m0 3v6m1-39v4m0 13v1m0 2v3m0 12v1m0 5v1m0 8v3m0 39v2m1-94v6m0 2v4m0 7v1m0 14v7m0 46v1m0 1v2m0 6v1m1-104v3m0 3v1m0 12v7m0 3v4m0 2v1m0 16v1m0 4v1m0 41v2m1-101v1m0 10v3m0 3v1m0 3v1m0 2v4m0 22v1m0 44v4m1-98v10m0 11v5m0 2v2m0 8v1m0 7v4m0 3v2m0 3v4m0 5v1m0 1v8m0 14v2m0 1v7m1-104v1m0 4v2m0 7v11m0 9v1m0 4v2m0 60v1m1-103v1m0 4v1m0 20v3m0 2v3m0 10v4m0 7v2m1-52v1m0 20v1m0 5v1m0 2v2m0 4v2m0 1v6m0 2v1m0 53v1m1-100v1m0 9v1m0 2v1m0 8v1m0 2v2m0 4v1m0 18v3m1-60v1m0 39v2m0 2v4m0 5v6m0 4v3m0 13v4m0 13v1m0 6v2m1-91v1m0 13v1m0 4v1m0 72v1m1-104v3m0 5v1m0 2v2m0 8v3m0 4v4m0 4v1m0 6v1m0 7v11m1-65v5m0 4v2m0 3v1m0 7v2m0 5v6m0 15v1m0 2v2m0 2v3m0 41v4m1-105v6m0 5v1m0 6v1m0 10v2m0 32v1m1-63v1m0 8v1m0 1v1m0 6v9m0 6v5m0 3v1m0 3v6m0 54v1"/>
<path stroke="#ff3333" d="M47.5 54v2m1 23v1m1-13v2m1-4v1m1 8v2m1 10v4m1-66v3m0 2v3m0 32v3m0 16v10m3-60v7m0 22v3m0 30v3m1-63v5m0 17v9m0 19v4m1-17v2m1-42v3m0 4v3m0 20v7m1-34v7m0 31v4m1-7v3m0 15v7m1-95v2m0 18v6m0 23v5m0 18v4m0 6v10m0 4v2m1-85v7m0 6v5m0 3v1m0 15v15m0 10v4m0 4v1m0 6v16m1-101v1m0 20v2m0 28v3m0 5v1m0 7v8m0 22v4m2-43v3m1-21v12m0 13v1m0 13v3m1-54v5m0 11v4m0 9v3m0 21v6m1-91v3m0 15v3m0 47v4m0 22v5m1-97v3m0 14v1m1-18v7m0 8v3m0 53v14m1-71v2m0 9v7m0 26v1m0 16v2m0 7v4m0 6v6m1-70v10m0 11v3m0 21v4m0 4v5m0 1v6m0 3v3m1-68v6m0 8v4m0 7v3m0 11v10m1-11v2m1-76v3m0 65v12m1-28v3m0 16v1m0 11v7m1-48v5m0 7v3m0 6v4m0 14v8m1-25v9m0 31v1m1-104v4m0 28v7m0 14v2m0 18v2m0 7v11m1-94v6m0 29v1m0 8v6m0 7v12m0 1v2m0 3v3m0 8v11m1-88v3m0 51v3m0 4v2m0 3v3m0 15v3m0 4v3m1-103v2m0 25v3m0 19v16m0 1v9m0 20v11m1-106v1m0 18v3m0 5v2m0 12v13m0 40v8m1-87v4m0 8v1m0 11v5m0 16v4m0 9v7m0 22v3m1-52v2m1-55v1m0 12v6m0 13v1m0 7v8m0 4v28m0 5v19m1-51v4m0 8v9m1-17v9m1-8v11m0 18v4m1-61v3m0 14v4m0 17v10m0 8v9m1-59v2m0 11v2m0 12v18m0 4v7m1-28v4m1-65v2m0 43v5m0 13v9m0 2v2m0 23v1m1-96v1m0 24v5m0 14v3m0 9v8m0 4v1m0 5v6m1-56v5m0 13v6m0 6v1m0 2v2m0 8v8m0 10v7m1-55v2m0 3v2m0 23v5m0 8v6m0 5v5m1-92v2m0 6v3m0 47v4m0 31v1m1-87v5m0 14v11m0 6v14m0 9v7m0 4v10m0 6v1m1-97v16m0 35v8m0 11v14m1-75v2m0 16v3m0 18v1m0 3v3m0 20v1m0 13v2m0 6v1m1-85v2m0 3v5m0 7v8m0 16v6m0 6v10m0 5v8m1-81v5m0 70v4m0 3v6m1-102v25m0 11v8m0 1v2m0 12v3m0 17v21m1-98v4m0 7v1m0 59v4m0 4v8m1-81v5m0 29v3m0 2v3m0 4v2m0 10v26m0 1v8m1-85v6m0 1v7m0 19v1m0 3v4m0 6v11m0 1v4m0 6v18m1-98v3m0 55v6m0 4v13m0 11v6m1-66v4m0 8v2m0 15v21m0 13v2m1-104v22m0 6v10m0 4v63m1-105v12m0 13v5m0 8v12m0 10v14m0 4v11m0 2v9m1-100v2m0 4v2m0 5v10m0 4v5m0 6v13m0 3v52m1-106v5m0 8v30m0 7v45m0 5v6m1-90v3m0 32v3m0 4v24m0 20v3m1-81v1m0 32v17m0 3v16m1-79v4m0 30v4m0 6v9m0 2v3m1-72v3m0 7v1m0 5v3m0 11v6m0 1v5m0 27v11m0 6v16m1-43v1m0 5v11m0 5v11m1-81v7m0 26v4m0 21v26m0 7v4m1-39v24m1-71v5m0 38v23m1-19v7m0 6v4m0 4v6m1-80v3m0 42v17m0 4v16m1-74v4m0 18v3m0 6v40m1-92v14m0 2v4m0 2v1m0 5v5m0 29v8m0 1v33m1-96v2m0 49v5m0 7v14m1-70v8m0 34v43m1-84v9m0 12v10m0 8v2m0 5v19m0 5v18m1-63v3m0 12v2m0 11v3m0 5v2m0 3v5m1-66v3m0 19v3m0 3v1m0 13v10m0 6v19m0 2v3m1-94v5m0 27v7m0 11v44m1-101v1m0 23v10m0 2v6m0 1v3m0 3v3m0 7v1m0 1v26m0 4v9m1-66v5m0 19v32m0 4v6m1-83v9m0 15v6m0 12v9m0 1v8m0 5v17m1-100v3m0 13v4m0 16v3m0 11v6m0 2v43m1-97v3m0 31v4m0 8v4m0 8v37m1-97v5m0 4v6m0 6v18m0 23v36m1-102v8m0 6v9m0 11v10m0 5v4m0 12v20m0 2v19m1-106v15m0 19v8m0 3v5m0 5v46m1-101v14m0 6v1m0 13v4m0 10v58m1-106v9m0 4v13m0 6v12m0 7v8m0 3v39m0 2v3m1-106v9m0 6v2m0 4v7m0 1v14m0 7v46m0 4v6m1-106v3m0 3v3m0 27v2m0 18v4m0 1v41m0 2v2m1-102v10m0 7v3m0 30v44m1-68v2m0 11v7m0 9v3m0 4v5m0 10v14m1-95v1m0 7v7m0 18v2m0 7v60m1-101v4m0 24v2m0 3v10m0 13v49m1-106v5m0 22v5m0 1v2m0 8v1m0 6v2m0 1v53m1-106v7m0 11v2m0 14v4m0 14v5m0 3v46m1-64v2m0 22v13m0 4v13m0 1v6m1-103v14m0 9v5m0 6v72m1-94v2m0 21v4m0 8v7m0 11v41m1-101v4m0 2v3m0 10v5m0 6v15m0 5v2m0 3v41m0 4v1m1-100v5m0 1v6m0 13v32m0 1v43m1-107v1m0 10v1m0 27v3m0 10v54"/>
</g></g>
<line x1="89.6" y1="167.7" x2="89.6" y2="455.9" stroke="#262626" stroke-width="1.3"/>
<line x1="81.2" y1="168.3" x2="89.7" y2="168.3" stroke="#262626" stroke-width="1.3"/>
<text x="76.4" y="176.1" font-size="24.5" text-anchor="end" textLength="27.6" lengthAdjust="spacingAndGlyphs">40</text>
<line x1="81.2" y1="241.6" x2="89.7" y2="241.6" stroke="#262626" stroke-width="1.3"/>
<text x="76.4" y="249.4" font-size="24.5" text-anchor="end" textLength="27.6" lengthAdjust="spacingAndGlyphs">30</text>
<line x1="81.2" y1="314.7" x2="89.7" y2="314.7" stroke="#262626" stroke-width="1.3"/>
<text x="76.4" y="322.5" font-size="24.5" text-anchor="end" textLength="27.6" lengthAdjust="spacingAndGlyphs">20</text>
<line x1="81.2" y1="387.6" x2="89.7" y2="387.6" stroke="#262626" stroke-width="1.3"/>
<text x="76.4" y="395.4" font-size="24.5" text-anchor="end" textLength="27.6" lengthAdjust="spacingAndGlyphs">10</text>
<line x1="89" y1="455.3" x2="401.1" y2="455.3" stroke="#262626" stroke-width="1.3"/>
<line x1="89.7" y1="455.3" x2="89.7" y2="463.9" stroke="#262626" stroke-width="1.3"/>
<text x="89.7" y="490.2" font-size="24.5" text-anchor="middle" textLength="12.4" lengthAdjust="spacingAndGlyphs">0</text>
<line x1="167.4" y1="455.3" x2="167.4" y2="463.9" stroke="#262626" stroke-width="1.3"/>
<text x="167.4" y="490.2" font-size="24.5" text-anchor="middle" textLength="27.2" lengthAdjust="spacingAndGlyphs">10</text>
<line x1="245.1" y1="455.3" x2="245.1" y2="463.9" stroke="#262626" stroke-width="1.3"/>
<text x="245.1" y="490.2" font-size="24.5" text-anchor="middle" textLength="27.2" lengthAdjust="spacingAndGlyphs">20</text>
<line x1="322.8" y1="455.3" x2="322.8" y2="463.9" stroke="#262626" stroke-width="1.3"/>
<text x="322.8" y="490.2" font-size="24.5" text-anchor="middle" textLength="27.2" lengthAdjust="spacingAndGlyphs">30</text>
<line x1="400.5" y1="455.3" x2="400.5" y2="463.9" stroke="#262626" stroke-width="1.3"/>
<text x="400.5" y="490.2" font-size="24.5" text-anchor="middle" textLength="27.2" lengthAdjust="spacingAndGlyphs">40</text>
<text x="89.7" y="146.5" font-size="19" text-anchor="middle" textLength="42.3" lengthAdjust="spacingAndGlyphs">Start</text>
<text x="400.5" y="146.5" font-size="19" text-anchor="middle" textLength="32.3" lengthAdjust="spacingAndGlyphs">End</text>
<path d="M83.4 152.1h12.6l-6.3 9.6z" fill="#858585"/>
<path d="M394.2 152.1h12.6l-6.3 9.6z" fill="#858585"/>
<text x="28.5" y="311.3" font-size="25" text-anchor="middle" textLength="153.4" lengthAdjust="spacingAndGlyphs" transform="rotate(-90 28.5 311.3)">Frequency, Hz</text>
<text x="245.1" y="530.8" font-size="25" text-anchor="middle" textLength="319" lengthAdjust="spacingAndGlyphs">Minutes in ketamine infusion</text>
<line x1="565.6" y1="167.7" x2="565.6" y2="455.9" stroke="#262626" stroke-width="1.3"/>
<line x1="557.2" y1="168.3" x2="565.7" y2="168.3" stroke="#262626" stroke-width="1.3"/>
<text x="552.4" y="176.1" font-size="24.5" text-anchor="end" textLength="27.6" lengthAdjust="spacingAndGlyphs">40</text>
<line x1="557.2" y1="241.6" x2="565.7" y2="241.6" stroke="#262626" stroke-width="1.3"/>
<text x="552.4" y="249.4" font-size="24.5" text-anchor="end" textLength="27.6" lengthAdjust="spacingAndGlyphs">30</text>
<line x1="557.2" y1="314.7" x2="565.7" y2="314.7" stroke="#262626" stroke-width="1.3"/>
<text x="552.4" y="322.5" font-size="24.5" text-anchor="end" textLength="27.6" lengthAdjust="spacingAndGlyphs">20</text>
<line x1="557.2" y1="387.6" x2="565.7" y2="387.6" stroke="#262626" stroke-width="1.3"/>
<text x="552.4" y="395.4" font-size="24.5" text-anchor="end" textLength="27.6" lengthAdjust="spacingAndGlyphs">10</text>
<line x1="565.1" y1="455.3" x2="877.1" y2="455.3" stroke="#262626" stroke-width="1.3"/>
<line x1="565.7" y1="455.3" x2="565.7" y2="463.9" stroke="#262626" stroke-width="1.3"/>
<text x="565.7" y="490.2" font-size="24.5" text-anchor="middle" textLength="12.4" lengthAdjust="spacingAndGlyphs">0</text>
<line x1="643.4" y1="455.3" x2="643.4" y2="463.9" stroke="#262626" stroke-width="1.3"/>
<text x="643.4" y="490.2" font-size="24.5" text-anchor="middle" textLength="27.2" lengthAdjust="spacingAndGlyphs">10</text>
<line x1="721.1" y1="455.3" x2="721.1" y2="463.9" stroke="#262626" stroke-width="1.3"/>
<text x="721.1" y="490.2" font-size="24.5" text-anchor="middle" textLength="27.2" lengthAdjust="spacingAndGlyphs">20</text>
<line x1="798.8" y1="455.3" x2="798.8" y2="463.9" stroke="#262626" stroke-width="1.3"/>
<text x="798.8" y="490.2" font-size="24.5" text-anchor="middle" textLength="27.2" lengthAdjust="spacingAndGlyphs">30</text>
<line x1="876.5" y1="455.3" x2="876.5" y2="463.9" stroke="#262626" stroke-width="1.3"/>
<text x="876.5" y="490.2" font-size="24.5" text-anchor="middle" textLength="27.2" lengthAdjust="spacingAndGlyphs">40</text>
<text x="565.7" y="146.5" font-size="19" text-anchor="middle" textLength="42.3" lengthAdjust="spacingAndGlyphs">Start</text>
<text x="876.5" y="146.5" font-size="19" text-anchor="middle" textLength="32.3" lengthAdjust="spacingAndGlyphs">End</text>
<path d="M559.4 152.1h12.6l-6.3 9.6z" fill="#858585"/>
<path d="M870.2 152.1h12.6l-6.3 9.6z" fill="#858585"/>
<text x="504" y="311.3" font-size="25" text-anchor="middle" textLength="153.4" lengthAdjust="spacingAndGlyphs" transform="rotate(-90 504 311.3)">Frequency, Hz</text>
<text x="721.1" y="530.8" font-size="25" text-anchor="middle" textLength="319" lengthAdjust="spacingAndGlyphs">Minutes in ketamine infusion</text>
<line x1="89.6" y1="668.8" x2="89.6" y2="957" stroke="#262626" stroke-width="1.3"/>
<line x1="81.2" y1="669.4" x2="89.7" y2="669.4" stroke="#262626" stroke-width="1.3"/>
<text x="76.4" y="677.2" font-size="24.5" text-anchor="end" textLength="27.6" lengthAdjust="spacingAndGlyphs">40</text>
<line x1="81.2" y1="742.7" x2="89.7" y2="742.7" stroke="#262626" stroke-width="1.3"/>
<text x="76.4" y="750.5" font-size="24.5" text-anchor="end" textLength="27.6" lengthAdjust="spacingAndGlyphs">30</text>
<line x1="81.2" y1="815.8" x2="89.7" y2="815.8" stroke="#262626" stroke-width="1.3"/>
<text x="76.4" y="823.6" font-size="24.5" text-anchor="end" textLength="27.6" lengthAdjust="spacingAndGlyphs">20</text>
<line x1="81.2" y1="888.7" x2="89.7" y2="888.7" stroke="#262626" stroke-width="1.3"/>
<text x="76.4" y="896.5" font-size="24.5" text-anchor="end" textLength="27.6" lengthAdjust="spacingAndGlyphs">10</text>
<line x1="89" y1="956.4" x2="401.1" y2="956.4" stroke="#262626" stroke-width="1.3"/>
<line x1="89.7" y1="956.4" x2="89.7" y2="965" stroke="#262626" stroke-width="1.3"/>
<text x="89.7" y="991.3" font-size="24.5" text-anchor="middle" textLength="12.4" lengthAdjust="spacingAndGlyphs">0</text>
<line x1="167.4" y1="956.4" x2="167.4" y2="965" stroke="#262626" stroke-width="1.3"/>
<text x="167.4" y="991.3" font-size="24.5" text-anchor="middle" textLength="27.2" lengthAdjust="spacingAndGlyphs">10</text>
<line x1="245.1" y1="956.4" x2="245.1" y2="965" stroke="#262626" stroke-width="1.3"/>
<text x="245.1" y="991.3" font-size="24.5" text-anchor="middle" textLength="27.2" lengthAdjust="spacingAndGlyphs">20</text>
<line x1="322.8" y1="956.4" x2="322.8" y2="965" stroke="#262626" stroke-width="1.3"/>
<text x="322.8" y="991.3" font-size="24.5" text-anchor="middle" textLength="27.2" lengthAdjust="spacingAndGlyphs">30</text>
<line x1="400.5" y1="956.4" x2="400.5" y2="965" stroke="#262626" stroke-width="1.3"/>
<text x="400.5" y="991.3" font-size="24.5" text-anchor="middle" textLength="27.2" lengthAdjust="spacingAndGlyphs">40</text>
<text x="89.7" y="647.6" font-size="19" text-anchor="middle" textLength="42.3" lengthAdjust="spacingAndGlyphs">Start</text>
<text x="400.5" y="647.6" font-size="19" text-anchor="middle" textLength="32.3" lengthAdjust="spacingAndGlyphs">End</text>
<path d="M83.4 653.2h12.6l-6.3 9.6z" fill="#858585"/>
<path d="M394.2 653.2h12.6l-6.3 9.6z" fill="#858585"/>
<text x="28.5" y="812.4" font-size="25" text-anchor="middle" textLength="153.4" lengthAdjust="spacingAndGlyphs" transform="rotate(-90 28.5 812.4)">Frequency, Hz</text>
<text x="245.1" y="1031.9" font-size="25" text-anchor="middle" textLength="319" lengthAdjust="spacingAndGlyphs">Minutes in ketamine infusion</text>
<line x1="565.6" y1="668.8" x2="565.6" y2="957" stroke="#262626" stroke-width="1.3"/>
<line x1="557.2" y1="669.4" x2="565.7" y2="669.4" stroke="#262626" stroke-width="1.3"/>
<text x="552.4" y="677.2" font-size="24.5" text-anchor="end" textLength="27.6" lengthAdjust="spacingAndGlyphs">40</text>
<line x1="557.2" y1="742.7" x2="565.7" y2="742.7" stroke="#262626" stroke-width="1.3"/>
<text x="552.4" y="750.5" font-size="24.5" text-anchor="end" textLength="27.6" lengthAdjust="spacingAndGlyphs">30</text>
<line x1="557.2" y1="815.8" x2="565.7" y2="815.8" stroke="#262626" stroke-width="1.3"/>
<text x="552.4" y="823.6" font-size="24.5" text-anchor="end" textLength="27.6" lengthAdjust="spacingAndGlyphs">20</text>
<line x1="557.2" y1="888.7" x2="565.7" y2="888.7" stroke="#262626" stroke-width="1.3"/>
<text x="552.4" y="896.5" font-size="24.5" text-anchor="end" textLength="27.6" lengthAdjust="spacingAndGlyphs">10</text>
<line x1="565.1" y1="956.4" x2="877.1" y2="956.4" stroke="#262626" stroke-width="1.3"/>
<line x1="565.7" y1="956.4" x2="565.7" y2="965" stroke="#262626" stroke-width="1.3"/>
<text x="565.7" y="991.3" font-size="24.5" text-anchor="middle" textLength="12.4" lengthAdjust="spacingAndGlyphs">0</text>
<line x1="643.4" y1="956.4" x2="643.4" y2="965" stroke="#262626" stroke-width="1.3"/>
<text x="643.4" y="991.3" font-size="24.5" text-anchor="middle" textLength="27.2" lengthAdjust="spacingAndGlyphs">10</text>
<line x1="721.1" y1="956.4" x2="721.1" y2="965" stroke="#262626" stroke-width="1.3"/>
<text x="721.1" y="991.3" font-size="24.5" text-anchor="middle" textLength="27.2" lengthAdjust="spacingAndGlyphs">20</text>
<line x1="798.8" y1="956.4" x2="798.8" y2="965" stroke="#262626" stroke-width="1.3"/>
<text x="798.8" y="991.3" font-size="24.5" text-anchor="middle" textLength="27.2" lengthAdjust="spacingAndGlyphs">30</text>
<line x1="876.5" y1="956.4" x2="876.5" y2="965" stroke="#262626" stroke-width="1.3"/>
<text x="876.5" y="991.3" font-size="24.5" text-anchor="middle" textLength="27.2" lengthAdjust="spacingAndGlyphs">40</text>
<text x="565.7" y="647.6" font-size="19" text-anchor="middle" textLength="42.3" lengthAdjust="spacingAndGlyphs">Start</text>
<text x="876.5" y="647.6" font-size="19" text-anchor="middle" textLength="32.3" lengthAdjust="spacingAndGlyphs">End</text>
<path d="M559.4 653.2h12.6l-6.3 9.6z" fill="#858585"/>
<path d="M870.2 653.2h12.6l-6.3 9.6z" fill="#858585"/>
<text x="504" y="812.4" font-size="25" text-anchor="middle" textLength="153.4" lengthAdjust="spacingAndGlyphs" transform="rotate(-90 504 812.4)">Frequency, Hz</text>
<text x="721.1" y="1031.9" font-size="25" text-anchor="middle" textLength="319" lengthAdjust="spacingAndGlyphs">Minutes in ketamine infusion</text>
<line x1="89.6" y1="1169.9" x2="89.6" y2="1458.1" stroke="#262626" stroke-width="1.3"/>
<line x1="81.2" y1="1170.5" x2="89.7" y2="1170.5" stroke="#262626" stroke-width="1.3"/>
<text x="76.4" y="1178.3" font-size="24.5" text-anchor="end" textLength="27.6" lengthAdjust="spacingAndGlyphs">40</text>
<line x1="81.2" y1="1243.8" x2="89.7" y2="1243.8" stroke="#262626" stroke-width="1.3"/>
<text x="76.4" y="1251.6" font-size="24.5" text-anchor="end" textLength="27.6" lengthAdjust="spacingAndGlyphs">30</text>
<line x1="81.2" y1="1316.9" x2="89.7" y2="1316.9" stroke="#262626" stroke-width="1.3"/>
<text x="76.4" y="1324.7" font-size="24.5" text-anchor="end" textLength="27.6" lengthAdjust="spacingAndGlyphs">20</text>
<line x1="81.2" y1="1389.8" x2="89.7" y2="1389.8" stroke="#262626" stroke-width="1.3"/>
<text x="76.4" y="1397.6" font-size="24.5" text-anchor="end" textLength="27.6" lengthAdjust="spacingAndGlyphs">10</text>
<line x1="89" y1="1457.5" x2="401.1" y2="1457.5" stroke="#262626" stroke-width="1.3"/>
<line x1="89.7" y1="1457.5" x2="89.7" y2="1466.1" stroke="#262626" stroke-width="1.3"/>
<text x="89.7" y="1492.4" font-size="24.5" text-anchor="middle" textLength="12.4" lengthAdjust="spacingAndGlyphs">0</text>
<line x1="167.4" y1="1457.5" x2="167.4" y2="1466.1" stroke="#262626" stroke-width="1.3"/>
<text x="167.4" y="1492.4" font-size="24.5" text-anchor="middle" textLength="27.2" lengthAdjust="spacingAndGlyphs">10</text>
<line x1="245.1" y1="1457.5" x2="245.1" y2="1466.1" stroke="#262626" stroke-width="1.3"/>
<text x="245.1" y="1492.4" font-size="24.5" text-anchor="middle" textLength="27.2" lengthAdjust="spacingAndGlyphs">20</text>
<line x1="322.8" y1="1457.5" x2="322.8" y2="1466.1" stroke="#262626" stroke-width="1.3"/>
<text x="322.8" y="1492.4" font-size="24.5" text-anchor="middle" textLength="27.2" lengthAdjust="spacingAndGlyphs">30</text>
<line x1="400.5" y1="1457.5" x2="400.5" y2="1466.1" stroke="#262626" stroke-width="1.3"/>
<text x="400.5" y="1492.4" font-size="24.5" text-anchor="middle" textLength="27.2" lengthAdjust="spacingAndGlyphs">40</text>
<text x="89.7" y="1144.2" font-size="19" text-anchor="middle" textLength="42.3" lengthAdjust="spacingAndGlyphs">Start</text>
<text x="400.5" y="1144.2" font-size="19" text-anchor="middle" textLength="32.3" lengthAdjust="spacingAndGlyphs">End</text>
<path d="M83.4 1154.3h12.6l-6.3 9.6z" fill="#858585"/>
<path d="M394.2 1154.3h12.6l-6.3 9.6z" fill="#858585"/>
<text x="28.5" y="1313.5" font-size="25" text-anchor="middle" textLength="153.4" lengthAdjust="spacingAndGlyphs" transform="rotate(-90 28.5 1313.5)">Frequency, Hz</text>
<text x="245.1" y="1533" font-size="25" text-anchor="middle" textLength="319" lengthAdjust="spacingAndGlyphs">Minutes in ketamine infusion</text>
<line x1="565.6" y1="1169.9" x2="565.6" y2="1458.1" stroke="#262626" stroke-width="1.3"/>
<line x1="557.2" y1="1170.5" x2="565.7" y2="1170.5" stroke="#262626" stroke-width="1.3"/>
<text x="552.4" y="1178.3" font-size="24.5" text-anchor="end" textLength="27.6" lengthAdjust="spacingAndGlyphs">40</text>
<line x1="557.2" y1="1243.8" x2="565.7" y2="1243.8" stroke="#262626" stroke-width="1.3"/>
<text x="552.4" y="1251.6" font-size="24.5" text-anchor="end" textLength="27.6" lengthAdjust="spacingAndGlyphs">30</text>
<line x1="557.2" y1="1316.9" x2="565.7" y2="1316.9" stroke="#262626" stroke-width="1.3"/>
<text x="552.4" y="1324.7" font-size="24.5" text-anchor="end" textLength="27.6" lengthAdjust="spacingAndGlyphs">20</text>
<line x1="557.2" y1="1389.8" x2="565.7" y2="1389.8" stroke="#262626" stroke-width="1.3"/>
<text x="552.4" y="1397.6" font-size="24.5" text-anchor="end" textLength="27.6" lengthAdjust="spacingAndGlyphs">10</text>
<line x1="565.1" y1="1457.5" x2="877.1" y2="1457.5" stroke="#262626" stroke-width="1.3"/>
<line x1="565.7" y1="1457.5" x2="565.7" y2="1466.1" stroke="#262626" stroke-width="1.3"/>
<text x="565.7" y="1492.4" font-size="24.5" text-anchor="middle" textLength="12.4" lengthAdjust="spacingAndGlyphs">0</text>
<line x1="643.4" y1="1457.5" x2="643.4" y2="1466.1" stroke="#262626" stroke-width="1.3"/>
<text x="643.4" y="1492.4" font-size="24.5" text-anchor="middle" textLength="27.2" lengthAdjust="spacingAndGlyphs">10</text>
<line x1="721.1" y1="1457.5" x2="721.1" y2="1466.1" stroke="#262626" stroke-width="1.3"/>
<text x="721.1" y="1492.4" font-size="24.5" text-anchor="middle" textLength="27.2" lengthAdjust="spacingAndGlyphs">20</text>
<line x1="798.8" y1="1457.5" x2="798.8" y2="1466.1" stroke="#262626" stroke-width="1.3"/>
<text x="798.8" y="1492.4" font-size="24.5" text-anchor="middle" textLength="27.2" lengthAdjust="spacingAndGlyphs">30</text>
<line x1="876.5" y1="1457.5" x2="876.5" y2="1466.1" stroke="#262626" stroke-width="1.3"/>
<text x="876.5" y="1492.4" font-size="24.5" text-anchor="middle" textLength="27.2" lengthAdjust="spacingAndGlyphs">40</text>
<text x="565.7" y="1144.2" font-size="19" text-anchor="middle" textLength="42.3" lengthAdjust="spacingAndGlyphs">Start</text>
<text x="876.5" y="1144.2" font-size="19" text-anchor="middle" textLength="32.3" lengthAdjust="spacingAndGlyphs">End</text>
<path d="M559.4 1154.3h12.6l-6.3 9.6z" fill="#858585"/>
<path d="M870.2 1154.3h12.6l-6.3 9.6z" fill="#858585"/>
<text x="504" y="1313.5" font-size="25" text-anchor="middle" textLength="153.4" lengthAdjust="spacingAndGlyphs" transform="rotate(-90 504 1313.5)">Frequency, Hz</text>
<text x="721.1" y="1533" font-size="25" text-anchor="middle" textLength="319" lengthAdjust="spacingAndGlyphs">Minutes in ketamine infusion</text>
<line x1="884.3" y1="168.4" x2="884.3" y2="284" stroke="#999" stroke-width="1.4"/>
<path d="M894.5 221.2v12.8l-9.8 -6.4z" fill="#858585"/>
<text x="900.2" y="234.2" font-size="21.5" textLength="23.3" lengthAdjust="spacingAndGlyphs">βγ</text>
<line x1="884.3" y1="290.7" x2="884.3" y2="362" stroke="#999" stroke-width="1.4"/>
<path d="M894.5 320.8v12.8l-9.8 -6.4z" fill="#858585"/>
<text x="900.2" y="333.8" font-size="21.5" textLength="23.3" lengthAdjust="spacingAndGlyphs">Lβ</text>
<line x1="884.3" y1="388.7" x2="884.3" y2="453.6" stroke="#999" stroke-width="1.4"/>
<path d="M894.5 414.8v12.8l-9.8 -6.4z" fill="#858585"/>
<text x="921" y="427.8" font-size="21.5" textLength="10.8" lengthAdjust="spacingAndGlyphs">θ</text>
<rect x="1107.2" y="168.3" width="42.7" height="286" fill="#dddde0"/>
<rect x="1193.5" y="168.3" width="55.2" height="286" fill="#dddde0"/>
<rect x="1256" y="168.3" width="132.5" height="286" fill="#dddde0"/>
<line x1="1077.7" y1="168.3" x2="1388.5" y2="168.3" stroke="#c6c6c9" stroke-width="1.7"/>
<line x1="1077.7" y1="235.2" x2="1388.5" y2="235.2" stroke="#c6c6c9" stroke-width="1.7"/>
<line x1="1077.7" y1="302.1" x2="1388.5" y2="302.1" stroke="#c6c6c9" stroke-width="1.7"/>
<line x1="1077.7" y1="369" x2="1388.5" y2="369" stroke="#c6c6c9" stroke-width="1.7"/>
<line x1="1077.7" y1="435.9" x2="1388.5" y2="435.9" stroke="#c6c6c9" stroke-width="1.7"/>
<line x1="1107.2" y1="162.1" x2="1150" y2="162.1" stroke="#999" stroke-width="1.4"/>
<path d="M1122.3 162.1h12.6l-6.3 -10z" fill="#858585"/>
<text x="1128.6" y="142.3" font-size="19" text-anchor="middle" textLength="10.5" lengthAdjust="spacingAndGlyphs">θ</text>
<line x1="1193.5" y1="162.1" x2="1248.6" y2="162.1" stroke="#999" stroke-width="1.4"/>
<path d="M1214.8 162.1h12.6l-6.3 -10z" fill="#858585"/>
<text x="1221.1" y="142.3" font-size="19" text-anchor="middle" textLength="20.5" lengthAdjust="spacingAndGlyphs">Lβ</text>
<line x1="1256" y1="162.1" x2="1388.5" y2="162.1" stroke="#999" stroke-width="1.4"/>
<path d="M1316 162.1h12.6l-6.3 -10z" fill="#858585"/>
<text x="1322.3" y="142.3" font-size="19" text-anchor="middle" textLength="20.5" lengthAdjust="spacingAndGlyphs">βγ</text>
<line x1="1077.6" y1="167.7" x2="1077.6" y2="455.9" stroke="#262626" stroke-width="1.3"/>
<line x1="1069.2" y1="168.3" x2="1077.7" y2="168.3" stroke="#262626" stroke-width="1.3"/>
<text x="1064.4" y="176.1" font-size="24.5" text-anchor="end" textLength="27.6" lengthAdjust="spacingAndGlyphs">20</text>
<line x1="1069.2" y1="235.2" x2="1077.7" y2="235.2" stroke="#262626" stroke-width="1.3"/>
<text x="1064.4" y="243" font-size="24.5" text-anchor="end" textLength="27.6" lengthAdjust="spacingAndGlyphs">10</text>
<line x1="1069.2" y1="302.1" x2="1077.7" y2="302.1" stroke="#262626" stroke-width="1.3"/>
<text x="1064.4" y="309.9" font-size="24.5" text-anchor="end" textLength="12.4" lengthAdjust="spacingAndGlyphs">0</text>
<line x1="1069.2" y1="369" x2="1077.7" y2="369" stroke="#262626" stroke-width="1.3"/>
<text x="1064.4" y="376.8" font-size="24.5" text-anchor="end" textLength="38" lengthAdjust="spacingAndGlyphs">-10</text>
<line x1="1069.2" y1="435.9" x2="1077.7" y2="435.9" stroke="#262626" stroke-width="1.3"/>
<text x="1064.4" y="443.7" font-size="24.5" text-anchor="end" textLength="38" lengthAdjust="spacingAndGlyphs">-20</text>
<line x1="1077" y1="455.3" x2="1389.2" y2="455.3" stroke="#262626" stroke-width="1.3"/>
<line x1="1077.7" y1="455.3" x2="1077.7" y2="463.9" stroke="#262626" stroke-width="1.3"/>
<text x="1077.7" y="490.2" font-size="24.5" text-anchor="middle" textLength="12.4" lengthAdjust="spacingAndGlyphs">0</text>
<line x1="1155.4" y1="455.3" x2="1155.4" y2="463.9" stroke="#262626" stroke-width="1.3"/>
<text x="1155.4" y="490.2" font-size="24.5" text-anchor="middle" textLength="27.2" lengthAdjust="spacingAndGlyphs">10</text>
<line x1="1233.1" y1="455.3" x2="1233.1" y2="463.9" stroke="#262626" stroke-width="1.3"/>
<text x="1233.1" y="490.2" font-size="24.5" text-anchor="middle" textLength="27.2" lengthAdjust="spacingAndGlyphs">20</text>
<line x1="1310.8" y1="455.3" x2="1310.8" y2="463.9" stroke="#262626" stroke-width="1.3"/>
<text x="1310.8" y="490.2" font-size="24.5" text-anchor="middle" textLength="27.2" lengthAdjust="spacingAndGlyphs">30</text>
<line x1="1388.5" y1="455.3" x2="1388.5" y2="463.9" stroke="#262626" stroke-width="1.3"/>
<text x="1388.5" y="490.2" font-size="24.5" text-anchor="middle" textLength="27.2" lengthAdjust="spacingAndGlyphs">40</text>
<path d="M1088.7 228.5L1096.8 255.3L1104.9 262.6L1112.7 264.6L1121.2 274L1128.7 273.7L1136.4 269.7L1143.7 257.9L1151.5 250.6L1159.3 245.2L1167.1 261.3L1174.8 281.4L1182.6 288.7L1191.9 295.4L1206.7 311.5L1228.4 328.2L1237 333.5L1248.6 346.9L1265.7 367L1273.5 373.7L1287.5 380.4L1295.3 389.1L1302.3 395.8L1310.8 397.1L1329.4 407.1L1345.8 415.8L1362.9 421.9L1377.6 428.5L1384.6 432.6" fill="none" stroke="#6ec8ae" stroke-width="4" stroke-linejoin="round" stroke-linecap="butt"/>
<path d="M1088.7 227.2L1096.8 254.6L1104.9 262.3L1112.7 258.6L1120.4 261.3L1128.7 265.3L1136 260.6L1143.7 252.9L1151.5 244.6L1159.3 252.9L1167.1 266.3L1174.8 281.4L1182.6 289.8L1191.9 298.2L1206.7 313.3L1228.4 331.5L1237 341.6L1248.6 355L1265.7 373L1273.5 378.4L1283.6 389.1L1295.3 395.8L1310.8 406.5L1329.4 415.8L1345.8 425.2L1362.9 432.6L1373 437.2L1384.6 440.6" fill="none" stroke="#8b7d75" stroke-width="4" stroke-linejoin="round" stroke-linecap="butt"/>
<text x="1399.5" y="430.6" font-size="19" textLength="42.3" lengthAdjust="spacingAndGlyphs">Start</text>
<text x="1399.5" y="455" font-size="19" textLength="32.3" lengthAdjust="spacingAndGlyphs">End</text>
<text x="1008" y="312.3" font-size="25" text-anchor="middle" textLength="107.4" lengthAdjust="spacingAndGlyphs" transform="rotate(-90 1008 312.3)">Power, dB</text>
<text x="1234.1" y="530.8" font-size="25" text-anchor="middle" textLength="155.8" lengthAdjust="spacingAndGlyphs">Frequency, Hz</text>
<rect x="1107.2" y="669.4" width="42.7" height="286" fill="#dddde0"/>
<rect x="1193.5" y="669.4" width="55.2" height="286" fill="#dddde0"/>
<rect x="1256" y="669.4" width="132.5" height="286" fill="#dddde0"/>
<line x1="1077.7" y1="669.4" x2="1388.5" y2="669.4" stroke="#c6c6c9" stroke-width="1.7"/>
<line x1="1077.7" y1="736.3" x2="1388.5" y2="736.3" stroke="#c6c6c9" stroke-width="1.7"/>
<line x1="1077.7" y1="803.2" x2="1388.5" y2="803.2" stroke="#c6c6c9" stroke-width="1.7"/>
<line x1="1077.7" y1="870.1" x2="1388.5" y2="870.1" stroke="#c6c6c9" stroke-width="1.7"/>
<line x1="1077.7" y1="937" x2="1388.5" y2="937" stroke="#c6c6c9" stroke-width="1.7"/>
<line x1="1107.2" y1="663.2" x2="1150" y2="663.2" stroke="#999" stroke-width="1.4"/>
<path d="M1122.3 663.2h12.6l-6.3 -10z" fill="#858585"/>
<text x="1128.6" y="643.4" font-size="19" text-anchor="middle" textLength="10.5" lengthAdjust="spacingAndGlyphs">θ</text>
<line x1="1193.5" y1="663.2" x2="1248.6" y2="663.2" stroke="#999" stroke-width="1.4"/>
<path d="M1214.8 663.2h12.6l-6.3 -10z" fill="#858585"/>
<text x="1221.1" y="643.4" font-size="19" text-anchor="middle" textLength="20.5" lengthAdjust="spacingAndGlyphs">Lβ</text>
<line x1="1256" y1="663.2" x2="1388.5" y2="663.2" stroke="#999" stroke-width="1.4"/>
<path d="M1316 663.2h12.6l-6.3 -10z" fill="#858585"/>
<text x="1322.3" y="643.4" font-size="19" text-anchor="middle" textLength="20.5" lengthAdjust="spacingAndGlyphs">βγ</text>
<line x1="1077.6" y1="668.8" x2="1077.6" y2="957" stroke="#262626" stroke-width="1.3"/>
<line x1="1069.2" y1="669.4" x2="1077.7" y2="669.4" stroke="#262626" stroke-width="1.3"/>
<text x="1064.4" y="677.2" font-size="24.5" text-anchor="end" textLength="27.6" lengthAdjust="spacingAndGlyphs">20</text>
<line x1="1069.2" y1="736.3" x2="1077.7" y2="736.3" stroke="#262626" stroke-width="1.3"/>
<text x="1064.4" y="744.1" font-size="24.5" text-anchor="end" textLength="27.6" lengthAdjust="spacingAndGlyphs">10</text>
<line x1="1069.2" y1="803.2" x2="1077.7" y2="803.2" stroke="#262626" stroke-width="1.3"/>
<text x="1064.4" y="811" font-size="24.5" text-anchor="end" textLength="12.4" lengthAdjust="spacingAndGlyphs">0</text>
<line x1="1069.2" y1="870.1" x2="1077.7" y2="870.1" stroke="#262626" stroke-width="1.3"/>
<text x="1064.4" y="877.9" font-size="24.5" text-anchor="end" textLength="38" lengthAdjust="spacingAndGlyphs">-10</text>
<line x1="1069.2" y1="937" x2="1077.7" y2="937" stroke="#262626" stroke-width="1.3"/>
<text x="1064.4" y="944.8" font-size="24.5" text-anchor="end" textLength="38" lengthAdjust="spacingAndGlyphs">-20</text>
<line x1="1077" y1="956.4" x2="1389.2" y2="956.4" stroke="#262626" stroke-width="1.3"/>
<line x1="1077.7" y1="956.4" x2="1077.7" y2="965" stroke="#262626" stroke-width="1.3"/>
<text x="1077.7" y="991.3" font-size="24.5" text-anchor="middle" textLength="12.4" lengthAdjust="spacingAndGlyphs">0</text>
<line x1="1155.4" y1="956.4" x2="1155.4" y2="965" stroke="#262626" stroke-width="1.3"/>
<text x="1155.4" y="991.3" font-size="24.5" text-anchor="middle" textLength="27.2" lengthAdjust="spacingAndGlyphs">10</text>
<line x1="1233.1" y1="956.4" x2="1233.1" y2="965" stroke="#262626" stroke-width="1.3"/>
<text x="1233.1" y="991.3" font-size="24.5" text-anchor="middle" textLength="27.2" lengthAdjust="spacingAndGlyphs">20</text>
<line x1="1310.8" y1="956.4" x2="1310.8" y2="965" stroke="#262626" stroke-width="1.3"/>
<text x="1310.8" y="991.3" font-size="24.5" text-anchor="middle" textLength="27.2" lengthAdjust="spacingAndGlyphs">30</text>
<line x1="1388.5" y1="956.4" x2="1388.5" y2="965" stroke="#262626" stroke-width="1.3"/>
<text x="1388.5" y="991.3" font-size="24.5" text-anchor="middle" textLength="27.2" lengthAdjust="spacingAndGlyphs">40</text>
<path d="M1088.7 781.8L1096.8 805.2L1104.9 815.2L1111.1 821.9L1118.1 823.3L1127.4 821.3L1134.4 822.6L1143 822.6L1150 817.9L1158.1 823.3L1167.1 840L1174.8 852L1181.8 860.1L1191.9 863.7L1202 862.1L1216.8 861.4L1225.3 864.4L1233.1 865.4L1241.6 867.8L1248.6 868.8L1255.6 873.4L1263.4 876.8L1278.9 879.5L1287.5 884.1L1293.7 888.2L1302.3 888.8L1309.2 894.2L1324 900.2L1331 898.9L1338.8 904.2L1345.8 906.2L1354.3 907.6L1362.9 911.6L1369.1 914.3L1377.6 914.9L1384.6 919.6" fill="none" stroke="#6ec8ae" stroke-width="4" stroke-linejoin="round" stroke-linecap="butt"/>
<path d="M1088.7 776.4L1096.8 803.2L1104.9 815.2L1111.1 811.9L1120.4 796.5L1127.4 796.5L1134.4 805.2L1143 815.2L1151.5 821.9L1158.1 828.6L1167.1 843.3L1174.8 853.4L1181.8 860.1L1195 870.4L1203.6 867.1L1215.2 868.8L1225.3 870.4L1233.1 873.4L1248.6 874.8L1263.4 876.8L1270.4 874.8L1278.9 876.8L1287.5 878.1L1293.7 880.8L1309.2 882.1L1324 882.8L1331 886.8L1338.8 888.8L1354.3 894.2L1362.9 898.2L1369.1 898.2L1384.6 904.2" fill="none" stroke="#8b7d75" stroke-width="4" stroke-linejoin="round" stroke-linecap="butt"/>
<text x="1399.5" y="934.7" font-size="19" textLength="42.3" lengthAdjust="spacingAndGlyphs">Start</text>
<text x="1399.5" y="906" font-size="19" textLength="32.3" lengthAdjust="spacingAndGlyphs">End</text>
<text x="1008" y="813.4" font-size="25" text-anchor="middle" textLength="107.4" lengthAdjust="spacingAndGlyphs" transform="rotate(-90 1008 813.4)">Power, dB</text>
<text x="1234.1" y="1031.9" font-size="25" text-anchor="middle" textLength="155.8" lengthAdjust="spacingAndGlyphs">Frequency, Hz</text>
<rect x="1107.2" y="1170.5" width="42.7" height="286" fill="#dddde0"/>
<rect x="1193.5" y="1170.5" width="55.2" height="286" fill="#dddde0"/>
<rect x="1256" y="1170.5" width="132.5" height="286" fill="#dddde0"/>
<line x1="1077.7" y1="1170.5" x2="1388.5" y2="1170.5" stroke="#c6c6c9" stroke-width="1.7"/>
<line x1="1077.7" y1="1237.4" x2="1388.5" y2="1237.4" stroke="#c6c6c9" stroke-width="1.7"/>
<line x1="1077.7" y1="1304.3" x2="1388.5" y2="1304.3" stroke="#c6c6c9" stroke-width="1.7"/>
<line x1="1077.7" y1="1371.2" x2="1388.5" y2="1371.2" stroke="#c6c6c9" stroke-width="1.7"/>
<line x1="1077.7" y1="1438.1" x2="1388.5" y2="1438.1" stroke="#c6c6c9" stroke-width="1.7"/>
<line x1="1107.2" y1="1164.3" x2="1150" y2="1164.3" stroke="#999" stroke-width="1.4"/>
<path d="M1122.3 1164.3h12.6l-6.3 -10z" fill="#858585"/>
<text x="1128.6" y="1144.5" font-size="19" text-anchor="middle" textLength="10.5" lengthAdjust="spacingAndGlyphs">θ</text>
<line x1="1193.5" y1="1164.3" x2="1248.6" y2="1164.3" stroke="#999" stroke-width="1.4"/>
<path d="M1214.8 1164.3h12.6l-6.3 -10z" fill="#858585"/>
<text x="1221.1" y="1144.5" font-size="19" text-anchor="middle" textLength="20.5" lengthAdjust="spacingAndGlyphs">Lβ</text>
<line x1="1256" y1="1164.3" x2="1388.5" y2="1164.3" stroke="#999" stroke-width="1.4"/>
<path d="M1316 1164.3h12.6l-6.3 -10z" fill="#858585"/>
<text x="1322.3" y="1144.5" font-size="19" text-anchor="middle" textLength="20.5" lengthAdjust="spacingAndGlyphs">βγ</text>
<line x1="1077.6" y1="1169.9" x2="1077.6" y2="1458.1" stroke="#262626" stroke-width="1.3"/>
<line x1="1069.2" y1="1170.5" x2="1077.7" y2="1170.5" stroke="#262626" stroke-width="1.3"/>
<text x="1064.4" y="1178.3" font-size="24.5" text-anchor="end" textLength="27.6" lengthAdjust="spacingAndGlyphs">20</text>
<line x1="1069.2" y1="1237.4" x2="1077.7" y2="1237.4" stroke="#262626" stroke-width="1.3"/>
<text x="1064.4" y="1245.2" font-size="24.5" text-anchor="end" textLength="27.6" lengthAdjust="spacingAndGlyphs">10</text>
<line x1="1069.2" y1="1304.3" x2="1077.7" y2="1304.3" stroke="#262626" stroke-width="1.3"/>
<text x="1064.4" y="1312.1" font-size="24.5" text-anchor="end" textLength="12.4" lengthAdjust="spacingAndGlyphs">0</text>
<line x1="1069.2" y1="1371.2" x2="1077.7" y2="1371.2" stroke="#262626" stroke-width="1.3"/>
<text x="1064.4" y="1379" font-size="24.5" text-anchor="end" textLength="38" lengthAdjust="spacingAndGlyphs">-10</text>
<line x1="1069.2" y1="1438.1" x2="1077.7" y2="1438.1" stroke="#262626" stroke-width="1.3"/>
<text x="1064.4" y="1445.9" font-size="24.5" text-anchor="end" textLength="38" lengthAdjust="spacingAndGlyphs">-20</text>
<line x1="1077" y1="1457.5" x2="1389.2" y2="1457.5" stroke="#262626" stroke-width="1.3"/>
<line x1="1077.7" y1="1457.5" x2="1077.7" y2="1466.1" stroke="#262626" stroke-width="1.3"/>
<text x="1077.7" y="1492.4" font-size="24.5" text-anchor="middle" textLength="12.4" lengthAdjust="spacingAndGlyphs">0</text>
<line x1="1155.4" y1="1457.5" x2="1155.4" y2="1466.1" stroke="#262626" stroke-width="1.3"/>
<text x="1155.4" y="1492.4" font-size="24.5" text-anchor="middle" textLength="27.2" lengthAdjust="spacingAndGlyphs">10</text>
<line x1="1233.1" y1="1457.5" x2="1233.1" y2="1466.1" stroke="#262626" stroke-width="1.3"/>
<text x="1233.1" y="1492.4" font-size="24.5" text-anchor="middle" textLength="27.2" lengthAdjust="spacingAndGlyphs">20</text>
<line x1="1310.8" y1="1457.5" x2="1310.8" y2="1466.1" stroke="#262626" stroke-width="1.3"/>
<text x="1310.8" y="1492.4" font-size="24.5" text-anchor="middle" textLength="27.2" lengthAdjust="spacingAndGlyphs">30</text>
<line x1="1388.5" y1="1457.5" x2="1388.5" y2="1466.1" stroke="#262626" stroke-width="1.3"/>
<text x="1388.5" y="1492.4" font-size="24.5" text-anchor="middle" textLength="27.2" lengthAdjust="spacingAndGlyphs">40</text>
<path d="M1088.7 1219.3L1096.8 1247.4L1104.9 1256.1L1112.7 1257.5L1120.4 1266.2L1128.7 1270.5L1136.4 1271.2L1143 1266.8L1151.5 1254.8L1159.3 1248.1L1167.1 1261.1L1174.8 1284.9L1183.4 1298.3L1191.9 1307L1206.7 1321.7L1215.2 1328.4L1225.3 1333.1L1233.1 1339.8L1241.6 1348.5L1251.7 1355.1L1263.4 1367.2L1272 1373.9L1283.6 1381.9L1295.3 1393.3L1310.8 1398.6L1324 1410.7L1338.8 1418.7L1354.3 1424.7L1369.1 1432.1L1384.6 1439.4" fill="none" stroke="#6ec8ae" stroke-width="4" stroke-linejoin="round" stroke-linecap="butt"/>
<path d="M1088.7 1236.7L1096.8 1261.1L1104.9 1267.2L1112.7 1269.5L1120.4 1274.5L1128.7 1277.9L1136.4 1279.5L1143 1276.2L1150.4 1267.8L1159.3 1270.2L1168.2 1265.5L1174.8 1267.2L1183.4 1291.3L1191.9 1301L1205.1 1304.1L1213.7 1315L1221.8 1319.7L1228.4 1321.7L1241.6 1328.4L1250.2 1332.4L1257.2 1339.8L1265.7 1349.8L1273.5 1357.2L1287.5 1367.9L1302.3 1381.2L1310.8 1384.6L1324 1395.3L1332.6 1400.6L1338.8 1402.6L1354.3 1411.3L1369.1 1418.7L1384.6 1426.1" fill="none" stroke="#8b7d75" stroke-width="4" stroke-linejoin="round" stroke-linecap="butt"/>
<text x="1399.5" y="1456.8" font-size="19" textLength="42.3" lengthAdjust="spacingAndGlyphs">Start</text>
<text x="1399.5" y="1426.3" font-size="19" textLength="32.3" lengthAdjust="spacingAndGlyphs">End</text>
<text x="1008" y="1314.5" font-size="25" text-anchor="middle" textLength="107.4" lengthAdjust="spacingAndGlyphs" transform="rotate(-90 1008 1314.5)">Power, dB</text>
<text x="1234.1" y="1533" font-size="25" text-anchor="middle" textLength="155.8" lengthAdjust="spacingAndGlyphs">Frequency, Hz</text>
<line x1="89.7" y1="1700.2" x2="400.5" y2="1700.2" stroke="#cecece" stroke-width="1.7"/>
<line x1="89.7" y1="1780.4" x2="400.5" y2="1780.4" stroke="#cecece" stroke-width="1.7"/>
<line x1="89.7" y1="1860.6" x2="400.5" y2="1860.6" stroke="#cecece" stroke-width="1.7"/>
<line x1="89.7" y1="1940.8" x2="400.5" y2="1940.8" stroke="#cecece" stroke-width="1.7"/>
<path d="M105.2 1925.6L136.3 1885.5L167.4 1852.6L198.5 1842.2L229.6 1826.9L260.6 1837.3L291.7 1831.7L322.8 1835.7L353.9 1830.1L385 1832.5L385 1906.3L353.9 1897.5L322.8 1899.1L291.7 1903.1L260.6 1909.5L229.6 1897.5L198.5 1908.7L167.4 1909.5L136.3 1908.7L105.2 1935.5z" fill="#1ca6e2" fill-opacity="0.28"/>
<path d="M105.2 1938.8L136.3 1919.1L167.4 1869L198.5 1882.3L229.6 1869L260.6 1834.9L291.7 1827.7L322.8 1807.7L353.9 1755.5L385 1806.1L385 1882.3L353.9 1862.2L322.8 1874.2L291.7 1891.9L260.6 1894.3L229.6 1899.1L198.5 1912.2L167.4 1922.4L136.3 1935.5L105.2 1942.8z" fill="#ee9a30" fill-opacity="0.28"/>
<path d="M105.2 1940.8L136.3 1938.4L167.4 1942.8L198.5 1944.8L229.6 1939.4L260.6 1921.2L291.7 1921.2L322.8 1950.4L353.9 1952L385 1947.8L385 1958.4L353.9 1961.4L322.8 1960.9L291.7 1952L260.6 1943.8L229.6 1949.6L198.5 1951.2L167.4 1948L136.3 1941.6L105.2 1942.8z" fill="#2c4a59" fill-opacity="0.28"/>
<path d="M105.2 1931.5L136.3 1897.5L167.4 1880.7L198.5 1875.8L229.6 1861.7L260.6 1874.6L291.7 1867.3L322.8 1868.6L353.9 1863.3L385 1870.2" fill="none" stroke="#1ca6e2" stroke-width="4" stroke-linejoin="round" stroke-linecap="butt"/>
<path d="M105.2 1941.6L136.3 1928.8L167.4 1896.7L198.5 1896.7L229.6 1886.7L260.6 1865.7L291.7 1860.6L322.8 1842.4L353.9 1810.1L385 1844.1" fill="none" stroke="#ee9a30" stroke-width="4" stroke-linejoin="round" stroke-linecap="butt"/>
<path d="M105.2 1941.6L136.3 1939.8L167.4 1945.5L198.5 1948L229.6 1944.8L260.6 1932.1L291.7 1936.5L322.8 1955.2L353.9 1956.4L385 1953.1" fill="none" stroke="#2c4a59" stroke-width="4" stroke-linejoin="round" stroke-linecap="butt"/>
<line x1="89.6" y1="1699.6" x2="89.6" y2="1987.8" stroke="#262626" stroke-width="1.3"/>
<line x1="81.2" y1="1700.2" x2="89.7" y2="1700.2" stroke="#262626" stroke-width="1.3"/>
<text x="76.4" y="1708" font-size="24.5" text-anchor="end" textLength="12.4" lengthAdjust="spacingAndGlyphs">3</text>
<line x1="81.2" y1="1780.4" x2="89.7" y2="1780.4" stroke="#262626" stroke-width="1.3"/>
<text x="76.4" y="1788.2" font-size="24.5" text-anchor="end" textLength="12.4" lengthAdjust="spacingAndGlyphs">2</text>
<line x1="81.2" y1="1860.6" x2="89.7" y2="1860.6" stroke="#262626" stroke-width="1.3"/>
<text x="76.4" y="1868.4" font-size="24.5" text-anchor="end" textLength="12.4" lengthAdjust="spacingAndGlyphs">1</text>
<line x1="81.2" y1="1940.8" x2="89.7" y2="1940.8" stroke="#262626" stroke-width="1.3"/>
<text x="76.4" y="1948.6" font-size="24.5" text-anchor="end" textLength="12.4" lengthAdjust="spacingAndGlyphs">0</text>
<line x1="89" y1="1987.2" x2="401.1" y2="1987.2" stroke="#262626" stroke-width="1.3"/>
<line x1="89.7" y1="1987.2" x2="89.7" y2="1995.8" stroke="#262626" stroke-width="1.3"/>
<text x="89.7" y="2022.1" font-size="24.5" text-anchor="middle" textLength="12.4" lengthAdjust="spacingAndGlyphs">0</text>
<line x1="167.4" y1="1987.2" x2="167.4" y2="1995.8" stroke="#262626" stroke-width="1.3"/>
<text x="167.4" y="2022.1" font-size="24.5" text-anchor="middle" textLength="27.2" lengthAdjust="spacingAndGlyphs">10</text>
<line x1="245.1" y1="1987.2" x2="245.1" y2="1995.8" stroke="#262626" stroke-width="1.3"/>
<text x="245.1" y="2022.1" font-size="24.5" text-anchor="middle" textLength="27.2" lengthAdjust="spacingAndGlyphs">20</text>
<line x1="322.8" y1="1987.2" x2="322.8" y2="1995.8" stroke="#262626" stroke-width="1.3"/>
<text x="322.8" y="2022.1" font-size="24.5" text-anchor="middle" textLength="27.2" lengthAdjust="spacingAndGlyphs">30</text>
<line x1="400.5" y1="1987.2" x2="400.5" y2="1995.8" stroke="#262626" stroke-width="1.3"/>
<text x="400.5" y="2022.1" font-size="24.5" text-anchor="middle" textLength="27.2" lengthAdjust="spacingAndGlyphs">40</text>
<text x="89.7" y="1678.4" font-size="19" text-anchor="middle" textLength="42.3" lengthAdjust="spacingAndGlyphs">Start</text>
<text x="400.5" y="1678.4" font-size="19" text-anchor="middle" textLength="32.3" lengthAdjust="spacingAndGlyphs">End</text>
<path d="M83.4 1684h12.6l-6.3 9.6z" fill="#858585"/>
<path d="M394.2 1684h12.6l-6.3 9.6z" fill="#858585"/>
<text x="44.5" y="1843.2" font-size="25" text-anchor="middle" textLength="233.9" lengthAdjust="spacingAndGlyphs" transform="rotate(-90 44.5 1843.2)">Fold change in power</text>
<text x="245.1" y="2062.7" font-size="25" text-anchor="middle" textLength="319" lengthAdjust="spacingAndGlyphs">Minutes in ketamine infusion</text>
<rect x="5.5" y="1584" width="36" height="36" fill="#fff" stroke="#555" stroke-width="1"/>
<text x="23.5" y="1610.5" font-size="23" text-anchor="middle" textLength="14.2" lengthAdjust="spacingAndGlyphs" font-weight="bold" stroke="none">D</text>
<text x="55.8" y="1611" font-size="25.5" textLength="288.4" lengthAdjust="spacingAndGlyphs">Time course of fold power</text>
<text x="55.8" y="1640.5" font-size="25.5" textLength="120.4" lengthAdjust="spacingAndGlyphs">change, βγ</text>
<line x1="565.7" y1="1700.2" x2="876.5" y2="1700.2" stroke="#cecece" stroke-width="1.7"/>
<line x1="565.7" y1="1780.4" x2="876.5" y2="1780.4" stroke="#cecece" stroke-width="1.7"/>
<line x1="565.7" y1="1860.6" x2="876.5" y2="1860.6" stroke="#cecece" stroke-width="1.7"/>
<line x1="565.7" y1="1940.8" x2="876.5" y2="1940.8" stroke="#cecece" stroke-width="1.7"/>
<path d="M581.2 1929.8L612.3 1903.9L643.4 1902.3L674.5 1902.3L705.6 1903.9L736.6 1919.5L767.7 1916.7L798.8 1915.5L829.9 1910.6L861 1916.2L861 1948.8L829.9 1945.5L798.8 1943.8L767.7 1943.8L736.6 1944.8L705.6 1935.5L674.5 1935.5L643.4 1930.4L612.3 1927.2L581.2 1936.5z" fill="#1ca6e2" fill-opacity="0.28"/>
<path d="M581.2 1940L612.3 1929.6L643.4 1918.3L674.5 1907.1L705.6 1890.7L736.6 1873L767.7 1864.6L798.8 1860.6L829.9 1855.8L861 1856.6L861 1879L829.9 1879.8L798.8 1882.3L767.7 1887.9L736.6 1893.9L705.6 1903.1L674.5 1916.7L643.4 1925.6L612.3 1934.4L581.2 1943.2z" fill="#ee9a30" fill-opacity="0.28"/>
<path d="M581.2 1940L612.3 1940L643.4 1942.4L674.5 1944.8L705.6 1945.6L736.6 1946.4L767.7 1946.4L798.8 1948L829.9 1950.4L861 1949.6L861 1956.8L829.9 1956.8L798.8 1953.2L767.7 1951.6L736.6 1951.6L705.6 1950.4L674.5 1949.6L643.4 1946.8L612.3 1944.4L581.2 1943.2z" fill="#2c4a59" fill-opacity="0.28"/>
<path d="M581.2 1933.2L612.3 1915.5L643.4 1916.7L674.5 1919.5L705.6 1919.5L736.6 1932.8L767.7 1930.4L798.8 1929.8L829.9 1927.2L861 1933.8" fill="none" stroke="#1ca6e2" stroke-width="4" stroke-linejoin="round" stroke-linecap="butt"/>
<path d="M581.2 1941.6L612.3 1932.1L643.4 1922.4L674.5 1912.2L705.6 1897.5L736.6 1883.9L767.7 1876.6L798.8 1871.8L829.9 1868.1L861 1868.1" fill="none" stroke="#ee9a30" stroke-width="4" stroke-linejoin="round" stroke-linecap="butt"/>
<path d="M581.2 1941.6L612.3 1942.2L643.4 1944.5L674.5 1947.2L705.6 1948L736.6 1948.8L767.7 1948.8L798.8 1950.4L829.9 1953.6L861 1953.1" fill="none" stroke="#2c4a59" stroke-width="4" stroke-linejoin="round" stroke-linecap="butt"/>
<line x1="565.6" y1="1699.6" x2="565.6" y2="1987.8" stroke="#262626" stroke-width="1.3"/>
<line x1="557.2" y1="1700.2" x2="565.7" y2="1700.2" stroke="#262626" stroke-width="1.3"/>
<text x="552.4" y="1708" font-size="24.5" text-anchor="end" textLength="12.4" lengthAdjust="spacingAndGlyphs">3</text>
<line x1="557.2" y1="1780.4" x2="565.7" y2="1780.4" stroke="#262626" stroke-width="1.3"/>
<text x="552.4" y="1788.2" font-size="24.5" text-anchor="end" textLength="12.4" lengthAdjust="spacingAndGlyphs">2</text>
<line x1="557.2" y1="1860.6" x2="565.7" y2="1860.6" stroke="#262626" stroke-width="1.3"/>
<text x="552.4" y="1868.4" font-size="24.5" text-anchor="end" textLength="12.4" lengthAdjust="spacingAndGlyphs">1</text>
<line x1="557.2" y1="1940.8" x2="565.7" y2="1940.8" stroke="#262626" stroke-width="1.3"/>
<text x="552.4" y="1948.6" font-size="24.5" text-anchor="end" textLength="12.4" lengthAdjust="spacingAndGlyphs">0</text>
<line x1="565.1" y1="1987.2" x2="877.1" y2="1987.2" stroke="#262626" stroke-width="1.3"/>
<line x1="565.7" y1="1987.2" x2="565.7" y2="1995.8" stroke="#262626" stroke-width="1.3"/>
<text x="565.7" y="2022.1" font-size="24.5" text-anchor="middle" textLength="12.4" lengthAdjust="spacingAndGlyphs">0</text>
<line x1="643.4" y1="1987.2" x2="643.4" y2="1995.8" stroke="#262626" stroke-width="1.3"/>
<text x="643.4" y="2022.1" font-size="24.5" text-anchor="middle" textLength="27.2" lengthAdjust="spacingAndGlyphs">10</text>
<line x1="721.1" y1="1987.2" x2="721.1" y2="1995.8" stroke="#262626" stroke-width="1.3"/>
<text x="721.1" y="2022.1" font-size="24.5" text-anchor="middle" textLength="27.2" lengthAdjust="spacingAndGlyphs">20</text>
<line x1="798.8" y1="1987.2" x2="798.8" y2="1995.8" stroke="#262626" stroke-width="1.3"/>
<text x="798.8" y="2022.1" font-size="24.5" text-anchor="middle" textLength="27.2" lengthAdjust="spacingAndGlyphs">30</text>
<line x1="876.5" y1="1987.2" x2="876.5" y2="1995.8" stroke="#262626" stroke-width="1.3"/>
<text x="876.5" y="2022.1" font-size="24.5" text-anchor="middle" textLength="27.2" lengthAdjust="spacingAndGlyphs">40</text>
<text x="565.7" y="1678.4" font-size="19" text-anchor="middle" textLength="42.3" lengthAdjust="spacingAndGlyphs">Start</text>
<text x="876.5" y="1678.4" font-size="19" text-anchor="middle" textLength="32.3" lengthAdjust="spacingAndGlyphs">End</text>
<path d="M559.4 1684h12.6l-6.3 9.6z" fill="#858585"/>
<path d="M870.2 1684h12.6l-6.3 9.6z" fill="#858585"/>
<text x="520" y="1843.2" font-size="25" text-anchor="middle" textLength="233.9" lengthAdjust="spacingAndGlyphs" transform="rotate(-90 520 1843.2)">Fold change in power</text>
<text x="721.1" y="2062.7" font-size="25" text-anchor="middle" textLength="319" lengthAdjust="spacingAndGlyphs">Minutes in ketamine infusion</text>
<rect x="481" y="1584" width="36" height="36" fill="#fff" stroke="#555" stroke-width="1"/>
<text x="499" y="1610.5" font-size="23" text-anchor="middle" textLength="11.8" lengthAdjust="spacingAndGlyphs" font-weight="bold" stroke="none">E</text>
<text x="531.3" y="1611" font-size="25.5" textLength="288.4" lengthAdjust="spacingAndGlyphs">Time course of fold power</text>
<text x="531.3" y="1640.5" font-size="25.5" textLength="121.4" lengthAdjust="spacingAndGlyphs">change, Lβ</text>
<line x1="1077.7" y1="1700.2" x2="1388.5" y2="1700.2" stroke="#cecece" stroke-width="1.7"/>
<line x1="1077.7" y1="1780.4" x2="1388.5" y2="1780.4" stroke="#cecece" stroke-width="1.7"/>
<line x1="1077.7" y1="1860.6" x2="1388.5" y2="1860.6" stroke="#cecece" stroke-width="1.7"/>
<line x1="1077.7" y1="1940.8" x2="1388.5" y2="1940.8" stroke="#cecece" stroke-width="1.7"/>
<path d="M1093.2 1920.8L1124.3 1875.8L1155.4 1817.3L1186.5 1806.1L1217.6 1800.5L1248.6 1806.1L1279.7 1804.5L1310.8 1806.1L1341.9 1807.7L1373 1807.7L1373 1887.3L1341.9 1879.8L1310.8 1877.4L1279.7 1875.8L1248.6 1877.4L1217.6 1872.6L1186.5 1878.2L1155.4 1879.8L1124.3 1905.5L1093.2 1927.2z" fill="#1ca6e2" fill-opacity="0.28"/>
<path d="M1093.2 1937.6L1124.3 1934L1155.4 1930.8L1186.5 1928.4L1217.6 1934L1248.6 1936.8L1279.7 1936L1310.8 1933.2L1341.9 1928L1373 1921.6L1373 1936.8L1341.9 1938.4L1310.8 1940.8L1279.7 1943.2L1248.6 1944L1217.6 1942.4L1186.5 1937.2L1155.4 1938L1124.3 1940L1093.2 1941.2z" fill="#2c4a59" fill-opacity="0.28"/>
<path d="M1093.2 1938.4L1124.3 1937.2L1155.4 1936L1186.5 1942.4L1217.6 1943.2L1248.6 1944.8L1279.7 1919.9L1310.8 1936.8L1341.9 1947.2L1373 1952.8L1373 1960.9L1341.9 1954.4L1310.8 1950.4L1279.7 1948.8L1248.6 1952L1217.6 1949.6L1186.5 1948.8L1155.4 1941.6L1124.3 1941.6L1093.2 1942.4z" fill="#ee9a30" fill-opacity="0.28"/>
<path d="M1093.2 1924L1124.3 1890.6L1155.4 1849.1L1186.5 1841.4L1217.6 1836.5L1248.6 1841.8L1279.7 1839.7L1310.8 1842.4L1341.9 1844.1L1373 1847.4" fill="none" stroke="#1ca6e2" stroke-width="4" stroke-linejoin="round" stroke-linecap="butt"/>
<path d="M1093.2 1939.4L1124.3 1937.1L1155.4 1934.5L1186.5 1932.8L1217.6 1938.2L1248.6 1940.5L1279.7 1939.4L1310.8 1937.1L1341.9 1933.2L1373 1929.6" fill="none" stroke="#2c4a59" stroke-width="4" stroke-linejoin="round" stroke-linecap="butt"/>
<path d="M1093.2 1940.5L1124.3 1939.4L1155.4 1938.8L1186.5 1945.5L1217.6 1946.4L1248.6 1948.8L1279.7 1934.8L1310.8 1943.8L1341.9 1951.2L1373 1956.8" fill="none" stroke="#ee9a30" stroke-width="4" stroke-linejoin="round" stroke-linecap="butt"/>
<line x1="1077.6" y1="1699.6" x2="1077.6" y2="1987.8" stroke="#262626" stroke-width="1.3"/>
<line x1="1069.2" y1="1700.2" x2="1077.7" y2="1700.2" stroke="#262626" stroke-width="1.3"/>
<text x="1064.4" y="1708" font-size="24.5" text-anchor="end" textLength="12.4" lengthAdjust="spacingAndGlyphs">3</text>
<line x1="1069.2" y1="1780.4" x2="1077.7" y2="1780.4" stroke="#262626" stroke-width="1.3"/>
<text x="1064.4" y="1788.2" font-size="24.5" text-anchor="end" textLength="12.4" lengthAdjust="spacingAndGlyphs">2</text>
<line x1="1069.2" y1="1860.6" x2="1077.7" y2="1860.6" stroke="#262626" stroke-width="1.3"/>
<text x="1064.4" y="1868.4" font-size="24.5" text-anchor="end" textLength="12.4" lengthAdjust="spacingAndGlyphs">1</text>
<line x1="1069.2" y1="1940.8" x2="1077.7" y2="1940.8" stroke="#262626" stroke-width="1.3"/>
<text x="1064.4" y="1948.6" font-size="24.5" text-anchor="end" textLength="12.4" lengthAdjust="spacingAndGlyphs">0</text>
<line x1="1077" y1="1987.2" x2="1389.2" y2="1987.2" stroke="#262626" stroke-width="1.3"/>
<line x1="1077.7" y1="1987.2" x2="1077.7" y2="1995.8" stroke="#262626" stroke-width="1.3"/>
<text x="1077.7" y="2022.1" font-size="24.5" text-anchor="middle" textLength="12.4" lengthAdjust="spacingAndGlyphs">0</text>
<line x1="1155.4" y1="1987.2" x2="1155.4" y2="1995.8" stroke="#262626" stroke-width="1.3"/>
<text x="1155.4" y="2022.1" font-size="24.5" text-anchor="middle" textLength="27.2" lengthAdjust="spacingAndGlyphs">10</text>
<line x1="1233.1" y1="1987.2" x2="1233.1" y2="1995.8" stroke="#262626" stroke-width="1.3"/>
<text x="1233.1" y="2022.1" font-size="24.5" text-anchor="middle" textLength="27.2" lengthAdjust="spacingAndGlyphs">20</text>
<line x1="1310.8" y1="1987.2" x2="1310.8" y2="1995.8" stroke="#262626" stroke-width="1.3"/>
<text x="1310.8" y="2022.1" font-size="24.5" text-anchor="middle" textLength="27.2" lengthAdjust="spacingAndGlyphs">30</text>
<line x1="1388.5" y1="1987.2" x2="1388.5" y2="1995.8" stroke="#262626" stroke-width="1.3"/>
<text x="1388.5" y="2022.1" font-size="24.5" text-anchor="middle" textLength="27.2" lengthAdjust="spacingAndGlyphs">40</text>
<text x="1077.7" y="1678.4" font-size="19" text-anchor="middle" textLength="42.3" lengthAdjust="spacingAndGlyphs">Start</text>
<text x="1388.5" y="1678.4" font-size="19" text-anchor="middle" textLength="32.3" lengthAdjust="spacingAndGlyphs">End</text>
<path d="M1071.4 1684h12.6l-6.3 9.6z" fill="#858585"/>
<path d="M1382.2 1684h12.6l-6.3 9.6z" fill="#858585"/>
<text x="1023.5" y="1843.2" font-size="25" text-anchor="middle" textLength="233.9" lengthAdjust="spacingAndGlyphs" transform="rotate(-90 1023.5 1843.2)">Fold change in power</text>
<text x="1233.1" y="2062.7" font-size="25" text-anchor="middle" textLength="319" lengthAdjust="spacingAndGlyphs">Minutes in ketamine infusion</text>
<rect x="984.5" y="1584" width="36" height="36" fill="#fff" stroke="#555" stroke-width="1"/>
<text x="1002.5" y="1610.5" font-size="23" text-anchor="middle" textLength="11.4" lengthAdjust="spacingAndGlyphs" font-weight="bold" stroke="none">F</text>
<text x="1034.8" y="1611" font-size="25.5" textLength="288.4" lengthAdjust="spacingAndGlyphs">Time course of fold power</text>
<text x="1034.8" y="1640.5" font-size="25.5" textLength="108.4" lengthAdjust="spacingAndGlyphs">change, θ</text>
<rect x="1111.5" y="1666.5" width="244" height="122" fill="#fff" stroke="#333" stroke-width="1.2"/>
<line x1="1128.4" y1="1696.2" x2="1188.2" y2="1696.2" stroke="#2c4a59" stroke-width="4"/>
<text x="1198.2" y="1704.6" font-size="24.5" textLength="118.9" lengthAdjust="spacingAndGlyphs">Placebo-GA</text>
<line x1="1128.4" y1="1729.4" x2="1188.2" y2="1729.4" stroke="#ee9a30" stroke-width="4"/>
<text x="1198.2" y="1737.8" font-size="24.5" textLength="136.4" lengthAdjust="spacingAndGlyphs">Ketamine-GA</text>
<line x1="1128.4" y1="1762.4" x2="1188.2" y2="1762.4" stroke="#1ca6e2" stroke-width="4"/>
<text x="1198.2" y="1770.8" font-size="24.5" textLength="146.9" lengthAdjust="spacingAndGlyphs">Ketamine only</text>
<line x1="89.7" y1="2201.6" x2="400.5" y2="2201.6" stroke="#cecece" stroke-width="1.7"/>
<line x1="89.7" y1="2297.3" x2="400.5" y2="2297.3" stroke="#cecece" stroke-width="1.7"/>
<line x1="89.7" y1="2392.9" x2="400.5" y2="2392.9" stroke="#cecece" stroke-width="1.7"/>
<line x1="115.6" y1="2330.2" x2="174.4" y2="2341.4" stroke="#2c4a59" stroke-width="5"/>
<line x1="222.1" y1="2335.8" x2="281.5" y2="2310.2" stroke="#1ca6e2" stroke-width="5"/>
<line x1="328.9" y1="2341.8" x2="387.7" y2="2315.9" stroke="#ee9a30" stroke-width="5"/>
<line x1="115.6" y1="2298.3" x2="174.4" y2="2334.1" stroke="#111" stroke-width="1.5"/>
<line x1="115.6" y1="2312.5" x2="174.4" y2="2319.2" stroke="#111" stroke-width="1.5"/>
<line x1="115.6" y1="2315.9" x2="174.4" y2="2317.5" stroke="#111" stroke-width="1.5"/>
<line x1="115.6" y1="2319.2" x2="174.4" y2="2322.5" stroke="#111" stroke-width="1.5"/>
<line x1="115.6" y1="2322.5" x2="174.4" y2="2337.5" stroke="#111" stroke-width="1.5"/>
<line x1="115.6" y1="2340.8" x2="174.4" y2="2365.7" stroke="#111" stroke-width="1.5"/>
<line x1="115.6" y1="2344.1" x2="174.4" y2="2342.4" stroke="#111" stroke-width="1.5"/>
<line x1="115.6" y1="2352.4" x2="174.4" y2="2369" stroke="#111" stroke-width="1.5"/>
<line x1="115.6" y1="2355.7" x2="174.4" y2="2388.9" stroke="#111" stroke-width="1.5"/>
<line x1="115.6" y1="2349.8" x2="174.4" y2="2355.7" stroke="#111" stroke-width="1.5"/>
<line x1="115.6" y1="2365.7" x2="174.4" y2="2372.3" stroke="#111" stroke-width="1.5"/>
<line x1="115.6" y1="2374" x2="174.4" y2="2367.4" stroke="#111" stroke-width="1.5"/>
<line x1="115.6" y1="2375.7" x2="174.4" y2="2379" stroke="#111" stroke-width="1.5"/>
<line x1="115.6" y1="2382.3" x2="174.4" y2="2387.3" stroke="#111" stroke-width="1.5"/>
<line x1="115.6" y1="2388.9" x2="174.4" y2="2390.6" stroke="#111" stroke-width="1.5"/>
<line x1="115.6" y1="2397.3" x2="174.4" y2="2390.6" stroke="#111" stroke-width="1.5"/>
<line x1="115.6" y1="2379" x2="174.4" y2="2398.9" stroke="#111" stroke-width="1.5"/>
<line x1="222.1" y1="2273.3" x2="281.5" y2="2309.2" stroke="#111" stroke-width="1.5"/>
<line x1="222.1" y1="2286" x2="281.5" y2="2302.6" stroke="#111" stroke-width="1.5"/>
<line x1="222.1" y1="2305.9" x2="281.5" y2="2299.3" stroke="#111" stroke-width="1.5"/>
<line x1="222.1" y1="2311.9" x2="281.5" y2="2302.6" stroke="#111" stroke-width="1.5"/>
<line x1="222.1" y1="2319.2" x2="281.5" y2="2307.6" stroke="#111" stroke-width="1.5"/>
<line x1="222.1" y1="2322.5" x2="281.5" y2="2271" stroke="#111" stroke-width="1.5"/>
<line x1="222.1" y1="2332.5" x2="281.5" y2="2309.2" stroke="#111" stroke-width="1.5"/>
<line x1="222.1" y1="2342.4" x2="281.5" y2="2340.8" stroke="#111" stroke-width="1.5"/>
<line x1="222.1" y1="2355.7" x2="281.5" y2="2340.8" stroke="#111" stroke-width="1.5"/>
<line x1="222.1" y1="2370.7" x2="281.5" y2="2342.4" stroke="#111" stroke-width="1.5"/>
<line x1="222.1" y1="2400.6" x2="281.5" y2="2322.5" stroke="#111" stroke-width="1.5"/>
<line x1="222.1" y1="2403.9" x2="281.5" y2="2360.7" stroke="#111" stroke-width="1.5"/>
<line x1="222.1" y1="2417.2" x2="281.5" y2="2312.5" stroke="#111" stroke-width="1.5"/>
<line x1="328.9" y1="2300.9" x2="387.7" y2="2295.9" stroke="#111" stroke-width="1.5"/>
<line x1="328.9" y1="2305.9" x2="387.7" y2="2299.3" stroke="#111" stroke-width="1.5"/>
<line x1="328.9" y1="2314.2" x2="387.7" y2="2305.9" stroke="#111" stroke-width="1.5"/>
<line x1="328.9" y1="2324.2" x2="387.7" y2="2309.2" stroke="#111" stroke-width="1.5"/>
<line x1="328.9" y1="2329.2" x2="387.7" y2="2237.8" stroke="#111" stroke-width="1.5"/>
<line x1="328.9" y1="2332.5" x2="387.7" y2="2282.7" stroke="#111" stroke-width="1.5"/>
<line x1="328.9" y1="2335.8" x2="387.7" y2="2284.3" stroke="#111" stroke-width="1.5"/>
<line x1="328.9" y1="2337.5" x2="387.7" y2="2335.8" stroke="#111" stroke-width="1.5"/>
<line x1="328.9" y1="2355.7" x2="387.7" y2="2355.7" stroke="#111" stroke-width="1.5"/>
<line x1="328.9" y1="2367.4" x2="387.7" y2="2349.1" stroke="#111" stroke-width="1.5"/>
<line x1="328.9" y1="2370.7" x2="387.7" y2="2354.1" stroke="#111" stroke-width="1.5"/>
<line x1="328.9" y1="2372.3" x2="387.7" y2="2365.7" stroke="#111" stroke-width="1.5"/>
<line x1="328.9" y1="2377.3" x2="387.7" y2="2355.7" stroke="#111" stroke-width="1.5"/>
<line x1="328.9" y1="2402.2" x2="387.7" y2="2370.7" stroke="#111" stroke-width="1.5"/>
<line x1="328.9" y1="2407.2" x2="387.7" y2="2382.3" stroke="#111" stroke-width="1.5"/>
<line x1="328.9" y1="2322.5" x2="387.7" y2="2302.6" stroke="#111" stroke-width="1.5"/>
<circle cx="115.6" cy="2330.2" r="9.2" fill="#2c4a59"/>
<circle cx="174.4" cy="2341.4" r="9.2" fill="#2c4a59"/>
<circle cx="222.1" cy="2335.8" r="9.2" fill="#1ca6e2"/>
<circle cx="281.5" cy="2310.2" r="9.2" fill="#1ca6e2"/>
<circle cx="328.9" cy="2341.8" r="9.2" fill="#ee9a30"/>
<circle cx="387.7" cy="2315.9" r="9.2" fill="#ee9a30"/>
<line x1="89.6" y1="2201" x2="89.6" y2="2489.2" stroke="#262626" stroke-width="1.3"/>
<line x1="89" y1="2488.6" x2="401.1" y2="2488.6" stroke="#262626" stroke-width="1.3"/>
<line x1="81.2" y1="2201.6" x2="89.7" y2="2201.6" stroke="#262626" stroke-width="1.3"/>
<text x="75.6" y="2209.4" font-size="24.5" text-anchor="end" textLength="12.4" lengthAdjust="spacingAndGlyphs">0</text>
<line x1="81.2" y1="2297.3" x2="89.7" y2="2297.3" stroke="#262626" stroke-width="1.3"/>
<text x="76.4" y="2305.1" font-size="24.5" text-anchor="end" textLength="38" lengthAdjust="spacingAndGlyphs">-10</text>
<line x1="81.2" y1="2392.9" x2="89.7" y2="2392.9" stroke="#262626" stroke-width="1.3"/>
<text x="76.4" y="2400.7" font-size="24.5" text-anchor="end" textLength="38" lengthAdjust="spacingAndGlyphs">-20</text>
<line x1="81.2" y1="2488.6" x2="89.7" y2="2488.6" stroke="#262626" stroke-width="1.3"/>
<text x="76.4" y="2496.4" font-size="24.5" text-anchor="end" textLength="38" lengthAdjust="spacingAndGlyphs">-30</text>
<line x1="144.5" y1="2488.6" x2="144.5" y2="2497.2" stroke="#262626" stroke-width="1.3"/>
<text x="144.5" y="2522.2" font-size="24" text-anchor="middle" textLength="80.9" lengthAdjust="spacingAndGlyphs">Placebo</text>
<text x="144.5" y="2552" font-size="24" text-anchor="middle" textLength="31" lengthAdjust="spacingAndGlyphs">GA</text>
<line x1="251.5" y1="2488.6" x2="251.5" y2="2497.2" stroke="#262626" stroke-width="1.3"/>
<text x="251.5" y="2522.2" font-size="24" text-anchor="middle" textLength="97.9" lengthAdjust="spacingAndGlyphs">Ketamine</text>
<text x="251.5" y="2552" font-size="24" text-anchor="middle" textLength="45" lengthAdjust="spacingAndGlyphs">only</text>
<line x1="358.1" y1="2488.6" x2="358.1" y2="2497.2" stroke="#262626" stroke-width="1.3"/>
<text x="358.1" y="2522.2" font-size="24" text-anchor="middle" textLength="97.9" lengthAdjust="spacingAndGlyphs">Ketamine</text>
<text x="358.1" y="2552" font-size="24" text-anchor="middle" textLength="31" lengthAdjust="spacingAndGlyphs">GA</text>
<text x="115.1" y="2179.7" font-size="19" text-anchor="middle" textLength="42.3" lengthAdjust="spacingAndGlyphs">Start</text>
<text x="174.4" y="2179.7" font-size="19" text-anchor="middle" textLength="32.3" lengthAdjust="spacingAndGlyphs">End</text>
<path d="M109.3 2185.3h12.6l-6.3 9.6z" fill="#858585"/>
<path d="M168.1 2185.3h12.6l-6.3 9.6z" fill="#858585"/>
<text x="221.6" y="2179.7" font-size="19" text-anchor="middle" textLength="42.3" lengthAdjust="spacingAndGlyphs">Start</text>
<text x="281.5" y="2179.7" font-size="19" text-anchor="middle" textLength="32.3" lengthAdjust="spacingAndGlyphs">End</text>
<path d="M215.8 2185.3h12.6l-6.3 9.6z" fill="#858585"/>
<path d="M275.2 2185.3h12.6l-6.3 9.6z" fill="#858585"/>
<text x="328.4" y="2179.7" font-size="19" text-anchor="middle" textLength="42.3" lengthAdjust="spacingAndGlyphs">Start</text>
<text x="387.7" y="2179.7" font-size="19" text-anchor="middle" textLength="32.3" lengthAdjust="spacingAndGlyphs">End</text>
<path d="M322.6 2185.3h12.6l-6.3 9.6z" fill="#858585"/>
<path d="M381.4 2185.3h12.6l-6.3 9.6z" fill="#858585"/>
<line x1="115.6" y1="2430.5" x2="174.4" y2="2430.5" stroke="#999" stroke-width="1.4"/>
<path d="M138.2 2430.5h12.6l-6.3 9.6z" fill="#858585"/>
<text x="106.5" y="2462.8" font-size="24" textLength="14.5" lengthAdjust="spacingAndGlyphs" font-style="italic">P</text>
<text x="124.3" y="2462.8" font-size="24" textLength="61.4" lengthAdjust="spacingAndGlyphs">&lt; .001</text>
<line x1="222.1" y1="2430.5" x2="281.5" y2="2430.5" stroke="#999" stroke-width="1.4"/>
<path d="M245.2 2430.5h12.6l-6.3 9.6z" fill="#858585"/>
<text x="220.5" y="2462.8" font-size="24" textLength="14.5" lengthAdjust="spacingAndGlyphs" font-style="italic">P</text>
<text x="239.5" y="2462.8" font-size="24" textLength="45" lengthAdjust="spacingAndGlyphs">= .03</text>
<line x1="328.9" y1="2430.5" x2="387.7" y2="2430.5" stroke="#999" stroke-width="1.4"/>
<path d="M351.8 2430.5h12.6l-6.3 9.6z" fill="#858585"/>
<text x="320.1" y="2462.8" font-size="24" textLength="14.5" lengthAdjust="spacingAndGlyphs" font-style="italic">P</text>
<text x="337.9" y="2462.8" font-size="24" textLength="61.4" lengthAdjust="spacingAndGlyphs">&lt; .001</text>
<text x="29.5" y="2345.1" font-size="25" text-anchor="middle" textLength="107.4" lengthAdjust="spacingAndGlyphs" transform="rotate(-90 29.5 2345.1)">Power, dB</text>
<rect x="5.5" y="2114.5" width="36" height="36" fill="#fff" stroke="#555" stroke-width="1"/>
<text x="23.5" y="2141" font-size="23" text-anchor="middle" textLength="14.6" lengthAdjust="spacingAndGlyphs" font-weight="bold" stroke="none">G</text>
<text x="55.8" y="2141.5" font-size="25.5" textLength="218.4" lengthAdjust="spacingAndGlyphs">Mean amplitude, βγ</text>
<line x1="565.7" y1="2201.6" x2="876.5" y2="2201.6" stroke="#cecece" stroke-width="1.7"/>
<line x1="565.7" y1="2297.3" x2="876.5" y2="2297.3" stroke="#cecece" stroke-width="1.7"/>
<line x1="565.7" y1="2392.9" x2="876.5" y2="2392.9" stroke="#cecece" stroke-width="1.7"/>
<line x1="589" y1="2314.2" x2="647.8" y2="2322.5" stroke="#2c4a59" stroke-width="5"/>
<line x1="695.5" y1="2386.6" x2="754.9" y2="2384" stroke="#1ca6e2" stroke-width="5"/>
<line x1="802.3" y1="2325.8" x2="861.1" y2="2301.9" stroke="#ee9a30" stroke-width="5"/>
<line x1="589" y1="2271" x2="647.8" y2="2276" stroke="#111" stroke-width="1.5"/>
<line x1="589" y1="2271.7" x2="647.8" y2="2291" stroke="#111" stroke-width="1.5"/>
<line x1="589" y1="2286" x2="647.8" y2="2292.6" stroke="#111" stroke-width="1.5"/>
<line x1="589" y1="2287.6" x2="647.8" y2="2299.9" stroke="#111" stroke-width="1.5"/>
<line x1="589" y1="2295.9" x2="647.8" y2="2299.3" stroke="#111" stroke-width="1.5"/>
<line x1="589" y1="2300.9" x2="647.8" y2="2314.2" stroke="#111" stroke-width="1.5"/>
<line x1="589" y1="2309.2" x2="647.8" y2="2319.2" stroke="#111" stroke-width="1.5"/>
<line x1="589" y1="2322.5" x2="647.8" y2="2327.5" stroke="#111" stroke-width="1.5"/>
<line x1="589" y1="2330.8" x2="647.8" y2="2335.8" stroke="#111" stroke-width="1.5"/>
<line x1="589" y1="2337.5" x2="647.8" y2="2337.5" stroke="#111" stroke-width="1.5"/>
<line x1="589" y1="2332.5" x2="647.8" y2="2347.4" stroke="#111" stroke-width="1.5"/>
<line x1="589" y1="2354.1" x2="647.8" y2="2340.8" stroke="#111" stroke-width="1.5"/>
<line x1="589" y1="2369" x2="647.8" y2="2358.4" stroke="#111" stroke-width="1.5"/>
<line x1="589" y1="2371.7" x2="647.8" y2="2372.3" stroke="#111" stroke-width="1.5"/>
<line x1="589" y1="2375.7" x2="647.8" y2="2395.6" stroke="#111" stroke-width="1.5"/>
<line x1="589" y1="2377.3" x2="647.8" y2="2415.5" stroke="#111" stroke-width="1.5"/>
<line x1="589" y1="2441.4" x2="647.8" y2="2450.4" stroke="#111" stroke-width="1.5"/>
<line x1="695.5" y1="2329.2" x2="754.9" y2="2358.4" stroke="#111" stroke-width="1.5"/>
<line x1="695.5" y1="2334.1" x2="754.9" y2="2362.4" stroke="#111" stroke-width="1.5"/>
<line x1="695.5" y1="2341.8" x2="754.9" y2="2368.4" stroke="#111" stroke-width="1.5"/>
<line x1="695.5" y1="2369" x2="754.9" y2="2400.6" stroke="#111" stroke-width="1.5"/>
<line x1="695.5" y1="2374" x2="754.9" y2="2402.2" stroke="#111" stroke-width="1.5"/>
<line x1="695.5" y1="2379" x2="754.9" y2="2403.9" stroke="#111" stroke-width="1.5"/>
<line x1="695.5" y1="2388.9" x2="754.9" y2="2405.6" stroke="#111" stroke-width="1.5"/>
<line x1="695.5" y1="2404.9" x2="754.9" y2="2403.9" stroke="#111" stroke-width="1.5"/>
<line x1="695.5" y1="2413.9" x2="754.9" y2="2402.2" stroke="#111" stroke-width="1.5"/>
<line x1="695.5" y1="2417.2" x2="754.9" y2="2416.2" stroke="#111" stroke-width="1.5"/>
<line x1="695.5" y1="2408.9" x2="754.9" y2="2408.9" stroke="#111" stroke-width="1.5"/>
<line x1="695.5" y1="2432.1" x2="754.9" y2="2402.2" stroke="#111" stroke-width="1.5"/>
<line x1="695.5" y1="2448.7" x2="754.9" y2="2342.4" stroke="#111" stroke-width="1.5"/>
<line x1="695.5" y1="2450.4" x2="754.9" y2="2417.2" stroke="#111" stroke-width="1.5"/>
<line x1="695.5" y1="2458.7" x2="754.9" y2="2410.5" stroke="#111" stroke-width="1.5"/>
<line x1="695.5" y1="2449.4" x2="754.9" y2="2402.2" stroke="#111" stroke-width="1.5"/>
<line x1="695.5" y1="2392.3" x2="754.9" y2="2398.9" stroke="#111" stroke-width="1.5"/>
<line x1="802.3" y1="2289.3" x2="861.1" y2="2254.4" stroke="#111" stroke-width="1.5"/>
<line x1="802.3" y1="2294.3" x2="861.1" y2="2266" stroke="#111" stroke-width="1.5"/>
<line x1="802.3" y1="2295.9" x2="861.1" y2="2271" stroke="#111" stroke-width="1.5"/>
<line x1="802.3" y1="2297.6" x2="861.1" y2="2276" stroke="#111" stroke-width="1.5"/>
<line x1="802.3" y1="2315.9" x2="861.1" y2="2277.7" stroke="#111" stroke-width="1.5"/>
<line x1="802.3" y1="2322.5" x2="861.1" y2="2292.6" stroke="#111" stroke-width="1.5"/>
<line x1="802.3" y1="2329.2" x2="861.1" y2="2302.6" stroke="#111" stroke-width="1.5"/>
<line x1="802.3" y1="2337.5" x2="861.1" y2="2313.2" stroke="#111" stroke-width="1.5"/>
<line x1="802.3" y1="2344.1" x2="861.1" y2="2319.2" stroke="#111" stroke-width="1.5"/>
<line x1="802.3" y1="2345.1" x2="861.1" y2="2329.2" stroke="#111" stroke-width="1.5"/>
<line x1="802.3" y1="2345.8" x2="861.1" y2="2330.8" stroke="#111" stroke-width="1.5"/>
<line x1="802.3" y1="2352.4" x2="861.1" y2="2322.5" stroke="#111" stroke-width="1.5"/>
<line x1="802.3" y1="2359.1" x2="861.1" y2="2347.4" stroke="#111" stroke-width="1.5"/>
<line x1="802.3" y1="2359.7" x2="861.1" y2="2337.5" stroke="#111" stroke-width="1.5"/>
<line x1="802.3" y1="2384" x2="861.1" y2="2340.8" stroke="#111" stroke-width="1.5"/>
<line x1="802.3" y1="2411.5" x2="861.1" y2="2387.3" stroke="#111" stroke-width="1.5"/>
<line x1="802.3" y1="2335.8" x2="861.1" y2="2305.9" stroke="#111" stroke-width="1.5"/>
<circle cx="589" cy="2314.2" r="9.2" fill="#2c4a59"/>
<circle cx="647.8" cy="2322.5" r="9.2" fill="#2c4a59"/>
<circle cx="695.5" cy="2386.6" r="9.2" fill="#1ca6e2"/>
<circle cx="754.9" cy="2384" r="9.2" fill="#1ca6e2"/>
<circle cx="802.3" cy="2325.8" r="9.2" fill="#ee9a30"/>
<circle cx="861.1" cy="2301.9" r="9.2" fill="#ee9a30"/>
<line x1="565.6" y1="2201" x2="565.6" y2="2489.2" stroke="#262626" stroke-width="1.3"/>
<line x1="565.1" y1="2488.6" x2="877.1" y2="2488.6" stroke="#262626" stroke-width="1.3"/>
<line x1="557.2" y1="2201.6" x2="565.7" y2="2201.6" stroke="#262626" stroke-width="1.3"/>
<text x="552.4" y="2209.4" font-size="24.5" text-anchor="end" textLength="27.6" lengthAdjust="spacingAndGlyphs">10</text>
<line x1="557.2" y1="2297.3" x2="565.7" y2="2297.3" stroke="#262626" stroke-width="1.3"/>
<text x="552.4" y="2305.1" font-size="24.5" text-anchor="end" textLength="12.4" lengthAdjust="spacingAndGlyphs">0</text>
<line x1="557.2" y1="2392.9" x2="565.7" y2="2392.9" stroke="#262626" stroke-width="1.3"/>
<text x="552.4" y="2400.7" font-size="24.5" text-anchor="end" textLength="38" lengthAdjust="spacingAndGlyphs">-10</text>
<line x1="557.2" y1="2488.6" x2="565.7" y2="2488.6" stroke="#262626" stroke-width="1.3"/>
<text x="552.4" y="2496.4" font-size="24.5" text-anchor="end" textLength="38" lengthAdjust="spacingAndGlyphs">-20</text>
<line x1="617.9" y1="2488.6" x2="617.9" y2="2497.2" stroke="#262626" stroke-width="1.3"/>
<text x="617.9" y="2522.2" font-size="24" text-anchor="middle" textLength="80.9" lengthAdjust="spacingAndGlyphs">Placebo</text>
<text x="617.9" y="2552" font-size="24" text-anchor="middle" textLength="31" lengthAdjust="spacingAndGlyphs">GA</text>
<line x1="724.9" y1="2488.6" x2="724.9" y2="2497.2" stroke="#262626" stroke-width="1.3"/>
<text x="724.9" y="2522.2" font-size="24" text-anchor="middle" textLength="97.9" lengthAdjust="spacingAndGlyphs">Ketamine</text>
<text x="724.9" y="2552" font-size="24" text-anchor="middle" textLength="45" lengthAdjust="spacingAndGlyphs">only</text>
<line x1="831.5" y1="2488.6" x2="831.5" y2="2497.2" stroke="#262626" stroke-width="1.3"/>
<text x="831.5" y="2522.2" font-size="24" text-anchor="middle" textLength="97.9" lengthAdjust="spacingAndGlyphs">Ketamine</text>
<text x="831.5" y="2552" font-size="24" text-anchor="middle" textLength="31" lengthAdjust="spacingAndGlyphs">GA</text>
<text x="588.5" y="2179.7" font-size="19" text-anchor="middle" textLength="42.3" lengthAdjust="spacingAndGlyphs">Start</text>
<text x="647.8" y="2179.7" font-size="19" text-anchor="middle" textLength="32.3" lengthAdjust="spacingAndGlyphs">End</text>
<path d="M582.7 2185.3h12.6l-6.3 9.6z" fill="#858585"/>
<path d="M641.5 2185.3h12.6l-6.3 9.6z" fill="#858585"/>
<text x="695" y="2179.7" font-size="19" text-anchor="middle" textLength="42.3" lengthAdjust="spacingAndGlyphs">Start</text>
<text x="754.9" y="2179.7" font-size="19" text-anchor="middle" textLength="32.3" lengthAdjust="spacingAndGlyphs">End</text>
<path d="M689.2 2185.3h12.6l-6.3 9.6z" fill="#858585"/>
<path d="M748.6 2185.3h12.6l-6.3 9.6z" fill="#858585"/>
<text x="801.8" y="2179.7" font-size="19" text-anchor="middle" textLength="42.3" lengthAdjust="spacingAndGlyphs">Start</text>
<text x="861.1" y="2179.7" font-size="19" text-anchor="middle" textLength="32.3" lengthAdjust="spacingAndGlyphs">End</text>
<path d="M796 2185.3h12.6l-6.3 9.6z" fill="#858585"/>
<path d="M854.8 2185.3h12.6l-6.3 9.6z" fill="#858585"/>
<line x1="589" y1="2245.5" x2="647.8" y2="2245.5" stroke="#999" stroke-width="1.4"/>
<path d="M611.6 2245.5h12.6l-6.3 -9.6z" fill="#858585"/>
<text x="580.4" y="2228" font-size="24" textLength="14.5" lengthAdjust="spacingAndGlyphs" font-style="italic">P</text>
<text x="598.2" y="2228" font-size="24" textLength="60.4" lengthAdjust="spacingAndGlyphs">= .007</text>
<line x1="695.5" y1="2245.5" x2="754.9" y2="2245.5" stroke="#999" stroke-width="1.4"/>
<path d="M718.6 2245.5h12.6l-6.3 -9.6z" fill="#858585"/>
<text x="693.9" y="2228" font-size="24" textLength="14.5" lengthAdjust="spacingAndGlyphs" font-style="italic">P</text>
<text x="712.9" y="2228" font-size="24" textLength="45" lengthAdjust="spacingAndGlyphs">= .81</text>
<line x1="802.3" y1="2245.5" x2="861.1" y2="2245.5" stroke="#999" stroke-width="1.4"/>
<path d="M825.2 2245.5h12.6l-6.3 -9.6z" fill="#858585"/>
<text x="793.5" y="2228" font-size="24" textLength="14.5" lengthAdjust="spacingAndGlyphs" font-style="italic">P</text>
<text x="811.3" y="2228" font-size="24" textLength="61.4" lengthAdjust="spacingAndGlyphs">&lt; .001</text>
<text x="505" y="2345.1" font-size="25" text-anchor="middle" textLength="107.4" lengthAdjust="spacingAndGlyphs" transform="rotate(-90 505 2345.1)">Power, dB</text>
<rect x="481" y="2114.5" width="36" height="36" fill="#fff" stroke="#555" stroke-width="1"/>
<text x="499" y="2141" font-size="23" text-anchor="middle" textLength="14.4" lengthAdjust="spacingAndGlyphs" font-weight="bold" stroke="none">H</text>
<text x="531.3" y="2141.5" font-size="25.5" textLength="218.4" lengthAdjust="spacingAndGlyphs">Mean amplitude, Lβ</text>
<line x1="1077.7" y1="2201.6" x2="1388.5" y2="2201.6" stroke="#cecece" stroke-width="1.7"/>
<line x1="1077.7" y1="2273.3" x2="1388.5" y2="2273.3" stroke="#cecece" stroke-width="1.7"/>
<line x1="1077.7" y1="2345.1" x2="1388.5" y2="2345.1" stroke="#cecece" stroke-width="1.7"/>
<line x1="1077.7" y1="2416.8" x2="1388.5" y2="2416.8" stroke="#cecece" stroke-width="1.7"/>
<line x1="1102.8" y1="2299.9" x2="1161.6" y2="2298.3" stroke="#2c4a59" stroke-width="5"/>
<line x1="1209.3" y1="2366.4" x2="1268.7" y2="2346.4" stroke="#1ca6e2" stroke-width="5"/>
<line x1="1316.1" y1="2300.3" x2="1374.9" y2="2309.9" stroke="#ee9a30" stroke-width="5"/>
<line x1="1102.8" y1="2262.7" x2="1161.6" y2="2261.1" stroke="#111" stroke-width="1.5"/>
<line x1="1102.8" y1="2281" x2="1161.6" y2="2291" stroke="#111" stroke-width="1.5"/>
<line x1="1102.8" y1="2289.3" x2="1161.6" y2="2297.6" stroke="#111" stroke-width="1.5"/>
<line x1="1102.8" y1="2291" x2="1161.6" y2="2265" stroke="#111" stroke-width="1.5"/>
<line x1="1102.8" y1="2293.3" x2="1161.6" y2="2286" stroke="#111" stroke-width="1.5"/>
<line x1="1102.8" y1="2295.3" x2="1161.6" y2="2293.3" stroke="#111" stroke-width="1.5"/>
<line x1="1102.8" y1="2302.6" x2="1161.6" y2="2281" stroke="#111" stroke-width="1.5"/>
<line x1="1102.8" y1="2309.2" x2="1161.6" y2="2305.9" stroke="#111" stroke-width="1.5"/>
<line x1="1102.8" y1="2325.2" x2="1161.6" y2="2321.5" stroke="#111" stroke-width="1.5"/>
<line x1="1102.8" y1="2334.1" x2="1161.6" y2="2324.2" stroke="#111" stroke-width="1.5"/>
<line x1="1102.8" y1="2336.5" x2="1161.6" y2="2335.1" stroke="#111" stroke-width="1.5"/>
<line x1="1102.8" y1="2338.5" x2="1161.6" y2="2336.5" stroke="#111" stroke-width="1.5"/>
<line x1="1102.8" y1="2339.1" x2="1161.6" y2="2355.7" stroke="#111" stroke-width="1.5"/>
<line x1="1102.8" y1="2367.4" x2="1161.6" y2="2374.3" stroke="#111" stroke-width="1.5"/>
<line x1="1102.8" y1="2388" x2="1161.6" y2="2393.9" stroke="#111" stroke-width="1.5"/>
<line x1="1209.3" y1="2330.8" x2="1268.7" y2="2334.1" stroke="#111" stroke-width="1.5"/>
<line x1="1209.3" y1="2333.1" x2="1268.7" y2="2322.5" stroke="#111" stroke-width="1.5"/>
<line x1="1209.3" y1="2342.4" x2="1268.7" y2="2347.4" stroke="#111" stroke-width="1.5"/>
<line x1="1209.3" y1="2349.1" x2="1268.7" y2="2352.4" stroke="#111" stroke-width="1.5"/>
<line x1="1209.3" y1="2359.1" x2="1268.7" y2="2344.1" stroke="#111" stroke-width="1.5"/>
<line x1="1209.3" y1="2375.7" x2="1268.7" y2="2377.3" stroke="#111" stroke-width="1.5"/>
<line x1="1209.3" y1="2382.3" x2="1268.7" y2="2374" stroke="#111" stroke-width="1.5"/>
<line x1="1209.3" y1="2390.6" x2="1268.7" y2="2379" stroke="#111" stroke-width="1.5"/>
<line x1="1209.3" y1="2391.6" x2="1268.7" y2="2375.7" stroke="#111" stroke-width="1.5"/>
<line x1="1209.3" y1="2375.7" x2="1268.7" y2="2398.9" stroke="#111" stroke-width="1.5"/>
<line x1="1209.3" y1="2403.9" x2="1268.7" y2="2382.3" stroke="#111" stroke-width="1.5"/>
<line x1="1209.3" y1="2413.9" x2="1268.7" y2="2322.5" stroke="#111" stroke-width="1.5"/>
<line x1="1209.3" y1="2420.5" x2="1268.7" y2="2324.2" stroke="#111" stroke-width="1.5"/>
<line x1="1209.3" y1="2352.4" x2="1268.7" y2="2345.8" stroke="#111" stroke-width="1.5"/>
<line x1="1316.1" y1="2274.3" x2="1374.9" y2="2289.3" stroke="#111" stroke-width="1.5"/>
<line x1="1316.1" y1="2286" x2="1374.9" y2="2286" stroke="#111" stroke-width="1.5"/>
<line x1="1316.1" y1="2287.6" x2="1374.9" y2="2292.6" stroke="#111" stroke-width="1.5"/>
<line x1="1316.1" y1="2289.3" x2="1374.9" y2="2297.6" stroke="#111" stroke-width="1.5"/>
<line x1="1316.1" y1="2291" x2="1374.9" y2="2299.3" stroke="#111" stroke-width="1.5"/>
<line x1="1316.1" y1="2294.3" x2="1374.9" y2="2305.9" stroke="#111" stroke-width="1.5"/>
<line x1="1316.1" y1="2302.6" x2="1374.9" y2="2307.6" stroke="#111" stroke-width="1.5"/>
<line x1="1316.1" y1="2305.9" x2="1374.9" y2="2317.5" stroke="#111" stroke-width="1.5"/>
<line x1="1316.1" y1="2310.9" x2="1374.9" y2="2309.2" stroke="#111" stroke-width="1.5"/>
<line x1="1316.1" y1="2325.8" x2="1374.9" y2="2335.8" stroke="#111" stroke-width="1.5"/>
<line x1="1316.1" y1="2326.5" x2="1374.9" y2="2345.8" stroke="#111" stroke-width="1.5"/>
<line x1="1316.1" y1="2327.5" x2="1374.9" y2="2357.4" stroke="#111" stroke-width="1.5"/>
<line x1="1316.1" y1="2329.2" x2="1374.9" y2="2340.8" stroke="#111" stroke-width="1.5"/>
<line x1="1316.1" y1="2340.8" x2="1374.9" y2="2339.1" stroke="#111" stroke-width="1.5"/>
<line x1="1316.1" y1="2344.1" x2="1374.9" y2="2359.7" stroke="#111" stroke-width="1.5"/>
<line x1="1316.1" y1="2342.4" x2="1374.9" y2="2344.1" stroke="#111" stroke-width="1.5"/>
<circle cx="1102.8" cy="2299.9" r="9.2" fill="#2c4a59"/>
<circle cx="1161.6" cy="2298.3" r="9.2" fill="#2c4a59"/>
<circle cx="1209.3" cy="2366.4" r="9.2" fill="#1ca6e2"/>
<circle cx="1268.7" cy="2346.4" r="9.2" fill="#1ca6e2"/>
<circle cx="1316.1" cy="2300.3" r="9.2" fill="#ee9a30"/>
<circle cx="1374.9" cy="2309.9" r="9.2" fill="#ee9a30"/>
<line x1="1077.6" y1="2201" x2="1077.6" y2="2489.2" stroke="#262626" stroke-width="1.3"/>
<line x1="1077" y1="2488.6" x2="1389.2" y2="2488.6" stroke="#262626" stroke-width="1.3"/>
<line x1="1069.2" y1="2201.6" x2="1077.7" y2="2201.6" stroke="#262626" stroke-width="1.3"/>
<text x="1064.4" y="2209.4" font-size="24.5" text-anchor="end" textLength="27.6" lengthAdjust="spacingAndGlyphs">20</text>
<line x1="1069.2" y1="2273.3" x2="1077.7" y2="2273.3" stroke="#262626" stroke-width="1.3"/>
<text x="1064.4" y="2281.2" font-size="24.5" text-anchor="end" textLength="27.6" lengthAdjust="spacingAndGlyphs">10</text>
<line x1="1069.2" y1="2345.1" x2="1077.7" y2="2345.1" stroke="#262626" stroke-width="1.3"/>
<text x="1064.4" y="2352.9" font-size="24.5" text-anchor="end" textLength="12.4" lengthAdjust="spacingAndGlyphs">0</text>
<line x1="1069.2" y1="2416.8" x2="1077.7" y2="2416.8" stroke="#262626" stroke-width="1.3"/>
<text x="1064.4" y="2424.7" font-size="24.5" text-anchor="end" textLength="38" lengthAdjust="spacingAndGlyphs">-10</text>
<line x1="1069.2" y1="2488.6" x2="1077.7" y2="2488.6" stroke="#262626" stroke-width="1.3"/>
<text x="1064.4" y="2496.4" font-size="24.5" text-anchor="end" textLength="38" lengthAdjust="spacingAndGlyphs">-20</text>
<line x1="1131.7" y1="2488.6" x2="1131.7" y2="2497.2" stroke="#262626" stroke-width="1.3"/>
<text x="1131.7" y="2522.2" font-size="24" text-anchor="middle" textLength="80.9" lengthAdjust="spacingAndGlyphs">Placebo</text>
<text x="1131.7" y="2552" font-size="24" text-anchor="middle" textLength="31" lengthAdjust="spacingAndGlyphs">GA</text>
<line x1="1238.7" y1="2488.6" x2="1238.7" y2="2497.2" stroke="#262626" stroke-width="1.3"/>
<text x="1238.7" y="2522.2" font-size="24" text-anchor="middle" textLength="97.9" lengthAdjust="spacingAndGlyphs">Ketamine</text>
<text x="1238.7" y="2552" font-size="24" text-anchor="middle" textLength="45" lengthAdjust="spacingAndGlyphs">only</text>
<line x1="1345.3" y1="2488.6" x2="1345.3" y2="2497.2" stroke="#262626" stroke-width="1.3"/>
<text x="1345.3" y="2522.2" font-size="24" text-anchor="middle" textLength="97.9" lengthAdjust="spacingAndGlyphs">Ketamine</text>
<text x="1345.3" y="2552" font-size="24" text-anchor="middle" textLength="31" lengthAdjust="spacingAndGlyphs">GA</text>
<text x="1102.3" y="2179.7" font-size="19" text-anchor="middle" textLength="42.3" lengthAdjust="spacingAndGlyphs">Start</text>
<text x="1161.6" y="2179.7" font-size="19" text-anchor="middle" textLength="32.3" lengthAdjust="spacingAndGlyphs">End</text>
<path d="M1096.5 2185.3h12.6l-6.3 9.6z" fill="#858585"/>
<path d="M1155.3 2185.3h12.6l-6.3 9.6z" fill="#858585"/>
<text x="1208.8" y="2179.7" font-size="19" text-anchor="middle" textLength="42.3" lengthAdjust="spacingAndGlyphs">Start</text>
<text x="1268.7" y="2179.7" font-size="19" text-anchor="middle" textLength="32.3" lengthAdjust="spacingAndGlyphs">End</text>
<path d="M1203 2185.3h12.6l-6.3 9.6z" fill="#858585"/>
<path d="M1262.4 2185.3h12.6l-6.3 9.6z" fill="#858585"/>
<text x="1315.6" y="2179.7" font-size="19" text-anchor="middle" textLength="42.3" lengthAdjust="spacingAndGlyphs">Start</text>
<text x="1374.9" y="2179.7" font-size="19" text-anchor="middle" textLength="32.3" lengthAdjust="spacingAndGlyphs">End</text>
<path d="M1309.8 2185.3h12.6l-6.3 9.6z" fill="#858585"/>
<path d="M1368.6 2185.3h12.6l-6.3 9.6z" fill="#858585"/>
<line x1="1102.8" y1="2245.5" x2="1161.6" y2="2245.5" stroke="#999" stroke-width="1.4"/>
<path d="M1125.4 2245.5h12.6l-6.3 -9.6z" fill="#858585"/>
<text x="1100.7" y="2228" font-size="24" textLength="14.5" lengthAdjust="spacingAndGlyphs" font-style="italic">P</text>
<text x="1119.7" y="2228" font-size="24" textLength="45" lengthAdjust="spacingAndGlyphs">= .29</text>
<line x1="1209.3" y1="2245.5" x2="1268.7" y2="2245.5" stroke="#999" stroke-width="1.4"/>
<path d="M1232.4 2245.5h12.6l-6.3 -9.6z" fill="#858585"/>
<text x="1207.7" y="2228" font-size="24" textLength="14.5" lengthAdjust="spacingAndGlyphs" font-style="italic">P</text>
<text x="1226.7" y="2228" font-size="24" textLength="45" lengthAdjust="spacingAndGlyphs">= .02</text>
<line x1="1316.1" y1="2245.5" x2="1374.9" y2="2245.5" stroke="#999" stroke-width="1.4"/>
<path d="M1339 2245.5h12.6l-6.3 -9.6z" fill="#858585"/>
<text x="1307.8" y="2228" font-size="24" textLength="14.5" lengthAdjust="spacingAndGlyphs" font-style="italic">P</text>
<text x="1325.6" y="2228" font-size="24" textLength="60.4" lengthAdjust="spacingAndGlyphs">= .003</text>
<text x="1008.5" y="2345.1" font-size="25" text-anchor="middle" textLength="107.4" lengthAdjust="spacingAndGlyphs" transform="rotate(-90 1008.5 2345.1)">Power, dB</text>
<rect x="984.5" y="2114.5" width="36" height="36" fill="#fff" stroke="#555" stroke-width="1"/>
<text x="1002.5" y="2141" font-size="23" text-anchor="middle" textLength="4.6" lengthAdjust="spacingAndGlyphs" font-weight="bold" stroke="none">I</text>
<text x="1034.8" y="2141.5" font-size="25.5" textLength="206.4" lengthAdjust="spacingAndGlyphs">Mean amplitude, θ</text>
</svg>
</body></html>
